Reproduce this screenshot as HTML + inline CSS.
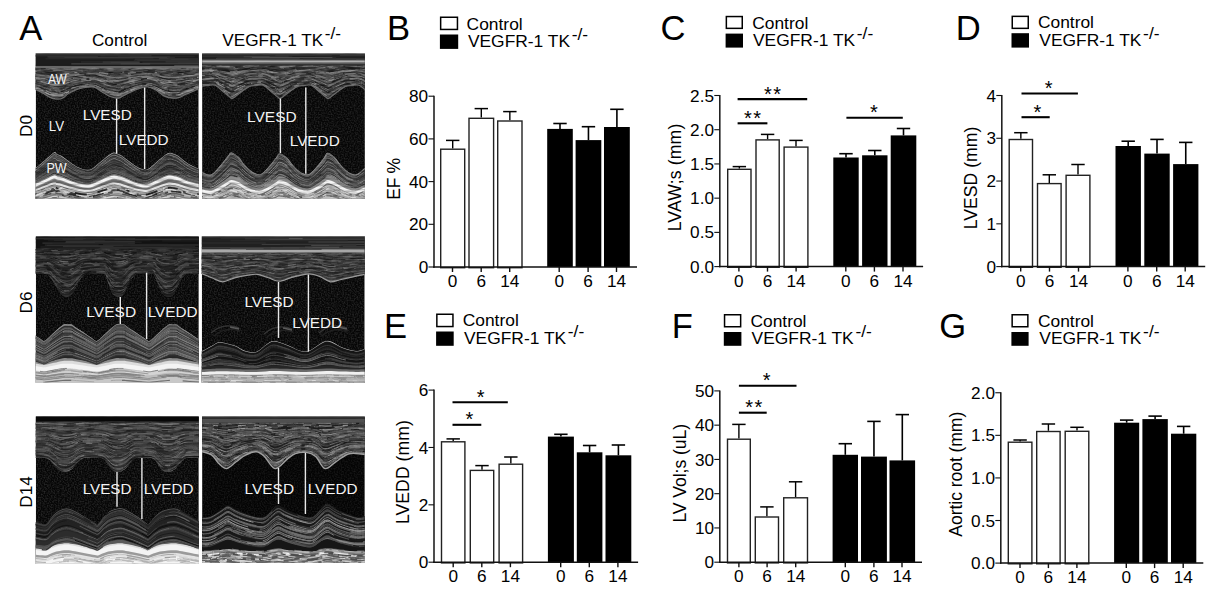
<!DOCTYPE html>
<html><head><meta charset="utf-8"><style>
html,body{margin:0;padding:0;background:#fff;overflow:hidden}
svg{display:block}
text{font-family:"Liberation Sans", sans-serif}
.thin text{stroke:none}
</style></head><body>
<svg width="1224" height="596" viewBox="0 0 1224 596" font-family='"Liberation Sans", sans-serif'>
<rect width="1224" height="596" fill="#fff"/>
<defs><filter id="speck" x="0" y="0" width="100%" height="100%"><feTurbulence type="fractalNoise" baseFrequency="0.7" numOctaves="1" seed="3"/><feColorMatrix type="matrix" values="0 0 0 0 0.3  0 0 0 0 0.3  0 0 0 0 0.3  2.4 0 0 0 -0.9"/></filter>
<filter id="streakD" x="0" y="0" width="100%" height="100%"><feTurbulence type="fractalNoise" baseFrequency="0.07 0.5" numOctaves="2" seed="7"/><feColorMatrix type="matrix" values="0 0 0 0 0  0 0 0 0 0  0 0 0 0 0  3 0 0 0 -1.3"/></filter>
<filter id="streakL" x="0" y="0" width="100%" height="100%"><feTurbulence type="fractalNoise" baseFrequency="0.07 0.5" numOctaves="2" seed="11"/><feColorMatrix type="matrix" values="0 0 0 0 1  0 0 0 0 1  0 0 0 0 1  0 3 0 0 -1.4"/></filter>
<clipPath id="c0"><rect x="35.7" y="53.3" width="163.00" height="145.30"/></clipPath>
<path id="a0" d="M31.7,89.8C32.4,89.8 33.8,89.2 35.7,89.8C37.7,90.4 40.7,92.1 43.4,93.5C46.1,94.9 49,97.3 51.8,98.2C54.6,99.1 58.1,99.2 60.2,99C62.3,98.8 63,97.8 64.4,96.9C65.8,96 66.4,94.7 68.5,93.5C70.6,92.3 74.1,90.5 76.9,89.5C79.7,88.5 83,87.8 85.3,87.3C87.6,86.8 89.3,86.8 91,86.8C92.7,86.8 93.7,86.8 95.5,87.6C97.3,88.4 99.7,90.4 102.1,91.9C104.5,93.4 107.3,95.5 110,96.5C112.7,97.5 116.3,98.3 118.4,98.2C120.5,98.1 120.5,97.1 122.6,96.1C124.7,95 128.2,93.2 131,91.9C133.8,90.6 136.6,89.3 139.4,88.5C142.2,87.7 145,86.5 147.8,86.8C150.6,87.1 153.3,88.7 156.1,90.2C158.9,91.8 161.7,94.8 164.5,96.1C167.3,97.4 170.4,98 172.9,98.2C175.4,98.4 177.5,97.9 179.6,97.3C181.7,96.7 183.1,95.5 185.5,94.4C187.9,93.4 191.7,92 193.9,91C196.1,90 197.2,89.1 198.7,88.7C200.2,88.3 202,88.7 202.7,88.7" vector-effect="non-scaling-stroke"/>
<path id="p0" d="M31.7,167.6C32.4,167.6 33.6,168.8 35.7,167.6C37.8,166.4 41.2,163.2 44.2,160.7C47.2,158.2 51.8,153.5 53.9,152.4C56,151.3 55.8,153.6 57.1,154.2C58.4,154.8 59.3,154.5 61.8,156.1C64.3,157.7 68.7,161.4 71.9,163.5C75.1,165.6 78,167.5 81.1,168.5C84.2,169.5 87.3,170.4 90.4,169.4C93.5,168.4 96.5,164.9 99.6,162.5C102.7,160.1 106.4,156.8 108.8,155.1C111.2,153.4 112.4,152.8 113.9,152.6C115.4,152.4 116.7,153.5 118,154C119.3,154.5 119.2,154 121.5,155.5C123.8,157 128.3,160.8 131.5,163C134.7,165.2 137.8,167.5 140.5,168.5C143.2,169.5 144.8,170.3 147.5,169.2C150.2,168.1 153.6,164.4 156.5,162C159.4,159.6 162.8,156.5 165,155C167.2,153.5 168.3,153 169.8,152.8C171.3,152.6 172.6,153.5 174,154C175.4,154.5 175.7,154.2 178,155.8C180.3,157.4 184.6,161.4 188,163.5C191.4,165.6 196.2,167.7 198.7,168.5C201.1,169.3 202,168.5 202.7,168.5" vector-effect="non-scaling-stroke"/>
<path id="af0" d="M202.7,-2907.1 L31.7,-2907.1 L31.7,89.8C32.4,89.8 33.8,89.2 35.7,89.8C37.7,90.4 40.7,92.1 43.4,93.5C46.1,94.9 49,97.3 51.8,98.2C54.6,99.1 58.1,99.2 60.2,99C62.3,98.8 63,97.8 64.4,96.9C65.8,96 66.4,94.7 68.5,93.5C70.6,92.3 74.1,90.5 76.9,89.5C79.7,88.5 83,87.8 85.3,87.3C87.6,86.8 89.3,86.8 91,86.8C92.7,86.8 93.7,86.8 95.5,87.6C97.3,88.4 99.7,90.4 102.1,91.9C104.5,93.4 107.3,95.5 110,96.5C112.7,97.5 116.3,98.3 118.4,98.2C120.5,98.1 120.5,97.1 122.6,96.1C124.7,95 128.2,93.2 131,91.9C133.8,90.6 136.6,89.3 139.4,88.5C142.2,87.7 145,86.5 147.8,86.8C150.6,87.1 153.3,88.7 156.1,90.2C158.9,91.8 161.7,94.8 164.5,96.1C167.3,97.4 170.4,98 172.9,98.2C175.4,98.4 177.5,97.9 179.6,97.3C181.7,96.7 183.1,95.5 185.5,94.4C187.9,93.4 191.7,92 193.9,91C196.1,90 197.2,89.1 198.7,88.7C200.2,88.3 202,88.7 202.7,88.7Z"/>
<path id="pf0" d="M31.7,167.6C32.4,167.6 33.6,168.8 35.7,167.6C37.8,166.4 41.2,163.2 44.2,160.7C47.2,158.2 51.8,153.5 53.9,152.4C56,151.3 55.8,153.6 57.1,154.2C58.4,154.8 59.3,154.5 61.8,156.1C64.3,157.7 68.7,161.4 71.9,163.5C75.1,165.6 78,167.5 81.1,168.5C84.2,169.5 87.3,170.4 90.4,169.4C93.5,168.4 96.5,164.9 99.6,162.5C102.7,160.1 106.4,156.8 108.8,155.1C111.2,153.4 112.4,152.8 113.9,152.6C115.4,152.4 116.7,153.5 118,154C119.3,154.5 119.2,154 121.5,155.5C123.8,157 128.3,160.8 131.5,163C134.7,165.2 137.8,167.5 140.5,168.5C143.2,169.5 144.8,170.3 147.5,169.2C150.2,168.1 153.6,164.4 156.5,162C159.4,159.6 162.8,156.5 165,155C167.2,153.5 168.3,153 169.8,152.8C171.3,152.6 172.6,153.5 174,154C175.4,154.5 175.7,154.2 178,155.8C180.3,157.4 184.6,161.4 188,163.5C191.4,165.6 196.2,167.7 198.7,168.5C201.1,169.3 202,168.5 202.7,168.5 L202.7,3160.9 L31.7,3160.9Z"/>
<clipPath id="c0aw"><use href="#af0"/></clipPath>
<clipPath id="c0pw"><use href="#pf0"/></clipPath>
<clipPath id="c1"><rect x="202.1" y="53.4" width="162.80" height="145.20"/></clipPath>
<path id="a1" d="M182.6,97.8C182.8,97.9 183.6,98.6 184.1,98.6C184.6,98.6 184.2,98.8 185.6,97.8C187,96.8 189.9,94.3 192.6,92.4C195.3,90.5 199,87.5 201.6,86.4C204.2,85.3 205.8,85.8 208.1,85.6C210.3,85.4 212.5,84.2 215.1,85.3C217.7,86.4 221,89.9 223.6,92C226.2,94.1 229.2,96.7 230.6,97.8C232,98.9 231.6,98.6 232.1,98.6C232.6,98.6 232.2,98.8 233.6,97.8C235,96.8 237.9,94.3 240.6,92.4C243.3,90.5 247,87.5 249.6,86.4C252.2,85.3 253.9,85.8 256.1,85.6C258.4,85.4 260.5,84.2 263.1,85.3C265.7,86.4 269,89.9 271.6,92C274.2,94.1 277.2,96.7 278.6,97.8C280,98.9 279.6,98.6 280.1,98.6C280.6,98.6 280.2,98.8 281.6,97.8C283,96.8 285.9,94.3 288.6,92.4C291.3,90.5 295,87.5 297.6,86.4C300.2,85.3 301.9,85.8 304.1,85.6C306.4,85.4 308.5,84.2 311.1,85.3C313.7,86.4 317,89.9 319.6,92C322.2,94.1 325.2,96.7 326.6,97.8C328,98.9 327.6,98.6 328.1,98.6C328.6,98.6 328.2,98.8 329.6,97.8C331,96.8 333.9,94.3 336.6,92.4C339.3,90.5 343,87.5 345.6,86.4C348.2,85.3 349.9,85.8 352.1,85.6C354.4,85.4 356.5,84.2 359.1,85.3C361.7,86.4 365,89.9 367.6,92C370.2,94.1 373.2,96.7 374.6,97.8C376,98.9 375.6,98.6 376.1,98.6C376.6,98.6 376.2,98.8 377.6,97.8C379,96.8 383.4,93.3 384.6,92.4" vector-effect="non-scaling-stroke"/>
<path id="p1" d="M198.1,172.2C198.8,172.2 199.9,171.8 202.1,172.2C204.3,172.6 208.1,175.7 211.2,174.5C214.3,173.3 217.7,168.4 220.5,165.3C223.3,162.2 226,158.2 227.8,156.1C229.6,153.9 229.7,152.2 231.5,152.4C233.3,152.6 236.9,155.2 238.9,157C240.9,158.8 241.5,161.2 243.5,163.5C245.5,165.8 248.6,169 250.9,170.8C253.2,172.6 255.5,173.6 257.4,174.1C259.2,174.6 260.2,174.8 262,173.6C263.8,172.4 266.1,169.7 268.4,167.1C270.7,164.5 273.9,160.2 275.8,157.9C277.7,155.6 277.6,153.3 279.5,153.2C281.4,153.1 284.9,155.7 287,157.5C289.1,159.3 290,161.8 292,164C294,166.2 296.8,169.3 299,171C301.2,172.7 303.7,173.9 305.5,174.3C307.3,174.7 308.2,174.8 310,173.6C311.8,172.4 314.1,169.7 316.4,167.1C318.7,164.5 321.9,160.3 323.8,157.9C325.7,155.5 325.8,152.9 327.7,152.8C329.6,152.7 332.9,155.6 335,157.5C337.1,159.4 338,161.8 340,164C342,166.2 344.8,169.3 347,171C349.2,172.7 351.7,173.9 353.5,174.3C355.3,174.7 356.1,174.7 358,173.6C359.9,172.5 363.1,168.9 364.9,168C366.7,167.1 368.2,168 368.9,168" vector-effect="non-scaling-stroke"/>
<path id="af1" d="M368.9,-2908.1 L198.1,-2908.1 L182.6,97.8C182.8,97.9 183.6,98.6 184.1,98.6C184.6,98.6 184.2,98.8 185.6,97.8C187,96.8 189.9,94.3 192.6,92.4C195.3,90.5 199,87.5 201.6,86.4C204.2,85.3 205.8,85.8 208.1,85.6C210.3,85.4 212.5,84.2 215.1,85.3C217.7,86.4 221,89.9 223.6,92C226.2,94.1 229.2,96.7 230.6,97.8C232,98.9 231.6,98.6 232.1,98.6C232.6,98.6 232.2,98.8 233.6,97.8C235,96.8 237.9,94.3 240.6,92.4C243.3,90.5 247,87.5 249.6,86.4C252.2,85.3 253.9,85.8 256.1,85.6C258.4,85.4 260.5,84.2 263.1,85.3C265.7,86.4 269,89.9 271.6,92C274.2,94.1 277.2,96.7 278.6,97.8C280,98.9 279.6,98.6 280.1,98.6C280.6,98.6 280.2,98.8 281.6,97.8C283,96.8 285.9,94.3 288.6,92.4C291.3,90.5 295,87.5 297.6,86.4C300.2,85.3 301.9,85.8 304.1,85.6C306.4,85.4 308.5,84.2 311.1,85.3C313.7,86.4 317,89.9 319.6,92C322.2,94.1 325.2,96.7 326.6,97.8C328,98.9 327.6,98.6 328.1,98.6C328.6,98.6 328.2,98.8 329.6,97.8C331,96.8 333.9,94.3 336.6,92.4C339.3,90.5 343,87.5 345.6,86.4C348.2,85.3 349.9,85.8 352.1,85.6C354.4,85.4 356.5,84.2 359.1,85.3C361.7,86.4 365,89.9 367.6,92C370.2,94.1 373.2,96.7 374.6,97.8C376,98.9 375.6,98.6 376.1,98.6C376.6,98.6 376.2,98.8 377.6,97.8C379,96.8 383.4,93.3 384.6,92.4Z"/>
<path id="pf1" d="M198.1,172.2C198.8,172.2 199.9,171.8 202.1,172.2C204.3,172.6 208.1,175.7 211.2,174.5C214.3,173.3 217.7,168.4 220.5,165.3C223.3,162.2 226,158.2 227.8,156.1C229.6,153.9 229.7,152.2 231.5,152.4C233.3,152.6 236.9,155.2 238.9,157C240.9,158.8 241.5,161.2 243.5,163.5C245.5,165.8 248.6,169 250.9,170.8C253.2,172.6 255.5,173.6 257.4,174.1C259.2,174.6 260.2,174.8 262,173.6C263.8,172.4 266.1,169.7 268.4,167.1C270.7,164.5 273.9,160.2 275.8,157.9C277.7,155.6 277.6,153.3 279.5,153.2C281.4,153.1 284.9,155.7 287,157.5C289.1,159.3 290,161.8 292,164C294,166.2 296.8,169.3 299,171C301.2,172.7 303.7,173.9 305.5,174.3C307.3,174.7 308.2,174.8 310,173.6C311.8,172.4 314.1,169.7 316.4,167.1C318.7,164.5 321.9,160.3 323.8,157.9C325.7,155.5 325.8,152.9 327.7,152.8C329.6,152.7 332.9,155.6 335,157.5C337.1,159.4 338,161.8 340,164C342,166.2 344.8,169.3 347,171C349.2,172.7 351.7,173.9 353.5,174.3C355.3,174.7 356.1,174.7 358,173.6C359.9,172.5 363.1,168.9 364.9,168C366.7,167.1 368.2,168 368.9,168 L368.9,3163.4 L198.1,3163.4Z"/>
<clipPath id="c1aw"><use href="#af1"/></clipPath>
<clipPath id="c1pw"><use href="#pf1"/></clipPath>
<clipPath id="c2"><rect x="35.8" y="236.5" width="163.00" height="146.10"/></clipPath>
<path id="a2" d="M31.8,273.8C32.5,273.8 33.8,273.8 35.8,273.8C37.8,273.8 41.6,273.3 44,273.8C46.4,274.3 48.2,275.1 50,277C51.8,278.9 53.3,282.3 55,285C56.7,287.7 58.5,291.1 60,293C61.5,294.9 62.7,295.9 64,296.5C65.3,297.1 66.7,297.2 68,296.8C69.3,296.4 70.5,295.8 72,294C73.5,292.2 75.3,288.8 77,286C78.7,283.2 80.2,279 82,277C83.8,275 84.3,274.3 88,273.8C91.7,273.3 101,273.3 104,273.8C107,274.3 105.2,275.1 106,277C106.8,278.9 108,282.3 109,285C110,287.7 110.8,291.1 112,293C113.2,294.9 114.7,295.9 116,296.5C117.3,297.1 118.7,297.2 120,296.8C121.3,296.4 122.7,295.8 124,294C125.3,292.2 126.5,288.8 128,286C129.5,283.2 131.3,279 133,277C134.7,275 134.8,274.3 138,273.8C141.2,273.3 149.2,273.3 152,273.8C154.8,274.3 154,275.1 155,277C156,278.9 156.8,282.3 158,285C159.2,287.7 160.7,291.1 162,293C163.3,294.9 164.7,295.9 166,296.5C167.3,297.1 168.7,297.2 170,296.8C171.3,296.4 172.7,295.8 174,294C175.3,292.2 176.5,288.8 178,286C179.5,283.2 181.3,279 183,277C184.7,275 185.4,274.3 188,273.8C190.6,273.3 196.3,273.8 198.8,273.8C201.3,273.8 202.1,273.8 202.8,273.8" vector-effect="non-scaling-stroke"/>
<path id="p2" d="M31.8,333.5C31.9,333.5 30.7,332.3 32.5,333.5C34.3,334.7 40.7,339.2 42.7,340.5C44.7,341.8 43.6,341.1 44.3,341C44.9,340.9 45,341 46.6,339.6C48.2,338.2 51.3,334.9 54,332.5C56.7,330.1 60.6,326.4 62.8,325C65,323.6 65.9,324.3 67.4,324.2C68.9,324.1 70.8,324.2 72,324.6C73.2,325 72.2,325.1 74.4,326.6C76.6,328.1 81.5,331.2 85,333.5C88.5,335.8 93.2,339.2 95.2,340.5C97.2,341.8 96.2,341.1 96.8,341C97.4,340.9 97.5,341 99.1,339.6C100.7,338.2 103.8,334.9 106.5,332.5C109.2,330.1 113.1,326.4 115.3,325C117.5,323.6 118.4,324.3 119.9,324.2C121.4,324.1 123.3,324.2 124.5,324.6C125.7,325 124.7,325.1 126.9,326.6C129.1,328.1 134,331.2 137.5,333.5C141,335.8 145.7,339.2 147.7,340.5C149.7,341.8 148.7,341.1 149.3,341C150,340.9 150,341 151.6,339.6C153.2,338.2 156.3,334.9 159,332.5C161.7,330.1 165.6,326.4 167.8,325C170,323.6 170.9,324.3 172.4,324.2C173.9,324.1 175.8,324.2 177,324.6C178.2,325 177.2,325.1 179.4,326.6C181.6,328.1 186.5,331.2 190,333.5C193.5,335.8 198.2,339.2 200.2,340.5C202.2,341.8 201.2,341.1 201.8,341C202.5,340.9 203.7,339.8 204.1,339.6" vector-effect="non-scaling-stroke"/>
<path id="af2" d="M202.8,-2714.7 L31.8,-2714.7 L31.8,273.8C32.5,273.8 33.8,273.8 35.8,273.8C37.8,273.8 41.6,273.3 44,273.8C46.4,274.3 48.2,275.1 50,277C51.8,278.9 53.3,282.3 55,285C56.7,287.7 58.5,291.1 60,293C61.5,294.9 62.7,295.9 64,296.5C65.3,297.1 66.7,297.2 68,296.8C69.3,296.4 70.5,295.8 72,294C73.5,292.2 75.3,288.8 77,286C78.7,283.2 80.2,279 82,277C83.8,275 84.3,274.3 88,273.8C91.7,273.3 101,273.3 104,273.8C107,274.3 105.2,275.1 106,277C106.8,278.9 108,282.3 109,285C110,287.7 110.8,291.1 112,293C113.2,294.9 114.7,295.9 116,296.5C117.3,297.1 118.7,297.2 120,296.8C121.3,296.4 122.7,295.8 124,294C125.3,292.2 126.5,288.8 128,286C129.5,283.2 131.3,279 133,277C134.7,275 134.8,274.3 138,273.8C141.2,273.3 149.2,273.3 152,273.8C154.8,274.3 154,275.1 155,277C156,278.9 156.8,282.3 158,285C159.2,287.7 160.7,291.1 162,293C163.3,294.9 164.7,295.9 166,296.5C167.3,297.1 168.7,297.2 170,296.8C171.3,296.4 172.7,295.8 174,294C175.3,292.2 176.5,288.8 178,286C179.5,283.2 181.3,279 183,277C184.7,275 185.4,274.3 188,273.8C190.6,273.3 196.3,273.8 198.8,273.8C201.3,273.8 202.1,273.8 202.8,273.8Z"/>
<path id="pf2" d="M31.8,333.5C31.9,333.5 30.7,332.3 32.5,333.5C34.3,334.7 40.7,339.2 42.7,340.5C44.7,341.8 43.6,341.1 44.3,341C44.9,340.9 45,341 46.6,339.6C48.2,338.2 51.3,334.9 54,332.5C56.7,330.1 60.6,326.4 62.8,325C65,323.6 65.9,324.3 67.4,324.2C68.9,324.1 70.8,324.2 72,324.6C73.2,325 72.2,325.1 74.4,326.6C76.6,328.1 81.5,331.2 85,333.5C88.5,335.8 93.2,339.2 95.2,340.5C97.2,341.8 96.2,341.1 96.8,341C97.4,340.9 97.5,341 99.1,339.6C100.7,338.2 103.8,334.9 106.5,332.5C109.2,330.1 113.1,326.4 115.3,325C117.5,323.6 118.4,324.3 119.9,324.2C121.4,324.1 123.3,324.2 124.5,324.6C125.7,325 124.7,325.1 126.9,326.6C129.1,328.1 134,331.2 137.5,333.5C141,335.8 145.7,339.2 147.7,340.5C149.7,341.8 148.7,341.1 149.3,341C150,340.9 150,341 151.6,339.6C153.2,338.2 156.3,334.9 159,332.5C161.7,330.1 165.6,326.4 167.8,325C170,323.6 170.9,324.3 172.4,324.2C173.9,324.1 175.8,324.2 177,324.6C178.2,325 177.2,325.1 179.4,326.6C181.6,328.1 186.5,331.2 190,333.5C193.5,335.8 198.2,339.2 200.2,340.5C202.2,341.8 201.2,341.1 201.8,341C202.5,340.9 203.7,339.8 204.1,339.6 L202.8,3332.6 L31.8,3332.6Z"/>
<clipPath id="c2aw"><use href="#af2"/></clipPath>
<clipPath id="c2pw"><use href="#pf2"/></clipPath>
<clipPath id="c3"><rect x="201.8" y="236.3" width="162.90" height="146.30"/></clipPath>
<path id="a3" d="M197.8,273.8C198.5,273.8 199.5,273.1 201.8,273.8C204.1,274.5 208.3,276.5 211.8,277.8C215.3,279.1 218.8,281.8 222.6,281.8C226.4,281.8 230.4,278.9 234.7,277.8C239,276.7 244.4,275.7 248.2,275.1C252,274.5 254.2,273.9 257.6,274.4C261,274.8 264.8,276.7 268.4,277.8C272,278.9 275.1,281.3 279.2,281.2C283.2,281.1 287.8,278.3 292.7,277.1C297.6,275.9 304.3,273.9 308.8,273.8C313.3,273.7 316,275.1 319.6,276.4C323.2,277.7 326.6,281.4 330.4,281.8C334.2,282.2 336.8,280.3 342.5,279.1C348.2,277.9 360.3,275.2 364.7,274.4C369.1,273.6 368,274.4 368.7,274.4" vector-effect="non-scaling-stroke"/>
<path id="p3" d="M197.8,351C198.5,351 199.2,352 201.8,351C204.4,350 210.1,346.4 213.1,344.9C216.1,343.4 216.3,342.1 219.9,342.2C223.5,342.3 230.4,344.1 234.7,345.6C239,347.1 241.9,350 245.5,351C249.1,352 252.9,352.7 256.3,351.7C259.7,350.7 262.8,346.7 265.7,344.9C268.6,343.1 270.2,340.9 273.8,340.9C277.4,340.9 281.9,343.1 287.3,344.9C292.7,346.6 299.6,352.1 306.1,351.4C312.6,350.7 320.3,341.5 326.4,340.9C332.5,340.3 337.6,345.9 342.5,347.6C347.4,349.3 352.3,350.8 356,351C359.7,351.2 362.6,349.3 364.7,349C366.8,348.7 368,349 368.7,349" vector-effect="non-scaling-stroke"/>
<path id="af3" d="M368.7,-2722.2 L197.8,-2722.2 L197.8,273.8C198.5,273.8 199.5,273.1 201.8,273.8C204.1,274.5 208.3,276.5 211.8,277.8C215.3,279.1 218.8,281.8 222.6,281.8C226.4,281.8 230.4,278.9 234.7,277.8C239,276.7 244.4,275.7 248.2,275.1C252,274.5 254.2,273.9 257.6,274.4C261,274.8 264.8,276.7 268.4,277.8C272,278.9 275.1,281.3 279.2,281.2C283.2,281.1 287.8,278.3 292.7,277.1C297.6,275.9 304.3,273.9 308.8,273.8C313.3,273.7 316,275.1 319.6,276.4C323.2,277.7 326.6,281.4 330.4,281.8C334.2,282.2 336.8,280.3 342.5,279.1C348.2,277.9 360.3,275.2 364.7,274.4C369.1,273.6 368,274.4 368.7,274.4Z"/>
<path id="pf3" d="M197.8,351C198.5,351 199.2,352 201.8,351C204.4,350 210.1,346.4 213.1,344.9C216.1,343.4 216.3,342.1 219.9,342.2C223.5,342.3 230.4,344.1 234.7,345.6C239,347.1 241.9,350 245.5,351C249.1,352 252.9,352.7 256.3,351.7C259.7,350.7 262.8,346.7 265.7,344.9C268.6,343.1 270.2,340.9 273.8,340.9C277.4,340.9 281.9,343.1 287.3,344.9C292.7,346.6 299.6,352.1 306.1,351.4C312.6,350.7 320.3,341.5 326.4,340.9C332.5,340.3 337.6,345.9 342.5,347.6C347.4,349.3 352.3,350.8 356,351C359.7,351.2 362.6,349.3 364.7,349C366.8,348.7 368,349 368.7,349 L368.7,3346.3 L197.8,3346.3Z"/>
<clipPath id="c3aw"><use href="#af3"/></clipPath>
<clipPath id="c3pw"><use href="#pf3"/></clipPath>
<clipPath id="c4"><rect x="35.8" y="416.4" width="163.00" height="147.10"/></clipPath>
<path id="a4" d="M31.8,457.8C32.5,457.8 33.8,457.8 35.8,457.8C37.8,457.8 41.6,457.4 44,457.8C46.4,458.2 48.2,459.1 50,460.5C51.8,461.9 53.3,464.3 55,466C56.7,467.7 58.5,469.5 60,470.5C61.5,471.5 62.7,471.6 64,471.8C65.3,472 66.5,472.1 68,471.5C69.5,470.9 71.3,469.6 73,468C74.7,466.4 76.3,463.6 78,462C79.7,460.4 81.3,459.2 83,458.5C84.7,457.8 85.2,457.9 88,457.8C90.8,457.7 97.2,457.4 100,457.8C102.8,458.2 103.5,459.1 105,460.5C106.5,461.9 107.7,464.3 109,466C110.3,467.7 111.7,469.5 113,470.5C114.3,471.5 115.7,471.6 117,471.8C118.3,472 119.5,472.1 121,471.5C122.5,470.9 124.3,469.6 126,468C127.7,466.4 129.5,463.6 131,462C132.5,460.4 133.5,459.2 135,458.5C136.5,457.8 137.5,457.9 140,457.8C142.5,457.7 147.5,457.4 150,457.8C152.5,458.2 153.5,459.1 155,460.5C156.5,461.9 157.7,464.3 159,466C160.3,467.7 161.7,469.5 163,470.5C164.3,471.5 165.7,471.6 167,471.8C168.3,472 169.5,472.1 171,471.5C172.5,470.9 174.3,469.6 176,468C177.7,466.4 179.5,463.6 181,462C182.5,460.4 183.5,459.2 185,458.5C186.5,457.8 187.7,457.9 190,457.8C192.3,457.7 196.7,457.8 198.8,457.8C200.9,457.8 202.1,457.8 202.8,457.8" vector-effect="non-scaling-stroke"/>
<path id="p4" d="M31.8,522C32.5,522 33.4,521.7 35.8,522C38.2,522.3 43.3,524.9 46,524C48.7,523.1 50,518.7 52,516.5C54,514.3 55.6,512.4 58,511C60.4,509.6 63.7,507.9 66.5,507.9C69.3,507.9 71.9,509.5 75,511C78.1,512.5 81.7,515 85,517C88.3,519 92.8,521.8 95,523C97.2,524.2 96.5,525.1 98,524C99.5,522.9 102,518.7 104,516.5C106,514.3 107.3,512.4 110,511C112.7,509.6 117.2,507.9 120.2,507.9C123.2,507.9 125,509.5 128,511C131,512.5 135,515 138,517C141,519 144.2,521.8 146,523C147.8,524.2 147.1,525.1 148.6,524C150.1,522.9 152.8,518.7 155,516.5C157.2,514.3 158.9,512.4 162,511C165.1,509.6 170.5,507.9 173.8,507.9C177.1,507.9 179,509.5 182,511C185,512.5 189.2,515.3 192,517C194.8,518.7 197,520.3 198.8,521C200.6,521.7 202.1,521 202.8,521" vector-effect="non-scaling-stroke"/>
<path id="af4" d="M202.8,-2535.2 L31.8,-2535.2 L31.8,457.8C32.5,457.8 33.8,457.8 35.8,457.8C37.8,457.8 41.6,457.4 44,457.8C46.4,458.2 48.2,459.1 50,460.5C51.8,461.9 53.3,464.3 55,466C56.7,467.7 58.5,469.5 60,470.5C61.5,471.5 62.7,471.6 64,471.8C65.3,472 66.5,472.1 68,471.5C69.5,470.9 71.3,469.6 73,468C74.7,466.4 76.3,463.6 78,462C79.7,460.4 81.3,459.2 83,458.5C84.7,457.8 85.2,457.9 88,457.8C90.8,457.7 97.2,457.4 100,457.8C102.8,458.2 103.5,459.1 105,460.5C106.5,461.9 107.7,464.3 109,466C110.3,467.7 111.7,469.5 113,470.5C114.3,471.5 115.7,471.6 117,471.8C118.3,472 119.5,472.1 121,471.5C122.5,470.9 124.3,469.6 126,468C127.7,466.4 129.5,463.6 131,462C132.5,460.4 133.5,459.2 135,458.5C136.5,457.8 137.5,457.9 140,457.8C142.5,457.7 147.5,457.4 150,457.8C152.5,458.2 153.5,459.1 155,460.5C156.5,461.9 157.7,464.3 159,466C160.3,467.7 161.7,469.5 163,470.5C164.3,471.5 165.7,471.6 167,471.8C168.3,472 169.5,472.1 171,471.5C172.5,470.9 174.3,469.6 176,468C177.7,466.4 179.5,463.6 181,462C182.5,460.4 183.5,459.2 185,458.5C186.5,457.8 187.7,457.9 190,457.8C192.3,457.7 196.7,457.8 198.8,457.8C200.9,457.8 202.1,457.8 202.8,457.8Z"/>
<path id="pf4" d="M31.8,522C32.5,522 33.4,521.7 35.8,522C38.2,522.3 43.3,524.9 46,524C48.7,523.1 50,518.7 52,516.5C54,514.3 55.6,512.4 58,511C60.4,509.6 63.7,507.9 66.5,507.9C69.3,507.9 71.9,509.5 75,511C78.1,512.5 81.7,515 85,517C88.3,519 92.8,521.8 95,523C97.2,524.2 96.5,525.1 98,524C99.5,522.9 102,518.7 104,516.5C106,514.3 107.3,512.4 110,511C112.7,509.6 117.2,507.9 120.2,507.9C123.2,507.9 125,509.5 128,511C131,512.5 135,515 138,517C141,519 144.2,521.8 146,523C147.8,524.2 147.1,525.1 148.6,524C150.1,522.9 152.8,518.7 155,516.5C157.2,514.3 158.9,512.4 162,511C165.1,509.6 170.5,507.9 173.8,507.9C177.1,507.9 179,509.5 182,511C185,512.5 189.2,515.3 192,517C194.8,518.7 197,520.3 198.8,521C200.6,521.7 202.1,521 202.8,521 L202.8,3515.9 L31.8,3515.9Z"/>
<clipPath id="c4aw"><use href="#af4"/></clipPath>
<clipPath id="c4pw"><use href="#pf4"/></clipPath>
<clipPath id="c5"><rect x="202.1" y="416.4" width="162.70" height="146.40"/></clipPath>
<path id="a5" d="M198.1,451.7C198.8,451.7 199.8,451.1 202.1,451.7C204.4,452.3 209.1,453.2 211.8,455.1C214.5,457 216,460.9 218.5,463.2C221,465.4 223.7,468.8 226.6,468.6C229.5,468.4 232.9,464.1 236.1,461.8C239.2,459.6 242.1,456.8 245.5,455.1C248.9,453.4 253.2,451.5 256.3,451.7C259.4,451.9 261.3,453.6 264.4,456.4C267.5,459.2 271.3,468.2 275.1,468.6C278.9,469.1 283.9,461.6 287.3,459.1C290.7,456.6 292.3,454.8 295.4,453.7C298.5,452.6 302.7,451.9 306.1,452.4C309.5,452.8 312.5,453.7 315.6,456.4C318.8,459.1 321.6,467.7 325,468.6C328.4,469.5 331.8,464.3 335.8,461.8C339.9,459.3 344.5,454.9 349.3,453.7C354.1,452.5 361.6,454.3 364.8,454.4C368.1,454.5 368.1,454.4 368.8,454.4" vector-effect="non-scaling-stroke"/>
<path id="p5" d="M198.1,517C198.8,517 201.1,517 202.1,517C203.1,517 202.8,517.4 204.2,517.3C205.6,517.2 208.4,517.1 210.5,516.3C212.6,515.5 214.9,513.8 216.8,512.6C218.7,511.4 220.2,510.2 222,509C223.8,507.8 225.8,505.4 227.8,505.3C229.8,505.2 231.9,507.5 234,508.6C236.1,509.7 237.5,510.6 240.4,511.8C243.3,513 248.1,514.8 251.5,515.7C254.9,516.7 258.5,517.5 261,517.5C263.5,517.5 264.6,516.8 266.5,515.5C268.4,514.2 270.5,511.2 272.5,509.5C274.5,507.8 276.3,505.4 278.3,505.3C280.3,505.2 282.4,507.5 284.5,508.6C286.6,509.7 288.1,510.6 291,511.8C293.9,513 298.9,514.8 302,515.7C305.1,516.6 307.6,517.4 309.8,517.3C312,517.2 313.1,516.5 315,515C316.9,513.5 319,510.4 321,508.5C323,506.6 325.1,504 327.2,503.8C329.3,503.6 331.4,506.2 333.5,507.5C335.6,508.8 337.1,510 340,511.3C342.9,512.6 348,514.5 351,515.5C354,516.5 355.7,517.1 358,517.3C360.3,517.5 363,516.6 364.8,516.5C366.6,516.4 368.1,516.5 368.8,516.5" vector-effect="non-scaling-stroke"/>
<path id="af5" d="M368.8,-2539.8 L198.1,-2539.8 L198.1,451.7C198.8,451.7 199.8,451.1 202.1,451.7C204.4,452.3 209.1,453.2 211.8,455.1C214.5,457 216,460.9 218.5,463.2C221,465.4 223.7,468.8 226.6,468.6C229.5,468.4 232.9,464.1 236.1,461.8C239.2,459.6 242.1,456.8 245.5,455.1C248.9,453.4 253.2,451.5 256.3,451.7C259.4,451.9 261.3,453.6 264.4,456.4C267.5,459.2 271.3,468.2 275.1,468.6C278.9,469.1 283.9,461.6 287.3,459.1C290.7,456.6 292.3,454.8 295.4,453.7C298.5,452.6 302.7,451.9 306.1,452.4C309.5,452.8 312.5,453.7 315.6,456.4C318.8,459.1 321.6,467.7 325,468.6C328.4,469.5 331.8,464.3 335.8,461.8C339.9,459.3 344.5,454.9 349.3,453.7C354.1,452.5 361.6,454.3 364.8,454.4C368.1,454.5 368.1,454.4 368.8,454.4Z"/>
<path id="pf5" d="M198.1,517C198.8,517 201.1,517 202.1,517C203.1,517 202.8,517.4 204.2,517.3C205.6,517.2 208.4,517.1 210.5,516.3C212.6,515.5 214.9,513.8 216.8,512.6C218.7,511.4 220.2,510.2 222,509C223.8,507.8 225.8,505.4 227.8,505.3C229.8,505.2 231.9,507.5 234,508.6C236.1,509.7 237.5,510.6 240.4,511.8C243.3,513 248.1,514.8 251.5,515.7C254.9,516.7 258.5,517.5 261,517.5C263.5,517.5 264.6,516.8 266.5,515.5C268.4,514.2 270.5,511.2 272.5,509.5C274.5,507.8 276.3,505.4 278.3,505.3C280.3,505.2 282.4,507.5 284.5,508.6C286.6,509.7 288.1,510.6 291,511.8C293.9,513 298.9,514.8 302,515.7C305.1,516.6 307.6,517.4 309.8,517.3C312,517.2 313.1,516.5 315,515C316.9,513.5 319,510.4 321,508.5C323,506.6 325.1,504 327.2,503.8C329.3,503.6 331.4,506.2 333.5,507.5C335.6,508.8 337.1,510 340,511.3C342.9,512.6 348,514.5 351,515.5C354,516.5 355.7,517.1 358,517.3C360.3,517.5 363,516.6 364.8,516.5C366.6,516.4 368.1,516.5 368.8,516.5 L368.8,3510.7 L198.1,3510.7Z"/>
<clipPath id="c5aw"><use href="#af5"/></clipPath>
<clipPath id="c5pw"><use href="#pf5"/></clipPath></defs>
<g clip-path="url(#c0)">
<rect x="35.7" y="53.3" width="163.00" height="145.30" fill="#060606"/>
<rect x="35.7" y="53.3" width="163.00" height="145.30" filter="url(#speck)" opacity="0.24"/>
<use href="#af0" fill="#343434"/>
<g clip-path="url(#c0aw)">
<use href="#a0" fill="none" stroke="#212121" stroke-width="1.3" stroke-dasharray="8 10 7 10 8 7" stroke-dashoffset="190" transform="matrix(1,0,0,0.333,0,45.08)"/>
<use href="#a0" fill="none" stroke="#232323" stroke-width="1.2" stroke-dasharray="16 7 22 3 11 7" stroke-dashoffset="67" transform="matrix(1,0,0,0.365,0,43.21)"/>
<use href="#a0" fill="none" stroke="#898989" stroke-width="1.0" stroke-dasharray="16 7 11 14 10 18" stroke-dashoffset="109" transform="matrix(1,0,0,0.844,0,15.23)"/>
<use href="#a0" fill="none" stroke="#6f6f6f" stroke-width="1.0" stroke-dasharray="16 13 6 14 22 11" stroke-dashoffset="191" transform="matrix(1,0,0,0.704,0,23.42)"/>
<use href="#a0" fill="none" stroke="#2f2f2f" stroke-width="0.9" stroke-dasharray="17 17 20 8 12 9" stroke-dashoffset="95" transform="matrix(1,0,0,0.988,0,6.78)"/>
<use href="#a0" fill="none" stroke="#5d5d5d" stroke-width="1.1" stroke-dasharray="22 11 15 7 21 18" stroke-dashoffset="49" transform="matrix(1,0,0,0.514,0,34.54)"/>
<use href="#a0" fill="none" stroke="#727272" stroke-width="1.3" stroke-dasharray="7 5 16 17 15 3" stroke-dashoffset="11" transform="matrix(1,0,0,0.731,0,21.80)"/>
<use href="#a0" fill="none" stroke="#878787" stroke-width="1.2" stroke-dasharray="18 17 11 8 16 11" stroke-dashoffset="51" transform="matrix(1,0,0,0.302,0,46.88)"/>
<use href="#a0" fill="none" stroke="#333333" stroke-width="1.1" stroke-dasharray="14 19 7 22 10 18" stroke-dashoffset="148" transform="matrix(1,0,0,0.735,0,21.60)"/>
<use href="#a0" fill="none" stroke="#3d3d3d" stroke-width="0.7" stroke-dasharray="4 14 21 21 13 8" stroke-dashoffset="175" transform="matrix(1,0,0,0.732,0,21.79)"/>
<use href="#a0" fill="none" stroke="#7d7d7d" stroke-width="1.2" stroke-dasharray="10 8 5 16 22 20" stroke-dashoffset="112" transform="matrix(1,0,0,0.600,0,29.50)"/>
<use href="#a0" fill="none" stroke="#4c4c4c" stroke-width="1.3" stroke-dasharray="5 19 3 7 12 6" stroke-dashoffset="144" transform="matrix(1,0,0,0.843,0,15.29)"/>
<use href="#a0" fill="none" stroke="#404040" stroke-width="0.7" stroke-dasharray="5 18 19 14 4 3" stroke-dashoffset="143" transform="matrix(1,0,0,0.638,0,27.29)"/>
<use href="#a0" fill="none" stroke="#484848" stroke-width="1.2" stroke-dasharray="19 18 10 9 12 4" stroke-dashoffset="40" transform="matrix(1,0,0,0.973,0,7.69)"/>
<use href="#a0" fill="none" stroke="#363636" stroke-width="1.2" stroke-dasharray="11 16 9 11 16 21" stroke-dashoffset="151" transform="matrix(1,0,0,0.765,0,19.86)"/>
<use href="#a0" fill="none" stroke="#525252" stroke-width="0.7" stroke-dasharray="9 14 16 4 13 15" stroke-dashoffset="11" transform="matrix(1,0,0,0.359,0,43.59)"/>
<use href="#a0" fill="none" stroke="#494949" stroke-width="0.6" stroke-dasharray="3 12 9 17 18 20" stroke-dashoffset="135" transform="matrix(1,0,0,0.640,0,27.15)"/>
<use href="#a0" fill="none" stroke="#343434" stroke-width="0.8" stroke-dasharray="7 7 4 6 14 8" stroke-dashoffset="99" transform="matrix(1,0,0,0.491,0,35.83)"/>
<use href="#a0" fill="none" stroke="#626262" stroke-width="1.1" stroke-dasharray="14 7 6 14 18 17" stroke-dashoffset="111" transform="matrix(1,0,0,0.362,0,43.40)"/>
<use href="#a0" fill="none" stroke="#888888" stroke-width="1.0" stroke-dasharray="20 12 7 4 13 8" stroke-dashoffset="32" transform="matrix(1,0,0,0.139,0,56.42)"/>
<use href="#a0" fill="none" stroke="#444444" stroke-width="1.2" stroke-dasharray="10 7 5 18 14 5" stroke-dashoffset="54" transform="matrix(1,0,0,0.912,0,11.24)"/>
<use href="#a0" fill="none" stroke="#4a4a4a" stroke-width="0.6" stroke-dasharray="10 10 19 17 9 21" stroke-dashoffset="140" transform="matrix(1,0,0,0.142,0,56.24)"/>
<use href="#a0" fill="none" stroke="#4a4a4a" stroke-width="0.7" stroke-dasharray="6 22 7 20 14 20" stroke-dashoffset="139" transform="matrix(1,0,0,0.908,0,11.49)"/>
<use href="#a0" fill="none" stroke="#262626" stroke-width="1.2" stroke-dasharray="5 14 4 3 8 3" stroke-dashoffset="23" transform="matrix(1,0,0,0.368,0,43.04)"/>
<use href="#a0" fill="none" stroke="#242424" stroke-width="0.9" stroke-dasharray="16 8 22 12 4 6" stroke-dashoffset="99" transform="matrix(1,0,0,1.000,0,6.12)"/>
<use href="#a0" fill="none" stroke="#5a5a5a" stroke-width="1.0" stroke-dasharray="11 7 7 17 12 3" stroke-dashoffset="70" transform="matrix(1,0,0,0.524,0,33.92)"/>
<use href="#a0" fill="none" stroke="#393939" stroke-width="1.0" stroke-dasharray="10 14 16 8 18 16" stroke-dashoffset="137" transform="matrix(1,0,0,0.399,0,41.25)"/>
<use href="#a0" fill="none" stroke="#555555" stroke-width="1.0" stroke-dasharray="15 18 9 3 21 4" stroke-dashoffset="32" transform="matrix(1,0,0,0.517,0,34.34)"/>
<use href="#a0" fill="none" stroke="#5a5a5a" stroke-width="1.3" stroke-dasharray="21 7 12 5 18 21" stroke-dashoffset="54" transform="matrix(1,0,0,0.193,0,53.30)"/>
<use href="#a0" fill="none" stroke="#818181" stroke-width="0.7" stroke-dasharray="16 3 20 3 7 12" stroke-dashoffset="13" transform="matrix(1,0,0,0.735,0,21.60)"/>
<use href="#a0" fill="none" stroke="#242424" stroke-width="0.9" stroke-dasharray="16 11 10 18 3 22" stroke-dashoffset="129" transform="matrix(1,0,0,0.759,0,20.20)"/>
<use href="#a0" fill="none" stroke="#707070" stroke-width="0.9" stroke-dasharray="17 13 10 22 4 19" stroke-dashoffset="130" transform="matrix(1,0,0,0.109,0,58.21)"/>
<use href="#a0" fill="none" stroke="#6e6e6e" stroke-width="1.2" stroke-dasharray="6 14 7 17 14 7" stroke-dashoffset="170" transform="matrix(1,0,0,0.766,0,19.75)"/>
<use href="#a0" fill="none" stroke="#262626" stroke-width="1.0" stroke-dasharray="5 11 7 7 8 22" stroke-dashoffset="36" transform="matrix(1,0,0,0.355,0,43.79)"/>
<use href="#a0" fill="none" stroke="#7e7e7e" stroke-width="1.0" stroke-dasharray="19 3 17 14 15 21" stroke-dashoffset="146" transform="matrix(1,0,0,0.649,0,26.61)"/>
<use href="#a0" fill="none" stroke="#6d6d6d" stroke-width="1.3" stroke-dasharray="5 17 19 11 13 15" stroke-dashoffset="175" transform="matrix(1,0,0,0.562,0,31.71)"/>
<use href="#a0" fill="none" stroke="#949494" stroke-width="1.0" stroke-dasharray="21 5 18 16 12 3" stroke-dashoffset="105" transform="matrix(1,0,0,0.395,0,41.49)"/>
<use href="#a0" fill="none" stroke="#5b5b5b" stroke-width="1.4" stroke-dasharray="4 5 11 9 3 7" stroke-dashoffset="135" transform="matrix(1,0,0,0.533,0,33.38)"/>
<use href="#a0" fill="none" stroke="#6b6b6b" stroke-width="1.4" stroke-dasharray="20 12 3 9 5 6" stroke-dashoffset="141" transform="matrix(1,0,0,0.287,0,47.78)"/>
<use href="#a0" fill="none" stroke="#1f1f1f" stroke-width="0.8" stroke-dasharray="9 13 8 3 8 8" stroke-dashoffset="144" transform="matrix(1,0,0,0.448,0,38.37)"/>
<use href="#a0" fill="none" stroke="#262626" stroke-width="0.9" stroke-dasharray="8 16 5 18 19 7" stroke-dashoffset="13" transform="matrix(1,0,0,0.987,0,6.87)"/>
<use href="#a0" fill="none" stroke="#3e3e3e" stroke-width="0.8" stroke-dasharray="19 8 5 16 12 16" stroke-dashoffset="148" transform="matrix(1,0,0,0.567,0,31.41)"/>
<use href="#a0" fill="none" stroke="#2d2d2d" stroke-width="1.3" stroke-dasharray="16 12 11 9 6 5" stroke-dashoffset="192" transform="matrix(1,0,0,0.744,0,21.08)"/>
<use href="#a0" fill="none" stroke="#505050" stroke-width="0.7" stroke-dasharray="10 22 12 6 6 18" stroke-dashoffset="180" transform="matrix(1,0,0,0.329,0,45.33)"/>
<use href="#a0" fill="none" stroke="#424242" stroke-width="0.9" stroke-dasharray="20 16 7 18 10 18" stroke-dashoffset="0" transform="matrix(1,0,0,0.906,0,11.61)"/>
<use href="#a0" fill="none" stroke="#4d4d4d" stroke-width="0.7" stroke-dasharray="18 5 6 11 17 3" stroke-dashoffset="0" transform="matrix(1,0,0,0.741,0,21.23)"/>
<use href="#a0" fill="none" stroke="#1b1b1b" stroke-width="0.9" stroke-dasharray="7 10 14 7 16 16" stroke-dashoffset="192" transform="matrix(1,0,0,0.669,0,25.46)"/>
<use href="#a0" fill="none" stroke="#676767" stroke-width="1.4" stroke-dasharray="9 6 7 8 21 8" stroke-dashoffset="153" transform="matrix(1,0,0,0.414,0,40.35)"/>
<use href="#a0" fill="none" stroke="#666666" stroke-width="0.9" stroke-dasharray="6 18 16 20 9 7" stroke-dashoffset="5" transform="matrix(1,0,0,0.489,0,35.97)"/>
<use href="#a0" fill="none" stroke="#5e5e5e" stroke-width="0.9" stroke-dasharray="15 13 16 15 12 5" stroke-dashoffset="152" transform="matrix(1,0,0,0.458,0,37.77)"/>
<use href="#a0" fill="none" stroke="#737373" stroke-width="1.2" stroke-dasharray="4 17 17 6 20 19" stroke-dashoffset="199" transform="matrix(1,0,0,0.776,0,19.20)"/>
<use href="#a0" fill="none" stroke="#575757" stroke-width="1.3" stroke-dasharray="20 9 3 10 16 4" stroke-dashoffset="10" transform="matrix(1,0,0,0.602,0,29.35)"/>
<use href="#a0" fill="none" stroke="#797979" stroke-width="0.9" stroke-dasharray="9 17 15 22 8 17" stroke-dashoffset="145" transform="matrix(1,0,0,0.797,0,17.95)"/>
<use href="#a0" fill="none" stroke="#323232" stroke-width="0.6" stroke-dasharray="15 15 10 9 21 16" stroke-dashoffset="4" transform="matrix(1,0,0,0.454,0,38.02)"/>
<use href="#a0" fill="none" stroke="#232323" stroke-width="1.4" stroke-dasharray="22 15 15 19 7 17" stroke-dashoffset="150" transform="matrix(1,0,0,0.502,0,35.23)"/>
<use href="#a0" fill="none" stroke="#717171" stroke-width="1.0" stroke-dasharray="5 20 19 19 3 4" stroke-dashoffset="45" transform="matrix(1,0,0,0.666,0,25.63)"/>
<use href="#a0" fill="none" stroke="#555555" stroke-width="0.9" stroke-dasharray="6 3 16 20 9 17" stroke-dashoffset="10" transform="matrix(1,0,0,0.316,0,46.10)"/>
<use href="#a0" fill="none" stroke="#2f2f2f" stroke-width="0.7" stroke-dasharray="18 19 7 7 7 3" stroke-dashoffset="43" transform="matrix(1,0,0,0.282,0,48.08)"/>
<use href="#a0" fill="none" stroke="#535353" stroke-width="0.7" stroke-dasharray="9 18 3 22 10 5" stroke-dashoffset="184" transform="matrix(1,0,0,0.726,0,22.13)"/>
<use href="#a0" fill="none" stroke="#747474" stroke-width="0.9" stroke-dasharray="15 19 8 9 21 4" stroke-dashoffset="52" transform="matrix(1,0,0,0.636,0,27.40)"/>
<use href="#a0" fill="none" stroke="#878787" stroke-width="1.3" stroke-dasharray="17 13 7 17 22 8" stroke-dashoffset="148" transform="matrix(1,0,0,0.748,0,20.86)"/>
<use href="#a0" fill="none" stroke="#4a4a4a" stroke-width="0.9" stroke-dasharray="21 5 19 16 19 8" stroke-dashoffset="199" transform="matrix(1,0,0,0.571,0,31.18)"/>
<use href="#a0" fill="none" stroke="#727272" stroke-width="1.2" stroke-dasharray="17 3 6 17 17 10" stroke-dashoffset="47" transform="matrix(1,0,0,0.378,0,42.46)"/>
<use href="#a0" fill="none" stroke="#8a8a8a" stroke-width="1.2" stroke-dasharray="17 9 20 11 22 20" stroke-dashoffset="0" transform="matrix(1,0,0,0.338,0,44.81)"/>
<use href="#a0" fill="none" stroke="#1b1b1b" stroke-width="0.9" stroke-dasharray="21 7 16 13 10 17" stroke-dashoffset="25" transform="matrix(1,0,0,0.696,0,23.87)"/>
<use href="#a0" fill="none" stroke="#8e8e8e" stroke-width="0.7" stroke-dasharray="13 17 3 5 5 6" stroke-dashoffset="195" transform="matrix(1,0,0,0.225,0,51.43)"/>
<use href="#a0" fill="none" stroke="#727272" stroke-width="1.0" stroke-dasharray="8 21 18 21 17 21" stroke-dashoffset="183" transform="matrix(1,0,0,0.698,0,23.76)"/>
<use href="#a0" fill="none" stroke="#787878" stroke-width="1.3" stroke-dasharray="22 13 20 14 5 16" stroke-dashoffset="21" transform="matrix(1,0,0,0.116,0,57.76)"/>
<use href="#a0" fill="none" stroke="#494949" stroke-width="0.8" stroke-dasharray="13 7 6 21 7 5" stroke-dashoffset="126" transform="matrix(1,0,0,0.636,0,27.39)"/>
<use href="#a0" fill="none" stroke="#5c5c5c" stroke-width="0.8" stroke-dasharray="16 9 18 9 6 21" stroke-dashoffset="19" transform="matrix(1,0,0,0.357,0,43.71)"/>
<use href="#a0" fill="none" stroke="#212121" stroke-width="1.1" stroke-dasharray="9 18 3 4 16 19" stroke-dashoffset="53" transform="matrix(1,0,0,0.375,0,42.62)"/>
<use href="#a0" fill="none" stroke="#1b1b1b" stroke-width="0.7" stroke-dasharray="22 22 13 3 12 18" stroke-dashoffset="84" transform="matrix(1,0,0,0.677,0,24.97)"/>
<use href="#a0" fill="none" stroke="#1f1f1f" stroke-width="0.7" stroke-dasharray="12 16 3 16 7 16" stroke-dashoffset="192" transform="matrix(1,0,0,0.134,0,56.71)"/>
<use href="#a0" fill="none" stroke="#1b1b1b" stroke-width="0.9" stroke-dasharray="15 10 12 19 18 9" stroke-dashoffset="43" transform="matrix(1,0,0,0.428,0,39.52)"/>
<use href="#a0" fill="none" stroke="#676767" stroke-width="0.6" stroke-dasharray="10 12 14 22 15 19" stroke-dashoffset="188" transform="matrix(1,0,0,0.150,0,55.77)"/>
<use href="#a0" fill="none" stroke="#4d4d4d" stroke-width="0.9" stroke-dasharray="11 5 20 10 7 6" stroke-dashoffset="75" transform="matrix(1,0,0,0.925,0,10.51)"/>
<use href="#a0" fill="none" stroke="#282828" stroke-width="1.3" stroke-dasharray="11 5 16 12 10 16" stroke-dashoffset="26" transform="matrix(1,0,0,0.383,0,42.16)"/>
<use href="#a0" fill="none" stroke="#4a4a4a" stroke-width="0.8" stroke-dasharray="6 13 9 8 5 14" stroke-dashoffset="131" transform="matrix(1,0,0,0.160,0,55.20)"/>
<use href="#a0" fill="none" stroke="#4a4a4a" stroke-width="0.9" stroke-dasharray="5 13 16 17 16 15" stroke-dashoffset="105" transform="matrix(1,0,0,0.387,0,41.92)"/>
<use href="#a0" fill="none" stroke="#5b5b5b" stroke-width="1.3" stroke-dasharray="11 12 15 18 20 5" stroke-dashoffset="16" transform="matrix(1,0,0,0.557,0,31.99)"/>
<use href="#a0" fill="none" stroke="#878787" stroke-width="1.2" stroke-dasharray="22 3 13 14 16 21" stroke-dashoffset="99" transform="matrix(1,0,0,0.418,0,40.13)"/>
<use href="#a0" fill="none" stroke="#727272" stroke-width="0.7" stroke-dasharray="6 9 15 19 6 22" stroke-dashoffset="161" transform="matrix(1,0,0,0.950,0,9.00)"/>
<use href="#a0" fill="none" stroke="#848484" stroke-width="1.0" stroke-dasharray="18 19 9 15 21 5" stroke-dashoffset="112" transform="matrix(1,0,0,0.456,0,37.88)"/>
<use href="#a0" fill="none" stroke="#6e6e6e" stroke-width="1.2" stroke-dasharray="9 12 18 11 8 14" stroke-dashoffset="197" transform="matrix(1,0,0,0.106,0,58.33)"/>
<use href="#a0" fill="none" stroke="#777777" stroke-width="1.3" stroke-dasharray="8 4 13 5 7 10" stroke-dashoffset="66" transform="matrix(1,0,0,0.336,0,44.90)"/>
<use href="#a0" fill="none" stroke="#606060" stroke-width="1.0" stroke-dasharray="21 14 3 18 5 8" stroke-dashoffset="89" transform="matrix(1,0,0,0.917,0,10.95)"/>
<use href="#a0" fill="none" stroke="#828282" stroke-width="0.6" stroke-dasharray="6 3 11 8 10 5" stroke-dashoffset="27" transform="matrix(1,0,0,0.983,0,7.10)"/>
<use href="#a0" fill="none" stroke="#5c5c5c" stroke-width="0.9" stroke-dasharray="8 9 17 8 13 6" stroke-dashoffset="20" transform="matrix(1,0,0,0.473,0,36.91)"/>
<use href="#a0" fill="none" stroke="#202020" stroke-width="1.1" stroke-dasharray="21 22 15 4 17 12" stroke-dashoffset="79" transform="matrix(1,0,0,0.208,0,52.40)"/>
<use href="#a0" fill="none" stroke="#848484" stroke-width="1.2" stroke-dasharray="6 18 22 5 17 4" stroke-dashoffset="113" transform="matrix(1,0,0,0.330,0,45.28)"/>
<use href="#a0" fill="none" stroke="#8b8b8b" stroke-width="1.2" stroke-dasharray="18 9 22 11 17 19" stroke-dashoffset="68" transform="matrix(1,0,0,0.252,0,49.80)"/>
<use href="#a0" fill="none" stroke="#7f7f7f" stroke-width="1.3" stroke-dasharray="13 20 4 5 18 9" stroke-dashoffset="137" transform="matrix(1,0,0,0.438,0,38.98)"/>
<use href="#a0" fill="none" stroke="#5f5f5f" stroke-width="1.3" stroke-dasharray="12 14 16 22 9 15" stroke-dashoffset="194" transform="matrix(1,0,0,0.870,0,13.67)"/>
<use href="#a0" fill="none" stroke="#222222" stroke-width="0.9" stroke-dasharray="19 21 3 13 11 12" stroke-dashoffset="141" transform="matrix(1,0,0,0.532,0,33.46)"/>
<use href="#a0" fill="none" stroke="#292929" stroke-width="1.0" stroke-dasharray="10 9 5 20 17 3" stroke-dashoffset="53" transform="matrix(1,0,0,0.148,0,55.92)"/>
<use href="#a0" fill="none" stroke="#838383" stroke-width="0.6" stroke-dasharray="6 8 4 19 7 12" stroke-dashoffset="148" transform="matrix(1,0,0,0.103,0,58.51)"/>
<use href="#a0" fill="none" stroke="#8b8b8b" stroke-width="1.0" stroke-dasharray="17 6 12 15 10 4" stroke-dashoffset="200" transform="matrix(1,0,0,0.714,0,22.80)"/>
<use href="#a0" fill="none" stroke="#1c1c1c" stroke-width="1.3" stroke-dasharray="18 19 8 7 8 6" stroke-dashoffset="139" transform="matrix(1,0,0,0.670,0,25.38)"/>
<use href="#a0" fill="none" stroke="#484848" stroke-width="0.8" stroke-dasharray="4 11 8 11 13 22" stroke-dashoffset="72" transform="matrix(1,0,0,0.574,0,31.01)"/>
<use href="#a0" fill="none" stroke="#292929" stroke-width="1.0" stroke-dasharray="13 13 5 15 8 4" stroke-dashoffset="171" transform="matrix(1,0,0,0.606,0,29.15)"/>
<use href="#a0" fill="none" stroke="#6d6d6d" stroke-width="0.7" stroke-dasharray="18 11 4 5 4 22" stroke-dashoffset="68" transform="matrix(1,0,0,0.657,0,26.16)"/>
<use href="#a0" fill="none" stroke="#8d8d8d" stroke-width="0.6" stroke-dasharray="6 18 22 14 11 18" stroke-dashoffset="150" transform="matrix(1,0,0,0.919,0,10.84)"/>
<use href="#a0" fill="none" stroke="#444444" stroke-width="1.0" stroke-dasharray="19 12 8 12 15 11" stroke-dashoffset="103" transform="matrix(1,0,0,0.214,0,52.02)"/>
<use href="#a0" fill="none" stroke="#2b2b2b" stroke-width="1.1" stroke-dasharray="5 8 17 10 19 16" stroke-dashoffset="37" transform="matrix(1,0,0,0.252,0,49.81)"/>
<use href="#a0" fill="none" stroke="#515151" stroke-width="0.9" stroke-dasharray="7 13 6 20 21 19" stroke-dashoffset="144" transform="matrix(1,0,0,0.141,0,56.31)"/>
<use href="#a0" fill="none" stroke="#3e3e3e" stroke-width="0.7" stroke-dasharray="9 3 21 19 16 19" stroke-dashoffset="131" transform="matrix(1,0,0,0.428,0,39.55)"/>
<use href="#a0" fill="none" stroke="#262626" stroke-width="0.7" stroke-dasharray="4 21 16 10 13 8" stroke-dashoffset="185" transform="matrix(1,0,0,0.861,0,14.24)"/>
<use href="#a0" fill="none" stroke="#393939" stroke-width="1.3" stroke-dasharray="8 7 16 8 16 21" stroke-dashoffset="176" transform="matrix(1,0,0,0.925,0,10.46)"/>
<use href="#a0" fill="none" stroke="#959595" stroke-width="1.2" stroke-dasharray="19 3 4 16 10 17" stroke-dashoffset="193" transform="matrix(1,0,0,0.771,0,19.48)"/>
<use href="#a0" fill="none" stroke="#929292" stroke-width="1.2" stroke-dasharray="19 12 9 18 4 16" stroke-dashoffset="69" transform="matrix(1,0,0,0.499,0,35.41)"/>
<use href="#a0" fill="none" stroke="#818181" stroke-width="0.9" stroke-dasharray="14 13 17 17 10 13" stroke-dashoffset="178" transform="matrix(1,0,0,0.560,0,31.82)"/>
<use href="#a0" fill="none" stroke="#5b5b5b" stroke-width="1.0" stroke-dasharray="11 9 13 15 8 13" stroke-dashoffset="166" transform="matrix(1,0,0,0.798,0,17.92)"/>
<use href="#a0" fill="none" stroke="#636363" stroke-width="1.3" stroke-dasharray="17 15 14 15 21 6" stroke-dashoffset="125" transform="matrix(1,0,0,0.133,0,56.75)"/>
<use href="#a0" fill="none" stroke="#848484" stroke-width="0.7" stroke-dasharray="6 19 20 18 6 10" stroke-dashoffset="161" transform="matrix(1,0,0,0.140,0,56.35)"/>
<use href="#a0" fill="none" stroke="#838383" stroke-width="1.4" stroke-dasharray="17 16 20 11 6 3" stroke-dashoffset="87" transform="matrix(1,0,0,0.511,0,34.67)"/>
<use href="#a0" fill="none" stroke="#3a3a3a" stroke-width="1.1" stroke-dasharray="4 20 12 13 6 22" stroke-dashoffset="139" transform="matrix(1,0,0,0.549,0,32.43)"/>
<use href="#a0" fill="none" stroke="#383838" stroke-width="1.1" stroke-dasharray="15 9 7 8 21 8" stroke-dashoffset="132" transform="matrix(1,0,0,0.603,0,29.32)"/>
<use href="#a0" fill="none" stroke="#252525" stroke-width="0.6" stroke-dasharray="13 11 17 22 6 14" stroke-dashoffset="84" transform="matrix(1,0,0,0.550,0,32.43)"/>
<use href="#a0" fill="none" stroke="#7d7d7d" stroke-width="1.0" stroke-dasharray="21 6 13 9 3 19" stroke-dashoffset="3" transform="matrix(1,0,0,0.325,0,45.59)"/>
<use href="#a0" fill="none" stroke="#424242" stroke-width="0.7" stroke-dasharray="6 10 8 4 17 7" stroke-dashoffset="136" transform="matrix(1,0,0,0.356,0,43.73)"/>
<rect x="35.7" y="53.3" width="163.00" height="145.30" filter="url(#streakD)" opacity="0.4"/><rect x="35.7" y="53.3" width="163.00" height="145.30" filter="url(#streakL)" opacity="0.15"/>
</g>
<rect x="35.7" y="53.3" width="163.00" height="1.10" fill="#8a8a8a"/>
<rect x="35.7" y="54.4" width="163.00" height="11.80" fill="#1c1c1c"/>
<path d="M178,62.7H264.6" stroke="#2c2c2c" stroke-width="1.4"/>
<path d="M110.5,57.4H174.9" stroke="#323232" stroke-width="0.8"/>
<path d="M177.4,65.6H268.7" stroke="#303030" stroke-width="1.4"/>
<path d="M33.1,65.4H142.2" stroke="#202020" stroke-width="0.7"/>
<path d="M82.4,57.8H153.4" stroke="#444444" stroke-width="0.7"/>
<path d="M102.7,62.1H139.7" stroke="#454545" stroke-width="1.3"/>
<path d="M158.9,58.8H226.7" stroke="#383838" stroke-width="1.3"/>
<path d="M80.9,62H110.9" stroke="#2f2f2f" stroke-width="1.1"/>
<path d="M113.9,58H140.4" stroke="#262626" stroke-width="1.0"/>
<path d="M133.7,60.3H180.7" stroke="#272727" stroke-width="1.2"/>
<path d="M48.7,58.1H132.8" stroke="#2a2a2a" stroke-width="1.1"/>
<path d="M174.2,65.7H274.4" stroke="#444444" stroke-width="1.2"/>
<path d="M168.4,59H205.4" stroke="#242424" stroke-width="1.0"/>
<path d="M118,56.4H194.8" stroke="#242424" stroke-width="1.2"/>
<path d="M100.4,55.9H151.5" stroke="#434343" stroke-width="0.7"/>
<path d="M134.8,59.2H188.6" stroke="#3e3e3e" stroke-width="0.7"/>
<path d="M27.7,55.8H105.5" stroke="#303030" stroke-width="1.0"/>
<path d="M160,60.2H205.5" stroke="#222222" stroke-width="0.8"/>
<path d="M149.8,64.2H185.6" stroke="#1c1c1c" stroke-width="1.4"/>
<path d="M67.9,65.7H143.4" stroke="#1d1d1d" stroke-width="1.0"/>
<path d="M130.1,56.9H169.9" stroke="#333333" stroke-width="0.9"/>
<path d="M171.1,60.3H245.8" stroke="#444444" stroke-width="1.2"/>
<path d="M64.4,57.5H167" stroke="#3c3c3c" stroke-width="0.7"/>
<path d="M71.3,63.9H150.2" stroke="#414141" stroke-width="1.3"/>
<path d="M47.5,56.9H97.9" stroke="#353535" stroke-width="1.4"/>
<path d="M142.4,62.2H245.5" stroke="#2f2f2f" stroke-width="0.9"/>
<path d="M120.7,63.8H229.7" stroke="#454545" stroke-width="1.0"/>
<path d="M45.4,58.8H125.9" stroke="#292929" stroke-width="0.9"/>
<path d="M137.2,60.6H226.9" stroke="#2f2f2f" stroke-width="1.1"/>
<path d="M165.5,61.9H255.4" stroke="#3f3f3f" stroke-width="0.8"/>
<path d="M35.7,67.0H198.7" stroke="#7a7a7a" stroke-width="1.6"/>
<use href="#a0" fill="none" stroke="#6e6e6e" stroke-width="1.2"/>
<use href="#pf0" fill="#303030"/>
<g clip-path="url(#c0pw)">
<use href="#pf0" fill="#7a7a7a" transform="matrix(1,0,0,0.540,0,91.71)"/>
<use href="#pf0" fill="#f4f4f4" transform="matrix(1,0,0,0.540,0,93.11)"/>
<use href="#pf0" fill="#909090" transform="matrix(1,0,0,0.520,0,99.33)"/>
<use href="#pf0" fill="#6a6a6a" transform="matrix(1,0,0,0.500,0,103.55)"/>
<use href="#pf0" fill="#e4e4e4" transform="matrix(1,0,0,0.430,0,116.81)"/>
<use href="#pf0" fill="#6e6e6e" transform="matrix(1,0,0,0.430,0,119.01)"/>
<use href="#p0" fill="none" stroke="#202020" stroke-width="0.8" stroke-dasharray="10 48 49 10 21 48" stroke-dashoffset="190" transform="matrix(1,0,0,0.660,0,70.50)"/>
<use href="#p0" fill="none" stroke="#1e1e1e" stroke-width="1.0" stroke-dasharray="20 53 59 15 13 23" stroke-dashoffset="115" transform="matrix(1,0,0,0.939,0,14.35)"/>
<use href="#p0" fill="none" stroke="#787878" stroke-width="0.6" stroke-dasharray="33 34 11 22 35 35" stroke-dashoffset="98" transform="matrix(1,0,0,0.736,0,55.04)"/>
<use href="#p0" fill="none" stroke="#434343" stroke-width="0.7" stroke-dasharray="51 17 54 50 20 15" stroke-dashoffset="153" transform="matrix(1,0,0,0.860,0,30.23)"/>
<use href="#p0" fill="none" stroke="#7c7c7c" stroke-width="0.6" stroke-dasharray="47 18 24 23 37 31" stroke-dashoffset="76" transform="matrix(1,0,0,0.842,0,33.93)"/>
<use href="#p0" fill="none" stroke="#313131" stroke-width="0.6" stroke-dasharray="24 42 47 49 12 14" stroke-dashoffset="153" transform="matrix(1,0,0,0.706,0,61.07)"/>
<use href="#p0" fill="none" stroke="#454545" stroke-width="0.7" stroke-dasharray="34 44 52 20 42 57" stroke-dashoffset="84" transform="matrix(1,0,0,0.926,0,16.89)"/>
<use href="#p0" fill="none" stroke="#666666" stroke-width="0.5" stroke-dasharray="12 54 48 38 16 47" stroke-dashoffset="11" transform="matrix(1,0,0,0.820,0,38.18)"/>
<use href="#p0" fill="none" stroke="#7b7b7b" stroke-width="0.5" stroke-dasharray="29 47 58 47 60 34" stroke-dashoffset="166" transform="matrix(1,0,0,0.654,0,71.55)"/>
<use href="#p0" fill="none" stroke="#545454" stroke-width="0.8" stroke-dasharray="37 47 16 28 39 31" stroke-dashoffset="105" transform="matrix(1,0,0,0.866,0,29.00)"/>
<use href="#p0" fill="none" stroke="#808080" stroke-width="0.8" stroke-dasharray="33 43 13 59 28 25" stroke-dashoffset="87" transform="matrix(1,0,0,0.643,0,73.86)"/>
<use href="#p0" fill="none" stroke="#5c5c5c" stroke-width="0.8" stroke-dasharray="53 42 21 41 36 11" stroke-dashoffset="56" transform="matrix(1,0,0,0.671,0,68.13)"/>
<use href="#p0" fill="none" stroke="#373737" stroke-width="0.7" stroke-dasharray="19 32 40 11 39 19" stroke-dashoffset="129" transform="matrix(1,0,0,0.625,0,77.43)"/>
<use href="#p0" fill="none" stroke="#676767" stroke-width="0.8" stroke-dasharray="43 54 23 27 57 16" stroke-dashoffset="128" transform="matrix(1,0,0,0.945,0,13.09)"/>
<use href="#p0" fill="none" stroke="#373737" stroke-width="0.9" stroke-dasharray="43 48 13 34 52 18" stroke-dashoffset="146" transform="matrix(1,0,0,0.750,0,52.31)"/>
<use href="#p0" fill="none" stroke="#474747" stroke-width="0.8" stroke-dasharray="40 27 15 28 13 14" stroke-dashoffset="164" transform="matrix(1,0,0,0.707,0,61.03)"/>
<use href="#p0" fill="none" stroke="#898989" stroke-width="0.5" stroke-dasharray="38 43 51 33 38 56" stroke-dashoffset="57" transform="matrix(1,0,0,0.911,0,20.08)"/>
<use href="#p0" fill="none" stroke="#707070" stroke-width="0.8" stroke-dasharray="39 26 60 54 25 33" stroke-dashoffset="171" transform="matrix(1,0,0,0.769,0,48.46)"/>
<use href="#p0" fill="none" stroke="#696969" stroke-width="0.7" stroke-dasharray="51 45 59 17 32 37" stroke-dashoffset="53" transform="matrix(1,0,0,0.853,0,31.58)"/>
<use href="#p0" fill="none" stroke="#6c6c6c" stroke-width="0.7" stroke-dasharray="53 21 17 24 45 15" stroke-dashoffset="3" transform="matrix(1,0,0,0.924,0,17.36)"/>
<use href="#p0" fill="none" stroke="#676767" stroke-width="0.6" stroke-dasharray="27 48 33 11 20 39" stroke-dashoffset="32" transform="matrix(1,0,0,0.779,0,46.58)"/>
<use href="#p0" fill="none" stroke="#282828" stroke-width="0.6" stroke-dasharray="52 48 20 18 49 45" stroke-dashoffset="70" transform="matrix(1,0,0,0.806,0,41.01)"/>
<use href="#p0" fill="none" stroke="#1b1b1b" stroke-width="1.0" stroke-dasharray="11 47 32 36 33 27" stroke-dashoffset="124" transform="matrix(1,0,0,0.839,0,34.46)"/>
<use href="#p0" fill="none" stroke="#858585" stroke-width="0.8" stroke-dasharray="33 52 15 47 19 20" stroke-dashoffset="91" transform="matrix(1,0,0,0.923,0,17.66)"/>
<use href="#p0" fill="none" stroke="#393939" stroke-width="0.8" stroke-dasharray="19 56 25 27 30 27" stroke-dashoffset="62" transform="matrix(1,0,0,0.853,0,31.58)"/>
<use href="#p0" fill="none" stroke="#202020" stroke-width="1.0" stroke-dasharray="10 44 43 57 18 31" stroke-dashoffset="130" transform="matrix(1,0,0,0.745,0,53.38)"/>
<use href="#p0" fill="none" stroke="#303030" stroke-width="0.8" stroke-dasharray="19 50 11 29 16 16" stroke-dashoffset="29" transform="matrix(1,0,0,0.932,0,15.81)"/>
<use href="#p0" fill="none" stroke="#383838" stroke-width="1.0" stroke-dasharray="28 60 28 35 56 52" stroke-dashoffset="95" transform="matrix(1,0,0,0.932,0,15.66)"/>
<use href="#p0" fill="none" stroke="#848484" stroke-width="0.9" stroke-dasharray="51 35 40 52 33 47" stroke-dashoffset="180" transform="matrix(1,0,0,0.988,0,4.51)"/>
<use href="#p0" fill="none" stroke="#4b4b4b" stroke-width="0.7" stroke-dasharray="37 21 11 13 45 33" stroke-dashoffset="74" transform="matrix(1,0,0,0.895,0,23.13)"/>
<use href="#p0" fill="none" stroke="#4c4c4c" stroke-width="1.0" stroke-dasharray="18 36 15 10 29 13" stroke-dashoffset="29" transform="matrix(1,0,0,0.840,0,34.27)"/>
<use href="#p0" fill="none" stroke="#616161" stroke-width="0.9" stroke-dasharray="10 30 28 30 35 40" stroke-dashoffset="173" transform="matrix(1,0,0,0.711,0,60.07)"/>
<use href="#p0" fill="none" stroke="#191919" stroke-width="0.7" stroke-dasharray="24 10 13 38 47 13" stroke-dashoffset="112" transform="matrix(1,0,0,0.779,0,46.43)"/>
<use href="#p0" fill="none" stroke="#878787" stroke-width="0.6" stroke-dasharray="42 25 59 51 18 54" stroke-dashoffset="38" transform="matrix(1,0,0,0.961,0,10.01)"/>
<use href="#p0" fill="none" stroke="#464646" stroke-width="0.7" stroke-dasharray="56 44 58 32 31 24" stroke-dashoffset="25" transform="matrix(1,0,0,0.864,0,29.50)"/>
<use href="#p0" fill="none" stroke="#585858" stroke-width="0.8" stroke-dasharray="28 56 36 20 38 18" stroke-dashoffset="195" transform="matrix(1,0,0,0.818,0,38.59)"/>
<use href="#p0" fill="none" stroke="#2c2c2c" stroke-width="0.8" stroke-dasharray="55 32 42 38 45 31" stroke-dashoffset="131" transform="matrix(1,0,0,0.665,0,69.50)"/>
<use href="#p0" fill="none" stroke="#5b5b5b" stroke-width="0.9" stroke-dasharray="25 28 28 29 29 17" stroke-dashoffset="100" transform="matrix(1,0,0,0.968,0,8.45)"/>
<use href="#p0" fill="none" stroke="#222222" stroke-width="0.9" stroke-dasharray="25 22 53 36 46 38" stroke-dashoffset="145" transform="matrix(1,0,0,0.786,0,45.13)"/>
<use href="#p0" fill="none" stroke="#777777" stroke-width="0.6" stroke-dasharray="36 34 18 42 33 41" stroke-dashoffset="150" transform="matrix(1,0,0,0.787,0,44.81)"/>
<use href="#p0" fill="none" stroke="#666666" stroke-width="0.6" stroke-dasharray="51 19 14 22 59 41" stroke-dashoffset="179" transform="matrix(1,0,0,0.636,0,75.16)"/>
<use href="#p0" fill="none" stroke="#454545" stroke-width="1.0" stroke-dasharray="27 30 58 23 40 57" stroke-dashoffset="178" transform="matrix(1,0,0,0.665,0,69.43)"/>
<use href="#p0" fill="none" stroke="#3c3c3c" stroke-width="0.6" stroke-dasharray="10 59 59 23 37 57" stroke-dashoffset="0" transform="matrix(1,0,0,0.885,0,25.30)"/>
<use href="#p0" fill="none" stroke="#787878" stroke-width="0.6" stroke-dasharray="35 23 47 52 56 53" stroke-dashoffset="159" transform="matrix(1,0,0,0.725,0,57.41)"/>
<use href="#p0" fill="none" stroke="#7c7c7c" stroke-width="0.5" stroke-dasharray="29 13 36 52 32 38" stroke-dashoffset="109" transform="matrix(1,0,0,0.687,0,64.89)"/>
<use href="#p0" fill="none" stroke="#252525" stroke-width="0.6" stroke-dasharray="29 17 32 28 60 59" stroke-dashoffset="190" transform="matrix(1,0,0,0.623,0,77.88)"/>
<use href="#p0" fill="none" stroke="#7d7d7d" stroke-width="0.5" stroke-dasharray="57 37 24 13 53 23" stroke-dashoffset="200" transform="matrix(1,0,0,0.996,0,2.81)"/>
<use href="#p0" fill="none" stroke="#4c4c4c" stroke-width="0.8" stroke-dasharray="60 19 52 35 28 45" stroke-dashoffset="90" transform="matrix(1,0,0,0.912,0,19.80)"/>
<use href="#p0" fill="none" stroke="#4c4c4c" stroke-width="0.6" stroke-dasharray="60 44 52 21 13 13" stroke-dashoffset="84" transform="matrix(1,0,0,0.666,0,69.12)"/>
<use href="#p0" fill="none" stroke="#626262" stroke-width="0.9" stroke-dasharray="44 36 38 26 14 22" stroke-dashoffset="47" transform="matrix(1,0,0,0.832,0,35.87)"/>
<use href="#p0" fill="none" stroke="#424242" stroke-width="0.7" stroke-dasharray="43 49 57 14 14 21" stroke-dashoffset="198" transform="matrix(1,0,0,0.810,0,40.26)"/>
<use href="#p0" fill="none" stroke="#424242" stroke-width="0.6" stroke-dasharray="54 25 28 14 48 25" stroke-dashoffset="33" transform="matrix(1,0,0,0.858,0,30.60)"/>
<use href="#p0" fill="none" stroke="#414141" stroke-width="0.7" stroke-dasharray="32 16 33 11 23 53" stroke-dashoffset="31" transform="matrix(1,0,0,0.664,0,69.55)"/>
<use href="#p0" fill="none" stroke="#868686" stroke-width="0.9" stroke-dasharray="39 38 32 26 30 26" stroke-dashoffset="109" transform="matrix(1,0,0,0.916,0,19.04)"/>
<use href="#p0" fill="none" stroke="#2c2c2c" stroke-width="0.9" stroke-dasharray="60 54 30 60 23 54" stroke-dashoffset="40" transform="matrix(1,0,0,0.834,0,35.36)"/>
<use href="#p0" fill="none" stroke="#6e6e6e" stroke-width="0.8" stroke-dasharray="39 15 48 44 36 31" stroke-dashoffset="81" transform="matrix(1,0,0,0.626,0,77.30)"/>
<use href="#p0" fill="none" stroke="#7c7c7c" stroke-width="0.9" stroke-dasharray="25 53 34 22 59 58" stroke-dashoffset="174" transform="matrix(1,0,0,0.662,0,69.94)"/>
<use href="#p0" fill="none" stroke="#282828" stroke-width="0.5" stroke-dasharray="47 37 10 31 38 36" stroke-dashoffset="69" transform="matrix(1,0,0,0.640,0,74.38)"/>
<use href="#p0" fill="none" stroke="#828282" stroke-width="0.8" stroke-dasharray="31 32 57 46 18 30" stroke-dashoffset="46" transform="matrix(1,0,0,0.637,0,74.99)"/>
<use href="#p0" fill="none" stroke="#2b2b2b" stroke-width="0.8" stroke-dasharray="42 44 45 22 50 34" stroke-dashoffset="87" transform="matrix(1,0,0,0.790,0,44.28)"/>
<use href="#p0" fill="none" stroke="#2a2a2a" stroke-width="0.9" stroke-dasharray="20 28 50 29 56 57" stroke-dashoffset="15" transform="matrix(1,0,0,0.746,0,53.03)"/>
<use href="#p0" fill="none" stroke="#464646" stroke-width="1.0" stroke-dasharray="20 58 54 10 36 46" stroke-dashoffset="82" transform="matrix(1,0,0,0.940,0,14.10)"/>
<use href="#p0" fill="none" stroke="#222222" stroke-width="0.5" stroke-dasharray="53 21 31 19 54 37" stroke-dashoffset="77" transform="matrix(1,0,0,0.896,0,22.93)"/>
<use href="#p0" fill="none" stroke="#464646" stroke-width="0.8" stroke-dasharray="15 31 31 52 31 20" stroke-dashoffset="134" transform="matrix(1,0,0,0.715,0,59.32)"/>
<use href="#p0" fill="none" stroke="#3c3c3c" stroke-width="0.8" stroke-dasharray="22 37 22 17 16 42" stroke-dashoffset="56" transform="matrix(1,0,0,0.938,0,14.61)"/>
<use href="#p0" fill="none" stroke="#565656" stroke-width="0.6" stroke-dasharray="29 40 41 45 26 11" stroke-dashoffset="194" transform="matrix(1,0,0,0.678,0,66.71)"/>
<use href="#p0" fill="none" stroke="#323232" stroke-width="0.7" stroke-dasharray="59 48 19 41 54 23" stroke-dashoffset="5" transform="matrix(1,0,0,0.888,0,24.67)"/>
<use href="#p0" fill="none" stroke="#626262" stroke-width="0.9" stroke-dasharray="46 48 40 43 48 12" stroke-dashoffset="171" transform="matrix(1,0,0,0.636,0,75.28)"/>
<use href="#p0" fill="none" stroke="#5f5f5f" stroke-width="0.7" stroke-dasharray="50 56 44 21 44 47" stroke-dashoffset="173" transform="matrix(1,0,0,0.661,0,70.16)"/>
<use href="#p0" fill="none" stroke="#5a5a5a" stroke-width="0.9" stroke-dasharray="52 29 50 45 50 47" stroke-dashoffset="139" transform="matrix(1,0,0,0.804,0,41.39)"/>
<use href="#p0" fill="none" stroke="#949494" stroke-width="1.8" stroke-dasharray="3 5 17 9 17 7" stroke-dashoffset="144" transform="matrix(1,0,0,0.305,0,149.44)"/>
<use href="#p0" fill="none" stroke="#4f4f4f" stroke-width="0.9" stroke-dasharray="7 12 10 6 19 3" stroke-dashoffset="126" transform="matrix(1,0,0,0.330,0,143.62)"/>
<use href="#p0" fill="none" stroke="#747474" stroke-width="1.9" stroke-dasharray="15 6 7 20 20 7" stroke-dashoffset="100" transform="matrix(1,0,0,0.348,0,139.27)"/>
<use href="#p0" fill="none" stroke="#a6a6a6" stroke-width="1.6" stroke-dasharray="15 13 6 18 9 9" stroke-dashoffset="181" transform="matrix(1,0,0,0.350,0,138.74)"/>
<use href="#p0" fill="none" stroke="#808080" stroke-width="1.6" stroke-dasharray="4 17 20 14 4 3" stroke-dashoffset="127" transform="matrix(1,0,0,0.359,0,136.67)"/>
<use href="#p0" fill="none" stroke="#464646" stroke-width="0.8" stroke-dasharray="12 7 18 18 8 19" stroke-dashoffset="151" transform="matrix(1,0,0,0.370,0,134.17)"/>
<use href="#p0" fill="none" stroke="#646464" stroke-width="1.5" stroke-dasharray="12 13 7 7 20 4" stroke-dashoffset="126" transform="matrix(1,0,0,0.345,0,139.99)"/>
<use href="#p0" fill="none" stroke="#c7c7c7" stroke-width="1.6" stroke-dasharray="12 14 8 3 8 11" stroke-dashoffset="9" transform="matrix(1,0,0,0.414,0,123.73)"/>
<use href="#p0" fill="none" stroke="#b8b8b8" stroke-width="1.9" stroke-dasharray="18 8 10 17 3 13" stroke-dashoffset="57" transform="matrix(1,0,0,0.343,0,140.40)"/>
<use href="#p0" fill="none" stroke="#d2d2d2" stroke-width="0.8" stroke-dasharray="20 6 20 16 20 17" stroke-dashoffset="183" transform="matrix(1,0,0,0.400,0,126.84)"/>
<use href="#p0" fill="none" stroke="#c1c1c1" stroke-width="1.6" stroke-dasharray="5 5 6 9 19 9" stroke-dashoffset="44" transform="matrix(1,0,0,0.379,0,131.88)"/>
<use href="#p0" fill="none" stroke="#a3a3a3" stroke-width="0.9" stroke-dasharray="18 13 11 14 19 15" stroke-dashoffset="84" transform="matrix(1,0,0,0.355,0,137.55)"/>
<use href="#p0" fill="none" stroke="#3b3b3b" stroke-width="1.9" stroke-dasharray="14 9 5 7 7 8" stroke-dashoffset="189" transform="matrix(1,0,0,0.365,0,135.28)"/>
<use href="#p0" fill="none" stroke="#e0e0e0" stroke-width="1.3" stroke-dasharray="13 11 19 15 20 7" stroke-dashoffset="71" transform="matrix(1,0,0,0.309,0,148.68)"/>
<use href="#p0" fill="none" stroke="#686868" stroke-width="1.3" stroke-dasharray="20 9 6 4 5 11" stroke-dashoffset="142" transform="matrix(1,0,0,0.365,0,135.19)"/>
<use href="#p0" fill="none" stroke="#d0d0d0" stroke-width="1.1" stroke-dasharray="9 17 4 7 18 16" stroke-dashoffset="37" transform="matrix(1,0,0,0.337,0,141.82)"/>
<use href="#p0" fill="none" stroke="#484848" stroke-width="0.9" stroke-dasharray="6 3 12 18 12 17" stroke-dashoffset="72" transform="matrix(1,0,0,0.424,0,121.23)"/>
<use href="#p0" fill="none" stroke="#494949" stroke-width="1.4" stroke-dasharray="13 19 18 20 10 14" stroke-dashoffset="14" transform="matrix(1,0,0,0.344,0,140.38)"/>
<use href="#p0" fill="none" stroke="#8e8e8e" stroke-width="1.0" stroke-dasharray="10 4 4 15 15 17" stroke-dashoffset="104" transform="matrix(1,0,0,0.307,0,149.10)"/>
<use href="#p0" fill="none" stroke="#bfbfbf" stroke-width="0.9" stroke-dasharray="3 20 11 20 5 17" stroke-dashoffset="141" transform="matrix(1,0,0,0.333,0,142.96)"/>
<use href="#p0" fill="none" stroke="#434343" stroke-width="1.1" stroke-dasharray="5 18 11 16 16 10" stroke-dashoffset="61" transform="matrix(1,0,0,0.336,0,142.13)"/>
<use href="#p0" fill="none" stroke="#909090" stroke-width="1.1" stroke-dasharray="17 19 8 13 9 15" stroke-dashoffset="14" transform="matrix(1,0,0,0.311,0,148.15)"/>
<use href="#p0" fill="none" stroke="#bbbbbb" stroke-width="1.4" stroke-dasharray="6 5 16 4 15 9" stroke-dashoffset="29" transform="matrix(1,0,0,0.304,0,149.89)"/>
<use href="#p0" fill="none" stroke="#adadad" stroke-width="1.2" stroke-dasharray="18 7 9 4 19 10" stroke-dashoffset="53" transform="matrix(1,0,0,0.391,0,129.13)"/>
<use href="#p0" fill="none" stroke="#aeaeae" stroke-width="1.0" stroke-dasharray="3 20 14 17 13 16" stroke-dashoffset="93" transform="matrix(1,0,0,0.338,0,141.61)"/>
<use href="#p0" fill="none" stroke="#cecece" stroke-width="0.9" stroke-dasharray="17 19 17 13 10 19" stroke-dashoffset="105" transform="matrix(1,0,0,0.379,0,131.98)"/>
<use href="#p0" fill="none" stroke="#a0a0a0" stroke-width="0.9" stroke-dasharray="18 6 11 13 15 9" stroke-dashoffset="139" transform="matrix(1,0,0,0.381,0,131.37)"/>
<use href="#p0" fill="none" stroke="#b7b7b7" stroke-width="0.9" stroke-dasharray="14 3 13 18 9 11" stroke-dashoffset="74" transform="matrix(1,0,0,0.387,0,130.12)"/>
<use href="#p0" fill="none" stroke="#8c8c8c" stroke-width="1.1" stroke-dasharray="19 8 13 18 6 8" stroke-dashoffset="129" transform="matrix(1,0,0,0.389,0,129.58)"/>
<use href="#p0" fill="none" stroke="#7d7d7d" stroke-width="1.4" stroke-dasharray="16 15 3 6 10 12" stroke-dashoffset="129" transform="matrix(1,0,0,0.308,0,148.74)"/>
<use href="#p0" fill="none" stroke="#bcbcbc" stroke-width="0.9" stroke-dasharray="4 4 3 3 3 3" stroke-dashoffset="139" transform="matrix(1,0,0,0.383,0,130.98)"/>
<use href="#p0" fill="none" stroke="#6e6e6e" stroke-width="1.1" stroke-dasharray="6 8 9 16 16 18" stroke-dashoffset="114" transform="matrix(1,0,0,0.401,0,126.74)"/>
<use href="#p0" fill="none" stroke="#4c4c4c" stroke-width="1.6" stroke-dasharray="4 15 6 3 19 14" stroke-dashoffset="44" transform="matrix(1,0,0,0.354,0,137.93)"/>
<use href="#p0" fill="none" stroke="#999999" stroke-width="1.9" stroke-dasharray="10 20 4 7 5 5" stroke-dashoffset="39" transform="matrix(1,0,0,0.341,0,141.00)"/>
<use href="#p0" fill="none" stroke="#262626" stroke-width="1.1" stroke-dasharray="8 19 10 4 12 9" stroke-dashoffset="69" transform="matrix(1,0,0,0.358,0,136.84)"/>
<use href="#p0" fill="none" stroke="#dadada" stroke-width="1.8" stroke-dasharray="4 13 18 7 10 8" stroke-dashoffset="63" transform="matrix(1,0,0,0.416,0,123.21)"/>
<use href="#p0" fill="none" stroke="#bdbdbd" stroke-width="1.2" stroke-dasharray="13 3 7 17 12 12" stroke-dashoffset="70" transform="matrix(1,0,0,0.416,0,123.07)"/>
<use href="#p0" fill="none" stroke="#c7c7c7" stroke-width="1.8" stroke-dasharray="8 3 6 8 15 14" stroke-dashoffset="155" transform="matrix(1,0,0,0.362,0,135.94)"/>
<use href="#p0" fill="none" stroke="#444444" stroke-width="1.6" stroke-dasharray="16 10 8 6 3 5" stroke-dashoffset="158" transform="matrix(1,0,0,0.380,0,131.61)"/>
<use href="#p0" fill="none" stroke="#2b2b2b" stroke-width="1.1" stroke-dasharray="6 19 16 3 7 6" stroke-dashoffset="80" transform="matrix(1,0,0,0.346,0,139.68)"/>
<use href="#p0" fill="none" stroke="#3b3b3b" stroke-width="1.6" stroke-dasharray="12 13 8 6 5 10" stroke-dashoffset="182" transform="matrix(1,0,0,0.380,0,131.60)"/>
<use href="#p0" fill="none" stroke="#313131" stroke-width="0.8" stroke-dasharray="18 15 17 8 5 12" stroke-dashoffset="181" transform="matrix(1,0,0,0.329,0,143.78)"/>
<use href="#p0" fill="none" stroke="#404040" stroke-width="1.1" stroke-dasharray="20 6 9 9 6 7" stroke-dashoffset="159" transform="matrix(1,0,0,0.395,0,128.14)"/>
<use href="#p0" fill="none" stroke="#8a8a8a" stroke-width="1.8" stroke-dasharray="9 11 19 4 12 8" stroke-dashoffset="124" transform="matrix(1,0,0,0.353,0,138.19)"/>
<use href="#p0" fill="none" stroke="#bcbcbc" stroke-width="1.9" stroke-dasharray="16 19 6 15 5 9" stroke-dashoffset="145" transform="matrix(1,0,0,0.377,0,132.35)"/>
<use href="#p0" fill="none" stroke="#dedede" stroke-width="1.1" stroke-dasharray="14 5 7 8 9 15" stroke-dashoffset="96" transform="matrix(1,0,0,0.417,0,123.00)"/>
<use href="#p0" fill="none" stroke="#c9c9c9" stroke-width="1.8" stroke-dasharray="4 14 19 16 18 17" stroke-dashoffset="72" transform="matrix(1,0,0,0.300,0,150.72)"/>
<use href="#p0" fill="none" stroke="#bfbfbf" stroke-width="1.8" stroke-dasharray="4 5 19 18 9 11" stroke-dashoffset="124" transform="matrix(1,0,0,0.353,0,138.20)"/>
<use href="#p0" fill="none" stroke="#cecece" stroke-width="1.4" stroke-dasharray="11 3 12 10 16 8" stroke-dashoffset="106" transform="matrix(1,0,0,0.304,0,149.79)"/>
<use href="#p0" fill="none" stroke="#2c2c2c" stroke-width="1.5" stroke-dasharray="12 14 11 20 13 10" stroke-dashoffset="43" transform="matrix(1,0,0,0.366,0,135.01)"/>
<use href="#p0" fill="none" stroke="#e2e2e2" stroke-width="1.6" stroke-dasharray="11 19 5 7 11 14" stroke-dashoffset="130" transform="matrix(1,0,0,0.385,0,130.58)"/>
<use href="#p0" fill="none" stroke="#828282" stroke-width="1.2" stroke-dasharray="18 7 9 20 6 20" stroke-dashoffset="102" transform="matrix(1,0,0,0.405,0,125.73)"/>
<use href="#p0" fill="none" stroke="#bfbfbf" stroke-width="1.2" stroke-dasharray="17 17 12 8 11 3" stroke-dashoffset="113" transform="matrix(1,0,0,0.393,0,128.61)"/>
<use href="#p0" fill="none" stroke="#a5a5a5" stroke-width="1.8" stroke-dasharray="19 7 9 4 16 8" stroke-dashoffset="151" transform="matrix(1,0,0,0.423,0,121.54)"/>
<use href="#p0" fill="none" stroke="#b8b8b8" stroke-width="1.1" stroke-dasharray="19 11 17 5 11 12" stroke-dashoffset="182" transform="matrix(1,0,0,0.325,0,144.80)"/>
<use href="#p0" fill="none" stroke="#a8a8a8" stroke-width="1.9" stroke-dasharray="18 12 5 11 7 14" stroke-dashoffset="121" transform="matrix(1,0,0,0.333,0,142.96)"/>
<use href="#p0" fill="none" stroke="#5e5e5e" stroke-width="1.6" stroke-dasharray="13 7 7 4 9 10" stroke-dashoffset="57" transform="matrix(1,0,0,0.343,0,140.53)"/>
<use href="#p0" fill="none" stroke="#232323" stroke-width="1.7" stroke-dasharray="12 11 10 20 3 17" stroke-dashoffset="101" transform="matrix(1,0,0,0.406,0,125.64)"/>
<use href="#p0" fill="none" stroke="#e0e0e0" stroke-width="0.9" stroke-dasharray="10 13 5 3 14 12" stroke-dashoffset="189" transform="matrix(1,0,0,0.302,0,150.21)"/>
<use href="#p0" fill="none" stroke="#7a7a7a" stroke-width="1.4" stroke-dasharray="13 3 6 9 20 20" stroke-dashoffset="26" transform="matrix(1,0,0,0.316,0,146.89)"/>
<use href="#p0" fill="none" stroke="#a0a0a0" stroke-width="1.3"/>
<rect x="35.7" y="53.3" width="163.00" height="145.30" filter="url(#streakD)" opacity="0.2"/><rect x="35.7" y="53.3" width="163.00" height="145.30" filter="url(#streakL)" opacity="0.1"/>
</g>
</g>
<path d="M116.6,98.6V153.6" stroke="#e8e8e8" stroke-width="1.4"/>
<path d="M144.65,87.5V169" stroke="#e8e8e8" stroke-width="1.4"/>
<text x="47.97" y="84.1" font-size="14" fill="#f4f4f4" textLength="18.78" lengthAdjust="spacingAndGlyphs">AW</text>
<text x="48.85" y="131.4" font-size="14" fill="#f4f4f4" textLength="15.31" lengthAdjust="spacingAndGlyphs">LV</text>
<text x="46.45" y="172.6" font-size="14" fill="#f4f4f4" textLength="20.30" lengthAdjust="spacingAndGlyphs">PW</text>
<text x="82.77" y="120" font-size="15" fill="#f4f4f4" textLength="48.95" lengthAdjust="spacingAndGlyphs">LVESD</text>
<text x="118.87" y="144.9" font-size="15" fill="#f4f4f4" textLength="49.75" lengthAdjust="spacingAndGlyphs">LVEDD</text>
<g clip-path="url(#c1)">
<rect x="202.1" y="53.4" width="162.80" height="145.20" fill="#060606"/>
<rect x="202.1" y="53.4" width="162.80" height="145.20" filter="url(#speck)" opacity="0.22"/>
<use href="#af1" fill="#383838"/>
<g clip-path="url(#c1aw)">
<use href="#a1" fill="none" stroke="#797979" stroke-width="1.0" stroke-dasharray="17 11 8 17 20 4" stroke-dashoffset="169" transform="matrix(1,0,0,0.311,0,45.15)"/>
<use href="#a1" fill="none" stroke="#313131" stroke-width="0.8" stroke-dasharray="8 20 3 19 7 17" stroke-dashoffset="89" transform="matrix(1,0,0,0.656,0,26.09)"/>
<use href="#a1" fill="none" stroke="#303030" stroke-width="0.7" stroke-dasharray="7 15 20 20 6 11" stroke-dashoffset="165" transform="matrix(1,0,0,0.281,0,46.79)"/>
<use href="#a1" fill="none" stroke="#878787" stroke-width="0.9" stroke-dasharray="20 4 7 3 14 18" stroke-dashoffset="130" transform="matrix(1,0,0,0.386,0,41.02)"/>
<use href="#a1" fill="none" stroke="#464646" stroke-width="1.1" stroke-dasharray="12 10 12 5 6 6" stroke-dashoffset="143" transform="matrix(1,0,0,0.339,0,43.57)"/>
<use href="#a1" fill="none" stroke="#656565" stroke-width="1.1" stroke-dasharray="14 4 8 19 6 9" stroke-dashoffset="176" transform="matrix(1,0,0,0.547,0,32.07)"/>
<use href="#a1" fill="none" stroke="#727272" stroke-width="1.0" stroke-dasharray="18 18 15 11 4 18" stroke-dashoffset="33" transform="matrix(1,0,0,0.154,0,53.84)"/>
<use href="#a1" fill="none" stroke="#7b7b7b" stroke-width="1.4" stroke-dasharray="3 7 3 5 5 10" stroke-dashoffset="38" transform="matrix(1,0,0,0.257,0,48.13)"/>
<use href="#a1" fill="none" stroke="#676767" stroke-width="1.1" stroke-dasharray="13 7 10 10 10 15" stroke-dashoffset="54" transform="matrix(1,0,0,0.911,0,11.97)"/>
<use href="#a1" fill="none" stroke="#818181" stroke-width="1.4" stroke-dasharray="5 10 10 5 18 7" stroke-dashoffset="111" transform="matrix(1,0,0,0.802,0,18.01)"/>
<use href="#a1" fill="none" stroke="#222222" stroke-width="1.2" stroke-dasharray="16 10 9 12 15 6" stroke-dashoffset="20" transform="matrix(1,0,0,0.928,0,11.03)"/>
<use href="#a1" fill="none" stroke="#565656" stroke-width="0.8" stroke-dasharray="9 6 4 14 13 7" stroke-dashoffset="172" transform="matrix(1,0,0,0.824,0,16.79)"/>
<use href="#a1" fill="none" stroke="#515151" stroke-width="0.8" stroke-dasharray="11 6 7 11 18 14" stroke-dashoffset="162" transform="matrix(1,0,0,0.139,0,54.65)"/>
<use href="#a1" fill="none" stroke="#8e8e8e" stroke-width="1.0" stroke-dasharray="15 8 4 18 7 16" stroke-dashoffset="42" transform="matrix(1,0,0,0.636,0,27.17)"/>
<use href="#a1" fill="none" stroke="#1e1e1e" stroke-width="0.9" stroke-dasharray="10 6 6 18 15 8" stroke-dashoffset="19" transform="matrix(1,0,0,0.484,0,35.58)"/>
<use href="#a1" fill="none" stroke="#686868" stroke-width="1.2" stroke-dasharray="3 20 17 6 8 14" stroke-dashoffset="4" transform="matrix(1,0,0,0.755,0,20.61)"/>
<use href="#a1" fill="none" stroke="#2a2a2a" stroke-width="0.6" stroke-dasharray="10 18 15 16 4 3" stroke-dashoffset="13" transform="matrix(1,0,0,0.122,0,55.59)"/>
<use href="#a1" fill="none" stroke="#242424" stroke-width="0.9" stroke-dasharray="15 7 5 12 11 12" stroke-dashoffset="136" transform="matrix(1,0,0,0.676,0,24.96)"/>
<use href="#a1" fill="none" stroke="#515151" stroke-width="0.7" stroke-dasharray="18 7 20 15 17 14" stroke-dashoffset="47" transform="matrix(1,0,0,0.614,0,28.40)"/>
<use href="#a1" fill="none" stroke="#717171" stroke-width="1.3" stroke-dasharray="17 18 7 12 10 17" stroke-dashoffset="191" transform="matrix(1,0,0,0.443,0,37.83)"/>
<use href="#a1" fill="none" stroke="#4d4d4d" stroke-width="0.7" stroke-dasharray="11 4 5 4 6 8" stroke-dashoffset="122" transform="matrix(1,0,0,0.469,0,36.42)"/>
<use href="#a1" fill="none" stroke="#3d3d3d" stroke-width="1.3" stroke-dasharray="20 5 11 13 14 15" stroke-dashoffset="71" transform="matrix(1,0,0,0.951,0,9.75)"/>
<use href="#a1" fill="none" stroke="#262626" stroke-width="1.3" stroke-dasharray="20 3 3 18 16 8" stroke-dashoffset="32" transform="matrix(1,0,0,0.239,0,49.13)"/>
<use href="#a1" fill="none" stroke="#474747" stroke-width="0.9" stroke-dasharray="4 18 16 14 3 11" stroke-dashoffset="161" transform="matrix(1,0,0,0.832,0,16.35)"/>
<use href="#a1" fill="none" stroke="#2c2c2c" stroke-width="0.7" stroke-dasharray="8 10 12 14 19 12" stroke-dashoffset="138" transform="matrix(1,0,0,0.799,0,18.16)"/>
<use href="#a1" fill="none" stroke="#7f7f7f" stroke-width="1.1" stroke-dasharray="12 20 18 13 6 6" stroke-dashoffset="81" transform="matrix(1,0,0,0.532,0,32.93)"/>
<use href="#a1" fill="none" stroke="#1b1b1b" stroke-width="0.8" stroke-dasharray="12 14 16 16 5 11" stroke-dashoffset="91" transform="matrix(1,0,0,0.323,0,44.45)"/>
<use href="#a1" fill="none" stroke="#6a6a6a" stroke-width="1.4" stroke-dasharray="8 14 5 6 5 4" stroke-dashoffset="96" transform="matrix(1,0,0,0.340,0,43.53)"/>
<use href="#a1" fill="none" stroke="#767676" stroke-width="0.8" stroke-dasharray="5 12 19 9 9 14" stroke-dashoffset="36" transform="matrix(1,0,0,0.383,0,41.17)"/>
<use href="#a1" fill="none" stroke="#575757" stroke-width="0.9" stroke-dasharray="11 9 13 15 4 8" stroke-dashoffset="169" transform="matrix(1,0,0,0.257,0,48.15)"/>
<use href="#a1" fill="none" stroke="#626262" stroke-width="1.1" stroke-dasharray="17 11 14 13 5 5" stroke-dashoffset="9" transform="matrix(1,0,0,0.833,0,16.30)"/>
<use href="#a1" fill="none" stroke="#595959" stroke-width="1.2" stroke-dasharray="16 19 19 17 6 7" stroke-dashoffset="50" transform="matrix(1,0,0,0.654,0,26.16)"/>
<use href="#a1" fill="none" stroke="#3e3e3e" stroke-width="0.7" stroke-dasharray="14 3 16 8 14 14" stroke-dashoffset="43" transform="matrix(1,0,0,0.971,0,8.65)"/>
<use href="#a1" fill="none" stroke="#4b4b4b" stroke-width="0.8" stroke-dasharray="14 5 5 14 3 20" stroke-dashoffset="40" transform="matrix(1,0,0,0.258,0,48.09)"/>
<use href="#a1" fill="none" stroke="#505050" stroke-width="1.2" stroke-dasharray="4 10 15 5 9 17" stroke-dashoffset="50" transform="matrix(1,0,0,0.390,0,40.77)"/>
<use href="#a1" fill="none" stroke="#444444" stroke-width="1.2" stroke-dasharray="15 4 6 3 3 4" stroke-dashoffset="3" transform="matrix(1,0,0,0.765,0,20.01)"/>
<use href="#a1" fill="none" stroke="#787878" stroke-width="1.0" stroke-dasharray="8 12 12 4 17 5" stroke-dashoffset="175" transform="matrix(1,0,0,0.308,0,45.30)"/>
<use href="#a1" fill="none" stroke="#5d5d5d" stroke-width="1.0" stroke-dasharray="13 19 6 9 14 19" stroke-dashoffset="5" transform="matrix(1,0,0,0.828,0,16.56)"/>
<use href="#a1" fill="none" stroke="#747474" stroke-width="0.9" stroke-dasharray="14 14 7 11 5 13" stroke-dashoffset="8" transform="matrix(1,0,0,0.704,0,23.41)"/>
<use href="#a1" fill="none" stroke="#757575" stroke-width="1.0" stroke-dasharray="7 14 4 4 6 5" stroke-dashoffset="4" transform="matrix(1,0,0,0.402,0,40.09)"/>
<use href="#a1" fill="none" stroke="#272727" stroke-width="1.0" stroke-dasharray="15 10 7 13 15 8" stroke-dashoffset="98" transform="matrix(1,0,0,0.471,0,36.29)"/>
<use href="#a1" fill="none" stroke="#8a8a8a" stroke-width="0.9" stroke-dasharray="3 16 10 11 8 16" stroke-dashoffset="37" transform="matrix(1,0,0,0.217,0,50.34)"/>
<use href="#a1" fill="none" stroke="#7c7c7c" stroke-width="0.7" stroke-dasharray="6 8 11 15 20 9" stroke-dashoffset="17" transform="matrix(1,0,0,0.825,0,16.71)"/>
<use href="#a1" fill="none" stroke="#222222" stroke-width="0.9" stroke-dasharray="18 3 3 17 19 12" stroke-dashoffset="89" transform="matrix(1,0,0,0.800,0,18.11)"/>
<use href="#a1" fill="none" stroke="#939393" stroke-width="1.1" stroke-dasharray="10 19 11 7 9 10" stroke-dashoffset="164" transform="matrix(1,0,0,0.648,0,26.48)"/>
<use href="#a1" fill="none" stroke="#363636" stroke-width="1.1" stroke-dasharray="6 3 7 10 7 13" stroke-dashoffset="65" transform="matrix(1,0,0,0.427,0,38.75)"/>
<use href="#a1" fill="none" stroke="#8b8b8b" stroke-width="1.3" stroke-dasharray="6 6 10 12 10 3" stroke-dashoffset="94" transform="matrix(1,0,0,0.624,0,27.82)"/>
<use href="#a1" fill="none" stroke="#7b7b7b" stroke-width="1.3" stroke-dasharray="8 3 9 17 16 12" stroke-dashoffset="100" transform="matrix(1,0,0,0.102,0,56.71)"/>
<use href="#a1" fill="none" stroke="#444444" stroke-width="0.8" stroke-dasharray="13 16 5 16 18 3" stroke-dashoffset="64" transform="matrix(1,0,0,0.320,0,44.65)"/>
<use href="#a1" fill="none" stroke="#666666" stroke-width="0.9" stroke-dasharray="3 20 13 14 10 11" stroke-dashoffset="160" transform="matrix(1,0,0,0.983,0,8.01)"/>
<use href="#a1" fill="none" stroke="#3b3b3b" stroke-width="1.2" stroke-dasharray="11 13 15 3 13 10" stroke-dashoffset="173" transform="matrix(1,0,0,0.664,0,25.63)"/>
<use href="#a1" fill="none" stroke="#8b8b8b" stroke-width="0.8" stroke-dasharray="12 11 3 10 12 17" stroke-dashoffset="168" transform="matrix(1,0,0,0.110,0,56.25)"/>
<use href="#a1" fill="none" stroke="#686868" stroke-width="1.2" stroke-dasharray="4 9 18 11 13 13" stroke-dashoffset="71" transform="matrix(1,0,0,0.123,0,55.54)"/>
<use href="#a1" fill="none" stroke="#343434" stroke-width="0.7" stroke-dasharray="15 17 15 4 9 5" stroke-dashoffset="188" transform="matrix(1,0,0,0.853,0,15.17)"/>
<use href="#a1" fill="none" stroke="#383838" stroke-width="1.1" stroke-dasharray="4 13 3 17 8 9" stroke-dashoffset="71" transform="matrix(1,0,0,0.819,0,17.07)"/>
<use href="#a1" fill="none" stroke="#393939" stroke-width="0.9" stroke-dasharray="5 3 10 16 7 5" stroke-dashoffset="160" transform="matrix(1,0,0,0.689,0,24.24)"/>
<use href="#a1" fill="none" stroke="#5e5e5e" stroke-width="1.2" stroke-dasharray="20 5 13 3 16 16" stroke-dashoffset="160" transform="matrix(1,0,0,0.789,0,18.71)"/>
<use href="#a1" fill="none" stroke="#383838" stroke-width="0.7" stroke-dasharray="8 16 11 12 8 19" stroke-dashoffset="30" transform="matrix(1,0,0,0.671,0,25.26)"/>
<use href="#a1" fill="none" stroke="#5c5c5c" stroke-width="0.8" stroke-dasharray="7 15 3 7 11 5" stroke-dashoffset="14" transform="matrix(1,0,0,0.119,0,55.73)"/>
<use href="#a1" fill="none" stroke="#2f2f2f" stroke-width="0.8" stroke-dasharray="7 18 15 12 20 12" stroke-dashoffset="119" transform="matrix(1,0,0,0.577,0,30.42)"/>
<use href="#a1" fill="none" stroke="#858585" stroke-width="1.1" stroke-dasharray="11 9 13 9 18 15" stroke-dashoffset="105" transform="matrix(1,0,0,0.412,0,39.56)"/>
<use href="#a1" fill="none" stroke="#4e4e4e" stroke-width="0.8" stroke-dasharray="19 3 6 6 19 16" stroke-dashoffset="19" transform="matrix(1,0,0,0.723,0,22.35)"/>
<use href="#a1" fill="none" stroke="#343434" stroke-width="1.1" stroke-dasharray="7 7 13 3 11 20" stroke-dashoffset="60" transform="matrix(1,0,0,0.549,0,32.01)"/>
<use href="#a1" fill="none" stroke="#1a1a1a" stroke-width="0.6" stroke-dasharray="5 17 9 12 7 12" stroke-dashoffset="171" transform="matrix(1,0,0,0.868,0,14.34)"/>
<use href="#a1" fill="none" stroke="#8b8b8b" stroke-width="1.4" stroke-dasharray="18 8 17 9 20 9" stroke-dashoffset="70" transform="matrix(1,0,0,0.434,0,38.34)"/>
<use href="#a1" fill="none" stroke="#949494" stroke-width="1.1" stroke-dasharray="3 14 12 12 13 20" stroke-dashoffset="45" transform="matrix(1,0,0,0.473,0,36.21)"/>
<use href="#a1" fill="none" stroke="#8b8b8b" stroke-width="0.8" stroke-dasharray="6 16 8 12 3 4" stroke-dashoffset="147" transform="matrix(1,0,0,0.919,0,11.55)"/>
<use href="#a1" fill="none" stroke="#262626" stroke-width="1.0" stroke-dasharray="4 19 5 4 20 4" stroke-dashoffset="36" transform="matrix(1,0,0,0.328,0,44.23)"/>
<use href="#a1" fill="none" stroke="#191919" stroke-width="1.1" stroke-dasharray="11 8 13 12 8 14" stroke-dashoffset="30" transform="matrix(1,0,0,0.200,0,51.30)"/>
<use href="#a1" fill="none" stroke="#5f5f5f" stroke-width="1.1" stroke-dasharray="13 10 13 4 8 10" stroke-dashoffset="133" transform="matrix(1,0,0,0.827,0,16.59)"/>
<use href="#a1" fill="none" stroke="#404040" stroke-width="0.9" stroke-dasharray="15 9 19 6 16 12" stroke-dashoffset="111" transform="matrix(1,0,0,0.366,0,42.12)"/>
<use href="#a1" fill="none" stroke="#888888" stroke-width="1.4" stroke-dasharray="17 7 13 20 5 4" stroke-dashoffset="89" transform="matrix(1,0,0,0.454,0,37.25)"/>
<use href="#a1" fill="none" stroke="#424242" stroke-width="1.3" stroke-dasharray="13 15 15 18 7 16" stroke-dashoffset="90" transform="matrix(1,0,0,0.831,0,16.37)"/>
<use href="#a1" fill="none" stroke="#232323" stroke-width="0.9" stroke-dasharray="15 18 19 18 3 13" stroke-dashoffset="38" transform="matrix(1,0,0,0.770,0,19.75)"/>
<use href="#a1" fill="none" stroke="#535353" stroke-width="0.8" stroke-dasharray="17 20 7 4 19 6" stroke-dashoffset="194" transform="matrix(1,0,0,0.998,0,7.14)"/>
<use href="#a1" fill="none" stroke="#898989" stroke-width="1.0" stroke-dasharray="15 5 14 19 17 14" stroke-dashoffset="166" transform="matrix(1,0,0,0.250,0,48.49)"/>
<use href="#a1" fill="none" stroke="#2f2f2f" stroke-width="0.7" stroke-dasharray="11 20 18 12 15 4" stroke-dashoffset="70" transform="matrix(1,0,0,0.920,0,11.49)"/>
<use href="#a1" fill="none" stroke="#696969" stroke-width="1.1" stroke-dasharray="12 13 18 16 7 16" stroke-dashoffset="118" transform="matrix(1,0,0,0.528,0,33.17)"/>
<use href="#a1" fill="none" stroke="#222222" stroke-width="1.0" stroke-dasharray="10 15 15 3 12 3" stroke-dashoffset="192" transform="matrix(1,0,0,0.481,0,35.74)"/>
<use href="#a1" fill="none" stroke="#474747" stroke-width="0.8" stroke-dasharray="3 3 11 6 6 16" stroke-dashoffset="149" transform="matrix(1,0,0,0.461,0,36.83)"/>
<use href="#a1" fill="none" stroke="#575757" stroke-width="1.1" stroke-dasharray="6 6 17 4 18 19" stroke-dashoffset="90" transform="matrix(1,0,0,0.730,0,21.96)"/>
<use href="#a1" fill="none" stroke="#7b7b7b" stroke-width="1.3" stroke-dasharray="19 19 14 7 8 18" stroke-dashoffset="112" transform="matrix(1,0,0,0.118,0,55.79)"/>
<use href="#a1" fill="none" stroke="#2f2f2f" stroke-width="0.9" stroke-dasharray="12 5 17 12 16 20" stroke-dashoffset="129" transform="matrix(1,0,0,0.579,0,30.32)"/>
<use href="#a1" fill="none" stroke="#757575" stroke-width="1.1" stroke-dasharray="11 15 12 4 18 11" stroke-dashoffset="139" transform="matrix(1,0,0,0.242,0,48.97)"/>
<use href="#a1" fill="none" stroke="#494949" stroke-width="1.4" stroke-dasharray="16 20 20 12 17 14" stroke-dashoffset="69" transform="matrix(1,0,0,0.245,0,48.79)"/>
<use href="#a1" fill="none" stroke="#1d1d1d" stroke-width="1.3" stroke-dasharray="11 20 14 11 16 20" stroke-dashoffset="49" transform="matrix(1,0,0,0.746,0,21.09)"/>
<use href="#a1" fill="none" stroke="#7f7f7f" stroke-width="0.8" stroke-dasharray="3 15 6 4 11 5" stroke-dashoffset="48" transform="matrix(1,0,0,0.120,0,55.72)"/>
<use href="#a1" fill="none" stroke="#525252" stroke-width="1.3" stroke-dasharray="4 3 7 3 19 3" stroke-dashoffset="179" transform="matrix(1,0,0,0.118,0,55.79)"/>
<use href="#a1" fill="none" stroke="#616161" stroke-width="1.1" stroke-dasharray="16 13 8 6 12 9" stroke-dashoffset="62" transform="matrix(1,0,0,0.872,0,14.15)"/>
<use href="#a1" fill="none" stroke="#2d2d2d" stroke-width="0.8" stroke-dasharray="17 9 13 12 15 9" stroke-dashoffset="144" transform="matrix(1,0,0,0.146,0,54.27)"/>
<use href="#a1" fill="none" stroke="#929292" stroke-width="1.2" stroke-dasharray="20 5 8 16 10 10" stroke-dashoffset="13" transform="matrix(1,0,0,0.680,0,24.77)"/>
<use href="#a1" fill="none" stroke="#888888" stroke-width="0.8" stroke-dasharray="12 13 17 15 4 10" stroke-dashoffset="33" transform="matrix(1,0,0,0.369,0,41.96)"/>
<use href="#a1" fill="none" stroke="#1f1f1f" stroke-width="1.3" stroke-dasharray="19 10 14 16 4 18" stroke-dashoffset="21" transform="matrix(1,0,0,0.597,0,29.36)"/>
<use href="#a1" fill="none" stroke="#1f1f1f" stroke-width="1.1" stroke-dasharray="13 6 12 16 13 20" stroke-dashoffset="172" transform="matrix(1,0,0,0.224,0,49.94)"/>
<use href="#a1" fill="none" stroke="#272727" stroke-width="1.2" stroke-dasharray="7 12 19 12 19 12" stroke-dashoffset="17" transform="matrix(1,0,0,0.183,0,52.20)"/>
<use href="#a1" fill="none" stroke="#525252" stroke-width="1.1" stroke-dasharray="4 8 3 15 6 10" stroke-dashoffset="9" transform="matrix(1,0,0,0.882,0,13.56)"/>
<use href="#a1" fill="none" stroke="#6c6c6c" stroke-width="0.8" stroke-dasharray="11 10 13 12 14 9" stroke-dashoffset="114" transform="matrix(1,0,0,0.918,0,11.59)"/>
<use href="#a1" fill="none" stroke="#909090" stroke-width="1.2" stroke-dasharray="14 10 4 12 20 13" stroke-dashoffset="28" transform="matrix(1,0,0,0.274,0,47.21)"/>
<use href="#a1" fill="none" stroke="#5e5e5e" stroke-width="1.1" stroke-dasharray="14 10 5 20 9 8" stroke-dashoffset="170" transform="matrix(1,0,0,0.752,0,20.76)"/>
<use href="#a1" fill="none" stroke="#7f7f7f" stroke-width="1.2" stroke-dasharray="13 7 19 15 5 4" stroke-dashoffset="177" transform="matrix(1,0,0,0.101,0,56.73)"/>
<use href="#a1" fill="none" stroke="#6a6a6a" stroke-width="0.8" stroke-dasharray="15 14 16 7 7 13" stroke-dashoffset="86" transform="matrix(1,0,0,0.529,0,33.07)"/>
<use href="#a1" fill="none" stroke="#212121" stroke-width="1.0" stroke-dasharray="5 12 10 5 11 7" stroke-dashoffset="200" transform="matrix(1,0,0,0.856,0,15.00)"/>
<use href="#a1" fill="none" stroke="#8b8b8b" stroke-width="0.6" stroke-dasharray="3 19 8 9 4 18" stroke-dashoffset="101" transform="matrix(1,0,0,0.303,0,45.57)"/>
<use href="#a1" fill="none" stroke="#303030" stroke-width="0.7" stroke-dasharray="8 12 8 5 17 5" stroke-dashoffset="36" transform="matrix(1,0,0,0.384,0,41.10)"/>
<use href="#a1" fill="none" stroke="#828282" stroke-width="0.7" stroke-dasharray="17 11 16 3 4 4" stroke-dashoffset="45" transform="matrix(1,0,0,0.260,0,47.95)"/>
<use href="#a1" fill="none" stroke="#363636" stroke-width="0.8" stroke-dasharray="15 18 13 15 16 14" stroke-dashoffset="39" transform="matrix(1,0,0,0.559,0,31.42)"/>
<use href="#a1" fill="none" stroke="#191919" stroke-width="1.0" stroke-dasharray="20 13 11 19 6 8" stroke-dashoffset="47" transform="matrix(1,0,0,0.780,0,19.19)"/>
<use href="#a1" fill="none" stroke="#727272" stroke-width="1.2" stroke-dasharray="19 10 16 13 19 6" stroke-dashoffset="161" transform="matrix(1,0,0,0.931,0,10.86)"/>
<use href="#a1" fill="none" stroke="#6e6e6e" stroke-width="0.9" stroke-dasharray="3 18 9 13 5 8" stroke-dashoffset="61" transform="matrix(1,0,0,0.802,0,18.02)"/>
<use href="#a1" fill="none" stroke="#313131" stroke-width="0.8" stroke-dasharray="15 13 5 18 20 13" stroke-dashoffset="146" transform="matrix(1,0,0,0.621,0,27.98)"/>
<use href="#a1" fill="none" stroke="#2b2b2b" stroke-width="1.2" stroke-dasharray="8 4 20 4 6 8" stroke-dashoffset="177" transform="matrix(1,0,0,0.898,0,12.70)"/>
<use href="#a1" fill="none" stroke="#414141" stroke-width="0.9" stroke-dasharray="11 20 10 12 10 9" stroke-dashoffset="11" transform="matrix(1,0,0,0.965,0,8.96)"/>
<use href="#a1" fill="none" stroke="#2f2f2f" stroke-width="1.0" stroke-dasharray="14 10 17 5 8 6" stroke-dashoffset="143" transform="matrix(1,0,0,0.428,0,38.65)"/>
<use href="#a1" fill="none" stroke="#242424" stroke-width="1.2" stroke-dasharray="20 16 8 10 14 16" stroke-dashoffset="175" transform="matrix(1,0,0,0.111,0,56.20)"/>
<use href="#a1" fill="none" stroke="#1a1a1a" stroke-width="1.3" stroke-dasharray="6 11 7 8 14 9" stroke-dashoffset="60" transform="matrix(1,0,0,0.947,0,9.96)"/>
<use href="#a1" fill="none" stroke="#393939" stroke-width="1.2" stroke-dasharray="8 18 5 8 15 13" stroke-dashoffset="144" transform="matrix(1,0,0,0.827,0,16.64)"/>
<use href="#a1" fill="none" stroke="#4a4a4a" stroke-width="1.3" stroke-dasharray="16 20 6 13 9 13" stroke-dashoffset="91" transform="matrix(1,0,0,0.320,0,44.67)"/>
<use href="#a1" fill="none" stroke="#414141" stroke-width="1.3" stroke-dasharray="20 9 15 3 4 12" stroke-dashoffset="149" transform="matrix(1,0,0,0.723,0,22.39)"/>
<use href="#a1" fill="none" stroke="#595959" stroke-width="1.4" stroke-dasharray="14 17 17 15 20 11" stroke-dashoffset="35" transform="matrix(1,0,0,0.991,0,7.56)"/>
<use href="#a1" fill="none" stroke="#8c8c8c" stroke-width="1.1" stroke-dasharray="4 5 20 20 19 6" stroke-dashoffset="86" transform="matrix(1,0,0,0.783,0,19.02)"/>
<use href="#a1" fill="none" stroke="#373737" stroke-width="0.9" stroke-dasharray="14 7 14 20 14 15" stroke-dashoffset="17" transform="matrix(1,0,0,0.319,0,44.69)"/>
<use href="#a1" fill="none" stroke="#929292" stroke-width="0.8" stroke-dasharray="9 14 16 16 16 9" stroke-dashoffset="86" transform="matrix(1,0,0,0.554,0,31.69)"/>
<use href="#a1" fill="none" stroke="#545454" stroke-width="0.9" stroke-dasharray="17 14 4 9 8 18" stroke-dashoffset="156" transform="matrix(1,0,0,0.699,0,23.70)"/>
<use href="#a1" fill="none" stroke="#272727" stroke-width="0.7" stroke-dasharray="9 5 14 16 10 7" stroke-dashoffset="194" transform="matrix(1,0,0,0.778,0,19.31)"/>
<use href="#a1" fill="none" stroke="#616161" stroke-width="1.0" stroke-dasharray="4 7 17 20 9 6" stroke-dashoffset="187" transform="matrix(1,0,0,0.472,0,36.23)"/>
<use href="#a1" fill="none" stroke="#464646" stroke-width="1.0" stroke-dasharray="8 15 6 20 18 16" stroke-dashoffset="72" transform="matrix(1,0,0,0.760,0,20.34)"/>
<use href="#a1" fill="none" stroke="#272727" stroke-width="1.1" stroke-dasharray="14 10 18 15 19 6" stroke-dashoffset="104" transform="matrix(1,0,0,0.977,0,8.31)"/>
<use href="#a1" fill="none" stroke="#282828" stroke-width="1.1" stroke-dasharray="19 14 4 3 11 6" stroke-dashoffset="39" transform="matrix(1,0,0,0.787,0,18.83)"/>
<use href="#a1" fill="none" stroke="#2e2e2e" stroke-width="0.8" stroke-dasharray="12 14 12 4 11 11" stroke-dashoffset="3" transform="matrix(1,0,0,0.916,0,11.68)"/>
<use href="#a1" fill="none" stroke="#3d3d3d" stroke-width="1.3" stroke-dasharray="11 11 10 6 4 12" stroke-dashoffset="62" transform="matrix(1,0,0,0.392,0,40.64)"/>
<use href="#a1" fill="none" stroke="#1f1f1f" stroke-width="1.1" stroke-dasharray="11 12 6 10 14 10" stroke-dashoffset="17" transform="matrix(1,0,0,0.689,0,24.23)"/>
<use href="#a1" fill="none" stroke="#757575" stroke-width="1.4" stroke-dasharray="3 7 14 20 10 9" stroke-dashoffset="11" transform="matrix(1,0,0,0.842,0,15.79)"/>
<use href="#a1" fill="none" stroke="#7a7a7a" stroke-width="1.0" stroke-dasharray="17 20 7 17 5 17" stroke-dashoffset="12" transform="matrix(1,0,0,0.536,0,32.73)"/>
<use href="#a1" fill="none" stroke="#3a3a3a" stroke-width="1.3" stroke-dasharray="18 9 8 9 12 6" stroke-dashoffset="32" transform="matrix(1,0,0,0.818,0,17.12)"/>
<use href="#a1" fill="none" stroke="#7d7d7d" stroke-width="1.3" stroke-dasharray="16 11 7 19 20 14" stroke-dashoffset="86" transform="matrix(1,0,0,0.785,0,18.92)"/>
<use href="#a1" fill="none" stroke="#7f7f7f" stroke-width="1.2" stroke-dasharray="11 10 5 12 13 11" stroke-dashoffset="83" transform="matrix(1,0,0,0.737,0,21.61)"/>
<use href="#a1" fill="none" stroke="#6b6b6b" stroke-width="1.0" stroke-dasharray="19 20 12 14 5 20" stroke-dashoffset="56" transform="matrix(1,0,0,0.125,0,55.44)"/>
<use href="#a1" fill="none" stroke="#767676" stroke-width="1.1" stroke-dasharray="15 5 4 11 11 5" stroke-dashoffset="21" transform="matrix(1,0,0,0.379,0,41.36)"/>
<use href="#a1" fill="none" stroke="#313131" stroke-width="0.9" stroke-dasharray="19 13 16 13 19 3" stroke-dashoffset="22" transform="matrix(1,0,0,0.645,0,26.66)"/>
<use href="#a1" fill="none" stroke="#7f7f7f" stroke-width="0.8" stroke-dasharray="20 15 15 6 19 7" stroke-dashoffset="188" transform="matrix(1,0,0,0.283,0,46.66)"/>
<rect x="202.1" y="53.4" width="162.80" height="145.20" filter="url(#streakD)" opacity="0.4"/><rect x="202.1" y="53.4" width="162.80" height="145.20" filter="url(#streakL)" opacity="0.15"/>
</g>
<rect x="202.1" y="53.4" width="162.80" height="1.00" fill="#8a8a8a"/>
<rect x="202.1" y="54.4" width="162.80" height="5.10" fill="#202020"/>
<rect x="202.1" y="59.5" width="162.80" height="1.00" fill="#707070"/>
<rect x="202.1" y="60.5" width="162.80" height="2.10" fill="#b0b0b0"/>
<rect x="202.1" y="62.6" width="162.80" height="1.20" fill="#707070"/>
<rect x="202.1" y="63.8" width="162.80" height="1.70" fill="#333333"/>
<path d="M200.8,56.1H288.6" stroke="#323232" stroke-width="1.2"/>
<path d="M339.8,55.5H429.5" stroke="#3a3a3a" stroke-width="1.2"/>
<path d="M303.1,58.8H356.1" stroke="#2d2d2d" stroke-width="1.3"/>
<path d="M202.9,59.4H314.5" stroke="#414141" stroke-width="0.8"/>
<path d="M323.6,58.9H393.3" stroke="#373737" stroke-width="1.3"/>
<path d="M250.3,57.3H292.3" stroke="#414141" stroke-width="1.1"/>
<path d="M216.2,58.4H299.7" stroke="#4b4b4b" stroke-width="0.8"/>
<path d="M275.3,55.4H331.8" stroke="#3b3b3b" stroke-width="0.6"/>
<path d="M217.2,57.8H336" stroke="#2e2e2e" stroke-width="1.2"/>
<path d="M243.7,56.8H269.6" stroke="#484848" stroke-width="0.9"/>
<path d="M252,57.5H332.4" stroke="#4e4e4e" stroke-width="0.9"/>
<path d="M314.6,55.9H396.8" stroke="#2d2d2d" stroke-width="0.7"/>
<use href="#a1" fill="none" stroke="#6a6a6a" stroke-width="1.2"/>
<use href="#pf1" fill="#363636"/>
<g clip-path="url(#c1pw)">
<use href="#pf1" fill="#8a8a8a" transform="matrix(1,0,0,0.520,0,96.31)"/>
<use href="#pf1" fill="#f4f4f4" transform="matrix(1,0,0,0.490,0,105.21)"/>
<use href="#pf1" fill="#a8a8a8" transform="matrix(1,0,0,0.480,0,109.94)"/>
<use href="#pf1" fill="#b4b4b4" transform="matrix(1,0,0,0.350,0,134.79)"/>
<use href="#pf1" fill="#c8c8c8" transform="matrix(1,0,0,0.100,0,179.66)"/>
<use href="#p1" fill="none" stroke="#3d3d3d" stroke-width="0.8" stroke-dasharray="37 57 58 14 22 44" stroke-dashoffset="7" transform="matrix(1,0,0,0.944,0,11.08)"/>
<use href="#p1" fill="none" stroke="#808080" stroke-width="0.9" stroke-dasharray="45 40 40 14 37 25" stroke-dashoffset="51" transform="matrix(1,0,0,0.960,0,7.84)"/>
<use href="#p1" fill="none" stroke="#717171" stroke-width="0.9" stroke-dasharray="28 35 10 44 15 24" stroke-dashoffset="159" transform="matrix(1,0,0,0.927,0,14.50)"/>
<use href="#p1" fill="none" stroke="#252525" stroke-width="0.9" stroke-dasharray="36 18 48 18 21 16" stroke-dashoffset="124" transform="matrix(1,0,0,0.863,0,27.78)"/>
<use href="#p1" fill="none" stroke="#2c2c2c" stroke-width="0.9" stroke-dasharray="28 21 19 55 30 49" stroke-dashoffset="192" transform="matrix(1,0,0,0.697,0,61.96)"/>
<use href="#p1" fill="none" stroke="#393939" stroke-width="1.0" stroke-dasharray="48 30 17 13 32 49" stroke-dashoffset="115" transform="matrix(1,0,0,0.660,0,69.44)"/>
<use href="#p1" fill="none" stroke="#818181" stroke-width="0.7" stroke-dasharray="17 55 42 25 29 10" stroke-dashoffset="156" transform="matrix(1,0,0,0.591,0,83.68)"/>
<use href="#p1" fill="none" stroke="#969696" stroke-width="0.9" stroke-dasharray="57 41 14 25 27 37" stroke-dashoffset="28" transform="matrix(1,0,0,0.695,0,62.30)"/>
<use href="#p1" fill="none" stroke="#717171" stroke-width="0.5" stroke-dasharray="17 20 29 46 51 16" stroke-dashoffset="13" transform="matrix(1,0,0,0.849,0,30.61)"/>
<use href="#p1" fill="none" stroke="#999999" stroke-width="0.6" stroke-dasharray="11 40 41 39 51 51" stroke-dashoffset="81" transform="matrix(1,0,0,0.890,0,22.24)"/>
<use href="#p1" fill="none" stroke="#838383" stroke-width="0.5" stroke-dasharray="43 24 48 58 60 56" stroke-dashoffset="170" transform="matrix(1,0,0,0.931,0,13.80)"/>
<use href="#p1" fill="none" stroke="#939393" stroke-width="0.7" stroke-dasharray="49 44 29 54 55 35" stroke-dashoffset="28" transform="matrix(1,0,0,0.683,0,64.70)"/>
<use href="#p1" fill="none" stroke="#252525" stroke-width="0.9" stroke-dasharray="51 58 12 15 58 41" stroke-dashoffset="174" transform="matrix(1,0,0,0.933,0,13.35)"/>
<use href="#p1" fill="none" stroke="#515151" stroke-width="0.9" stroke-dasharray="31 58 44 16 33 55" stroke-dashoffset="142" transform="matrix(1,0,0,0.879,0,24.48)"/>
<use href="#p1" fill="none" stroke="#616161" stroke-width="0.7" stroke-dasharray="54 32 50 43 22 20" stroke-dashoffset="106" transform="matrix(1,0,0,0.556,0,90.92)"/>
<use href="#p1" fill="none" stroke="#9c9c9c" stroke-width="0.7" stroke-dasharray="13 22 31 19 60 56" stroke-dashoffset="65" transform="matrix(1,0,0,0.609,0,79.92)"/>
<use href="#p1" fill="none" stroke="#7d7d7d" stroke-width="0.9" stroke-dasharray="50 25 45 45 36 39" stroke-dashoffset="152" transform="matrix(1,0,0,0.593,0,83.20)"/>
<use href="#p1" fill="none" stroke="#292929" stroke-width="0.8" stroke-dasharray="20 13 55 18 21 34" stroke-dashoffset="86" transform="matrix(1,0,0,0.693,0,62.74)"/>
<use href="#p1" fill="none" stroke="#626262" stroke-width="0.6" stroke-dasharray="22 36 33 12 22 44" stroke-dashoffset="146" transform="matrix(1,0,0,0.638,0,73.93)"/>
<use href="#p1" fill="none" stroke="#868686" stroke-width="0.6" stroke-dasharray="35 47 30 18 57 32" stroke-dashoffset="56" transform="matrix(1,0,0,0.786,0,43.62)"/>
<use href="#p1" fill="none" stroke="#404040" stroke-width="0.7" stroke-dasharray="23 50 24 52 38 17" stroke-dashoffset="19" transform="matrix(1,0,0,0.657,0,70.07)"/>
<use href="#p1" fill="none" stroke="#4c4c4c" stroke-width="0.9" stroke-dasharray="19 18 32 41 43 14" stroke-dashoffset="15" transform="matrix(1,0,0,0.598,0,82.33)"/>
<use href="#p1" fill="none" stroke="#6a6a6a" stroke-width="0.5" stroke-dasharray="23 48 42 23 27 25" stroke-dashoffset="27" transform="matrix(1,0,0,0.597,0,82.34)"/>
<use href="#p1" fill="none" stroke="#7d7d7d" stroke-width="0.6" stroke-dasharray="14 22 58 14 20 51" stroke-dashoffset="120" transform="matrix(1,0,0,0.704,0,60.33)"/>
<use href="#p1" fill="none" stroke="#1e1e1e" stroke-width="0.5" stroke-dasharray="12 29 19 28 15 41" stroke-dashoffset="177" transform="matrix(1,0,0,0.857,0,28.89)"/>
<use href="#p1" fill="none" stroke="#919191" stroke-width="1.0" stroke-dasharray="41 43 47 25 11 15" stroke-dashoffset="139" transform="matrix(1,0,0,0.560,0,89.96)"/>
<use href="#p1" fill="none" stroke="#3e3e3e" stroke-width="0.7" stroke-dasharray="15 48 44 36 41 15" stroke-dashoffset="49" transform="matrix(1,0,0,0.665,0,68.48)"/>
<use href="#p1" fill="none" stroke="#6f6f6f" stroke-width="0.8" stroke-dasharray="58 55 24 53 48 40" stroke-dashoffset="83" transform="matrix(1,0,0,0.617,0,78.33)"/>
<use href="#p1" fill="none" stroke="#4c4c4c" stroke-width="0.5" stroke-dasharray="35 49 41 57 48 46" stroke-dashoffset="56" transform="matrix(1,0,0,0.912,0,17.75)"/>
<use href="#p1" fill="none" stroke="#242424" stroke-width="0.8" stroke-dasharray="44 51 27 57 49 37" stroke-dashoffset="69" transform="matrix(1,0,0,0.897,0,20.76)"/>
<use href="#p1" fill="none" stroke="#6d6d6d" stroke-width="0.5" stroke-dasharray="10 13 60 22 60 22" stroke-dashoffset="92" transform="matrix(1,0,0,0.660,0,69.49)"/>
<use href="#p1" fill="none" stroke="#3d3d3d" stroke-width="0.5" stroke-dasharray="23 44 27 10 19 47" stroke-dashoffset="92" transform="matrix(1,0,0,0.637,0,74.18)"/>
<use href="#p1" fill="none" stroke="#777777" stroke-width="0.6" stroke-dasharray="22 14 22 21 14 21" stroke-dashoffset="128" transform="matrix(1,0,0,0.586,0,84.73)"/>
<use href="#p1" fill="none" stroke="#8d8d8d" stroke-width="0.5" stroke-dasharray="14 56 51 20 36 27" stroke-dashoffset="54" transform="matrix(1,0,0,0.696,0,62.06)"/>
<use href="#p1" fill="none" stroke="#222222" stroke-width="0.7" stroke-dasharray="45 58 43 32 40 30" stroke-dashoffset="2" transform="matrix(1,0,0,0.562,0,89.55)"/>
<use href="#p1" fill="none" stroke="#5d5d5d" stroke-width="0.5" stroke-dasharray="35 32 44 53 18 60" stroke-dashoffset="81" transform="matrix(1,0,0,0.911,0,17.81)"/>
<use href="#p1" fill="none" stroke="#3c3c3c" stroke-width="0.7" stroke-dasharray="52 15 17 35 35 29" stroke-dashoffset="194" transform="matrix(1,0,0,0.556,0,90.81)"/>
<use href="#p1" fill="none" stroke="#9b9b9b" stroke-width="0.8" stroke-dasharray="43 28 40 35 23 56" stroke-dashoffset="65" transform="matrix(1,0,0,0.668,0,67.84)"/>
<use href="#p1" fill="none" stroke="#575757" stroke-width="0.5" stroke-dasharray="60 45 11 34 44 28" stroke-dashoffset="100" transform="matrix(1,0,0,0.933,0,13.30)"/>
<use href="#p1" fill="none" stroke="#898989" stroke-width="0.5" stroke-dasharray="54 21 58 56 13 56" stroke-dashoffset="185" transform="matrix(1,0,0,0.925,0,14.99)"/>
<use href="#p1" fill="none" stroke="#3c3c3c" stroke-width="0.8" stroke-dasharray="46 36 37 49 40 43" stroke-dashoffset="100" transform="matrix(1,0,0,0.814,0,37.72)"/>
<use href="#p1" fill="none" stroke="#8c8c8c" stroke-width="1.0" stroke-dasharray="35 37 57 30 60 20" stroke-dashoffset="173" transform="matrix(1,0,0,0.965,0,6.70)"/>
<use href="#p1" fill="none" stroke="#3c3c3c" stroke-width="0.9" stroke-dasharray="60 49 37 35 19 43" stroke-dashoffset="128" transform="matrix(1,0,0,0.604,0,81.06)"/>
<use href="#p1" fill="none" stroke="#4b4b4b" stroke-width="0.9" stroke-dasharray="17 39 30 11 60 38" stroke-dashoffset="70" transform="matrix(1,0,0,0.766,0,47.62)"/>
<use href="#p1" fill="none" stroke="#7f7f7f" stroke-width="0.5" stroke-dasharray="59 29 57 60 22 31" stroke-dashoffset="148" transform="matrix(1,0,0,0.962,0,7.47)"/>
<use href="#p1" fill="none" stroke="#707070" stroke-width="1.0" stroke-dasharray="41 25 37 50 44 39" stroke-dashoffset="152" transform="matrix(1,0,0,0.770,0,46.77)"/>
<use href="#p1" fill="none" stroke="#4e4e4e" stroke-width="0.9" stroke-dasharray="11 50 27 54 23 25" stroke-dashoffset="70" transform="matrix(1,0,0,0.691,0,63.20)"/>
<use href="#p1" fill="none" stroke="#5d5d5d" stroke-width="0.5" stroke-dasharray="11 22 19 31 13 32" stroke-dashoffset="86" transform="matrix(1,0,0,0.680,0,65.46)"/>
<use href="#p1" fill="none" stroke="#727272" stroke-width="1.0" stroke-dasharray="30 24 40 16 41 49" stroke-dashoffset="97" transform="matrix(1,0,0,0.772,0,46.54)"/>
<use href="#p1" fill="none" stroke="#636363" stroke-width="0.8" stroke-dasharray="42 12 58 40 26 22" stroke-dashoffset="90" transform="matrix(1,0,0,0.601,0,81.58)"/>
<use href="#p1" fill="none" stroke="#262626" stroke-width="0.8" stroke-dasharray="14 28 44 35 50 24" stroke-dashoffset="182" transform="matrix(1,0,0,0.697,0,61.77)"/>
<use href="#p1" fill="none" stroke="#545454" stroke-width="0.7" stroke-dasharray="46 39 53 19 43 21" stroke-dashoffset="39" transform="matrix(1,0,0,0.622,0,77.36)"/>
<use href="#p1" fill="none" stroke="#3d3d3d" stroke-width="0.6" stroke-dasharray="55 46 18 18 16 52" stroke-dashoffset="164" transform="matrix(1,0,0,0.887,0,22.81)"/>
<use href="#p1" fill="none" stroke="#3f3f3f" stroke-width="0.7" stroke-dasharray="27 47 19 14 14 25" stroke-dashoffset="66" transform="matrix(1,0,0,0.908,0,18.51)"/>
<use href="#p1" fill="none" stroke="#959595" stroke-width="0.9" stroke-dasharray="29 20 32 51 35 25" stroke-dashoffset="84" transform="matrix(1,0,0,0.628,0,76.01)"/>
<use href="#p1" fill="none" stroke="#3a3a3a" stroke-width="0.9" stroke-dasharray="18 48 49 10 25 54" stroke-dashoffset="156" transform="matrix(1,0,0,0.618,0,78.22)"/>
<use href="#p1" fill="none" stroke="#9d9d9d" stroke-width="0.9" stroke-dasharray="25 12 51 54 16 16" stroke-dashoffset="88" transform="matrix(1,0,0,0.822,0,36.22)"/>
<use href="#p1" fill="none" stroke="#757575" stroke-width="0.7" stroke-dasharray="30 36 50 20 46 48" stroke-dashoffset="128" transform="matrix(1,0,0,0.963,0,7.13)"/>
<use href="#p1" fill="none" stroke="#818181" stroke-width="1.0" stroke-dasharray="23 36 54 57 41 37" stroke-dashoffset="166" transform="matrix(1,0,0,1.000,0,-0.36)"/>
<use href="#p1" fill="none" stroke="#898989" stroke-width="1.0" stroke-dasharray="22 10 55 51 12 33" stroke-dashoffset="171" transform="matrix(1,0,0,0.585,0,84.93)"/>
<use href="#p1" fill="none" stroke="#222222" stroke-width="0.8" stroke-dasharray="40 26 13 30 42 56" stroke-dashoffset="119" transform="matrix(1,0,0,0.617,0,78.34)"/>
<use href="#p1" fill="none" stroke="#6a6a6a" stroke-width="0.9" stroke-dasharray="36 21 57 23 40 55" stroke-dashoffset="7" transform="matrix(1,0,0,0.929,0,14.08)"/>
<use href="#p1" fill="none" stroke="#3b3b3b" stroke-width="0.8" stroke-dasharray="46 33 40 11 13 16" stroke-dashoffset="26" transform="matrix(1,0,0,0.846,0,31.28)"/>
<use href="#p1" fill="none" stroke="#6c6c6c" stroke-width="0.9" stroke-dasharray="39 22 56 33 38 55" stroke-dashoffset="198" transform="matrix(1,0,0,0.963,0,7.09)"/>
<use href="#p1" fill="none" stroke="#424242" stroke-width="0.7" stroke-dasharray="59 38 17 32 50 35" stroke-dashoffset="155" transform="matrix(1,0,0,0.871,0,26.17)"/>
<use href="#p1" fill="none" stroke="#646464" stroke-width="0.5" stroke-dasharray="44 59 58 13 26 11" stroke-dashoffset="32" transform="matrix(1,0,0,0.728,0,55.42)"/>
<use href="#p1" fill="none" stroke="#8b8b8b" stroke-width="1.0" stroke-dasharray="15 21 50 33 12 60" stroke-dashoffset="84" transform="matrix(1,0,0,0.800,0,40.66)"/>
<use href="#p1" fill="none" stroke="#717171" stroke-width="0.6" stroke-dasharray="43 50 28 52 12 51" stroke-dashoffset="1" transform="matrix(1,0,0,0.784,0,43.92)"/>
<use href="#p1" fill="none" stroke="#3a3a3a" stroke-width="0.7" stroke-dasharray="17 20 18 15 43 13" stroke-dashoffset="174" transform="matrix(1,0,0,0.721,0,56.94)"/>
<use href="#p1" fill="none" stroke="#626262" stroke-width="0.5" stroke-dasharray="38 37 22 14 54 36" stroke-dashoffset="53" transform="matrix(1,0,0,0.676,0,66.20)"/>
<use href="#p1" fill="none" stroke="#8f8f8f" stroke-width="0.6" stroke-dasharray="46 13 36 12 50 21" stroke-dashoffset="93" transform="matrix(1,0,0,0.889,0,22.29)"/>
<use href="#p1" fill="none" stroke="#7b7b7b" stroke-width="0.8" stroke-dasharray="24 38 50 28 54 17" stroke-dashoffset="156" transform="matrix(1,0,0,0.623,0,77.02)"/>
<use href="#p1" fill="none" stroke="#5c5c5c" stroke-width="0.8" stroke-dasharray="59 33 28 41 36 11" stroke-dashoffset="156" transform="matrix(1,0,0,0.779,0,44.91)"/>
<use href="#p1" fill="none" stroke="#272727" stroke-width="0.7" stroke-dasharray="57 23 35 15 19 20" stroke-dashoffset="53" transform="matrix(1,0,0,0.801,0,40.57)"/>
<use href="#p1" fill="none" stroke="#969696" stroke-width="0.8" stroke-dasharray="38 10 15 53 21 38" stroke-dashoffset="145" transform="matrix(1,0,0,0.699,0,61.47)"/>
<use href="#p1" fill="none" stroke="#bcbcbc" stroke-width="0.9" stroke-dasharray="8 14 15 18 11 19" stroke-dashoffset="117" transform="matrix(1,0,0,0.339,0,141.51)"/>
<use href="#p1" fill="none" stroke="#5c5c5c" stroke-width="0.9" stroke-dasharray="8 13 11 12 17 6" stroke-dashoffset="52" transform="matrix(1,0,0,0.314,0,146.99)"/>
<use href="#p1" fill="none" stroke="#d7d7d7" stroke-width="1.5" stroke-dasharray="14 5 13 16 19 8" stroke-dashoffset="30" transform="matrix(1,0,0,0.309,0,148.05)"/>
<use href="#p1" fill="none" stroke="#4b4b4b" stroke-width="1.6" stroke-dasharray="12 13 17 6 18 18" stroke-dashoffset="15" transform="matrix(1,0,0,0.408,0,126.26)"/>
<use href="#p1" fill="none" stroke="#9f9f9f" stroke-width="1.4" stroke-dasharray="3 8 5 11 6 14" stroke-dashoffset="186" transform="matrix(1,0,0,0.470,0,112.79)"/>
<use href="#p1" fill="none" stroke="#767676" stroke-width="1.2" stroke-dasharray="5 17 17 5 4 11" stroke-dashoffset="118" transform="matrix(1,0,0,0.398,0,128.56)"/>
<use href="#p1" fill="none" stroke="#b5b5b5" stroke-width="1.7" stroke-dasharray="16 19 3 15 18 20" stroke-dashoffset="120" transform="matrix(1,0,0,0.359,0,137.10)"/>
<use href="#p1" fill="none" stroke="#b5b5b5" stroke-width="1.5" stroke-dasharray="4 5 3 14 9 6" stroke-dashoffset="80" transform="matrix(1,0,0,0.429,0,121.61)"/>
<use href="#p1" fill="none" stroke="#bfbfbf" stroke-width="0.7" stroke-dasharray="10 20 16 12 13 7" stroke-dashoffset="61" transform="matrix(1,0,0,0.444,0,118.44)"/>
<use href="#p1" fill="none" stroke="#aaaaaa" stroke-width="0.8" stroke-dasharray="20 3 10 11 18 17" stroke-dashoffset="102" transform="matrix(1,0,0,0.371,0,134.38)"/>
<use href="#p1" fill="none" stroke="#bdbdbd" stroke-width="1.3" stroke-dasharray="9 4 8 10 8 15" stroke-dashoffset="189" transform="matrix(1,0,0,0.344,0,140.35)"/>
<use href="#p1" fill="none" stroke="#a4a4a4" stroke-width="1.2" stroke-dasharray="14 16 13 10 16 9" stroke-dashoffset="117" transform="matrix(1,0,0,0.363,0,136.26)"/>
<use href="#p1" fill="none" stroke="#ababab" stroke-width="0.7" stroke-dasharray="10 7 12 19 6 12" stroke-dashoffset="81" transform="matrix(1,0,0,0.329,0,143.69)"/>
<use href="#p1" fill="none" stroke="#676767" stroke-width="0.9" stroke-dasharray="8 4 14 3 17 6" stroke-dashoffset="66" transform="matrix(1,0,0,0.325,0,144.50)"/>
<use href="#p1" fill="none" stroke="#acacac" stroke-width="0.9" stroke-dasharray="9 17 4 6 11 11" stroke-dashoffset="44" transform="matrix(1,0,0,0.359,0,137.05)"/>
<use href="#p1" fill="none" stroke="#4f4f4f" stroke-width="1.1" stroke-dasharray="20 11 16 14 20 13" stroke-dashoffset="129" transform="matrix(1,0,0,0.350,0,138.91)"/>
<use href="#p1" fill="none" stroke="#5e5e5e" stroke-width="0.7" stroke-dasharray="16 12 5 3 11 5" stroke-dashoffset="130" transform="matrix(1,0,0,0.441,0,119.13)"/>
<use href="#p1" fill="none" stroke="#4f4f4f" stroke-width="1.2" stroke-dasharray="18 10 12 11 11 5" stroke-dashoffset="181" transform="matrix(1,0,0,0.326,0,144.21)"/>
<use href="#p1" fill="none" stroke="#7d7d7d" stroke-width="1.8" stroke-dasharray="11 17 7 8 9 4" stroke-dashoffset="18" transform="matrix(1,0,0,0.413,0,125.32)"/>
<use href="#p1" fill="none" stroke="#4b4b4b" stroke-width="1.4" stroke-dasharray="18 10 3 6 5 4" stroke-dashoffset="70" transform="matrix(1,0,0,0.321,0,145.46)"/>
<use href="#p1" fill="none" stroke="#828282" stroke-width="1.4" stroke-dasharray="8 3 7 15 14 5" stroke-dashoffset="45" transform="matrix(1,0,0,0.308,0,148.19)"/>
<use href="#p1" fill="none" stroke="#a7a7a7" stroke-width="1.7" stroke-dasharray="16 13 14 16 17 17" stroke-dashoffset="32" transform="matrix(1,0,0,0.387,0,130.94)"/>
<use href="#p1" fill="none" stroke="#d9d9d9" stroke-width="1.8" stroke-dasharray="17 11 7 15 5 11" stroke-dashoffset="173" transform="matrix(1,0,0,0.373,0,133.91)"/>
<use href="#p1" fill="none" stroke="#4f4f4f" stroke-width="0.8" stroke-dasharray="18 7 6 17 7 18" stroke-dashoffset="140" transform="matrix(1,0,0,0.352,0,138.53)"/>
<use href="#p1" fill="none" stroke="#555555" stroke-width="0.9" stroke-dasharray="4 19 16 8 7 8" stroke-dashoffset="10" transform="matrix(1,0,0,0.301,0,149.81)"/>
<use href="#p1" fill="none" stroke="#bcbcbc" stroke-width="1.2" stroke-dasharray="3 20 10 10 12 5" stroke-dashoffset="32" transform="matrix(1,0,0,0.453,0,116.42)"/>
<use href="#p1" fill="none" stroke="#c3c3c3" stroke-width="1.8" stroke-dasharray="11 5 20 14 16 13" stroke-dashoffset="21" transform="matrix(1,0,0,0.338,0,141.71)"/>
<use href="#p1" fill="none" stroke="#898989" stroke-width="0.9" stroke-dasharray="20 11 14 20 5 4" stroke-dashoffset="113" transform="matrix(1,0,0,0.436,0,120.18)"/>
<use href="#p1" fill="none" stroke="#616161" stroke-width="1.4" stroke-dasharray="10 19 17 20 18 18" stroke-dashoffset="71" transform="matrix(1,0,0,0.417,0,124.34)"/>
<use href="#p1" fill="none" stroke="#535353" stroke-width="1.4" stroke-dasharray="3 11 15 18 16 4" stroke-dashoffset="174" transform="matrix(1,0,0,0.394,0,129.43)"/>
<use href="#p1" fill="none" stroke="#929292" stroke-width="1.1" stroke-dasharray="9 15 12 7 7 19" stroke-dashoffset="86" transform="matrix(1,0,0,0.385,0,131.39)"/>
<use href="#p1" fill="none" stroke="#a0a0a0" stroke-width="1.0" stroke-dasharray="18 5 5 10 5 7" stroke-dashoffset="125" transform="matrix(1,0,0,0.317,0,146.17)"/>
<use href="#p1" fill="none" stroke="#989898" stroke-width="1.1" stroke-dasharray="4 8 15 20 15 13" stroke-dashoffset="6" transform="matrix(1,0,0,0.402,0,127.65)"/>
<use href="#p1" fill="none" stroke="#a0a0a0" stroke-width="0.8" stroke-dasharray="12 9 14 16 14 15" stroke-dashoffset="34" transform="matrix(1,0,0,0.424,0,122.87)"/>
<use href="#p1" fill="none" stroke="#b7b7b7" stroke-width="1.1" stroke-dasharray="17 15 9 9 17 12" stroke-dashoffset="68" transform="matrix(1,0,0,0.430,0,121.54)"/>
<use href="#p1" fill="none" stroke="#b6b6b6" stroke-width="1.7" stroke-dasharray="15 4 4 8 7 16" stroke-dashoffset="78" transform="matrix(1,0,0,0.446,0,117.91)"/>
<use href="#p1" fill="none" stroke="#d4d4d4" stroke-width="1.0" stroke-dasharray="17 6 3 16 20 19" stroke-dashoffset="119" transform="matrix(1,0,0,0.434,0,120.59)"/>
<use href="#p1" fill="none" stroke="#6e6e6e" stroke-width="1.8" stroke-dasharray="16 4 19 13 18 13" stroke-dashoffset="98" transform="matrix(1,0,0,0.459,0,115.15)"/>
<use href="#p1" fill="none" stroke="#727272" stroke-width="1.4" stroke-dasharray="13 19 4 3 6 10" stroke-dashoffset="32" transform="matrix(1,0,0,0.334,0,142.61)"/>
<use href="#p1" fill="none" stroke="#b6b6b6" stroke-width="1.8" stroke-dasharray="4 3 18 7 10 12" stroke-dashoffset="153" transform="matrix(1,0,0,0.378,0,132.94)"/>
<use href="#p1" fill="none" stroke="#a9a9a9" stroke-width="0.7" stroke-dasharray="15 5 10 13 18 12" stroke-dashoffset="177" transform="matrix(1,0,0,0.304,0,149.03)"/>
<use href="#p1" fill="none" stroke="#cacaca" stroke-width="1.3" stroke-dasharray="8 11 4 8 18 10" stroke-dashoffset="61" transform="matrix(1,0,0,0.463,0,114.18)"/>
<use href="#p1" fill="none" stroke="#bdbdbd" stroke-width="1.2" stroke-dasharray="18 15 16 16 4 7" stroke-dashoffset="172" transform="matrix(1,0,0,0.399,0,128.31)"/>
<use href="#p1" fill="none" stroke="#767676" stroke-width="1.5" stroke-dasharray="19 14 7 4 17 17" stroke-dashoffset="178" transform="matrix(1,0,0,0.314,0,146.98)"/>
<use href="#p1" fill="none" stroke="#d5d5d5" stroke-width="1.5" stroke-dasharray="12 14 8 8 16 16" stroke-dashoffset="185" transform="matrix(1,0,0,0.406,0,126.72)"/>
<use href="#p1" fill="none" stroke="#5b5b5b" stroke-width="0.6" stroke-dasharray="5 3 6 3 9 4" stroke-dashoffset="54" transform="matrix(1,0,0,0.339,0,141.45)"/>
<use href="#p1" fill="none" stroke="#c0c0c0" stroke-width="1.3" stroke-dasharray="15 15 5 13 6 19" stroke-dashoffset="74" transform="matrix(1,0,0,0.455,0,115.91)"/>
<use href="#p1" fill="none" stroke="#c9c9c9" stroke-width="1.4" stroke-dasharray="11 7 5 10 14 5" stroke-dashoffset="182" transform="matrix(1,0,0,0.328,0,143.73)"/>
<use href="#p1" fill="none" stroke="#838383" stroke-width="1.1" stroke-dasharray="6 4 7 20 3 4" stroke-dashoffset="96" transform="matrix(1,0,0,0.333,0,142.69)"/>
<use href="#p1" fill="none" stroke="#626262" stroke-width="0.9" stroke-dasharray="20 18 6 19 3 6" stroke-dashoffset="152" transform="matrix(1,0,0,0.479,0,110.83)"/>
<use href="#p1" fill="none" stroke="#8a8a8a" stroke-width="1.3"/>
<rect x="202.1" y="53.4" width="162.80" height="145.20" filter="url(#streakD)" opacity="0.25"/><rect x="202.1" y="53.4" width="162.80" height="145.20" filter="url(#streakL)" opacity="0.1"/>
</g>
</g>
<path d="M280.4,98.6V153" stroke="#e8e8e8" stroke-width="1.4"/>
<path d="M305.8,87.5V173.8" stroke="#e8e8e8" stroke-width="1.4"/>
<text x="247.07" y="122" font-size="15" fill="#f4f4f4" textLength="49.65" lengthAdjust="spacingAndGlyphs">LVESD</text>
<text x="289.77" y="145.5" font-size="15" fill="#f4f4f4" textLength="49.95" lengthAdjust="spacingAndGlyphs">LVEDD</text>
<g clip-path="url(#c2)">
<rect x="35.8" y="236.5" width="163.00" height="146.10" fill="#060606"/>
<rect x="35.8" y="236.5" width="163.00" height="146.10" filter="url(#speck)" opacity="0.24"/>
<use href="#af2" fill="#222222"/>
<g clip-path="url(#c2aw)">
<use href="#a2" fill="none" stroke="#535353" stroke-width="1.2" stroke-dasharray="4 12 9 7 3 19" stroke-dashoffset="176" transform="matrix(1,0,0,0.381,0,159.10)"/>
<use href="#a2" fill="none" stroke="#282828" stroke-width="0.7" stroke-dasharray="18 14 3 18 20 18" stroke-dashoffset="149" transform="matrix(1,0,0,0.799,0,60.59)"/>
<use href="#a2" fill="none" stroke="#373737" stroke-width="0.8" stroke-dasharray="16 5 18 7 8 3" stroke-dashoffset="159" transform="matrix(1,0,0,0.106,0,224.00)"/>
<use href="#a2" fill="none" stroke="#5b5b5b" stroke-width="0.8" stroke-dasharray="3 20 7 15 18 10" stroke-dashoffset="17" transform="matrix(1,0,0,0.880,0,41.37)"/>
<use href="#a2" fill="none" stroke="#2a2a2a" stroke-width="0.6" stroke-dasharray="6 3 17 16 8 7" stroke-dashoffset="109" transform="matrix(1,0,0,0.833,0,52.47)"/>
<use href="#a2" fill="none" stroke="#202020" stroke-width="0.8" stroke-dasharray="13 11 10 8 15 8" stroke-dashoffset="121" transform="matrix(1,0,0,0.811,0,57.68)"/>
<use href="#a2" fill="none" stroke="#333333" stroke-width="0.8" stroke-dasharray="18 10 19 10 17 16" stroke-dashoffset="162" transform="matrix(1,0,0,0.690,0,86.30)"/>
<use href="#a2" fill="none" stroke="#3c3c3c" stroke-width="1.0" stroke-dasharray="10 4 8 11 18 13" stroke-dashoffset="87" transform="matrix(1,0,0,0.052,0,236.67)"/>
<use href="#a2" fill="none" stroke="#212121" stroke-width="1.1" stroke-dasharray="16 17 8 3 3 8" stroke-dashoffset="155" transform="matrix(1,0,0,0.425,0,148.68)"/>
<use href="#a2" fill="none" stroke="#191919" stroke-width="1.2" stroke-dasharray="4 15 20 3 13 14" stroke-dashoffset="183" transform="matrix(1,0,0,0.600,0,107.46)"/>
<use href="#a2" fill="none" stroke="#454545" stroke-width="1.0" stroke-dasharray="6 16 12 18 8 6" stroke-dashoffset="149" transform="matrix(1,0,0,0.708,0,82.04)"/>
<use href="#a2" fill="none" stroke="#1b1b1b" stroke-width="1.0" stroke-dasharray="4 4 8 3 11 13" stroke-dashoffset="160" transform="matrix(1,0,0,0.664,0,92.39)"/>
<use href="#a2" fill="none" stroke="#161616" stroke-width="0.8" stroke-dasharray="18 10 19 15 18 5" stroke-dashoffset="11" transform="matrix(1,0,0,0.018,0,244.83)"/>
<use href="#a2" fill="none" stroke="#3a3a3a" stroke-width="0.9" stroke-dasharray="5 10 7 15 10 10" stroke-dashoffset="109" transform="matrix(1,0,0,0.630,0,100.39)"/>
<use href="#a2" fill="none" stroke="#292929" stroke-width="0.8" stroke-dasharray="7 9 20 18 7 14" stroke-dashoffset="13" transform="matrix(1,0,0,0.537,0,122.32)"/>
<use href="#a2" fill="none" stroke="#333333" stroke-width="1.2" stroke-dasharray="9 6 12 4 18 7" stroke-dashoffset="125" transform="matrix(1,0,0,0.469,0,138.28)"/>
<use href="#a2" fill="none" stroke="#5a5a5a" stroke-width="0.9" stroke-dasharray="12 7 10 3 18 3" stroke-dashoffset="67" transform="matrix(1,0,0,0.642,0,97.52)"/>
<use href="#a2" fill="none" stroke="#363636" stroke-width="1.2" stroke-dasharray="7 9 19 15 7 5" stroke-dashoffset="54" transform="matrix(1,0,0,0.163,0,210.54)"/>
<use href="#a2" fill="none" stroke="#5b5b5b" stroke-width="1.1" stroke-dasharray="10 7 16 12 12 15" stroke-dashoffset="132" transform="matrix(1,0,0,0.370,0,161.83)"/>
<use href="#a2" fill="none" stroke="#5a5a5a" stroke-width="1.2" stroke-dasharray="5 9 4 3 14 6" stroke-dashoffset="120" transform="matrix(1,0,0,0.557,0,117.59)"/>
<use href="#a2" fill="none" stroke="#363636" stroke-width="0.7" stroke-dasharray="18 13 9 16 13 16" stroke-dashoffset="91" transform="matrix(1,0,0,0.794,0,61.83)"/>
<use href="#a2" fill="none" stroke="#404040" stroke-width="1.1" stroke-dasharray="12 20 8 14 7 5" stroke-dashoffset="48" transform="matrix(1,0,0,0.201,0,201.56)"/>
<use href="#a2" fill="none" stroke="#171717" stroke-width="0.8" stroke-dasharray="11 8 10 13 17 5" stroke-dashoffset="147" transform="matrix(1,0,0,0.191,0,203.98)"/>
<use href="#a2" fill="none" stroke="#323232" stroke-width="0.7" stroke-dasharray="10 14 3 8 19 15" stroke-dashoffset="192" transform="matrix(1,0,0,0.570,0,114.65)"/>
<use href="#a2" fill="none" stroke="#1c1c1c" stroke-width="0.7" stroke-dasharray="7 6 8 8 6 13" stroke-dashoffset="159" transform="matrix(1,0,0,0.029,0,242.18)"/>
<use href="#a2" fill="none" stroke="#464646" stroke-width="1.0" stroke-dasharray="11 15 10 9 12 16" stroke-dashoffset="156" transform="matrix(1,0,0,0.881,0,41.20)"/>
<use href="#a2" fill="none" stroke="#262626" stroke-width="0.6" stroke-dasharray="12 17 6 4 18 6" stroke-dashoffset="0" transform="matrix(1,0,0,0.674,0,90.15)"/>
<use href="#a2" fill="none" stroke="#494949" stroke-width="1.0" stroke-dasharray="10 16 4 9 9 4" stroke-dashoffset="7" transform="matrix(1,0,0,0.354,0,165.46)"/>
<use href="#a2" fill="none" stroke="#1c1c1c" stroke-width="0.7" stroke-dasharray="7 12 3 18 4 18" stroke-dashoffset="135" transform="matrix(1,0,0,0.011,0,246.51)"/>
<use href="#a2" fill="none" stroke="#363636" stroke-width="0.8" stroke-dasharray="5 20 12 7 20 12" stroke-dashoffset="53" transform="matrix(1,0,0,0.009,0,246.90)"/>
<use href="#a2" fill="none" stroke="#323232" stroke-width="1.0" stroke-dasharray="16 18 11 11 16 10" stroke-dashoffset="41" transform="matrix(1,0,0,0.806,0,58.81)"/>
<use href="#a2" fill="none" stroke="#161616" stroke-width="1.1" stroke-dasharray="14 15 12 19 10 20" stroke-dashoffset="135" transform="matrix(1,0,0,0.624,0,101.89)"/>
<use href="#a2" fill="none" stroke="#404040" stroke-width="0.9" stroke-dasharray="11 12 17 3 16 9" stroke-dashoffset="17" transform="matrix(1,0,0,0.618,0,103.19)"/>
<use href="#a2" fill="none" stroke="#393939" stroke-width="1.2" stroke-dasharray="12 10 16 15 7 7" stroke-dashoffset="28" transform="matrix(1,0,0,0.805,0,59.07)"/>
<use href="#a2" fill="none" stroke="#2e2e2e" stroke-width="0.8" stroke-dasharray="18 15 15 14 5 19" stroke-dashoffset="177" transform="matrix(1,0,0,0.895,0,38.02)"/>
<use href="#a2" fill="none" stroke="#161616" stroke-width="0.8" stroke-dasharray="19 9 3 13 11 17" stroke-dashoffset="17" transform="matrix(1,0,0,0.347,0,167.08)"/>
<use href="#a2" fill="none" stroke="#5a5a5a" stroke-width="0.8" stroke-dasharray="17 18 15 15 19 12" stroke-dashoffset="130" transform="matrix(1,0,0,0.418,0,150.39)"/>
<use href="#a2" fill="none" stroke="#272727" stroke-width="0.8" stroke-dasharray="12 12 3 15 15 9" stroke-dashoffset="133" transform="matrix(1,0,0,0.227,0,195.58)"/>
<use href="#a2" fill="none" stroke="#606060" stroke-width="1.2" stroke-dasharray="10 18 10 12 18 16" stroke-dashoffset="20" transform="matrix(1,0,0,0.119,0,220.94)"/>
<use href="#a2" fill="none" stroke="#4a4a4a" stroke-width="1.2" stroke-dasharray="20 16 6 5 10 20" stroke-dashoffset="192" transform="matrix(1,0,0,0.613,0,104.43)"/>
<use href="#a2" fill="none" stroke="#484848" stroke-width="0.8" stroke-dasharray="20 15 16 10 15 18" stroke-dashoffset="91" transform="matrix(1,0,0,0.767,0,68.22)"/>
<use href="#a2" fill="none" stroke="#232323" stroke-width="0.8" stroke-dasharray="13 20 18 19 12 7" stroke-dashoffset="166" transform="matrix(1,0,0,0.818,0,56.20)"/>
<use href="#a2" fill="none" stroke="#4a4a4a" stroke-width="1.0" stroke-dasharray="7 13 18 20 20 3" stroke-dashoffset="73" transform="matrix(1,0,0,0.527,0,124.67)"/>
<use href="#a2" fill="none" stroke="#242424" stroke-width="1.1" stroke-dasharray="10 11 7 4 11 5" stroke-dashoffset="64" transform="matrix(1,0,0,0.654,0,94.73)"/>
<use href="#a2" fill="none" stroke="#585858" stroke-width="1.3" stroke-dasharray="8 11 5 5 4 17" stroke-dashoffset="139" transform="matrix(1,0,0,0.344,0,167.99)"/>
<use href="#a2" fill="none" stroke="#575757" stroke-width="1.1" stroke-dasharray="14 11 15 12 19 15" stroke-dashoffset="64" transform="matrix(1,0,0,0.947,0,25.64)"/>
<use href="#a2" fill="none" stroke="#4b4b4b" stroke-width="1.1" stroke-dasharray="15 20 3 19 3 5" stroke-dashoffset="126" transform="matrix(1,0,0,0.828,0,53.66)"/>
<use href="#a2" fill="none" stroke="#404040" stroke-width="0.8" stroke-dasharray="18 20 20 10 20 20" stroke-dashoffset="190" transform="matrix(1,0,0,0.724,0,78.21)"/>
<use href="#a2" fill="none" stroke="#494949" stroke-width="1.0" stroke-dasharray="13 12 8 4 20 12" stroke-dashoffset="154" transform="matrix(1,0,0,0.853,0,47.88)"/>
<use href="#a2" fill="none" stroke="#4e4e4e" stroke-width="1.2" stroke-dasharray="7 18 13 7 17 10" stroke-dashoffset="34" transform="matrix(1,0,0,0.079,0,230.43)"/>
<use href="#a2" fill="none" stroke="#2f2f2f" stroke-width="1.0" stroke-dasharray="20 14 13 3 20 12" stroke-dashoffset="113" transform="matrix(1,0,0,0.841,0,50.69)"/>
<use href="#a2" fill="none" stroke="#161616" stroke-width="1.3" stroke-dasharray="16 16 8 3 4 16" stroke-dashoffset="9" transform="matrix(1,0,0,0.813,0,57.27)"/>
<use href="#a2" fill="none" stroke="#5e5e5e" stroke-width="0.8" stroke-dasharray="6 9 15 3 6 11" stroke-dashoffset="33" transform="matrix(1,0,0,0.082,0,229.73)"/>
<use href="#a2" fill="none" stroke="#292929" stroke-width="1.1" stroke-dasharray="14 5 12 10 14 18" stroke-dashoffset="55" transform="matrix(1,0,0,0.160,0,211.24)"/>
<use href="#a2" fill="none" stroke="#505050" stroke-width="0.6" stroke-dasharray="3 11 9 18 14 20" stroke-dashoffset="146" transform="matrix(1,0,0,0.150,0,213.59)"/>
<use href="#a2" fill="none" stroke="#5b5b5b" stroke-width="1.0" stroke-dasharray="18 5 7 9 20 8" stroke-dashoffset="136" transform="matrix(1,0,0,0.248,0,190.44)"/>
<use href="#a2" fill="none" stroke="#323232" stroke-width="1.2" stroke-dasharray="17 16 19 14 8 6" stroke-dashoffset="44" transform="matrix(1,0,0,0.596,0,108.42)"/>
<use href="#a2" fill="none" stroke="#636363" stroke-width="1.1" stroke-dasharray="8 15 7 8 4 16" stroke-dashoffset="136" transform="matrix(1,0,0,0.266,0,186.20)"/>
<use href="#a2" fill="none" stroke="#444444" stroke-width="0.7" stroke-dasharray="20 12 4 4 7 7" stroke-dashoffset="178" transform="matrix(1,0,0,0.293,0,179.89)"/>
<use href="#a2" fill="none" stroke="#3b3b3b" stroke-width="1.2" stroke-dasharray="3 16 18 3 16 9" stroke-dashoffset="167" transform="matrix(1,0,0,0.209,0,199.71)"/>
<use href="#a2" fill="none" stroke="#1e1e1e" stroke-width="0.6" stroke-dasharray="7 13 15 18 6 5" stroke-dashoffset="52" transform="matrix(1,0,0,0.156,0,212.20)"/>
<use href="#a2" fill="none" stroke="#292929" stroke-width="0.6" stroke-dasharray="7 11 6 19 6 6" stroke-dashoffset="164" transform="matrix(1,0,0,0.430,0,147.59)"/>
<use href="#a2" fill="none" stroke="#303030" stroke-width="0.8" stroke-dasharray="11 4 3 8 6 20" stroke-dashoffset="100" transform="matrix(1,0,0,0.102,0,224.92)"/>
<use href="#a2" fill="none" stroke="#1a1a1a" stroke-width="0.7" stroke-dasharray="14 15 20 13 16 9" stroke-dashoffset="87" transform="matrix(1,0,0,0.278,0,183.51)"/>
<use href="#a2" fill="none" stroke="#141414" stroke-width="1.0" stroke-dasharray="8 11 6 17 16 12" stroke-dashoffset="43" transform="matrix(1,0,0,0.099,0,225.56)"/>
<use href="#a2" fill="none" stroke="#323232" stroke-width="0.7" stroke-dasharray="19 14 11 5 18 8" stroke-dashoffset="117" transform="matrix(1,0,0,0.083,0,229.48)"/>
<use href="#a2" fill="none" stroke="#5a5a5a" stroke-width="0.8" stroke-dasharray="9 15 4 8 4 20" stroke-dashoffset="69" transform="matrix(1,0,0,0.608,0,105.70)"/>
<use href="#a2" fill="none" stroke="#4c4c4c" stroke-width="1.1" stroke-dasharray="18 14 14 10 15 9" stroke-dashoffset="168" transform="matrix(1,0,0,0.137,0,216.74)"/>
<use href="#a2" fill="none" stroke="#424242" stroke-width="0.7" stroke-dasharray="12 7 20 10 7 6" stroke-dashoffset="198" transform="matrix(1,0,0,0.913,0,33.66)"/>
<use href="#a2" fill="none" stroke="#4a4a4a" stroke-width="1.1" stroke-dasharray="16 6 17 19 6 17" stroke-dashoffset="67" transform="matrix(1,0,0,0.566,0,115.50)"/>
<use href="#a2" fill="none" stroke="#595959" stroke-width="0.9" stroke-dasharray="16 16 14 8 7 18" stroke-dashoffset="114" transform="matrix(1,0,0,0.032,0,241.46)"/>
<use href="#a2" fill="none" stroke="#252525" stroke-width="1.1" stroke-dasharray="10 3 16 15 11 12" stroke-dashoffset="45" transform="matrix(1,0,0,0.940,0,27.27)"/>
<use href="#a2" fill="none" stroke="#5a5a5a" stroke-width="0.9" stroke-dasharray="20 6 5 10 18 6" stroke-dashoffset="67" transform="matrix(1,0,0,0.689,0,86.54)"/>
<use href="#a2" fill="none" stroke="#202020" stroke-width="0.7" stroke-dasharray="10 15 4 15 3 8" stroke-dashoffset="56" transform="matrix(1,0,0,0.007,0,247.37)"/>
<use href="#a2" fill="none" stroke="#444444" stroke-width="0.9" stroke-dasharray="3 6 15 8 19 11" stroke-dashoffset="74" transform="matrix(1,0,0,0.784,0,64.15)"/>
<use href="#a2" fill="none" stroke="#5e5e5e" stroke-width="1.2" stroke-dasharray="3 19 17 13 10 3" stroke-dashoffset="197" transform="matrix(1,0,0,0.211,0,199.15)"/>
<use href="#a2" fill="none" stroke="#454545" stroke-width="1.0" stroke-dasharray="16 6 6 4 9 4" stroke-dashoffset="122" transform="matrix(1,0,0,0.161,0,211.07)"/>
<use href="#a2" fill="none" stroke="#272727" stroke-width="0.7" stroke-dasharray="16 13 15 17 9 20" stroke-dashoffset="120" transform="matrix(1,0,0,0.787,0,63.50)"/>
<use href="#a2" fill="none" stroke="#3f3f3f" stroke-width="1.2" stroke-dasharray="10 8 3 5 12 4" stroke-dashoffset="180" transform="matrix(1,0,0,0.245,0,191.18)"/>
<use href="#a2" fill="none" stroke="#4a4a4a" stroke-width="0.8" stroke-dasharray="12 11 5 15 3 9" stroke-dashoffset="59" transform="matrix(1,0,0,0.388,0,157.61)"/>
<use href="#a2" fill="none" stroke="#353535" stroke-width="1.2" stroke-dasharray="15 12 13 16 8 16" stroke-dashoffset="193" transform="matrix(1,0,0,0.443,0,144.60)"/>
<use href="#a2" fill="none" stroke="#2f2f2f" stroke-width="1.2" stroke-dasharray="17 19 15 9 9 13" stroke-dashoffset="100" transform="matrix(1,0,0,0.472,0,137.75)"/>
<use href="#a2" fill="none" stroke="#393939" stroke-width="1.1" stroke-dasharray="12 9 14 19 18 15" stroke-dashoffset="61" transform="matrix(1,0,0,0.463,0,139.84)"/>
<use href="#a2" fill="none" stroke="#474747" stroke-width="1.0" stroke-dasharray="17 5 9 7 20 19" stroke-dashoffset="101" transform="matrix(1,0,0,0.420,0,149.96)"/>
<use href="#a2" fill="none" stroke="#4b4b4b" stroke-width="1.0" stroke-dasharray="19 4 16 12 5 6" stroke-dashoffset="181" transform="matrix(1,0,0,0.703,0,83.11)"/>
<use href="#a2" fill="none" stroke="#5c5c5c" stroke-width="1.2" stroke-dasharray="9 8 14 13 6 12" stroke-dashoffset="12" transform="matrix(1,0,0,0.235,0,193.66)"/>
<use href="#a2" fill="none" stroke="#505050" stroke-width="1.2" stroke-dasharray="20 19 8 9 4 10" stroke-dashoffset="35" transform="matrix(1,0,0,0.428,0,148.07)"/>
<use href="#a2" fill="none" stroke="#1e1e1e" stroke-width="0.9" stroke-dasharray="7 16 17 16 9 4" stroke-dashoffset="109" transform="matrix(1,0,0,0.714,0,80.57)"/>
<use href="#a2" fill="none" stroke="#313131" stroke-width="1.2" stroke-dasharray="19 7 5 9 13 8" stroke-dashoffset="183" transform="matrix(1,0,0,0.563,0,116.32)"/>
<use href="#a2" fill="none" stroke="#5d5d5d" stroke-width="1.0" stroke-dasharray="17 20 12 20 18 4" stroke-dashoffset="50" transform="matrix(1,0,0,0.633,0,99.76)"/>
<use href="#a2" fill="none" stroke="#1c1c1c" stroke-width="0.7" stroke-dasharray="14 10 8 12 17 12" stroke-dashoffset="197" transform="matrix(1,0,0,0.627,0,101.14)"/>
<use href="#a2" fill="none" stroke="#4b4b4b" stroke-width="1.2" stroke-dasharray="13 19 11 10 19 14" stroke-dashoffset="43" transform="matrix(1,0,0,0.618,0,103.16)"/>
<use href="#a2" fill="none" stroke="#585858" stroke-width="0.6" stroke-dasharray="3 20 8 4 4 3" stroke-dashoffset="23" transform="matrix(1,0,0,0.045,0,238.44)"/>
<use href="#a2" fill="none" stroke="#2b2b2b" stroke-width="0.9" stroke-dasharray="13 11 6 8 17 15" stroke-dashoffset="168" transform="matrix(1,0,0,0.080,0,230.13)"/>
<use href="#a2" fill="none" stroke="#1a1a1a" stroke-width="0.9" stroke-dasharray="18 4 20 9 8 9" stroke-dashoffset="161" transform="matrix(1,0,0,0.836,0,51.74)"/>
<use href="#a2" fill="none" stroke="#242424" stroke-width="0.8" stroke-dasharray="5 11 8 3 10 11" stroke-dashoffset="104" transform="matrix(1,0,0,0.688,0,86.86)"/>
<use href="#a2" fill="none" stroke="#444444" stroke-width="1.3" stroke-dasharray="7 5 17 13 13 6" stroke-dashoffset="158" transform="matrix(1,0,0,0.390,0,156.94)"/>
<use href="#a2" fill="none" stroke="#5a5a5a" stroke-width="0.9" stroke-dasharray="12 4 19 18 9 9" stroke-dashoffset="121" transform="matrix(1,0,0,0.590,0,109.89)"/>
<use href="#a2" fill="none" stroke="#3a3a3a" stroke-width="1.2" stroke-dasharray="9 20 18 18 10 13" stroke-dashoffset="178" transform="matrix(1,0,0,0.286,0,181.58)"/>
<use href="#a2" fill="none" stroke="#151515" stroke-width="1.3" stroke-dasharray="6 9 17 9 12 14" stroke-dashoffset="14" transform="matrix(1,0,0,0.097,0,226.11)"/>
<use href="#a2" fill="none" stroke="#303030" stroke-width="1.2" stroke-dasharray="12 13 6 20 13 19" stroke-dashoffset="20" transform="matrix(1,0,0,0.035,0,240.63)"/>
<use href="#a2" fill="none" stroke="#5b5b5b" stroke-width="0.8" stroke-dasharray="5 14 8 16 17 9" stroke-dashoffset="169" transform="matrix(1,0,0,0.683,0,87.92)"/>
<use href="#a2" fill="none" stroke="#606060" stroke-width="0.8" stroke-dasharray="7 6 5 11 11 9" stroke-dashoffset="157" transform="matrix(1,0,0,0.440,0,145.32)"/>
<use href="#a2" fill="none" stroke="#5a5a5a" stroke-width="0.8" stroke-dasharray="5 16 8 12 16 15" stroke-dashoffset="101" transform="matrix(1,0,0,0.087,0,228.47)"/>
<use href="#a2" fill="none" stroke="#1d1d1d" stroke-width="1.2" stroke-dasharray="14 14 8 18 20 5" stroke-dashoffset="157" transform="matrix(1,0,0,0.340,0,168.80)"/>
<use href="#a2" fill="none" stroke="#292929" stroke-width="1.1" stroke-dasharray="12 13 7 19 8 8" stroke-dashoffset="86" transform="matrix(1,0,0,0.884,0,40.55)"/>
<use href="#a2" fill="none" stroke="#3d3d3d" stroke-width="1.1" stroke-dasharray="8 3 12 5 18 9" stroke-dashoffset="112" transform="matrix(1,0,0,0.920,0,32.08)"/>
<use href="#a2" fill="none" stroke="#494949" stroke-width="1.1" stroke-dasharray="12 16 13 4 8 17" stroke-dashoffset="8" transform="matrix(1,0,0,0.272,0,184.92)"/>
<use href="#a2" fill="none" stroke="#4f4f4f" stroke-width="0.8" stroke-dasharray="20 3 17 11 13 11" stroke-dashoffset="199" transform="matrix(1,0,0,0.180,0,206.47)"/>
<use href="#a2" fill="none" stroke="#464646" stroke-width="1.2" stroke-dasharray="20 12 10 7 8 16" stroke-dashoffset="127" transform="matrix(1,0,0,0.645,0,97.00)"/>
<use href="#a2" fill="none" stroke="#242424" stroke-width="0.7" stroke-dasharray="12 12 19 13 9 4" stroke-dashoffset="195" transform="matrix(1,0,0,0.774,0,66.48)"/>
<use href="#a2" fill="none" stroke="#303030" stroke-width="0.8" stroke-dasharray="13 3 20 18 4 8" stroke-dashoffset="18" transform="matrix(1,0,0,0.295,0,179.50)"/>
<use href="#a2" fill="none" stroke="#2c2c2c" stroke-width="1.0" stroke-dasharray="3 7 4 15 18 16" stroke-dashoffset="140" transform="matrix(1,0,0,0.908,0,34.94)"/>
<use href="#a2" fill="none" stroke="#505050" stroke-width="0.7" stroke-dasharray="5 19 6 11 10 4" stroke-dashoffset="185" transform="matrix(1,0,0,0.722,0,78.83)"/>
<use href="#a2" fill="none" stroke="#191919" stroke-width="0.6" stroke-dasharray="9 3 5 7 11 10" stroke-dashoffset="42" transform="matrix(1,0,0,0.064,0,233.97)"/>
<use href="#a2" fill="none" stroke="#1b1b1b" stroke-width="1.1" stroke-dasharray="17 3 18 18 5 6" stroke-dashoffset="167" transform="matrix(1,0,0,0.643,0,97.31)"/>
<use href="#a2" fill="none" stroke="#5c5c5c" stroke-width="0.7" stroke-dasharray="19 16 16 14 15 11" stroke-dashoffset="123" transform="matrix(1,0,0,0.813,0,57.35)"/>
<use href="#a2" fill="none" stroke="#323232" stroke-width="0.7" stroke-dasharray="16 6 4 12 8 8" stroke-dashoffset="97" transform="matrix(1,0,0,0.161,0,211.08)"/>
<use href="#a2" fill="none" stroke="#272727" stroke-width="0.8" stroke-dasharray="3 20 11 18 10 6" stroke-dashoffset="159" transform="matrix(1,0,0,0.151,0,213.41)"/>
<use href="#a2" fill="none" stroke="#4d4d4d" stroke-width="0.8" stroke-dasharray="8 16 14 6 4 7" stroke-dashoffset="31" transform="matrix(1,0,0,0.623,0,102.12)"/>
<use href="#a2" fill="none" stroke="#333333" stroke-width="1.2" stroke-dasharray="18 15 17 8 8 4" stroke-dashoffset="56" transform="matrix(1,0,0,0.919,0,32.18)"/>
<use href="#a2" fill="none" stroke="#212121" stroke-width="0.9" stroke-dasharray="17 15 11 5 11 14" stroke-dashoffset="83" transform="matrix(1,0,0,0.498,0,131.50)"/>
<use href="#a2" fill="none" stroke="#262626" stroke-width="1.3" stroke-dasharray="15 15 7 9 6 13" stroke-dashoffset="60" transform="matrix(1,0,0,0.051,0,237.03)"/>
<use href="#a2" fill="none" stroke="#282828" stroke-width="0.9" stroke-dasharray="15 20 19 6 15 6" stroke-dashoffset="67" transform="matrix(1,0,0,0.214,0,198.51)"/>
<use href="#a2" fill="none" stroke="#202020" stroke-width="1.3" stroke-dasharray="4 15 11 12 12 7" stroke-dashoffset="49" transform="matrix(1,0,0,0.422,0,149.53)"/>
<use href="#a2" fill="none" stroke="#1f1f1f" stroke-width="0.7" stroke-dasharray="3 19 13 16 19 16" stroke-dashoffset="93" transform="matrix(1,0,0,0.266,0,186.32)"/>
<use href="#a2" fill="none" stroke="#161616" stroke-width="0.9" stroke-dasharray="15 17 17 14 6 6" stroke-dashoffset="90" transform="matrix(1,0,0,0.638,0,98.52)"/>
<use href="#a2" fill="none" stroke="#191919" stroke-width="0.7" stroke-dasharray="4 19 13 3 4 17" stroke-dashoffset="117" transform="matrix(1,0,0,0.357,0,164.86)"/>
<use href="#a2" fill="none" stroke="#141414" stroke-width="1.0" stroke-dasharray="9 6 16 6 15 18" stroke-dashoffset="106" transform="matrix(1,0,0,0.707,0,82.38)"/>
<use href="#a2" fill="none" stroke="#3e3e3e" stroke-width="0.8" stroke-dasharray="16 20 11 20 4 6" stroke-dashoffset="4" transform="matrix(1,0,0,0.023,0,243.47)"/>
<rect x="35.8" y="236.5" width="163.00" height="146.10" filter="url(#streakD)" opacity="0.4"/><rect x="35.8" y="236.5" width="163.00" height="146.10" filter="url(#streakL)" opacity="0.1"/>
</g>
<rect x="35.8" y="236.5" width="163.00" height="11.50" fill="#121212"/>
<path d="M158,245.3H269" stroke="#232323" stroke-width="1.1"/>
<path d="M79.7,245.9H110.8" stroke="#353535" stroke-width="0.9"/>
<path d="M48,240.8H150.4" stroke="#212121" stroke-width="0.8"/>
<path d="M93,239.6H181" stroke="#252525" stroke-width="1.2"/>
<path d="M52,239H135.4" stroke="#232323" stroke-width="0.7"/>
<path d="M46.8,245.4H88.4" stroke="#2e2e2e" stroke-width="0.8"/>
<path d="M42.4,243.2H134.9" stroke="#303030" stroke-width="1.2"/>
<path d="M52.8,243H128" stroke="#212121" stroke-width="1.1"/>
<path d="M100.3,247.8H189.2" stroke="#2f2f2f" stroke-width="1.4"/>
<path d="M65.4,242.5H109.9" stroke="#303030" stroke-width="0.9"/>
<path d="M73.3,238.7H135.1" stroke="#373737" stroke-width="1.2"/>
<path d="M139.3,243.9H168.1" stroke="#1b1b1b" stroke-width="0.7"/>
<path d="M164.2,246.3H195.2" stroke="#373737" stroke-width="0.6"/>
<path d="M28.6,238.5H83.4" stroke="#2e2e2e" stroke-width="1.3"/>
<path d="M40.4,247H148.9" stroke="#2b2b2b" stroke-width="0.8"/>
<path d="M53.9,239.9H104.9" stroke="#333333" stroke-width="1.0"/>
<path d="M66.8,245.6H123.1" stroke="#272727" stroke-width="1.1"/>
<path d="M103.1,244.9H221.5" stroke="#2d2d2d" stroke-width="1.3"/>
<path d="M44.8,245.1H98.7" stroke="#343434" stroke-width="0.9"/>
<path d="M172.8,247.7H272.1" stroke="#262626" stroke-width="1.3"/>
<path d="M75,238.2H102.5" stroke="#343434" stroke-width="0.9"/>
<path d="M130.5,246H170.1" stroke="#232323" stroke-width="1.4"/>
<path d="M43.8,239.4H133" stroke="#2d2d2d" stroke-width="1.0"/>
<path d="M63,246.6H113.5" stroke="#2f2f2f" stroke-width="1.1"/>
<path d="M85.9,238H157.4" stroke="#202020" stroke-width="0.8"/>
<path d="M83.2,239.4H114.4" stroke="#1a1a1a" stroke-width="0.6"/>
<path d="M126.7,239.2H200.6" stroke="#333333" stroke-width="1.0"/>
<path d="M68.5,245.6H183.7" stroke="#2c2c2c" stroke-width="0.7"/>
<path d="M95,242.2H141.7" stroke="#212121" stroke-width="1.0"/>
<path d="M65.7,241.8H134.9" stroke="#383838" stroke-width="1.1"/>
<path d="M28,239.3H62.7" stroke="#1d1d1d" stroke-width="0.6"/>
<path d="M162.1,240.9H252.1" stroke="#242424" stroke-width="0.8"/>
<path d="M147.1,238.3H238.1" stroke="#252525" stroke-width="0.8"/>
<path d="M166.9,247.1H192.4" stroke="#252525" stroke-width="1.0"/>
<use href="#pf2" fill="#2c2c2c"/>
<g clip-path="url(#c2pw)">
<use href="#pf2" fill="#262626" transform="matrix(1,0,0,0.500,0,185.70)"/>
<use href="#pf2" fill="#8a8a8a" transform="matrix(1,0,0,0.280,0,267.37)"/>
<use href="#pf2" fill="#dcdcdc" transform="matrix(1,0,0,0.250,0,279.65)"/>
<use href="#pf2" fill="#f4f4f4" transform="matrix(1,0,0,0.220,0,292.33)"/>
<use href="#pf2" fill="#d4d4d4" transform="matrix(1,0,0,0.200,0,303.48)"/>
<use href="#pf2" fill="#bdbdbd" transform="matrix(1,0,0,0.160,0,320.78)"/>
<use href="#pf2" fill="#c8c8c8" transform="matrix(1,0,0,0.120,0,337.09)"/>
<use href="#p2" fill="none" stroke="#4c4c4c" stroke-width="0.9" stroke-dasharray="53 147 96 126 63 116" stroke-dashoffset="86" transform="matrix(1,0,0,0.704,0,112.04)"/>
<use href="#p2" fill="none" stroke="#767676" stroke-width="0.7" stroke-dasharray="136 36 133 117 70 127" stroke-dashoffset="48" transform="matrix(1,0,0,0.899,0,33.94)"/>
<use href="#p2" fill="none" stroke="#8e8e8e" stroke-width="0.7" stroke-dasharray="40 137 30 104 43 120" stroke-dashoffset="84" transform="matrix(1,0,0,0.577,0,162.81)"/>
<use href="#p2" fill="none" stroke="#868686" stroke-width="0.9" stroke-dasharray="94 59 120 149 35 39" stroke-dashoffset="72" transform="matrix(1,0,0,0.862,0,48.49)"/>
<use href="#p2" fill="none" stroke="#434343" stroke-width="0.7" stroke-dasharray="131 76 136 119 142 141" stroke-dashoffset="14" transform="matrix(1,0,0,0.955,0,11.41)"/>
<use href="#p2" fill="none" stroke="#828282" stroke-width="0.7" stroke-dasharray="97 116 57 62 90 146" stroke-dashoffset="158" transform="matrix(1,0,0,0.965,0,7.32)"/>
<use href="#p2" fill="none" stroke="#3a3a3a" stroke-width="0.6" stroke-dasharray="113 86 58 65 128 47" stroke-dashoffset="14" transform="matrix(1,0,0,0.706,0,111.13)"/>
<use href="#p2" fill="none" stroke="#7a7a7a" stroke-width="0.9" stroke-dasharray="45 144 91 128 35 69" stroke-dashoffset="102" transform="matrix(1,0,0,0.649,0,133.88)"/>
<use href="#p2" fill="none" stroke="#313131" stroke-width="0.8" stroke-dasharray="111 90 124 143 68 66" stroke-dashoffset="81" transform="matrix(1,0,0,0.936,0,18.85)"/>
<use href="#p2" fill="none" stroke="#2d2d2d" stroke-width="0.8" stroke-dasharray="59 118 126 108 128 85" stroke-dashoffset="19" transform="matrix(1,0,0,0.758,0,90.40)"/>
<use href="#p2" fill="none" stroke="#2e2e2e" stroke-width="0.9" stroke-dasharray="98 76 101 110 125 102" stroke-dashoffset="70" transform="matrix(1,0,0,0.528,0,182.31)"/>
<use href="#p2" fill="none" stroke="#555555" stroke-width="0.7" stroke-dasharray="41 80 112 52 115 75" stroke-dashoffset="82" transform="matrix(1,0,0,0.527,0,183.01)"/>
<use href="#p2" fill="none" stroke="#6d6d6d" stroke-width="0.7" stroke-dasharray="101 139 110 60 83 89" stroke-dashoffset="151" transform="matrix(1,0,0,0.889,0,37.74)"/>
<use href="#p2" fill="none" stroke="#8d8d8d" stroke-width="0.9" stroke-dasharray="126 33 130 98 56 68" stroke-dashoffset="112" transform="matrix(1,0,0,0.554,0,171.96)"/>
<use href="#p2" fill="none" stroke="#929292" stroke-width="0.6" stroke-dasharray="80 73 96 94 103 104" stroke-dashoffset="141" transform="matrix(1,0,0,0.915,0,27.37)"/>
<use href="#p2" fill="none" stroke="#666666" stroke-width="0.7" stroke-dasharray="70 106 55 72 76 33" stroke-dashoffset="80" transform="matrix(1,0,0,0.540,0,177.64)"/>
<use href="#p2" fill="none" stroke="#5a5a5a" stroke-width="0.6" stroke-dasharray="87 144 129 51 62 99" stroke-dashoffset="183" transform="matrix(1,0,0,0.711,0,109.17)"/>
<use href="#p2" fill="none" stroke="#6d6d6d" stroke-width="0.9" stroke-dasharray="132 107 67 63 126 123" stroke-dashoffset="90" transform="matrix(1,0,0,0.603,0,152.51)"/>
<use href="#p2" fill="none" stroke="#7f7f7f" stroke-width="0.6" stroke-dasharray="67 100 123 93 100 35" stroke-dashoffset="138" transform="matrix(1,0,0,0.998,0,-5.72)"/>
<use href="#p2" fill="none" stroke="#7c7c7c" stroke-width="0.5" stroke-dasharray="61 106 111 75 114 139" stroke-dashoffset="198" transform="matrix(1,0,0,0.642,0,136.98)"/>
<use href="#p2" fill="none" stroke="#5b5b5b" stroke-width="0.8" stroke-dasharray="47 120 131 117 145 73" stroke-dashoffset="180" transform="matrix(1,0,0,0.619,0,146.19)"/>
<use href="#p2" fill="none" stroke="#3f3f3f" stroke-width="0.8" stroke-dasharray="120 120 48 93 130 71" stroke-dashoffset="200" transform="matrix(1,0,0,0.524,0,184.14)"/>
<use href="#p2" fill="none" stroke="#969696" stroke-width="0.6" stroke-dasharray="41 31 72 107 50 109" stroke-dashoffset="156" transform="matrix(1,0,0,0.566,0,167.26)"/>
<use href="#p2" fill="none" stroke="#6d6d6d" stroke-width="0.8" stroke-dasharray="95 94 126 41 46 47" stroke-dashoffset="131" transform="matrix(1,0,0,0.922,0,24.47)"/>
<use href="#p2" fill="none" stroke="#737373" stroke-width="0.5" stroke-dasharray="31 77 47 63 65 51" stroke-dashoffset="55" transform="matrix(1,0,0,0.670,0,125.45)"/>
<use href="#p2" fill="none" stroke="#717171" stroke-width="0.8" stroke-dasharray="54 45 61 115 112 116" stroke-dashoffset="132" transform="matrix(1,0,0,0.854,0,51.79)"/>
<use href="#p2" fill="none" stroke="#5e5e5e" stroke-width="0.8" stroke-dasharray="106 62 128 78 72 128" stroke-dashoffset="25" transform="matrix(1,0,0,0.769,0,85.83)"/>
<use href="#p2" fill="none" stroke="#3d3d3d" stroke-width="0.7" stroke-dasharray="102 77 114 141 52 70" stroke-dashoffset="137" transform="matrix(1,0,0,0.543,0,176.57)"/>
<use href="#p2" fill="none" stroke="#2f2f2f" stroke-width="0.6" stroke-dasharray="74 99 93 108 111 146" stroke-dashoffset="140" transform="matrix(1,0,0,0.765,0,87.72)"/>
<use href="#p2" fill="none" stroke="#686868" stroke-width="0.7" stroke-dasharray="30 41 33 107 70 128" stroke-dashoffset="26" transform="matrix(1,0,0,0.776,0,83.18)"/>
<use href="#p2" fill="none" stroke="#6f6f6f" stroke-width="0.7" stroke-dasharray="144 73 141 33 147 74" stroke-dashoffset="59" transform="matrix(1,0,0,0.855,0,51.45)"/>
<use href="#p2" fill="none" stroke="#9b9b9b" stroke-width="0.9" stroke-dasharray="123 52 83 120 123 68" stroke-dashoffset="153" transform="matrix(1,0,0,0.983,0,0.40)"/>
<use href="#p2" fill="none" stroke="#939393" stroke-width="0.6" stroke-dasharray="53 115 126 82 102 93" stroke-dashoffset="198" transform="matrix(1,0,0,0.897,0,34.68)"/>
<use href="#p2" fill="none" stroke="#7d7d7d" stroke-width="0.7" stroke-dasharray="81 87 141 47 138 83" stroke-dashoffset="163" transform="matrix(1,0,0,0.514,0,188.01)"/>
<use href="#p2" fill="none" stroke="#797979" stroke-width="0.6" stroke-dasharray="150 109 130 40 114 49" stroke-dashoffset="100" transform="matrix(1,0,0,0.544,0,175.93)"/>
<use href="#p2" fill="none" stroke="#868686" stroke-width="0.8" stroke-dasharray="41 80 134 103 37 149" stroke-dashoffset="70" transform="matrix(1,0,0,0.851,0,53.05)"/>
<use href="#p2" fill="none" stroke="#919191" stroke-width="0.8" stroke-dasharray="110 35 75 124 114 128" stroke-dashoffset="195" transform="matrix(1,0,0,0.718,0,106.45)"/>
<use href="#p2" fill="none" stroke="#535353" stroke-width="0.8" stroke-dasharray="136 65 119 115 37 118" stroke-dashoffset="12" transform="matrix(1,0,0,0.751,0,93.13)"/>
<use href="#p2" fill="none" stroke="#2f2f2f" stroke-width="0.6" stroke-dasharray="89 43 131 119 39 40" stroke-dashoffset="13" transform="matrix(1,0,0,0.537,0,178.70)"/>
<use href="#p2" fill="none" stroke="#929292" stroke-width="0.9" stroke-dasharray="38 134 147 31 90 38" stroke-dashoffset="168" transform="matrix(1,0,0,0.990,0,-2.63)"/>
<use href="#p2" fill="none" stroke="#3d3d3d" stroke-width="0.7" stroke-dasharray="128 88 137 122 31 103" stroke-dashoffset="104" transform="matrix(1,0,0,0.854,0,51.79)"/>
<use href="#p2" fill="none" stroke="#7b7b7b" stroke-width="0.8" stroke-dasharray="42 65 42 142 128 47" stroke-dashoffset="93" transform="matrix(1,0,0,0.692,0,116.66)"/>
<use href="#p2" fill="none" stroke="#535353" stroke-width="0.6" stroke-dasharray="98 43 52 125 105 70" stroke-dashoffset="7" transform="matrix(1,0,0,0.864,0,47.76)"/>
<use href="#p2" fill="none" stroke="#898989" stroke-width="0.6" stroke-dasharray="62 77 123 139 132 107" stroke-dashoffset="86" transform="matrix(1,0,0,0.852,0,52.71)"/>
<use href="#p2" fill="none" stroke="#959595" stroke-width="0.6" stroke-dasharray="117 115 143 54 141 65" stroke-dashoffset="137" transform="matrix(1,0,0,0.748,0,94.23)"/>
<use href="#p2" fill="none" stroke="#6c6c6c" stroke-width="0.8" stroke-dasharray="43 94 149 100 31 98" stroke-dashoffset="45" transform="matrix(1,0,0,0.858,0,50.33)"/>
<use href="#p2" fill="none" stroke="#727272" stroke-width="0.6" stroke-dasharray="149 116 31 129 41 138" stroke-dashoffset="1" transform="matrix(1,0,0,0.632,0,140.66)"/>
<use href="#p2" fill="none" stroke="#5e5e5e" stroke-width="0.8" stroke-dasharray="131 126 117 118 36 144" stroke-dashoffset="110" transform="matrix(1,0,0,0.994,0,-4.12)"/>
<use href="#p2" fill="none" stroke="#909090" stroke-width="0.9" stroke-dasharray="67 132 73 93 36 111" stroke-dashoffset="26" transform="matrix(1,0,0,0.680,0,121.73)"/>
<use href="#p2" fill="none" stroke="#8e8e8e" stroke-width="0.8" stroke-dasharray="69 118 97 41 137 71" stroke-dashoffset="38" transform="matrix(1,0,0,0.687,0,118.91)"/>
<use href="#p2" fill="none" stroke="#929292" stroke-width="0.8" stroke-dasharray="114 40 45 140 43 146" stroke-dashoffset="147" transform="matrix(1,0,0,0.967,0,6.64)"/>
<use href="#p2" fill="none" stroke="#3b3b3b" stroke-width="0.8" stroke-dasharray="62 33 56 80 114 104" stroke-dashoffset="9" transform="matrix(1,0,0,0.677,0,122.84)"/>
<use href="#p2" fill="none" stroke="#434343" stroke-width="0.8" stroke-dasharray="142 71 72 35 43 145" stroke-dashoffset="138" transform="matrix(1,0,0,0.870,0,45.65)"/>
<use href="#p2" fill="none" stroke="#454545" stroke-width="0.5" stroke-dasharray="110 91 102 129 102 42" stroke-dashoffset="138" transform="matrix(1,0,0,0.790,0,77.54)"/>
<use href="#p2" fill="none" stroke="#474747" stroke-width="0.7" stroke-dasharray="63 140 51 30 148 68" stroke-dashoffset="129" transform="matrix(1,0,0,0.833,0,60.28)"/>
<use href="#p2" fill="none" stroke="#3f3f3f" stroke-width="0.9" stroke-dasharray="97 40 45 40 107 55" stroke-dashoffset="61" transform="matrix(1,0,0,0.816,0,67.01)"/>
<use href="#p2" fill="none" stroke="#858585" stroke-width="0.6" stroke-dasharray="38 119 140 104 77 116" stroke-dashoffset="147" transform="matrix(1,0,0,0.851,0,53.00)"/>
<use href="#p2" fill="none" stroke="#939393" stroke-width="0.8" stroke-dasharray="119 100 142 98 130 34" stroke-dashoffset="90" transform="matrix(1,0,0,0.581,0,161.06)"/>
<use href="#p2" fill="none" stroke="#6c6c6c" stroke-width="0.8" stroke-dasharray="147 83 91 72 73 116" stroke-dashoffset="72" transform="matrix(1,0,0,0.827,0,62.84)"/>
<use href="#p2" fill="none" stroke="#333333" stroke-width="0.5" stroke-dasharray="30 114 118 76 139 99" stroke-dashoffset="177" transform="matrix(1,0,0,0.889,0,37.98)"/>
<use href="#p2" fill="none" stroke="#787878" stroke-width="0.7" stroke-dasharray="81 124 35 35 102 40" stroke-dashoffset="148" transform="matrix(1,0,0,0.676,0,123.05)"/>
<use href="#p2" fill="none" stroke="#616161" stroke-width="0.8" stroke-dasharray="136 42 123 45 72 92" stroke-dashoffset="98" transform="matrix(1,0,0,0.576,0,163.21)"/>
<use href="#p2" fill="none" stroke="#2d2d2d" stroke-width="0.9" stroke-dasharray="73 62 69 58 98 87" stroke-dashoffset="124" transform="matrix(1,0,0,0.713,0,108.25)"/>
<use href="#p2" fill="none" stroke="#7c7c7c" stroke-width="0.7" stroke-dasharray="75 146 72 124 144 75" stroke-dashoffset="105" transform="matrix(1,0,0,0.978,0,2.40)"/>
<use href="#p2" fill="none" stroke="#5b5b5b" stroke-width="0.9" stroke-dasharray="58 62 117 54 129 144" stroke-dashoffset="2" transform="matrix(1,0,0,0.957,0,10.49)"/>
<use href="#p2" fill="none" stroke="#9c9c9c" stroke-width="0.5" stroke-dasharray="96 45 42 77 62 38" stroke-dashoffset="141" transform="matrix(1,0,0,0.550,0,173.65)"/>
<use href="#p2" fill="none" stroke="#6d6d6d" stroke-width="0.8" stroke-dasharray="62 92 96 47 124 74" stroke-dashoffset="40" transform="matrix(1,0,0,0.798,0,74.47)"/>
<use href="#p2" fill="none" stroke="#858585" stroke-width="0.5" stroke-dasharray="114 96 101 46 135 70" stroke-dashoffset="38" transform="matrix(1,0,0,0.718,0,106.32)"/>
<use href="#p2" fill="none" stroke="#666666" stroke-width="0.7" stroke-dasharray="136 69 150 135 138 33" stroke-dashoffset="51" transform="matrix(1,0,0,0.522,0,184.79)"/>
<use href="#p2" fill="none" stroke="#6b6b6b" stroke-width="0.8" stroke-dasharray="133 59 101 47 96 34" stroke-dashoffset="142" transform="matrix(1,0,0,0.629,0,142.19)"/>
<use href="#p2" fill="none" stroke="#757575" stroke-width="0.6" stroke-dasharray="135 59 124 130 113 91" stroke-dashoffset="151" transform="matrix(1,0,0,0.985,0,-0.60)"/>
<use href="#p2" fill="none" stroke="#777777" stroke-width="0.7" stroke-dasharray="64 70 47 97 149 116" stroke-dashoffset="157" transform="matrix(1,0,0,0.560,0,169.58)"/>
<use href="#p2" fill="none" stroke="#949494" stroke-width="0.7" stroke-dasharray="139 80 145 75 130 73" stroke-dashoffset="181" transform="matrix(1,0,0,0.826,0,63.28)"/>
<use href="#p2" fill="none" stroke="#424242" stroke-width="0.6" stroke-dasharray="115 120 93 93 67 117" stroke-dashoffset="145" transform="matrix(1,0,0,0.945,0,15.31)"/>
<use href="#p2" fill="none" stroke="#474747" stroke-width="0.7" stroke-dasharray="81 63 136 106 41 93" stroke-dashoffset="98" transform="matrix(1,0,0,0.582,0,161.01)"/>
<use href="#p2" fill="none" stroke="#5d5d5d" stroke-width="0.6" stroke-dasharray="131 139 67 97 99 144" stroke-dashoffset="129" transform="matrix(1,0,0,0.627,0,142.91)"/>
<use href="#p2" fill="none" stroke="#6e6e6e" stroke-width="0.5" stroke-dasharray="114 149 126 72 96 125" stroke-dashoffset="140" transform="matrix(1,0,0,0.995,0,-4.46)"/>
<use href="#p2" fill="none" stroke="#7f7f7f" stroke-width="0.8" stroke-dasharray="139 35 85 67 34 43" stroke-dashoffset="175" transform="matrix(1,0,0,0.941,0,17.13)"/>
<use href="#p2" fill="none" stroke="#3a3a3a" stroke-width="0.8" stroke-dasharray="116 54 89 39 76 138" stroke-dashoffset="119" transform="matrix(1,0,0,0.861,0,48.99)"/>
<use href="#p2" fill="none" stroke="#9f9f9f" stroke-width="0.9" stroke-dasharray="148 63 62 66 97 30" stroke-dashoffset="139" transform="matrix(1,0,0,0.959,0,9.95)"/>
<use href="#p2" fill="none" stroke="#6f6f6f" stroke-width="0.9" stroke-dasharray="31 30 150 78 31 46" stroke-dashoffset="129" transform="matrix(1,0,0,0.721,0,105.11)"/>
<use href="#p2" fill="none" stroke="#676767" stroke-width="0.8" stroke-dasharray="98 123 31 60 42 150" stroke-dashoffset="8" transform="matrix(1,0,0,0.935,0,19.62)"/>
<use href="#p2" fill="none" stroke="#585858" stroke-width="0.6" stroke-dasharray="79 59 70 62 69 95" stroke-dashoffset="76" transform="matrix(1,0,0,0.977,0,2.56)"/>
<use href="#p2" fill="none" stroke="#565656" stroke-width="0.9" stroke-dasharray="60 149 70 72 125 80" stroke-dashoffset="13" transform="matrix(1,0,0,0.866,0,47.22)"/>
<use href="#p2" fill="none" stroke="#979797" stroke-width="0.8" stroke-dasharray="85 119 66 135 94 36" stroke-dashoffset="189" transform="matrix(1,0,0,0.903,0,32.13)"/>
<use href="#p2" fill="none" stroke="#6b6b6b" stroke-width="0.6" stroke-dasharray="44 110 99 122 104 59" stroke-dashoffset="37" transform="matrix(1,0,0,0.776,0,83.04)"/>
<use href="#p2" fill="none" stroke="#737373" stroke-width="0.7" stroke-dasharray="89 126 125 140 87 52" stroke-dashoffset="153" transform="matrix(1,0,0,0.796,0,75.15)"/>
<use href="#p2" fill="none" stroke="#404040" stroke-width="0.8" stroke-dasharray="130 66 88 91 127 38" stroke-dashoffset="132" transform="matrix(1,0,0,0.767,0,86.63)"/>
<use href="#p2" fill="none" stroke="#383838" stroke-width="0.9" stroke-dasharray="34 143 130 101 91 125" stroke-dashoffset="189" transform="matrix(1,0,0,0.704,0,112.08)"/>
<use href="#p2" fill="none" stroke="#6f6f6f" stroke-width="0.6" stroke-dasharray="139 56 149 82 128 107" stroke-dashoffset="107" transform="matrix(1,0,0,0.868,0,46.20)"/>
<use href="#p2" fill="none" stroke="#5d5d5d" stroke-width="0.6" stroke-dasharray="94 49 97 61 109 135" stroke-dashoffset="60" transform="matrix(1,0,0,0.880,0,41.43)"/>
<use href="#p2" fill="none" stroke="#6f6f6f" stroke-width="0.8" stroke-dasharray="56 123 132 38 119 74" stroke-dashoffset="134" transform="matrix(1,0,0,0.745,0,95.71)"/>
<use href="#p2" fill="none" stroke="#8f8f8f" stroke-width="0.5" stroke-dasharray="30 138 108 56 116 31" stroke-dashoffset="199" transform="matrix(1,0,0,0.605,0,151.64)"/>
<use href="#p2" fill="none" stroke="#4c4c4c" stroke-width="0.5" stroke-dasharray="48 60 148 109 83 139" stroke-dashoffset="45" transform="matrix(1,0,0,0.542,0,176.71)"/>
<use href="#p2" fill="none" stroke="#979797" stroke-width="0.7" stroke-dasharray="82 76 131 146 133 32" stroke-dashoffset="35" transform="matrix(1,0,0,0.752,0,92.62)"/>
<use href="#p2" fill="none" stroke="#636363" stroke-width="0.7" stroke-dasharray="54 86 145 55 30 83" stroke-dashoffset="174" transform="matrix(1,0,0,0.686,0,119.24)"/>
<use href="#p2" fill="none" stroke="#454545" stroke-width="0.7" stroke-dasharray="77 138 109 93 136 69" stroke-dashoffset="23" transform="matrix(1,0,0,0.942,0,16.54)"/>
<use href="#p2" fill="none" stroke="#3b3b3b" stroke-width="0.8" stroke-dasharray="131 123 142 45 58 34" stroke-dashoffset="58" transform="matrix(1,0,0,0.505,0,191.62)"/>
<use href="#p2" fill="none" stroke="#818181" stroke-width="0.7" stroke-dasharray="46 71 123 135 83 106" stroke-dashoffset="79" transform="matrix(1,0,0,0.810,0,69.52)"/>
<use href="#p2" fill="none" stroke="#303030" stroke-width="0.6" stroke-dasharray="81 32 148 41 73 42" stroke-dashoffset="53" transform="matrix(1,0,0,0.849,0,53.99)"/>
<use href="#p2" fill="none" stroke="#535353" stroke-width="0.5" stroke-dasharray="69 91 89 48 132 135" stroke-dashoffset="199" transform="matrix(1,0,0,0.788,0,78.40)"/>
<use href="#p2" fill="none" stroke="#7d7d7d" stroke-width="0.5" stroke-dasharray="119 33 34 90 57 148" stroke-dashoffset="16" transform="matrix(1,0,0,0.686,0,119.01)"/>
<use href="#p2" fill="none" stroke="#565656" stroke-width="0.7" stroke-dasharray="45 51 47 150 122 97" stroke-dashoffset="39" transform="matrix(1,0,0,0.850,0,53.49)"/>
<use href="#p2" fill="none" stroke="#363636" stroke-width="0.8" stroke-dasharray="44 86 41 31 145 101" stroke-dashoffset="179" transform="matrix(1,0,0,0.502,0,193.02)"/>
<use href="#p2" fill="none" stroke="#787878" stroke-width="0.8" stroke-dasharray="40 126 99 31 134 119" stroke-dashoffset="21" transform="matrix(1,0,0,0.539,0,177.98)"/>
<use href="#p2" fill="none" stroke="#7e7e7e" stroke-width="0.9" stroke-dasharray="55 96 41 78 115 115" stroke-dashoffset="30" transform="matrix(1,0,0,0.841,0,57.08)"/>
<use href="#p2" fill="none" stroke="#7e7e7e" stroke-width="0.8" stroke-dasharray="57 145 73 93 135 74" stroke-dashoffset="73" transform="matrix(1,0,0,0.524,0,183.97)"/>
<use href="#p2" fill="none" stroke="#858585" stroke-width="0.7" stroke-dasharray="82 128 79 65 50 41" stroke-dashoffset="167" transform="matrix(1,0,0,0.759,0,89.87)"/>
<use href="#p2" fill="none" stroke="#363636" stroke-width="0.8" stroke-dasharray="51 39 80 57 146 106" stroke-dashoffset="33" transform="matrix(1,0,0,0.510,0,189.75)"/>
<use href="#p2" fill="none" stroke="#555555" stroke-width="0.7" stroke-dasharray="52 75 102 89 140 97" stroke-dashoffset="132" transform="matrix(1,0,0,0.630,0,141.75)"/>
<use href="#p2" fill="none" stroke="#b6b6b6" stroke-width="1.1" stroke-dasharray="16 56 26 12 29 47" stroke-dashoffset="67" transform="matrix(1,0,0,0.132,0,334.82)"/>
<use href="#p2" fill="none" stroke="#6e6e6e" stroke-width="1.0" stroke-dasharray="47 32 25 47 29 11" stroke-dashoffset="172" transform="matrix(1,0,0,0.145,0,329.15)"/>
<use href="#p2" fill="none" stroke="#afafaf" stroke-width="0.7" stroke-dasharray="29 56 24 37 28 57" stroke-dashoffset="155" transform="matrix(1,0,0,0.182,0,311.68)"/>
<use href="#p2" fill="none" stroke="#848484" stroke-width="1.0" stroke-dasharray="23 52 25 55 29 58" stroke-dashoffset="198" transform="matrix(1,0,0,0.143,0,329.62)"/>
<use href="#p2" fill="none" stroke="#b6b6b6" stroke-width="0.7" stroke-dasharray="21 40 11 23 12 30" stroke-dashoffset="192" transform="matrix(1,0,0,0.159,0,322.41)"/>
<use href="#p2" fill="none" stroke="#7d7d7d" stroke-width="0.8" stroke-dasharray="22 11 21 57 20 17" stroke-dashoffset="169" transform="matrix(1,0,0,0.156,0,323.82)"/>
<use href="#p2" fill="none" stroke="#7f7f7f" stroke-width="0.6" stroke-dasharray="53 10 48 58 37 36" stroke-dashoffset="10" transform="matrix(1,0,0,0.161,0,321.45)"/>
<use href="#p2" fill="none" stroke="#adadad" stroke-width="0.6" stroke-dasharray="30 33 10 33 41 11" stroke-dashoffset="86" transform="matrix(1,0,0,0.193,0,306.90)"/>
<use href="#p2" fill="none" stroke="#717171" stroke-width="0.8" stroke-dasharray="39 11 59 55 27 45" stroke-dashoffset="139" transform="matrix(1,0,0,0.138,0,332.02)"/>
<use href="#p2" fill="none" stroke="#797979" stroke-width="1.0" stroke-dasharray="14 20 15 19 27 43" stroke-dashoffset="59" transform="matrix(1,0,0,0.198,0,304.26)"/>
<use href="#p2" fill="none" stroke="#9c9c9c" stroke-width="0.8" stroke-dasharray="31 48 47 52 49 17" stroke-dashoffset="164" transform="matrix(1,0,0,0.113,0,343.52)"/>
<use href="#p2" fill="none" stroke="#b4b4b4" stroke-width="1.0" stroke-dasharray="13 41 55 28 22 41" stroke-dashoffset="66" transform="matrix(1,0,0,0.150,0,326.62)"/>
<use href="#p2" fill="none" stroke="#737373" stroke-width="0.9" stroke-dasharray="34 43 44 56 34 22" stroke-dashoffset="187" transform="matrix(1,0,0,0.145,0,329.13)"/>
<use href="#p2" fill="none" stroke="#878787" stroke-width="0.8" stroke-dasharray="37 60 43 53 54 49" stroke-dashoffset="143" transform="matrix(1,0,0,0.151,0,326.03)"/>
<use href="#p2" fill="none" stroke="#717171" stroke-width="0.6" stroke-dasharray="51 45 32 10 11 16" stroke-dashoffset="98" transform="matrix(1,0,0,0.182,0,311.81)"/>
<use href="#p2" fill="none" stroke="#a3a3a3" stroke-width="0.6" stroke-dasharray="57 40 30 16 19 32" stroke-dashoffset="123" transform="matrix(1,0,0,0.134,0,333.99)"/>
<use href="#p2" fill="none" stroke="#797979" stroke-width="0.9" stroke-dasharray="28 19 19 37 25 59" stroke-dashoffset="37" transform="matrix(1,0,0,0.135,0,333.37)"/>
<use href="#p2" fill="none" stroke="#a6a6a6" stroke-width="1.0" stroke-dasharray="46 45 36 14 34 33" stroke-dashoffset="71" transform="matrix(1,0,0,0.183,0,311.30)"/>
<use href="#p2" fill="none" stroke="#6e6e6e" stroke-width="1.1" stroke-dasharray="48 13 50 50 28 51" stroke-dashoffset="149" transform="matrix(1,0,0,0.113,0,343.74)"/>
<use href="#p2" fill="none" stroke="#737373" stroke-width="1.1" stroke-dasharray="58 55 43 36 37 59" stroke-dashoffset="61" transform="matrix(1,0,0,0.145,0,328.75)"/>
<use href="#p2" fill="none" stroke="#a0a0a0" stroke-width="0.6" stroke-dasharray="26 46 19 25 29 23" stroke-dashoffset="121" transform="matrix(1,0,0,0.143,0,329.86)"/>
<use href="#p2" fill="none" stroke="#7f7f7f" stroke-width="0.8" stroke-dasharray="56 43 56 53 52 28" stroke-dashoffset="41" transform="matrix(1,0,0,0.163,0,320.38)"/>
<use href="#p2" fill="none" stroke="#717171" stroke-width="0.6" stroke-dasharray="41 16 46 42 11 49" stroke-dashoffset="77" transform="matrix(1,0,0,0.188,0,308.86)"/>
<use href="#p2" fill="none" stroke="#b1b1b1" stroke-width="0.9" stroke-dasharray="19 20 17 14 37 10" stroke-dashoffset="5" transform="matrix(1,0,0,0.140,0,331.22)"/>
<use href="#p2" fill="none" stroke="#bbbbbb" stroke-width="0.7" stroke-dasharray="27 11 26 18 11 16" stroke-dashoffset="168" transform="matrix(1,0,0,0.195,0,305.70)"/>
<use href="#p2" fill="none" stroke="#727272" stroke-width="0.8" stroke-dasharray="37 36 39 38 37 55" stroke-dashoffset="68" transform="matrix(1,0,0,0.134,0,333.94)"/>
<use href="#p2" fill="none" stroke="#797979" stroke-width="1.0" stroke-dasharray="13 18 33 49 27 54" stroke-dashoffset="173" transform="matrix(1,0,0,0.190,0,308.12)"/>
<use href="#p2" fill="none" stroke="#afafaf" stroke-width="0.8" stroke-dasharray="10 13 45 13 54 59" stroke-dashoffset="12" transform="matrix(1,0,0,0.138,0,332.15)"/>
<use href="#p2" fill="none" stroke="#808080" stroke-width="0.7" stroke-dasharray="43 13 49 39 41 13" stroke-dashoffset="193" transform="matrix(1,0,0,0.162,0,320.98)"/>
<use href="#p2" fill="none" stroke="#979797" stroke-width="1.1" stroke-dasharray="40 50 15 35 18 52" stroke-dashoffset="145" transform="matrix(1,0,0,0.146,0,328.43)"/>
<use href="#p2" fill="none" stroke="#8a8a8a" stroke-width="1.3"/>
</g>
</g>
<path d="M120.3,297V324" stroke="#e8e8e8" stroke-width="1.4"/>
<path d="M146.6,272.7V339.1" stroke="#e8e8e8" stroke-width="1.4"/>
<text x="86.37" y="317.2" font-size="15" fill="#f4f4f4" textLength="49.75" lengthAdjust="spacingAndGlyphs">LVESD</text>
<text x="147.67" y="317.2" font-size="15" fill="#f4f4f4" textLength="49.85" lengthAdjust="spacingAndGlyphs">LVEDD</text>
<g clip-path="url(#c3)">
<rect x="201.8" y="236.3" width="162.90" height="146.30" fill="#060606"/>
<rect x="201.8" y="236.3" width="162.90" height="146.30" filter="url(#speck)" opacity="0.24"/>
<use href="#af3" fill="#2e2e2e"/>
<g clip-path="url(#c3aw)">
<use href="#a3" fill="none" stroke="#454545" stroke-width="0.6" stroke-dasharray="18 6 6 16 3 17" stroke-dashoffset="10" transform="matrix(1,0,0,0.456,0,139.61)"/>
<use href="#a3" fill="none" stroke="#5b5b5b" stroke-width="0.7" stroke-dasharray="4 14 15 8 5 8" stroke-dashoffset="90" transform="matrix(1,0,0,0.901,0,28.88)"/>
<use href="#a3" fill="none" stroke="#5f5f5f" stroke-width="0.6" stroke-dasharray="5 8 5 3 5 15" stroke-dashoffset="41" transform="matrix(1,0,0,0.665,0,87.63)"/>
<use href="#a3" fill="none" stroke="#424242" stroke-width="1.0" stroke-dasharray="3 7 14 20 11 19" stroke-dashoffset="160" transform="matrix(1,0,0,0.827,0,47.19)"/>
<use href="#a3" fill="none" stroke="#727272" stroke-width="0.9" stroke-dasharray="19 15 14 20 7 18" stroke-dashoffset="57" transform="matrix(1,0,0,0.753,0,65.54)"/>
<use href="#a3" fill="none" stroke="#6f6f6f" stroke-width="0.7" stroke-dasharray="20 3 16 7 17 3" stroke-dashoffset="196" transform="matrix(1,0,0,0.665,0,87.64)"/>
<use href="#a3" fill="none" stroke="#272727" stroke-width="0.7" stroke-dasharray="3 20 17 3 16 11" stroke-dashoffset="89" transform="matrix(1,0,0,0.794,0,55.52)"/>
<use href="#a3" fill="none" stroke="#2d2d2d" stroke-width="0.7" stroke-dasharray="10 20 19 9 4 3" stroke-dashoffset="9" transform="matrix(1,0,0,0.994,0,5.62)"/>
<use href="#a3" fill="none" stroke="#7a7a7a" stroke-width="1.1" stroke-dasharray="14 15 13 16 13 19" stroke-dashoffset="79" transform="matrix(1,0,0,0.564,0,112.63)"/>
<use href="#a3" fill="none" stroke="#3c3c3c" stroke-width="1.1" stroke-dasharray="13 9 11 3 16 11" stroke-dashoffset="111" transform="matrix(1,0,0,0.682,0,83.32)"/>
<use href="#a3" fill="none" stroke="#434343" stroke-width="0.8" stroke-dasharray="16 10 11 4 14 12" stroke-dashoffset="6" transform="matrix(1,0,0,0.616,0,99.79)"/>
<use href="#a3" fill="none" stroke="#7f7f7f" stroke-width="0.8" stroke-dasharray="20 11 13 9 13 18" stroke-dashoffset="185" transform="matrix(1,0,0,0.808,0,51.96)"/>
<use href="#a3" fill="none" stroke="#7c7c7c" stroke-width="0.6" stroke-dasharray="7 17 17 20 8 7" stroke-dashoffset="192" transform="matrix(1,0,0,0.681,0,83.54)"/>
<use href="#a3" fill="none" stroke="#555555" stroke-width="1.0" stroke-dasharray="4 3 14 14 15 13" stroke-dashoffset="9" transform="matrix(1,0,0,0.235,0,194.45)"/>
<use href="#a3" fill="none" stroke="#6b6b6b" stroke-width="0.6" stroke-dasharray="9 11 7 19 4 3" stroke-dashoffset="52" transform="matrix(1,0,0,0.466,0,137.09)"/>
<use href="#a3" fill="none" stroke="#4e4e4e" stroke-width="1.1" stroke-dasharray="5 8 6 12 12 16" stroke-dashoffset="56" transform="matrix(1,0,0,0.307,0,176.69)"/>
<use href="#a3" fill="none" stroke="#737373" stroke-width="0.9" stroke-dasharray="19 19 15 9 15 7" stroke-dashoffset="59" transform="matrix(1,0,0,0.653,0,90.59)"/>
<use href="#a3" fill="none" stroke="#242424" stroke-width="0.8" stroke-dasharray="11 7 3 8 4 19" stroke-dashoffset="188" transform="matrix(1,0,0,0.810,0,51.41)"/>
<use href="#a3" fill="none" stroke="#535353" stroke-width="1.0" stroke-dasharray="4 19 13 14 13 14" stroke-dashoffset="138" transform="matrix(1,0,0,0.810,0,51.48)"/>
<use href="#a3" fill="none" stroke="#545454" stroke-width="0.7" stroke-dasharray="15 19 3 14 10 15" stroke-dashoffset="124" transform="matrix(1,0,0,0.868,0,37.07)"/>
<use href="#a3" fill="none" stroke="#282828" stroke-width="0.9" stroke-dasharray="17 13 9 13 7 7" stroke-dashoffset="66" transform="matrix(1,0,0,0.464,0,137.44)"/>
<use href="#a3" fill="none" stroke="#313131" stroke-width="0.8" stroke-dasharray="5 4 7 13 10 7" stroke-dashoffset="199" transform="matrix(1,0,0,0.961,0,13.92)"/>
<use href="#a3" fill="none" stroke="#595959" stroke-width="1.0" stroke-dasharray="15 6 19 3 19 16" stroke-dashoffset="127" transform="matrix(1,0,0,0.805,0,52.60)"/>
<use href="#a3" fill="none" stroke="#666666" stroke-width="0.9" stroke-dasharray="7 14 4 8 11 7" stroke-dashoffset="15" transform="matrix(1,0,0,0.583,0,107.85)"/>
<use href="#a3" fill="none" stroke="#3e3e3e" stroke-width="0.7" stroke-dasharray="13 8 13 5 12 4" stroke-dashoffset="33" transform="matrix(1,0,0,0.799,0,54.13)"/>
<use href="#a3" fill="none" stroke="#545454" stroke-width="1.1" stroke-dasharray="8 18 8 15 13 14" stroke-dashoffset="117" transform="matrix(1,0,0,0.099,0,228.45)"/>
<use href="#a3" fill="none" stroke="#535353" stroke-width="1.1" stroke-dasharray="11 17 15 20 17 13" stroke-dashoffset="141" transform="matrix(1,0,0,0.387,0,156.73)"/>
<use href="#a3" fill="none" stroke="#292929" stroke-width="0.8" stroke-dasharray="20 10 10 6 7 11" stroke-dashoffset="68" transform="matrix(1,0,0,0.079,0,233.28)"/>
<use href="#a3" fill="none" stroke="#2e2e2e" stroke-width="1.0" stroke-dasharray="12 9 19 20 20 3" stroke-dashoffset="160" transform="matrix(1,0,0,0.142,0,217.77)"/>
<use href="#a3" fill="none" stroke="#373737" stroke-width="0.9" stroke-dasharray="9 6 11 5 10 10" stroke-dashoffset="170" transform="matrix(1,0,0,0.170,0,210.71)"/>
<use href="#a3" fill="none" stroke="#1b1b1b" stroke-width="0.8" stroke-dasharray="15 7 16 5 15 16" stroke-dashoffset="43" transform="matrix(1,0,0,0.112,0,225.17)"/>
<use href="#a3" fill="none" stroke="#7b7b7b" stroke-width="0.9" stroke-dasharray="15 17 9 12 20 11" stroke-dashoffset="24" transform="matrix(1,0,0,0.236,0,194.21)"/>
<use href="#a3" fill="none" stroke="#1b1b1b" stroke-width="0.9" stroke-dasharray="11 7 16 6 12 6" stroke-dashoffset="95" transform="matrix(1,0,0,0.229,0,195.94)"/>
<use href="#a3" fill="none" stroke="#6a6a6a" stroke-width="0.5" stroke-dasharray="6 5 11 19 17 18" stroke-dashoffset="106" transform="matrix(1,0,0,0.823,0,48.21)"/>
<use href="#a3" fill="none" stroke="#6d6d6d" stroke-width="0.8" stroke-dasharray="3 7 13 15 15 13" stroke-dashoffset="30" transform="matrix(1,0,0,0.135,0,219.33)"/>
<use href="#a3" fill="none" stroke="#666666" stroke-width="0.6" stroke-dasharray="15 18 20 15 12 13" stroke-dashoffset="20" transform="matrix(1,0,0,0.746,0,67.42)"/>
<use href="#a3" fill="none" stroke="#1a1a1a" stroke-width="0.6" stroke-dasharray="8 11 4 20 5 18" stroke-dashoffset="115" transform="matrix(1,0,0,0.953,0,15.98)"/>
<use href="#a3" fill="none" stroke="#5c5c5c" stroke-width="0.8" stroke-dasharray="16 8 3 16 8 9" stroke-dashoffset="22" transform="matrix(1,0,0,0.813,0,50.63)"/>
<use href="#a3" fill="none" stroke="#1c1c1c" stroke-width="1.0" stroke-dasharray="16 9 4 17 15 16" stroke-dashoffset="83" transform="matrix(1,0,0,0.859,0,39.19)"/>
<use href="#a3" fill="none" stroke="#383838" stroke-width="0.7" stroke-dasharray="10 18 11 12 12 8" stroke-dashoffset="1" transform="matrix(1,0,0,0.495,0,129.93)"/>
<use href="#a3" fill="none" stroke="#2b2b2b" stroke-width="1.0" stroke-dasharray="11 3 20 8 16 12" stroke-dashoffset="68" transform="matrix(1,0,0,0.810,0,51.36)"/>
<use href="#a3" fill="none" stroke="#202020" stroke-width="0.9" stroke-dasharray="19 11 20 15 17 16" stroke-dashoffset="175" transform="matrix(1,0,0,0.716,0,74.81)"/>
<use href="#a3" fill="none" stroke="#3b3b3b" stroke-width="1.0" stroke-dasharray="16 7 13 3 4 6" stroke-dashoffset="163" transform="matrix(1,0,0,0.001,0,252.64)"/>
<use href="#a3" fill="none" stroke="#191919" stroke-width="1.0" stroke-dasharray="8 13 6 5 20 5" stroke-dashoffset="126" transform="matrix(1,0,0,0.609,0,101.39)"/>
<use href="#a3" fill="none" stroke="#212121" stroke-width="0.9" stroke-dasharray="9 15 3 14 15 11" stroke-dashoffset="62" transform="matrix(1,0,0,0.572,0,110.66)"/>
<use href="#a3" fill="none" stroke="#252525" stroke-width="0.9" stroke-dasharray="14 11 7 13 11 17" stroke-dashoffset="39" transform="matrix(1,0,0,0.268,0,186.20)"/>
<use href="#a3" fill="none" stroke="#494949" stroke-width="0.9" stroke-dasharray="13 9 19 14 6 3" stroke-dashoffset="33" transform="matrix(1,0,0,0.634,0,95.36)"/>
<use href="#a3" fill="none" stroke="#1b1b1b" stroke-width="1.0" stroke-dasharray="4 6 3 12 8 20" stroke-dashoffset="154" transform="matrix(1,0,0,0.180,0,208.30)"/>
<use href="#a3" fill="none" stroke="#5f5f5f" stroke-width="0.8" stroke-dasharray="16 8 14 3 10 19" stroke-dashoffset="22" transform="matrix(1,0,0,0.951,0,16.40)"/>
<use href="#a3" fill="none" stroke="#4c4c4c" stroke-width="0.8" stroke-dasharray="11 15 15 7 13 4" stroke-dashoffset="137" transform="matrix(1,0,0,0.497,0,129.29)"/>
<use href="#a3" fill="none" stroke="#393939" stroke-width="0.9" stroke-dasharray="3 13 9 18 15 11" stroke-dashoffset="83" transform="matrix(1,0,0,0.167,0,211.37)"/>
<use href="#a3" fill="none" stroke="#787878" stroke-width="1.1" stroke-dasharray="11 7 10 3 17 7" stroke-dashoffset="86" transform="matrix(1,0,0,0.247,0,191.57)"/>
<use href="#a3" fill="none" stroke="#7e7e7e" stroke-width="0.6" stroke-dasharray="3 12 10 20 3 16" stroke-dashoffset="33" transform="matrix(1,0,0,0.198,0,203.65)"/>
<use href="#a3" fill="none" stroke="#7d7d7d" stroke-width="0.5" stroke-dasharray="6 6 9 13 18 19" stroke-dashoffset="76" transform="matrix(1,0,0,0.370,0,160.98)"/>
<use href="#a3" fill="none" stroke="#343434" stroke-width="0.6" stroke-dasharray="11 3 5 9 3 6" stroke-dashoffset="60" transform="matrix(1,0,0,0.814,0,50.46)"/>
<use href="#a3" fill="none" stroke="#333333" stroke-width="0.6" stroke-dasharray="7 19 11 13 18 15" stroke-dashoffset="66" transform="matrix(1,0,0,0.439,0,143.78)"/>
<use href="#a3" fill="none" stroke="#4a4a4a" stroke-width="0.7" stroke-dasharray="14 20 15 10 13 11" stroke-dashoffset="175" transform="matrix(1,0,0,0.691,0,81.14)"/>
<use href="#a3" fill="none" stroke="#505050" stroke-width="1.0" stroke-dasharray="8 12 7 12 11 12" stroke-dashoffset="85" transform="matrix(1,0,0,0.567,0,112.05)"/>
<use href="#a3" fill="none" stroke="#767676" stroke-width="1.1" stroke-dasharray="6 3 20 18 12 7" stroke-dashoffset="86" transform="matrix(1,0,0,0.233,0,194.98)"/>
<use href="#a3" fill="none" stroke="#707070" stroke-width="0.7" stroke-dasharray="11 13 14 20 12 13" stroke-dashoffset="114" transform="matrix(1,0,0,0.556,0,114.77)"/>
<use href="#a3" fill="none" stroke="#1f1f1f" stroke-width="0.6" stroke-dasharray="18 18 19 18 15 15" stroke-dashoffset="121" transform="matrix(1,0,0,0.406,0,151.98)"/>
<use href="#a3" fill="none" stroke="#595959" stroke-width="0.7" stroke-dasharray="5 6 9 14 6 11" stroke-dashoffset="161" transform="matrix(1,0,0,0.162,0,212.78)"/>
<use href="#a3" fill="none" stroke="#1a1a1a" stroke-width="0.7" stroke-dasharray="3 4 16 9 3 14" stroke-dashoffset="174" transform="matrix(1,0,0,0.367,0,161.57)"/>
<use href="#a3" fill="none" stroke="#7d7d7d" stroke-width="0.6" stroke-dasharray="20 15 12 4 4 5" stroke-dashoffset="194" transform="matrix(1,0,0,0.208,0,201.33)"/>
<use href="#a3" fill="none" stroke="#272727" stroke-width="1.1" stroke-dasharray="9 8 13 11 6 11" stroke-dashoffset="170" transform="matrix(1,0,0,0.629,0,96.62)"/>
<use href="#a3" fill="none" stroke="#535353" stroke-width="0.5" stroke-dasharray="12 16 20 20 19 18" stroke-dashoffset="13" transform="matrix(1,0,0,0.999,0,4.46)"/>
<use href="#a3" fill="none" stroke="#323232" stroke-width="0.5" stroke-dasharray="6 15 7 5 9 10" stroke-dashoffset="31" transform="matrix(1,0,0,0.374,0,160.07)"/>
<use href="#a3" fill="none" stroke="#313131" stroke-width="0.7" stroke-dasharray="3 16 3 12 17 9" stroke-dashoffset="188" transform="matrix(1,0,0,0.357,0,164.22)"/>
<use href="#a3" fill="none" stroke="#3c3c3c" stroke-width="0.9" stroke-dasharray="11 5 15 3 13 12" stroke-dashoffset="70" transform="matrix(1,0,0,0.742,0,68.47)"/>
<use href="#a3" fill="none" stroke="#7d7d7d" stroke-width="0.5" stroke-dasharray="13 14 9 7 16 15" stroke-dashoffset="7" transform="matrix(1,0,0,0.282,0,182.80)"/>
<use href="#a3" fill="none" stroke="#3a3a3a" stroke-width="0.9" stroke-dasharray="10 11 13 12 3 7" stroke-dashoffset="3" transform="matrix(1,0,0,0.716,0,74.89)"/>
<use href="#a3" fill="none" stroke="#202020" stroke-width="0.6" stroke-dasharray="13 10 3 3 19 12" stroke-dashoffset="148" transform="matrix(1,0,0,0.200,0,203.21)"/>
<use href="#a3" fill="none" stroke="#636363" stroke-width="0.8" stroke-dasharray="4 14 9 10 11 3" stroke-dashoffset="167" transform="matrix(1,0,0,0.415,0,149.65)"/>
<use href="#a3" fill="none" stroke="#565656" stroke-width="0.8" stroke-dasharray="8 7 15 4 16 19" stroke-dashoffset="150" transform="matrix(1,0,0,0.827,0,47.26)"/>
<use href="#a3" fill="none" stroke="#5e5e5e" stroke-width="1.1" stroke-dasharray="5 10 18 6 15 20" stroke-dashoffset="172" transform="matrix(1,0,0,0.044,0,241.93)"/>
<use href="#a3" fill="none" stroke="#202020" stroke-width="0.9" stroke-dasharray="9 7 14 4 10 12" stroke-dashoffset="176" transform="matrix(1,0,0,0.214,0,199.65)"/>
<use href="#a3" fill="none" stroke="#565656" stroke-width="0.9" stroke-dasharray="15 12 9 10 12 16" stroke-dashoffset="177" transform="matrix(1,0,0,0.345,0,167.12)"/>
<use href="#a3" fill="none" stroke="#484848" stroke-width="1.0" stroke-dasharray="4 13 16 7 12 13" stroke-dashoffset="77" transform="matrix(1,0,0,0.186,0,206.64)"/>
<use href="#a3" fill="none" stroke="#4b4b4b" stroke-width="1.0" stroke-dasharray="20 3 9 13 5 16" stroke-dashoffset="4" transform="matrix(1,0,0,0.247,0,191.55)"/>
<use href="#a3" fill="none" stroke="#6c6c6c" stroke-width="0.8" stroke-dasharray="12 17 4 11 4 9" stroke-dashoffset="188" transform="matrix(1,0,0,0.015,0,249.24)"/>
<use href="#a3" fill="none" stroke="#232323" stroke-width="0.9" stroke-dasharray="17 10 19 12 6 13" stroke-dashoffset="175" transform="matrix(1,0,0,0.073,0,234.82)"/>
<use href="#a3" fill="none" stroke="#5b5b5b" stroke-width="0.9" stroke-dasharray="11 10 3 15 8 9" stroke-dashoffset="40" transform="matrix(1,0,0,0.501,0,128.25)"/>
<use href="#a3" fill="none" stroke="#3d3d3d" stroke-width="0.9" stroke-dasharray="11 14 18 12 5 5" stroke-dashoffset="26" transform="matrix(1,0,0,0.136,0,219.11)"/>
<use href="#a3" fill="none" stroke="#6a6a6a" stroke-width="1.0" stroke-dasharray="14 10 8 14 20 20" stroke-dashoffset="55" transform="matrix(1,0,0,0.913,0,25.82)"/>
<use href="#a3" fill="none" stroke="#7a7a7a" stroke-width="0.5" stroke-dasharray="11 3 4 15 3 5" stroke-dashoffset="181" transform="matrix(1,0,0,0.892,0,31.02)"/>
<use href="#a3" fill="none" stroke="#272727" stroke-width="0.8" stroke-dasharray="11 16 16 16 14 19" stroke-dashoffset="39" transform="matrix(1,0,0,0.809,0,51.62)"/>
<use href="#a3" fill="none" stroke="#646464" stroke-width="0.9" stroke-dasharray="7 5 11 17 18 20" stroke-dashoffset="139" transform="matrix(1,0,0,0.107,0,226.47)"/>
<use href="#a3" fill="none" stroke="#272727" stroke-width="0.6" stroke-dasharray="4 11 18 10 9 6" stroke-dashoffset="154" transform="matrix(1,0,0,0.944,0,18.01)"/>
<use href="#a3" fill="none" stroke="#515151" stroke-width="0.6" stroke-dasharray="5 4 20 12 13 5" stroke-dashoffset="129" transform="matrix(1,0,0,0.917,0,24.85)"/>
<use href="#a3" fill="none" stroke="#1f1f1f" stroke-width="0.9" stroke-dasharray="11 18 12 10 18 3" stroke-dashoffset="43" transform="matrix(1,0,0,0.411,0,150.83)"/>
<use href="#a3" fill="none" stroke="#393939" stroke-width="0.6" stroke-dasharray="9 14 5 10 16 13" stroke-dashoffset="90" transform="matrix(1,0,0,0.498,0,129.08)"/>
<use href="#a3" fill="none" stroke="#5b5b5b" stroke-width="0.5" stroke-dasharray="13 13 15 3 20 14" stroke-dashoffset="73" transform="matrix(1,0,0,0.350,0,166.01)"/>
<use href="#a3" fill="none" stroke="#717171" stroke-width="0.9" stroke-dasharray="7 20 19 17 14 19" stroke-dashoffset="0" transform="matrix(1,0,0,0.844,0,42.93)"/>
<use href="#a3" fill="none" stroke="#323232" stroke-width="0.6" stroke-dasharray="5 16 14 18 7 10" stroke-dashoffset="4" transform="matrix(1,0,0,0.863,0,38.28)"/>
<use href="#a3" fill="none" stroke="#333333" stroke-width="0.7" stroke-dasharray="11 8 13 9 3 3" stroke-dashoffset="169" transform="matrix(1,0,0,0.102,0,227.58)"/>
<use href="#a3" fill="none" stroke="#757575" stroke-width="0.7" stroke-dasharray="4 10 12 9 5 13" stroke-dashoffset="117" transform="matrix(1,0,0,0.520,0,123.58)"/>
<use href="#a3" fill="none" stroke="#4e4e4e" stroke-width="0.5" stroke-dasharray="15 7 11 9 10 6" stroke-dashoffset="72" transform="matrix(1,0,0,0.553,0,115.42)"/>
<use href="#a3" fill="none" stroke="#1c1c1c" stroke-width="0.8" stroke-dasharray="6 18 11 11 20 9" stroke-dashoffset="171" transform="matrix(1,0,0,0.193,0,204.90)"/>
<use href="#a3" fill="none" stroke="#494949" stroke-width="1.1" stroke-dasharray="8 20 20 3 3 15" stroke-dashoffset="162" transform="matrix(1,0,0,0.423,0,147.83)"/>
<use href="#a3" fill="none" stroke="#5f5f5f" stroke-width="0.6" stroke-dasharray="5 18 14 8 7 17" stroke-dashoffset="154" transform="matrix(1,0,0,0.624,0,97.64)"/>
<use href="#a3" fill="none" stroke="#555555" stroke-width="0.6" stroke-dasharray="13 4 9 12 20 11" stroke-dashoffset="55" transform="matrix(1,0,0,0.051,0,240.42)"/>
<use href="#a3" fill="none" stroke="#616161" stroke-width="0.7" stroke-dasharray="5 16 20 5 15 9" stroke-dashoffset="186" transform="matrix(1,0,0,0.923,0,23.29)"/>
<use href="#a3" fill="none" stroke="#5f5f5f" stroke-width="0.7" stroke-dasharray="13 14 4 11 4 3" stroke-dashoffset="81" transform="matrix(1,0,0,0.876,0,35.07)"/>
<use href="#a3" fill="none" stroke="#555555" stroke-width="0.7" stroke-dasharray="9 18 17 16 19 14" stroke-dashoffset="49" transform="matrix(1,0,0,0.513,0,125.26)"/>
<use href="#a3" fill="none" stroke="#3a3a3a" stroke-width="0.5" stroke-dasharray="13 9 19 6 19 18" stroke-dashoffset="136" transform="matrix(1,0,0,0.994,0,5.71)"/>
<use href="#a3" fill="none" stroke="#595959" stroke-width="0.8" stroke-dasharray="5 19 18 3 15 6" stroke-dashoffset="173" transform="matrix(1,0,0,0.482,0,133.00)"/>
<use href="#a3" fill="none" stroke="#4f4f4f" stroke-width="0.8" stroke-dasharray="9 7 15 16 15 17" stroke-dashoffset="75" transform="matrix(1,0,0,0.007,0,251.33)"/>
<use href="#a3" fill="none" stroke="#474747" stroke-width="0.9" stroke-dasharray="17 19 15 13 6 15" stroke-dashoffset="191" transform="matrix(1,0,0,0.146,0,216.74)"/>
<use href="#a3" fill="none" stroke="#272727" stroke-width="0.7" stroke-dasharray="5 17 14 9 4 17" stroke-dashoffset="133" transform="matrix(1,0,0,0.618,0,99.23)"/>
<use href="#a3" fill="none" stroke="#2b2b2b" stroke-width="1.0" stroke-dasharray="11 17 18 15 4 5" stroke-dashoffset="120" transform="matrix(1,0,0,0.586,0,107.25)"/>
<use href="#a3" fill="none" stroke="#262626" stroke-width="1.0" stroke-dasharray="9 19 4 6 18 14" stroke-dashoffset="142" transform="matrix(1,0,0,0.618,0,99.36)"/>
<use href="#a3" fill="none" stroke="#525252" stroke-width="0.8" stroke-dasharray="4 18 7 20 12 20" stroke-dashoffset="166" transform="matrix(1,0,0,0.005,0,251.82)"/>
<use href="#a3" fill="none" stroke="#393939" stroke-width="0.6" stroke-dasharray="15 17 13 12 4 6" stroke-dashoffset="145" transform="matrix(1,0,0,0.969,0,11.96)"/>
<use href="#a3" fill="none" stroke="#676767" stroke-width="0.6" stroke-dasharray="3 10 12 13 12 11" stroke-dashoffset="154" transform="matrix(1,0,0,0.062,0,237.67)"/>
<use href="#a3" fill="none" stroke="#4c4c4c" stroke-width="1.0" stroke-dasharray="6 14 12 18 8 3" stroke-dashoffset="160" transform="matrix(1,0,0,0.884,0,33.06)"/>
<use href="#a3" fill="none" stroke="#3e3e3e" stroke-width="1.0" stroke-dasharray="10 20 12 16 3 5" stroke-dashoffset="79" transform="matrix(1,0,0,0.834,0,45.50)"/>
<use href="#a3" fill="none" stroke="#595959" stroke-width="0.6" stroke-dasharray="12 13 15 7 7 20" stroke-dashoffset="87" transform="matrix(1,0,0,0.742,0,68.35)"/>
<use href="#a3" fill="none" stroke="#2c2c2c" stroke-width="0.5" stroke-dasharray="5 13 16 18 18 16" stroke-dashoffset="58" transform="matrix(1,0,0,0.543,0,117.80)"/>
<use href="#a3" fill="none" stroke="#525252" stroke-width="0.7" stroke-dasharray="15 9 19 6 12 5" stroke-dashoffset="174" transform="matrix(1,0,0,0.919,0,24.46)"/>
<use href="#a3" fill="none" stroke="#747474" stroke-width="0.8" stroke-dasharray="7 18 3 8 18 20" stroke-dashoffset="62" transform="matrix(1,0,0,0.000,0,252.89)"/>
<use href="#a3" fill="none" stroke="#343434" stroke-width="0.9" stroke-dasharray="7 6 9 19 19 5" stroke-dashoffset="161" transform="matrix(1,0,0,0.416,0,149.56)"/>
<use href="#a3" fill="none" stroke="#626262" stroke-width="1.1" stroke-dasharray="4 12 14 14 8 10" stroke-dashoffset="15" transform="matrix(1,0,0,0.412,0,150.54)"/>
<use href="#a3" fill="none" stroke="#666666" stroke-width="0.8" stroke-dasharray="5 18 10 18 16 16" stroke-dashoffset="57" transform="matrix(1,0,0,0.762,0,63.36)"/>
<use href="#a3" fill="none" stroke="#2e2e2e" stroke-width="0.9" stroke-dasharray="6 3 10 8 9 15" stroke-dashoffset="18" transform="matrix(1,0,0,0.288,0,181.29)"/>
<use href="#a3" fill="none" stroke="#363636" stroke-width="0.9" stroke-dasharray="20 15 11 16 19 18" stroke-dashoffset="41" transform="matrix(1,0,0,0.614,0,100.27)"/>
<use href="#a3" fill="none" stroke="#777777" stroke-width="0.9" stroke-dasharray="13 8 20 5 18 9" stroke-dashoffset="145" transform="matrix(1,0,0,0.486,0,132.15)"/>
<use href="#a3" fill="none" stroke="#555555" stroke-width="0.8" stroke-dasharray="4 4 10 14 17 9" stroke-dashoffset="168" transform="matrix(1,0,0,0.475,0,134.70)"/>
<use href="#a3" fill="none" stroke="#202020" stroke-width="0.7" stroke-dasharray="14 6 7 18 18 8" stroke-dashoffset="190" transform="matrix(1,0,0,0.869,0,36.81)"/>
<use href="#a3" fill="none" stroke="#1c1c1c" stroke-width="0.6" stroke-dasharray="20 18 7 13 3 17" stroke-dashoffset="39" transform="matrix(1,0,0,0.445,0,142.19)"/>
<use href="#a3" fill="none" stroke="#232323" stroke-width="0.7" stroke-dasharray="16 12 16 4 5 8" stroke-dashoffset="193" transform="matrix(1,0,0,0.560,0,113.62)"/>
<rect x="201.8" y="236.3" width="162.90" height="146.30" filter="url(#streakD)" opacity="0.35"/><rect x="201.8" y="236.3" width="162.90" height="146.30" filter="url(#streakL)" opacity="0.12"/>
</g>
<rect x="201.8" y="236.3" width="162.90" height="1.00" fill="#8a8a8a"/>
<rect x="201.8" y="237.3" width="162.90" height="12.00" fill="#202020"/>
<rect x="201.8" y="249.3" width="162.90" height="3.20" fill="#a8a8a8"/>
<path d="M260.4,239.1H369.4" stroke="#484848" stroke-width="1.0"/>
<path d="M311.2,245.6H340.7" stroke="#5a5a5a" stroke-width="0.7"/>
<path d="M308.2,248.6H422.8" stroke="#444444" stroke-width="1.0"/>
<path d="M261.7,244.4H374.7" stroke="#434343" stroke-width="0.9"/>
<path d="M342.8,246.6H439.8" stroke="#444444" stroke-width="0.7"/>
<path d="M218.2,247.7H274.8" stroke="#2f2f2f" stroke-width="0.6"/>
<path d="M336.6,242.6H452.9" stroke="#434343" stroke-width="0.7"/>
<path d="M246,249H321.6" stroke="#383838" stroke-width="1.3"/>
<path d="M283,247.3H400.3" stroke="#434343" stroke-width="0.7"/>
<path d="M270.9,247.9H299.2" stroke="#4e4e4e" stroke-width="0.8"/>
<path d="M280.4,244H356.3" stroke="#2b2b2b" stroke-width="0.8"/>
<path d="M245,238.7H302.6" stroke="#5c5c5c" stroke-width="1.0"/>
<path d="M329.1,245.5H356.4" stroke="#363636" stroke-width="0.8"/>
<path d="M308.4,241.9H396.4" stroke="#424242" stroke-width="1.2"/>
<path d="M315.9,241.9H432.9" stroke="#3a3a3a" stroke-width="1.2"/>
<path d="M192.5,243H265.8" stroke="#323232" stroke-width="0.8"/>
<path d="M206.2,240.1H269.2" stroke="#252525" stroke-width="0.9"/>
<path d="M230.6,240.8H347.9" stroke="#2b2b2b" stroke-width="1.0"/>
<path d="M220.6,238.5H288.9" stroke="#2b2b2b" stroke-width="0.8"/>
<path d="M230.3,248.8H263.6" stroke="#5c5c5c" stroke-width="1.0"/>
<path d="M305,247.2H339.3" stroke="#535353" stroke-width="1.1"/>
<path d="M194.7,247.8H312.4" stroke="#424242" stroke-width="1.2"/>
<use href="#a3" fill="none" stroke="#9a9a9a" stroke-width="1.2"/>
<path d="M211,333 Q223,322 239,328" fill="none" stroke="#353535" stroke-width="1.4"/>
<path d="M214,336 Q225,326 240,331" fill="none" stroke="#222222" stroke-width="1.4"/>
<path d="M230,327 L239,329" fill="none" stroke="#5a5a5a" stroke-width="1.6"/>
<path d="M264,334 Q276,323 292,329" fill="none" stroke="#353535" stroke-width="1.4"/>
<path d="M267,337 Q278,327 293,332" fill="none" stroke="#222222" stroke-width="1.4"/>
<path d="M283,328 L292,330" fill="none" stroke="#5a5a5a" stroke-width="1.6"/>
<path d="M319,333 Q331,322 347,328" fill="none" stroke="#353535" stroke-width="1.4"/>
<path d="M322,336 Q333,326 348,331" fill="none" stroke="#222222" stroke-width="1.4"/>
<path d="M338,327 L347,329" fill="none" stroke="#5a5a5a" stroke-width="1.6"/>
<use href="#pf3" fill="#141414"/>
<g clip-path="url(#c3pw)">
<use href="#pf3" fill="#262626" transform="matrix(1,0,0,0.150,0,314.06)"/>
<use href="#pf3" fill="#6a6a6a" transform="matrix(1,0,0,0.100,0,334.37)"/>
<use href="#pf3" fill="#f0f0f0" transform="matrix(1,0,0,0.080,0,343.80)"/>
<use href="#pf3" fill="#a8a8a8" transform="matrix(1,0,0,0.050,0,357.19)"/>
<use href="#p3" fill="none" stroke="#4c4c4c" stroke-width="0.6" stroke-dasharray="95 22 41 27 74 120" stroke-dashoffset="48" transform="matrix(1,0,0,0.477,0,196.43)"/>
<use href="#p3" fill="none" stroke="#333333" stroke-width="0.9" stroke-dasharray="27 89 24 47 90 81" stroke-dashoffset="102" transform="matrix(1,0,0,0.443,0,208.77)"/>
<use href="#p3" fill="none" stroke="#232323" stroke-width="0.8" stroke-dasharray="87 42 109 43 58 107" stroke-dashoffset="129" transform="matrix(1,0,0,0.871,0,49.74)"/>
<use href="#p3" fill="none" stroke="#2b2b2b" stroke-width="0.6" stroke-dasharray="83 50 44 107 68 45" stroke-dashoffset="74" transform="matrix(1,0,0,0.300,0,262.01)"/>
<use href="#p3" fill="none" stroke="#353535" stroke-width="0.5" stroke-dasharray="38 106 46 55 71 34" stroke-dashoffset="65" transform="matrix(1,0,0,0.514,0,182.42)"/>
<use href="#p3" fill="none" stroke="#323232" stroke-width="0.6" stroke-dasharray="37 68 111 61 107 41" stroke-dashoffset="114" transform="matrix(1,0,0,0.877,0,47.62)"/>
<use href="#p3" fill="none" stroke="#424242" stroke-width="0.6" stroke-dasharray="85 23 74 83 52 48" stroke-dashoffset="53" transform="matrix(1,0,0,0.921,0,31.10)"/>
<use href="#p3" fill="none" stroke="#656565" stroke-width="0.6" stroke-dasharray="26 78 22 68 24 63" stroke-dashoffset="74" transform="matrix(1,0,0,0.305,0,260.29)"/>
<use href="#p3" fill="none" stroke="#494949" stroke-width="0.7" stroke-dasharray="23 92 73 106 83 56" stroke-dashoffset="164" transform="matrix(1,0,0,0.479,0,195.37)"/>
<use href="#p3" fill="none" stroke="#616161" stroke-width="0.9" stroke-dasharray="55 113 77 63 20 69" stroke-dashoffset="47" transform="matrix(1,0,0,0.335,0,249.09)"/>
<use href="#p3" fill="none" stroke="#4b4b4b" stroke-width="0.8" stroke-dasharray="41 34 100 20 55 46" stroke-dashoffset="125" transform="matrix(1,0,0,0.597,0,151.75)"/>
<use href="#p3" fill="none" stroke="#6c6c6c" stroke-width="0.8" stroke-dasharray="104 98 80 61 120 65" stroke-dashoffset="107" transform="matrix(1,0,0,0.319,0,255.22)"/>
<use href="#p3" fill="none" stroke="#6c6c6c" stroke-width="1.0" stroke-dasharray="37 76 64 69 63 94" stroke-dashoffset="156" transform="matrix(1,0,0,0.591,0,153.93)"/>
<use href="#p3" fill="none" stroke="#404040" stroke-width="0.6" stroke-dasharray="27 99 45 36 65 71" stroke-dashoffset="18" transform="matrix(1,0,0,0.786,0,81.46)"/>
<use href="#p3" fill="none" stroke="#6a6a6a" stroke-width="0.6" stroke-dasharray="108 30 73 81 112 20" stroke-dashoffset="26" transform="matrix(1,0,0,0.663,0,126.97)"/>
<use href="#p3" fill="none" stroke="#494949" stroke-width="0.7" stroke-dasharray="96 53 60 94 111 75" stroke-dashoffset="18" transform="matrix(1,0,0,0.326,0,252.58)"/>
<use href="#p3" fill="none" stroke="#5a5a5a" stroke-width="0.6" stroke-dasharray="35 33 102 115 33 62" stroke-dashoffset="113" transform="matrix(1,0,0,0.412,0,220.26)"/>
<use href="#p3" fill="none" stroke="#454545" stroke-width="0.7" stroke-dasharray="32 47 63 24 93 83" stroke-dashoffset="80" transform="matrix(1,0,0,0.911,0,34.96)"/>
<use href="#p3" fill="none" stroke="#242424" stroke-width="1.0" stroke-dasharray="97 68 30 81 57 100" stroke-dashoffset="55" transform="matrix(1,0,0,0.674,0,123.13)"/>
<use href="#p3" fill="none" stroke="#545454" stroke-width="0.6" stroke-dasharray="107 94 28 120 41 44" stroke-dashoffset="198" transform="matrix(1,0,0,0.657,0,129.28)"/>
<use href="#p3" fill="none" stroke="#656565" stroke-width="0.8" stroke-dasharray="111 38 102 42 67 81" stroke-dashoffset="112" transform="matrix(1,0,0,0.373,0,234.89)"/>
<use href="#p3" fill="none" stroke="#303030" stroke-width="0.7" stroke-dasharray="65 50 91 40 90 30" stroke-dashoffset="129" transform="matrix(1,0,0,0.813,0,71.44)"/>
<use href="#p3" fill="none" stroke="#2b2b2b" stroke-width="0.6" stroke-dasharray="62 20 87 93 78 74" stroke-dashoffset="26" transform="matrix(1,0,0,0.843,0,60.25)"/>
<use href="#p3" fill="none" stroke="#5a5a5a" stroke-width="1.1" stroke-dasharray="91 30 66 113 90 93" stroke-dashoffset="109" transform="matrix(1,0,0,0.334,0,249.55)"/>
<use href="#p3" fill="none" stroke="#656565" stroke-width="0.8" stroke-dasharray="110 57 53 60 80 83" stroke-dashoffset="75" transform="matrix(1,0,0,0.637,0,136.67)"/>
<use href="#p3" fill="none" stroke="#252525" stroke-width="1.0" stroke-dasharray="27 43 54 76 80 81" stroke-dashoffset="174" transform="matrix(1,0,0,0.324,0,253.34)"/>
<use href="#p3" fill="none" stroke="#4e4e4e" stroke-width="0.6" stroke-dasharray="102 100 84 54 29 113" stroke-dashoffset="3" transform="matrix(1,0,0,0.927,0,29.01)"/>
<use href="#p3" fill="none" stroke="#313131" stroke-width="1.1" stroke-dasharray="100 90 56 29 76 50" stroke-dashoffset="141" transform="matrix(1,0,0,0.703,0,112.34)"/>
<use href="#p3" fill="none" stroke="#333333" stroke-width="0.7" stroke-dasharray="76 92 46 58 97 45" stroke-dashoffset="9" transform="matrix(1,0,0,0.935,0,25.92)"/>
<use href="#p3" fill="none" stroke="#525252" stroke-width="0.6" stroke-dasharray="48 104 23 59 103 57" stroke-dashoffset="100" transform="matrix(1,0,0,0.511,0,183.70)"/>
<use href="#p3" fill="none" stroke="#595959" stroke-width="0.9" stroke-dasharray="40 74 22 64 40 77" stroke-dashoffset="110" transform="matrix(1,0,0,0.686,0,118.52)"/>
<use href="#p3" fill="none" stroke="#666666" stroke-width="0.8" stroke-dasharray="99 81 96 40 113 40" stroke-dashoffset="154" transform="matrix(1,0,0,0.303,0,261.12)"/>
<use href="#p3" fill="none" stroke="#5c5c5c" stroke-width="0.8" stroke-dasharray="39 54 92 62 84 94" stroke-dashoffset="121" transform="matrix(1,0,0,0.364,0,238.17)"/>
<use href="#p3" fill="none" stroke="#292929" stroke-width="0.5" stroke-dasharray="68 83 112 114 29 110" stroke-dashoffset="25" transform="matrix(1,0,0,0.684,0,119.18)"/>
<use href="#p3" fill="none" stroke="#373737" stroke-width="0.9" stroke-dasharray="73 120 24 48 97 39" stroke-dashoffset="3" transform="matrix(1,0,0,0.862,0,53.13)"/>
<use href="#p3" fill="none" stroke="#808080" stroke-width="0.6" stroke-dasharray="8 5 10 14 16 6" stroke-dashoffset="73" transform="matrix(1,0,0,0.050,0,358.45)"/>
<use href="#p3" fill="none" stroke="#e1e1e1" stroke-width="0.8" stroke-dasharray="18 18 6 5 10 3" stroke-dashoffset="85" transform="matrix(1,0,0,0.050,0,360.44)"/>
<use href="#p3" fill="none" stroke="#cfcfcf" stroke-width="0.6" stroke-dasharray="16 13 14 14 9 18" stroke-dashoffset="161" transform="matrix(1,0,0,0.050,0,361.07)"/>
<use href="#p3" fill="none" stroke="#7b7b7b" stroke-width="0.8" stroke-dasharray="17 4 18 5 18 18" stroke-dashoffset="32" transform="matrix(1,0,0,0.050,0,359.05)"/>
<use href="#p3" fill="none" stroke="#d3d3d3" stroke-width="0.8" stroke-dasharray="11 5 12 5 15 10" stroke-dashoffset="133" transform="matrix(1,0,0,0.050,0,359.35)"/>
<use href="#p3" fill="none" stroke="#797979" stroke-width="1.4" stroke-dasharray="11 12 19 20 6 15" stroke-dashoffset="114" transform="matrix(1,0,0,0.050,0,358.26)"/>
<use href="#p3" fill="none" stroke="#e4e4e4" stroke-width="0.8" stroke-dasharray="19 5 6 13 19 5" stroke-dashoffset="142" transform="matrix(1,0,0,0.050,0,358.96)"/>
<use href="#p3" fill="none" stroke="#9d9d9d" stroke-width="1.4" stroke-dasharray="6 11 9 12 17 6" stroke-dashoffset="145" transform="matrix(1,0,0,0.050,0,361.72)"/>
<use href="#p3" fill="none" stroke="#9a9a9a" stroke-width="0.7" stroke-dasharray="20 4 13 8 18 12" stroke-dashoffset="86" transform="matrix(1,0,0,0.050,0,361.41)"/>
<use href="#p3" fill="none" stroke="#929292" stroke-width="0.7" stroke-dasharray="6 17 15 3 19 9" stroke-dashoffset="10" transform="matrix(1,0,0,0.050,0,357.91)"/>
<use href="#p3" fill="none" stroke="#a0a0a0" stroke-width="0.7" stroke-dasharray="14 5 10 7 19 19" stroke-dashoffset="2" transform="matrix(1,0,0,0.050,0,359.43)"/>
<use href="#p3" fill="none" stroke="#a0a0a0" stroke-width="0.6" stroke-dasharray="7 3 19 7 6 8" stroke-dashoffset="41" transform="matrix(1,0,0,0.050,0,365.20)"/>
<use href="#p3" fill="none" stroke="#969696" stroke-width="1.3" stroke-dasharray="12 3 14 20 14 4" stroke-dashoffset="162" transform="matrix(1,0,0,0.050,0,363.12)"/>
<use href="#p3" fill="none" stroke="#adadad" stroke-width="0.7" stroke-dasharray="4 4 20 11 9 9" stroke-dashoffset="149" transform="matrix(1,0,0,0.050,0,362.05)"/>
<use href="#p3" fill="none" stroke="#838383" stroke-width="0.8" stroke-dasharray="19 5 16 17 3 10" stroke-dashoffset="3" transform="matrix(1,0,0,0.050,0,362.36)"/>
<use href="#p3" fill="none" stroke="#d3d3d3" stroke-width="1.2" stroke-dasharray="13 7 19 17 3 18" stroke-dashoffset="161" transform="matrix(1,0,0,0.050,0,364.05)"/>
<use href="#p3" fill="none" stroke="#cbcbcb" stroke-width="0.8" stroke-dasharray="14 3 4 3 13 4" stroke-dashoffset="104" transform="matrix(1,0,0,0.050,0,362.18)"/>
<use href="#p3" fill="none" stroke="#bfbfbf" stroke-width="0.8" stroke-dasharray="9 18 8 6 11 14" stroke-dashoffset="186" transform="matrix(1,0,0,0.050,0,363.22)"/>
<use href="#p3" fill="none" stroke="#e3e3e3" stroke-width="0.8" stroke-dasharray="11 16 19 7 10 13" stroke-dashoffset="74" transform="matrix(1,0,0,0.050,0,363.47)"/>
<use href="#p3" fill="none" stroke="#7f7f7f" stroke-width="1.4" stroke-dasharray="11 11 17 14 11 3" stroke-dashoffset="46" transform="matrix(1,0,0,0.050,0,364.81)"/>
<use href="#p3" fill="none" stroke="#dfdfdf" stroke-width="1.4" stroke-dasharray="9 7 18 17 18 15" stroke-dashoffset="154" transform="matrix(1,0,0,0.050,0,363.51)"/>
<use href="#p3" fill="none" stroke="#aeaeae" stroke-width="0.6" stroke-dasharray="20 8 17 9 20 17" stroke-dashoffset="177" transform="matrix(1,0,0,0.050,0,361.16)"/>
<use href="#p3" fill="none" stroke="#848484" stroke-width="1.0" stroke-dasharray="16 16 18 13 9 5" stroke-dashoffset="95" transform="matrix(1,0,0,0.050,0,362.33)"/>
<use href="#p3" fill="none" stroke="#7d7d7d" stroke-width="0.6" stroke-dasharray="5 9 10 13 13 3" stroke-dashoffset="90" transform="matrix(1,0,0,0.050,0,360.08)"/>
<use href="#p3" fill="none" stroke="#b1b1b1" stroke-width="1.0" stroke-dasharray="17 11 4 14 3 12" stroke-dashoffset="28" transform="matrix(1,0,0,0.050,0,362.34)"/>
<use href="#p3" fill="none" stroke="#b7b7b7" stroke-width="1.4" stroke-dasharray="12 16 17 17 3 4" stroke-dashoffset="117" transform="matrix(1,0,0,0.050,0,363.35)"/>
<use href="#p3" fill="none" stroke="#8e8e8e" stroke-width="1.0" stroke-dasharray="8 9 6 9 17 11" stroke-dashoffset="171" transform="matrix(1,0,0,0.050,0,364.42)"/>
<use href="#p3" fill="none" stroke="#959595" stroke-width="1.0" stroke-dasharray="9 13 19 20 13 13" stroke-dashoffset="174" transform="matrix(1,0,0,0.050,0,365.15)"/>
<use href="#p3" fill="none" stroke="#939393" stroke-width="1.0" stroke-dasharray="16 15 6 7 15 6" stroke-dashoffset="183" transform="matrix(1,0,0,0.050,0,360.25)"/>
<use href="#p3" fill="none" stroke="#cccccc" stroke-width="1.1" stroke-dasharray="11 3 7 5 12 12" stroke-dashoffset="35" transform="matrix(1,0,0,0.050,0,358.79)"/>
<use href="#p3" fill="none" stroke="#919191" stroke-width="1.1" stroke-dasharray="11 4 19 18 9 3" stroke-dashoffset="73" transform="matrix(1,0,0,0.050,0,360.79)"/>
<use href="#p3" fill="none" stroke="#d8d8d8" stroke-width="1.1" stroke-dasharray="17 20 8 6 10 17" stroke-dashoffset="51" transform="matrix(1,0,0,0.050,0,365.28)"/>
<use href="#p3" fill="none" stroke="#9f9f9f" stroke-width="1.1" stroke-dasharray="17 16 12 15 17 3" stroke-dashoffset="155" transform="matrix(1,0,0,0.050,0,364.19)"/>
<use href="#p3" fill="none" stroke="#b2b2b2" stroke-width="1.4" stroke-dasharray="4 8 12 3 19 7" stroke-dashoffset="182" transform="matrix(1,0,0,0.050,0,361.87)"/>
<use href="#p3" fill="none" stroke="#c0c0c0" stroke-width="0.7" stroke-dasharray="4 12 4 13 7 10" stroke-dashoffset="184" transform="matrix(1,0,0,0.050,0,360.71)"/>
<use href="#p3" fill="none" stroke="#b0b0b0" stroke-width="1.1"/>
</g>
</g>
<path d="M278.5,282V337.9" stroke="#e8e8e8" stroke-width="1.4"/>
<path d="M308.4,274.5V351.6" stroke="#e8e8e8" stroke-width="1.4"/>
<text x="244.47" y="306.8" font-size="15" fill="#f4f4f4" textLength="49.25" lengthAdjust="spacingAndGlyphs">LVESD</text>
<text x="292.17" y="328" font-size="15" fill="#f4f4f4" textLength="49.95" lengthAdjust="spacingAndGlyphs">LVEDD</text>
<g clip-path="url(#c4)">
<rect x="35.8" y="416.4" width="163.00" height="147.10" fill="#060606"/>
<rect x="35.8" y="416.4" width="163.00" height="147.10" filter="url(#speck)" opacity="0.24"/>
<use href="#af4" fill="#2e2e2e"/>
<g clip-path="url(#c4aw)">
<use href="#a4" fill="none" stroke="#818181" stroke-width="0.9" stroke-dasharray="20 24 26 29 19 12" stroke-dashoffset="160" transform="matrix(1,0,0,0.486,0,221.55)"/>
<use href="#a4" fill="none" stroke="#6d6d6d" stroke-width="1.1" stroke-dasharray="4 12 16 18 16 26" stroke-dashoffset="95" transform="matrix(1,0,0,0.475,0,226.04)"/>
<use href="#a4" fill="none" stroke="#1b1b1b" stroke-width="0.9" stroke-dasharray="23 13 21 23 17 4" stroke-dashoffset="6" transform="matrix(1,0,0,0.055,0,398.72)"/>
<use href="#a4" fill="none" stroke="#262626" stroke-width="1.0" stroke-dasharray="12 23 24 12 20 24" stroke-dashoffset="141" transform="matrix(1,0,0,0.949,0,30.97)"/>
<use href="#a4" fill="none" stroke="#505050" stroke-width="0.5" stroke-dasharray="16 13 5 27 20 20" stroke-dashoffset="98" transform="matrix(1,0,0,0.324,0,288.00)"/>
<use href="#a4" fill="none" stroke="#6c6c6c" stroke-width="0.8" stroke-dasharray="23 12 19 16 4 24" stroke-dashoffset="77" transform="matrix(1,0,0,0.891,0,54.84)"/>
<use href="#a4" fill="none" stroke="#292929" stroke-width="0.8" stroke-dasharray="6 19 13 5 12 26" stroke-dashoffset="172" transform="matrix(1,0,0,0.292,0,301.36)"/>
<use href="#a4" fill="none" stroke="#535353" stroke-width="0.8" stroke-dasharray="26 4 4 5 6 21" stroke-dashoffset="196" transform="matrix(1,0,0,0.618,0,167.21)"/>
<use href="#a4" fill="none" stroke="#767676" stroke-width="0.8" stroke-dasharray="29 10 23 8 10 30" stroke-dashoffset="115" transform="matrix(1,0,0,0.613,0,169.07)"/>
<use href="#a4" fill="none" stroke="#727272" stroke-width="1.0" stroke-dasharray="6 9 21 14 16 24" stroke-dashoffset="24" transform="matrix(1,0,0,0.639,0,158.56)"/>
<use href="#a4" fill="none" stroke="#4f4f4f" stroke-width="0.7" stroke-dasharray="8 16 23 22 22 6" stroke-dashoffset="109" transform="matrix(1,0,0,0.268,0,311.27)"/>
<use href="#a4" fill="none" stroke="#2a2a2a" stroke-width="0.8" stroke-dasharray="21 5 11 27 15 9" stroke-dashoffset="35" transform="matrix(1,0,0,0.757,0,109.75)"/>
<use href="#a4" fill="none" stroke="#555555" stroke-width="0.8" stroke-dasharray="13 18 6 14 17 10" stroke-dashoffset="138" transform="matrix(1,0,0,0.830,0,79.88)"/>
<use href="#a4" fill="none" stroke="#383838" stroke-width="0.6" stroke-dasharray="26 26 29 7 5 8" stroke-dashoffset="105" transform="matrix(1,0,0,0.422,0,247.95)"/>
<use href="#a4" fill="none" stroke="#5b5b5b" stroke-width="0.6" stroke-dasharray="14 6 16 25 5 4" stroke-dashoffset="172" transform="matrix(1,0,0,0.842,0,75.03)"/>
<use href="#a4" fill="none" stroke="#737373" stroke-width="1.0" stroke-dasharray="19 11 16 30 10 30" stroke-dashoffset="13" transform="matrix(1,0,0,0.299,0,298.45)"/>
<use href="#a4" fill="none" stroke="#393939" stroke-width="0.5" stroke-dasharray="5 17 26 22 5 12" stroke-dashoffset="168" transform="matrix(1,0,0,0.501,0,215.12)"/>
<use href="#a4" fill="none" stroke="#7f7f7f" stroke-width="0.9" stroke-dasharray="12 7 11 26 6 13" stroke-dashoffset="134" transform="matrix(1,0,0,0.342,0,280.79)"/>
<use href="#a4" fill="none" stroke="#222222" stroke-width="0.9" stroke-dasharray="14 20 13 15 27 25" stroke-dashoffset="29" transform="matrix(1,0,0,0.181,0,346.94)"/>
<use href="#a4" fill="none" stroke="#3e3e3e" stroke-width="1.0" stroke-dasharray="25 25 4 20 29 12" stroke-dashoffset="120" transform="matrix(1,0,0,0.592,0,177.77)"/>
<use href="#a4" fill="none" stroke="#6e6e6e" stroke-width="0.6" stroke-dasharray="24 30 8 20 10 15" stroke-dashoffset="119" transform="matrix(1,0,0,0.707,0,130.54)"/>
<use href="#a4" fill="none" stroke="#434343" stroke-width="0.7" stroke-dasharray="15 14 10 23 8 5" stroke-dashoffset="95" transform="matrix(1,0,0,0.714,0,127.42)"/>
<use href="#a4" fill="none" stroke="#616161" stroke-width="0.8" stroke-dasharray="26 12 10 30 20 13" stroke-dashoffset="129" transform="matrix(1,0,0,0.322,0,288.84)"/>
<use href="#a4" fill="none" stroke="#575757" stroke-width="0.9" stroke-dasharray="28 11 26 12 11 14" stroke-dashoffset="119" transform="matrix(1,0,0,0.915,0,44.99)"/>
<use href="#a4" fill="none" stroke="#2e2e2e" stroke-width="1.0" stroke-dasharray="26 6 25 16 16 6" stroke-dashoffset="32" transform="matrix(1,0,0,0.833,0,78.75)"/>
<use href="#a4" fill="none" stroke="#2f2f2f" stroke-width="0.6" stroke-dasharray="13 5 4 8 14 4" stroke-dashoffset="98" transform="matrix(1,0,0,0.888,0,55.81)"/>
<use href="#a4" fill="none" stroke="#191919" stroke-width="1.0" stroke-dasharray="29 12 6 4 6 12" stroke-dashoffset="33" transform="matrix(1,0,0,0.763,0,107.30)"/>
<use href="#a4" fill="none" stroke="#1a1a1a" stroke-width="1.0" stroke-dasharray="4 10 7 8 24 17" stroke-dashoffset="54" transform="matrix(1,0,0,0.837,0,77.09)"/>
<use href="#a4" fill="none" stroke="#363636" stroke-width="1.0" stroke-dasharray="21 28 8 12 11 26" stroke-dashoffset="16" transform="matrix(1,0,0,0.573,0,185.56)"/>
<use href="#a4" fill="none" stroke="#717171" stroke-width="0.5" stroke-dasharray="8 30 22 16 9 14" stroke-dashoffset="174" transform="matrix(1,0,0,0.157,0,356.77)"/>
<use href="#a4" fill="none" stroke="#6b6b6b" stroke-width="0.6" stroke-dasharray="16 28 24 25 19 8" stroke-dashoffset="56" transform="matrix(1,0,0,0.552,0,194.34)"/>
<use href="#a4" fill="none" stroke="#303030" stroke-width="1.1" stroke-dasharray="9 10 18 15 19 16" stroke-dashoffset="180" transform="matrix(1,0,0,0.014,0,415.63)"/>
<use href="#a4" fill="none" stroke="#383838" stroke-width="0.7" stroke-dasharray="14 4 30 11 25 30" stroke-dashoffset="123" transform="matrix(1,0,0,0.268,0,311.38)"/>
<use href="#a4" fill="none" stroke="#666666" stroke-width="0.6" stroke-dasharray="27 22 17 30 21 7" stroke-dashoffset="64" transform="matrix(1,0,0,0.519,0,207.69)"/>
<use href="#a4" fill="none" stroke="#4f4f4f" stroke-width="1.1" stroke-dasharray="23 25 30 29 21 15" stroke-dashoffset="9" transform="matrix(1,0,0,0.024,0,411.71)"/>
<use href="#a4" fill="none" stroke="#797979" stroke-width="0.7" stroke-dasharray="29 28 18 7 22 18" stroke-dashoffset="2" transform="matrix(1,0,0,0.779,0,100.90)"/>
<use href="#a4" fill="none" stroke="#4d4d4d" stroke-width="0.6" stroke-dasharray="20 15 12 25 29 20" stroke-dashoffset="169" transform="matrix(1,0,0,0.001,0,420.91)"/>
<use href="#a4" fill="none" stroke="#3b3b3b" stroke-width="0.5" stroke-dasharray="24 26 26 23 20 11" stroke-dashoffset="11" transform="matrix(1,0,0,0.264,0,312.63)"/>
<use href="#a4" fill="none" stroke="#6b6b6b" stroke-width="1.0" stroke-dasharray="13 27 4 30 8 7" stroke-dashoffset="140" transform="matrix(1,0,0,0.700,0,133.45)"/>
<use href="#a4" fill="none" stroke="#737373" stroke-width="1.0" stroke-dasharray="27 21 7 4 30 15" stroke-dashoffset="8" transform="matrix(1,0,0,0.145,0,361.64)"/>
<use href="#a4" fill="none" stroke="#6c6c6c" stroke-width="0.6" stroke-dasharray="25 14 14 7 4 17" stroke-dashoffset="15" transform="matrix(1,0,0,0.549,0,195.46)"/>
<use href="#a4" fill="none" stroke="#303030" stroke-width="1.0" stroke-dasharray="13 15 28 27 18 16" stroke-dashoffset="100" transform="matrix(1,0,0,0.349,0,277.88)"/>
<use href="#a4" fill="none" stroke="#3d3d3d" stroke-width="1.1" stroke-dasharray="5 14 4 21 14 29" stroke-dashoffset="47" transform="matrix(1,0,0,0.816,0,85.80)"/>
<use href="#a4" fill="none" stroke="#333333" stroke-width="1.0" stroke-dasharray="14 4 30 30 10 15" stroke-dashoffset="194" transform="matrix(1,0,0,0.405,0,254.63)"/>
<use href="#a4" fill="none" stroke="#202020" stroke-width="0.8" stroke-dasharray="7 5 23 10 6 29" stroke-dashoffset="33" transform="matrix(1,0,0,0.908,0,47.83)"/>
<use href="#a4" fill="none" stroke="#656565" stroke-width="0.6" stroke-dasharray="19 22 25 4 16 6" stroke-dashoffset="106" transform="matrix(1,0,0,0.673,0,144.59)"/>
<use href="#a4" fill="none" stroke="#2b2b2b" stroke-width="0.8" stroke-dasharray="8 18 14 19 17 26" stroke-dashoffset="61" transform="matrix(1,0,0,0.640,0,158.14)"/>
<use href="#a4" fill="none" stroke="#212121" stroke-width="0.9" stroke-dasharray="13 7 5 18 6 21" stroke-dashoffset="33" transform="matrix(1,0,0,0.024,0,411.56)"/>
<use href="#a4" fill="none" stroke="#414141" stroke-width="0.6" stroke-dasharray="25 28 24 27 29 14" stroke-dashoffset="192" transform="matrix(1,0,0,0.871,0,63.00)"/>
<use href="#a4" fill="none" stroke="#727272" stroke-width="0.8" stroke-dasharray="25 28 29 9 23 10" stroke-dashoffset="32" transform="matrix(1,0,0,0.111,0,375.71)"/>
<use href="#a4" fill="none" stroke="#1f1f1f" stroke-width="0.5" stroke-dasharray="19 19 24 16 24 15" stroke-dashoffset="89" transform="matrix(1,0,0,0.791,0,95.81)"/>
<use href="#a4" fill="none" stroke="#3d3d3d" stroke-width="1.0" stroke-dasharray="18 4 15 9 5 29" stroke-dashoffset="105" transform="matrix(1,0,0,0.841,0,75.42)"/>
<use href="#a4" fill="none" stroke="#3c3c3c" stroke-width="0.8" stroke-dasharray="14 5 24 14 12 17" stroke-dashoffset="47" transform="matrix(1,0,0,0.735,0,118.90)"/>
<use href="#a4" fill="none" stroke="#626262" stroke-width="1.0" stroke-dasharray="18 21 6 17 6 27" stroke-dashoffset="147" transform="matrix(1,0,0,0.853,0,70.28)"/>
<use href="#a4" fill="none" stroke="#424242" stroke-width="1.0" stroke-dasharray="13 30 24 19 12 14" stroke-dashoffset="86" transform="matrix(1,0,0,0.697,0,134.52)"/>
<use href="#a4" fill="none" stroke="#6a6a6a" stroke-width="0.8" stroke-dasharray="13 13 29 11 6 8" stroke-dashoffset="195" transform="matrix(1,0,0,0.335,0,283.71)"/>
<use href="#a4" fill="none" stroke="#626262" stroke-width="0.9" stroke-dasharray="22 30 7 16 24 5" stroke-dashoffset="154" transform="matrix(1,0,0,0.377,0,266.46)"/>
<use href="#a4" fill="none" stroke="#323232" stroke-width="0.9" stroke-dasharray="28 5 10 22 4 24" stroke-dashoffset="132" transform="matrix(1,0,0,0.740,0,116.73)"/>
<use href="#a4" fill="none" stroke="#6f6f6f" stroke-width="1.0" stroke-dasharray="23 12 27 5 12 21" stroke-dashoffset="182" transform="matrix(1,0,0,0.136,0,365.36)"/>
<use href="#a4" fill="none" stroke="#818181" stroke-width="0.7" stroke-dasharray="26 15 18 6 24 14" stroke-dashoffset="149" transform="matrix(1,0,0,0.384,0,263.24)"/>
<use href="#a4" fill="none" stroke="#787878" stroke-width="0.6" stroke-dasharray="10 18 21 24 20 26" stroke-dashoffset="77" transform="matrix(1,0,0,0.844,0,74.16)"/>
<use href="#a4" fill="none" stroke="#252525" stroke-width="1.1" stroke-dasharray="27 24 8 10 25 24" stroke-dashoffset="23" transform="matrix(1,0,0,0.288,0,302.97)"/>
<use href="#a4" fill="none" stroke="#656565" stroke-width="0.9" stroke-dasharray="12 27 8 17 24 29" stroke-dashoffset="169" transform="matrix(1,0,0,0.374,0,267.62)"/>
<use href="#a4" fill="none" stroke="#272727" stroke-width="0.9" stroke-dasharray="29 4 30 10 20 18" stroke-dashoffset="188" transform="matrix(1,0,0,0.207,0,336.36)"/>
<use href="#a4" fill="none" stroke="#4c4c4c" stroke-width="1.0" stroke-dasharray="11 19 27 11 18 22" stroke-dashoffset="108" transform="matrix(1,0,0,0.057,0,397.84)"/>
<use href="#a4" fill="none" stroke="#515151" stroke-width="0.9" stroke-dasharray="20 30 25 19 6 30" stroke-dashoffset="144" transform="matrix(1,0,0,0.811,0,87.52)"/>
<use href="#a4" fill="none" stroke="#7f7f7f" stroke-width="1.0" stroke-dasharray="23 24 19 21 9 29" stroke-dashoffset="168" transform="matrix(1,0,0,0.048,0,401.80)"/>
<use href="#a4" fill="none" stroke="#656565" stroke-width="0.6" stroke-dasharray="19 29 9 15 23 12" stroke-dashoffset="60" transform="matrix(1,0,0,0.032,0,408.24)"/>
<use href="#a4" fill="none" stroke="#717171" stroke-width="0.6" stroke-dasharray="23 4 15 8 5 15" stroke-dashoffset="4" transform="matrix(1,0,0,0.583,0,181.43)"/>
<use href="#a4" fill="none" stroke="#373737" stroke-width="0.9" stroke-dasharray="15 24 30 30 5 25" stroke-dashoffset="156" transform="matrix(1,0,0,0.018,0,414.28)"/>
<use href="#a4" fill="none" stroke="#5d5d5d" stroke-width="1.0" stroke-dasharray="13 8 16 8 16 16" stroke-dashoffset="199" transform="matrix(1,0,0,0.444,0,238.63)"/>
<use href="#a4" fill="none" stroke="#6f6f6f" stroke-width="0.7" stroke-dasharray="19 11 16 5 7 23" stroke-dashoffset="113" transform="matrix(1,0,0,0.248,0,319.28)"/>
<use href="#a4" fill="none" stroke="#3c3c3c" stroke-width="0.9" stroke-dasharray="9 6 12 24 13 17" stroke-dashoffset="13" transform="matrix(1,0,0,0.806,0,89.69)"/>
<use href="#a4" fill="none" stroke="#727272" stroke-width="0.7" stroke-dasharray="7 16 10 11 9 30" stroke-dashoffset="142" transform="matrix(1,0,0,0.082,0,387.77)"/>
<use href="#a4" fill="none" stroke="#2c2c2c" stroke-width="0.6" stroke-dasharray="13 24 6 5 29 13" stroke-dashoffset="4" transform="matrix(1,0,0,0.428,0,245.49)"/>
<use href="#a4" fill="none" stroke="#535353" stroke-width="0.7" stroke-dasharray="28 13 4 6 21 11" stroke-dashoffset="28" transform="matrix(1,0,0,0.565,0,188.79)"/>
<use href="#a4" fill="none" stroke="#393939" stroke-width="0.6" stroke-dasharray="9 19 12 18 23 23" stroke-dashoffset="123" transform="matrix(1,0,0,0.537,0,200.28)"/>
<use href="#a4" fill="none" stroke="#1f1f1f" stroke-width="0.6" stroke-dasharray="22 10 16 30 28 18" stroke-dashoffset="118" transform="matrix(1,0,0,0.805,0,90.20)"/>
<use href="#a4" fill="none" stroke="#808080" stroke-width="0.7" stroke-dasharray="20 27 24 4 19 30" stroke-dashoffset="8" transform="matrix(1,0,0,0.414,0,251.26)"/>
<use href="#a4" fill="none" stroke="#4b4b4b" stroke-width="0.8" stroke-dasharray="9 24 29 7 7 19" stroke-dashoffset="106" transform="matrix(1,0,0,0.425,0,246.35)"/>
<use href="#a4" fill="none" stroke="#4a4a4a" stroke-width="0.9" stroke-dasharray="23 26 22 23 28 17" stroke-dashoffset="30" transform="matrix(1,0,0,0.375,0,267.19)"/>
<use href="#a4" fill="none" stroke="#313131" stroke-width="0.8" stroke-dasharray="30 18 29 11 5 19" stroke-dashoffset="141" transform="matrix(1,0,0,0.848,0,72.47)"/>
<use href="#a4" fill="none" stroke="#3e3e3e" stroke-width="0.5" stroke-dasharray="6 23 30 17 9 19" stroke-dashoffset="174" transform="matrix(1,0,0,0.147,0,360.85)"/>
<use href="#a4" fill="none" stroke="#343434" stroke-width="1.0" stroke-dasharray="26 26 8 4 16 21" stroke-dashoffset="17" transform="matrix(1,0,0,0.143,0,362.84)"/>
<use href="#a4" fill="none" stroke="#333333" stroke-width="0.9" stroke-dasharray="11 20 6 8 10 11" stroke-dashoffset="20" transform="matrix(1,0,0,0.742,0,116.25)"/>
<use href="#a4" fill="none" stroke="#7c7c7c" stroke-width="1.0" stroke-dasharray="8 16 23 20 15 27" stroke-dashoffset="50" transform="matrix(1,0,0,0.056,0,398.24)"/>
<use href="#a4" fill="none" stroke="#808080" stroke-width="0.9" stroke-dasharray="24 24 28 16 22 19" stroke-dashoffset="150" transform="matrix(1,0,0,0.226,0,328.57)"/>
<use href="#a4" fill="none" stroke="#232323" stroke-width="0.6" stroke-dasharray="6 8 12 5 30 14" stroke-dashoffset="114" transform="matrix(1,0,0,0.913,0,45.65)"/>
<use href="#a4" fill="none" stroke="#5b5b5b" stroke-width="1.0" stroke-dasharray="8 6 17 7 7 4" stroke-dashoffset="58" transform="matrix(1,0,0,0.905,0,49.03)"/>
<use href="#a4" fill="none" stroke="#494949" stroke-width="1.1" stroke-dasharray="13 8 16 17 23 14" stroke-dashoffset="65" transform="matrix(1,0,0,0.276,0,307.91)"/>
<use href="#a4" fill="none" stroke="#555555" stroke-width="1.0" stroke-dasharray="8 30 4 11 24 25" stroke-dashoffset="2" transform="matrix(1,0,0,0.883,0,57.97)"/>
<use href="#a4" fill="none" stroke="#626262" stroke-width="1.1" stroke-dasharray="10 28 4 26 8 5" stroke-dashoffset="73" transform="matrix(1,0,0,0.665,0,147.91)"/>
<use href="#a4" fill="none" stroke="#797979" stroke-width="1.1" stroke-dasharray="29 4 28 19 6 24" stroke-dashoffset="26" transform="matrix(1,0,0,0.048,0,401.78)"/>
<use href="#a4" fill="none" stroke="#5e5e5e" stroke-width="0.6" stroke-dasharray="24 5 11 18 4 19" stroke-dashoffset="100" transform="matrix(1,0,0,0.289,0,302.38)"/>
<use href="#a4" fill="none" stroke="#717171" stroke-width="0.8" stroke-dasharray="22 13 17 8 12 23" stroke-dashoffset="8" transform="matrix(1,0,0,0.644,0,156.52)"/>
<use href="#a4" fill="none" stroke="#7e7e7e" stroke-width="0.7" stroke-dasharray="14 16 23 7 19 29" stroke-dashoffset="105" transform="matrix(1,0,0,0.707,0,130.30)"/>
<use href="#a4" fill="none" stroke="#222222" stroke-width="1.0" stroke-dasharray="29 29 22 25 9 23" stroke-dashoffset="97" transform="matrix(1,0,0,0.672,0,144.87)"/>
<use href="#a4" fill="none" stroke="#5b5b5b" stroke-width="0.7" stroke-dasharray="27 18 28 27 28 25" stroke-dashoffset="4" transform="matrix(1,0,0,0.829,0,80.21)"/>
<use href="#a4" fill="none" stroke="#3d3d3d" stroke-width="0.7" stroke-dasharray="17 27 29 17 8 24" stroke-dashoffset="136" transform="matrix(1,0,0,0.507,0,212.68)"/>
<use href="#a4" fill="none" stroke="#646464" stroke-width="0.9" stroke-dasharray="5 7 26 14 4 11" stroke-dashoffset="59" transform="matrix(1,0,0,0.791,0,96.07)"/>
<use href="#a4" fill="none" stroke="#6c6c6c" stroke-width="1.0" stroke-dasharray="4 23 17 27 6 21" stroke-dashoffset="72" transform="matrix(1,0,0,0.444,0,238.85)"/>
<use href="#a4" fill="none" stroke="#626262" stroke-width="0.6" stroke-dasharray="17 25 29 8 7 23" stroke-dashoffset="191" transform="matrix(1,0,0,0.430,0,244.55)"/>
<use href="#a4" fill="none" stroke="#5d5d5d" stroke-width="0.5" stroke-dasharray="15 29 7 17 30 18" stroke-dashoffset="19" transform="matrix(1,0,0,0.697,0,134.45)"/>
<use href="#a4" fill="none" stroke="#353535" stroke-width="1.1" stroke-dasharray="12 20 14 27 12 6" stroke-dashoffset="176" transform="matrix(1,0,0,0.320,0,289.95)"/>
<use href="#a4" fill="none" stroke="#727272" stroke-width="0.7" stroke-dasharray="26 30 12 16 9 20" stroke-dashoffset="26" transform="matrix(1,0,0,0.659,0,150.08)"/>
<use href="#a4" fill="none" stroke="#6f6f6f" stroke-width="0.6" stroke-dasharray="14 13 4 9 21 4" stroke-dashoffset="59" transform="matrix(1,0,0,0.935,0,36.66)"/>
<use href="#a4" fill="none" stroke="#3e3e3e" stroke-width="0.8" stroke-dasharray="27 21 18 28 12 21" stroke-dashoffset="112" transform="matrix(1,0,0,0.706,0,130.75)"/>
<use href="#a4" fill="none" stroke="#6b6b6b" stroke-width="0.5" stroke-dasharray="20 25 28 26 27 24" stroke-dashoffset="48" transform="matrix(1,0,0,0.262,0,313.69)"/>
<use href="#a4" fill="none" stroke="#5f5f5f" stroke-width="0.6" stroke-dasharray="30 9 25 23 8 22" stroke-dashoffset="89" transform="matrix(1,0,0,0.851,0,71.26)"/>
<use href="#a4" fill="none" stroke="#2a2a2a" stroke-width="1.1" stroke-dasharray="27 26 7 23 20 19" stroke-dashoffset="168" transform="matrix(1,0,0,0.467,0,229.40)"/>
<use href="#a4" fill="none" stroke="#616161" stroke-width="0.8" stroke-dasharray="24 10 14 21 21 28" stroke-dashoffset="151" transform="matrix(1,0,0,0.425,0,246.47)"/>
<use href="#a4" fill="none" stroke="#474747" stroke-width="0.5" stroke-dasharray="6 24 23 23 9 23" stroke-dashoffset="185" transform="matrix(1,0,0,0.717,0,126.49)"/>
<use href="#a4" fill="none" stroke="#464646" stroke-width="0.6" stroke-dasharray="19 20 19 26 20 5" stroke-dashoffset="156" transform="matrix(1,0,0,0.091,0,384.14)"/>
<use href="#a4" fill="none" stroke="#474747" stroke-width="0.7" stroke-dasharray="8 23 21 15 25 30" stroke-dashoffset="157" transform="matrix(1,0,0,0.785,0,98.53)"/>
<use href="#a4" fill="none" stroke="#494949" stroke-width="1.0" stroke-dasharray="17 8 13 12 23 15" stroke-dashoffset="25" transform="matrix(1,0,0,0.681,0,140.97)"/>
<use href="#a4" fill="none" stroke="#585858" stroke-width="0.9" stroke-dasharray="26 4 23 30 14 13" stroke-dashoffset="119" transform="matrix(1,0,0,0.868,0,64.38)"/>
<use href="#a4" fill="none" stroke="#777777" stroke-width="0.5" stroke-dasharray="7 25 19 17 6 11" stroke-dashoffset="112" transform="matrix(1,0,0,0.211,0,334.71)"/>
<use href="#a4" fill="none" stroke="#818181" stroke-width="1.0" stroke-dasharray="11 11 9 28 27 13" stroke-dashoffset="163" transform="matrix(1,0,0,0.825,0,81.86)"/>
<use href="#a4" fill="none" stroke="#383838" stroke-width="0.9" stroke-dasharray="9 20 20 30 15 15" stroke-dashoffset="133" transform="matrix(1,0,0,0.947,0,31.75)"/>
<use href="#a4" fill="none" stroke="#404040" stroke-width="0.7" stroke-dasharray="29 17 4 4 12 25" stroke-dashoffset="21" transform="matrix(1,0,0,0.067,0,394.03)"/>
<use href="#a4" fill="none" stroke="#626262" stroke-width="0.6" stroke-dasharray="8 13 28 6 7 12" stroke-dashoffset="53" transform="matrix(1,0,0,0.043,0,403.71)"/>
<use href="#a4" fill="none" stroke="#787878" stroke-width="0.7" stroke-dasharray="21 25 19 18 19 30" stroke-dashoffset="93" transform="matrix(1,0,0,0.419,0,249.18)"/>
<use href="#a4" fill="none" stroke="#6a6a6a" stroke-width="0.8" stroke-dasharray="17 8 4 29 13 28" stroke-dashoffset="88" transform="matrix(1,0,0,0.424,0,247.06)"/>
<use href="#a4" fill="none" stroke="#818181" stroke-width="0.7" stroke-dasharray="14 25 29 22 8 27" stroke-dashoffset="171" transform="matrix(1,0,0,0.045,0,402.78)"/>
<use href="#a4" fill="none" stroke="#656565" stroke-width="0.7" stroke-dasharray="10 11 7 7 27 27" stroke-dashoffset="25" transform="matrix(1,0,0,0.135,0,365.83)"/>
<use href="#a4" fill="none" stroke="#464646" stroke-width="0.6" stroke-dasharray="21 19 23 22 4 21" stroke-dashoffset="47" transform="matrix(1,0,0,0.908,0,47.83)"/>
<use href="#a4" fill="none" stroke="#2c2c2c" stroke-width="0.9" stroke-dasharray="5 15 17 22 4 10" stroke-dashoffset="194" transform="matrix(1,0,0,0.225,0,328.70)"/>
<use href="#a4" fill="none" stroke="#797979" stroke-width="1.1" stroke-dasharray="26 4 6 9 14 18" stroke-dashoffset="57" transform="matrix(1,0,0,0.274,0,308.58)"/>
<use href="#a4" fill="none" stroke="#6b6b6b" stroke-width="0.9" stroke-dasharray="29 15 10 10 16 27" stroke-dashoffset="170" transform="matrix(1,0,0,0.404,0,255.32)"/>
<use href="#a4" fill="none" stroke="#616161" stroke-width="0.9" stroke-dasharray="15 29 25 5 6 25" stroke-dashoffset="73" transform="matrix(1,0,0,0.143,0,362.61)"/>
<use href="#a4" fill="none" stroke="#353535" stroke-width="0.6" stroke-dasharray="9 20 9 24 16 5" stroke-dashoffset="136" transform="matrix(1,0,0,0.630,0,162.00)"/>
<use href="#a4" fill="none" stroke="#5b5b5b" stroke-width="1.0" stroke-dasharray="10 28 11 5 18 5" stroke-dashoffset="90" transform="matrix(1,0,0,0.368,0,270.10)"/>
<use href="#a4" fill="none" stroke="#3b3b3b" stroke-width="0.9" stroke-dasharray="24 4 19 8 28 12" stroke-dashoffset="7" transform="matrix(1,0,0,0.214,0,333.23)"/>
<use href="#a4" fill="none" stroke="#2b2b2b" stroke-width="0.5" stroke-dasharray="24 22 30 27 20 6" stroke-dashoffset="110" transform="matrix(1,0,0,0.570,0,186.92)"/>
<use href="#a4" fill="none" stroke="#666666" stroke-width="0.6" stroke-dasharray="4 18 15 4 24 11" stroke-dashoffset="175" transform="matrix(1,0,0,0.627,0,163.21)"/>
<use href="#a4" fill="none" stroke="#4b4b4b" stroke-width="1.0" stroke-dasharray="15 30 11 13 9 17" stroke-dashoffset="95" transform="matrix(1,0,0,0.442,0,239.61)"/>
<use href="#a4" fill="none" stroke="#1f1f1f" stroke-width="1.0" stroke-dasharray="27 16 5 18 13 5" stroke-dashoffset="163" transform="matrix(1,0,0,0.417,0,250.00)"/>
<use href="#a4" fill="none" stroke="#444444" stroke-width="1.1" stroke-dasharray="18 30 20 20 25 14" stroke-dashoffset="49" transform="matrix(1,0,0,0.633,0,160.76)"/>
<use href="#a4" fill="none" stroke="#444444" stroke-width="0.8" stroke-dasharray="10 30 30 11 14 4" stroke-dashoffset="10" transform="matrix(1,0,0,0.738,0,117.56)"/>
<use href="#a4" fill="none" stroke="#5a5a5a" stroke-width="0.7" stroke-dasharray="11 9 14 13 7 22" stroke-dashoffset="128" transform="matrix(1,0,0,0.842,0,74.81)"/>
<use href="#a4" fill="none" stroke="#4f4f4f" stroke-width="0.7" stroke-dasharray="14 10 17 16 9 16" stroke-dashoffset="106" transform="matrix(1,0,0,0.233,0,325.70)"/>
<use href="#a4" fill="none" stroke="#535353" stroke-width="0.8" stroke-dasharray="12 4 4 13 30 11" stroke-dashoffset="200" transform="matrix(1,0,0,0.708,0,129.92)"/>
<use href="#a4" fill="none" stroke="#4e4e4e" stroke-width="1.0" stroke-dasharray="16 21 19 19 14 25" stroke-dashoffset="85" transform="matrix(1,0,0,0.123,0,370.72)"/>
<use href="#a4" fill="none" stroke="#7c7c7c" stroke-width="0.9" stroke-dasharray="5 14 23 30 9 15" stroke-dashoffset="139" transform="matrix(1,0,0,0.734,0,119.21)"/>
<use href="#a4" fill="none" stroke="#2d2d2d" stroke-width="0.9" stroke-dasharray="20 27 12 19 8 23" stroke-dashoffset="15" transform="matrix(1,0,0,0.065,0,394.64)"/>
<use href="#a4" fill="none" stroke="#6a6a6a" stroke-width="0.6" stroke-dasharray="11 15 20 14 11 23" stroke-dashoffset="49" transform="matrix(1,0,0,0.560,0,190.85)"/>
<use href="#a4" fill="none" stroke="#606060" stroke-width="0.7" stroke-dasharray="14 14 14 13 8 14" stroke-dashoffset="10" transform="matrix(1,0,0,0.114,0,374.52)"/>
<use href="#a4" fill="none" stroke="#767676" stroke-width="0.6" stroke-dasharray="21 22 22 18 12 26" stroke-dashoffset="192" transform="matrix(1,0,0,0.721,0,124.73)"/>
<use href="#a4" fill="none" stroke="#686868" stroke-width="0.6" stroke-dasharray="30 30 6 10 29 26" stroke-dashoffset="64" transform="matrix(1,0,0,0.224,0,329.37)"/>
<use href="#a4" fill="none" stroke="#3b3b3b" stroke-width="0.8" stroke-dasharray="16 8 12 19 9 18" stroke-dashoffset="111" transform="matrix(1,0,0,0.703,0,132.05)"/>
<use href="#a4" fill="none" stroke="#515151" stroke-width="0.8" stroke-dasharray="21 27 13 26 20 9" stroke-dashoffset="0" transform="matrix(1,0,0,0.840,0,75.71)"/>
<use href="#a4" fill="none" stroke="#606060" stroke-width="0.6" stroke-dasharray="26 18 11 12 20 12" stroke-dashoffset="101" transform="matrix(1,0,0,0.085,0,386.52)"/>
<use href="#a4" fill="none" stroke="#616161" stroke-width="0.8" stroke-dasharray="9 7 12 12 8 26" stroke-dashoffset="101" transform="matrix(1,0,0,0.159,0,356.22)"/>
<use href="#a4" fill="none" stroke="#3b3b3b" stroke-width="0.7" stroke-dasharray="20 20 16 4 15 5" stroke-dashoffset="51" transform="matrix(1,0,0,0.482,0,223.10)"/>
<use href="#a4" fill="none" stroke="#2d2d2d" stroke-width="1.0" stroke-dasharray="24 6 20 28 8 25" stroke-dashoffset="73" transform="matrix(1,0,0,0.304,0,296.22)"/>
<use href="#a4" fill="none" stroke="#555555" stroke-width="0.6" stroke-dasharray="14 17 22 13 26 5" stroke-dashoffset="57" transform="matrix(1,0,0,0.173,0,350.40)"/>
<use href="#a4" fill="none" stroke="#434343" stroke-width="0.8" stroke-dasharray="18 9 21 26 13 12" stroke-dashoffset="75" transform="matrix(1,0,0,0.838,0,76.52)"/>
<use href="#a4" fill="none" stroke="#6f6f6f" stroke-width="0.8" stroke-dasharray="5 12 16 29 16 12" stroke-dashoffset="199" transform="matrix(1,0,0,0.297,0,299.34)"/>
<use href="#a4" fill="none" stroke="#242424" stroke-width="1.0" stroke-dasharray="9 15 11 9 20 26" stroke-dashoffset="137" transform="matrix(1,0,0,0.820,0,83.79)"/>
<use href="#a4" fill="none" stroke="#464646" stroke-width="0.6" stroke-dasharray="26 17 24 18 14 14" stroke-dashoffset="85" transform="matrix(1,0,0,0.645,0,156.19)"/>
<rect x="35.8" y="416.4" width="163.00" height="147.10" filter="url(#streakD)" opacity="0.35"/><rect x="35.8" y="416.4" width="163.00" height="147.10" filter="url(#streakL)" opacity="0.1"/>
</g>
<rect x="35.8" y="416.4" width="163.00" height="5.00" fill="#080808"/>
<use href="#pf4" fill="#222222"/>
<g clip-path="url(#c4pw)">
<use href="#pf4" fill="#2c2c2c" transform="matrix(1,0,0,0.600,0,225.43)"/>
<use href="#pf4" fill="#5a5a5a" transform="matrix(1,0,0,0.450,0,309.82)"/>
<use href="#pf4" fill="#dcdcdc" transform="matrix(1,0,0,0.380,0,350.14)"/>
<use href="#pf4" fill="#f4f4f4" transform="matrix(1,0,0,0.380,0,351.74)"/>
<use href="#pf4" fill="#9a9a9a" transform="matrix(1,0,0,0.320,0,387.70)"/>
<use href="#pf4" fill="#e4e4e4" transform="matrix(1,0,0,0.300,0,400.72)"/>
<use href="#pf4" fill="#f4f4f4" transform="matrix(1,0,0,0.300,0,403.22)"/>
<use href="#p4" fill="none" stroke="#525252" stroke-width="1.3" stroke-dasharray="86 76 45 63 61 56" stroke-dashoffset="7" transform="matrix(1,0,0,0.984,0,2.68)"/>
<use href="#p4" fill="none" stroke="#606060" stroke-width="0.8" stroke-dasharray="49 82 76 119 58 92" stroke-dashoffset="71" transform="matrix(1,0,0,0.648,0,203.43)"/>
<use href="#p4" fill="none" stroke="#202020" stroke-width="0.9" stroke-dasharray="118 38 47 65 38 56" stroke-dashoffset="50" transform="matrix(1,0,0,0.981,0,4.25)"/>
<use href="#p4" fill="none" stroke="#696969" stroke-width="0.9" stroke-dasharray="43 20 102 85 115 91" stroke-dashoffset="13" transform="matrix(1,0,0,0.699,0,173.13)"/>
<use href="#p4" fill="none" stroke="#101010" stroke-width="1.2" stroke-dasharray="60 79 46 79 60 114" stroke-dashoffset="18" transform="matrix(1,0,0,0.725,0,157.73)"/>
<use href="#p4" fill="none" stroke="#555555" stroke-width="0.7" stroke-dasharray="49 85 114 26 59 88" stroke-dashoffset="40" transform="matrix(1,0,0,0.998,0,-5.92)"/>
<use href="#p4" fill="none" stroke="#6b6b6b" stroke-width="0.7" stroke-dasharray="56 71 48 111 111 20" stroke-dashoffset="111" transform="matrix(1,0,0,0.940,0,29.01)"/>
<use href="#p4" fill="none" stroke="#616161" stroke-width="1.1" stroke-dasharray="113 28 31 61 112 90" stroke-dashoffset="116" transform="matrix(1,0,0,0.704,0,169.94)"/>
<use href="#p4" fill="none" stroke="#434343" stroke-width="0.7" stroke-dasharray="37 48 34 58 119 86" stroke-dashoffset="93" transform="matrix(1,0,0,0.766,0,133.18)"/>
<use href="#p4" fill="none" stroke="#141414" stroke-width="1.0" stroke-dasharray="91 34 40 114 111 112" stroke-dashoffset="199" transform="matrix(1,0,0,0.830,0,94.90)"/>
<use href="#p4" fill="none" stroke="#2b2b2b" stroke-width="1.1" stroke-dasharray="81 100 71 22 105 119" stroke-dashoffset="150" transform="matrix(1,0,0,0.960,0,16.98)"/>
<use href="#p4" fill="none" stroke="#636363" stroke-width="1.2" stroke-dasharray="67 94 48 59 61 41" stroke-dashoffset="70" transform="matrix(1,0,0,0.918,0,42.35)"/>
<use href="#p4" fill="none" stroke="#1a1a1a" stroke-width="0.7" stroke-dasharray="43 57 41 26 100 65" stroke-dashoffset="192" transform="matrix(1,0,0,0.813,0,104.75)"/>
<use href="#p4" fill="none" stroke="#636363" stroke-width="1.0" stroke-dasharray="74 65 110 93 50 103" stroke-dashoffset="95" transform="matrix(1,0,0,0.605,0,229.07)"/>
<use href="#p4" fill="none" stroke="#242424" stroke-width="1.0" stroke-dasharray="104 38 58 29 99 90" stroke-dashoffset="127" transform="matrix(1,0,0,0.767,0,132.23)"/>
<use href="#p4" fill="none" stroke="#424242" stroke-width="0.7" stroke-dasharray="72 119 85 96 36 37" stroke-dashoffset="131" transform="matrix(1,0,0,0.869,0,71.34)"/>
<use href="#p4" fill="none" stroke="#282828" stroke-width="1.2" stroke-dasharray="74 90 106 83 48 52" stroke-dashoffset="136" transform="matrix(1,0,0,0.969,0,11.83)"/>
<use href="#p4" fill="none" stroke="#131313" stroke-width="0.8" stroke-dasharray="104 110 88 46 42 49" stroke-dashoffset="134" transform="matrix(1,0,0,0.976,0,7.34)"/>
<use href="#p4" fill="none" stroke="#363636" stroke-width="1.2" stroke-dasharray="38 99 115 32 33 69" stroke-dashoffset="55" transform="matrix(1,0,0,0.569,0,250.57)"/>
<use href="#p4" fill="none" stroke="#626262" stroke-width="0.7" stroke-dasharray="73 43 71 73 23 91" stroke-dashoffset="185" transform="matrix(1,0,0,0.634,0,211.75)"/>
<use href="#p4" fill="none" stroke="#585858" stroke-width="0.8" stroke-dasharray="105 115 105 85 64 101" stroke-dashoffset="193" transform="matrix(1,0,0,0.849,0,83.29)"/>
<use href="#p4" fill="none" stroke="#292929" stroke-width="0.7" stroke-dasharray="97 72 50 50 23 110" stroke-dashoffset="128" transform="matrix(1,0,0,0.717,0,162.16)"/>
<use href="#p4" fill="none" stroke="#5f5f5f" stroke-width="0.8" stroke-dasharray="118 26 104 59 94 92" stroke-dashoffset="195" transform="matrix(1,0,0,0.692,0,177.36)"/>
<use href="#p4" fill="none" stroke="#5f5f5f" stroke-width="1.1" stroke-dasharray="88 47 45 30 34 106" stroke-dashoffset="133" transform="matrix(1,0,0,0.876,0,67.11)"/>
<use href="#p4" fill="none" stroke="#2e2e2e" stroke-width="1.0" stroke-dasharray="71 93 117 42 24 115" stroke-dashoffset="40" transform="matrix(1,0,0,0.878,0,65.93)"/>
<use href="#p4" fill="none" stroke="#505050" stroke-width="0.6" stroke-dasharray="39 61 58 106 77 90" stroke-dashoffset="17" transform="matrix(1,0,0,0.756,0,139.09)"/>
<use href="#p4" fill="none" stroke="#2a2a2a" stroke-width="1.3" stroke-dasharray="28 77 85 36 102 36" stroke-dashoffset="128" transform="matrix(1,0,0,0.679,0,185.36)"/>
<use href="#p4" fill="none" stroke="#535353" stroke-width="0.7" stroke-dasharray="42 101 115 54 27 104" stroke-dashoffset="82" transform="matrix(1,0,0,0.987,0,1.10)"/>
<use href="#p4" fill="none" stroke="#666666" stroke-width="0.7" stroke-dasharray="85 48 39 24 120 29" stroke-dashoffset="105" transform="matrix(1,0,0,0.958,0,18.41)"/>
<use href="#p4" fill="none" stroke="#626262" stroke-width="1.1" stroke-dasharray="50 70 25 105 74 96" stroke-dashoffset="144" transform="matrix(1,0,0,0.844,0,86.34)"/>
<use href="#p4" fill="none" stroke="#353535" stroke-width="1.3" stroke-dasharray="92 63 66 61 75 70" stroke-dashoffset="145" transform="matrix(1,0,0,0.559,0,256.93)"/>
<use href="#p4" fill="none" stroke="#343434" stroke-width="1.3" stroke-dasharray="118 34 116 38 71 119" stroke-dashoffset="77" transform="matrix(1,0,0,0.870,0,70.96)"/>
<use href="#p4" fill="none" stroke="#131313" stroke-width="0.8" stroke-dasharray="28 58 84 99 32 101" stroke-dashoffset="182" transform="matrix(1,0,0,0.905,0,49.73)"/>
<use href="#p4" fill="none" stroke="#434343" stroke-width="0.8" stroke-dasharray="41 55 27 76 38 76" stroke-dashoffset="120" transform="matrix(1,0,0,0.975,0,8.29)"/>
<use href="#p4" fill="none" stroke="#4d4d4d" stroke-width="1.1" stroke-dasharray="118 20 66 106 43 48" stroke-dashoffset="31" transform="matrix(1,0,0,0.916,0,43.48)"/>
<use href="#p4" fill="none" stroke="#151515" stroke-width="0.7" stroke-dasharray="91 26 62 84 56 116" stroke-dashoffset="52" transform="matrix(1,0,0,0.783,0,123.01)"/>
<use href="#p4" fill="none" stroke="#232323" stroke-width="1.1" stroke-dasharray="37 38 48 82 25 55" stroke-dashoffset="178" transform="matrix(1,0,0,0.683,0,182.69)"/>
<use href="#p4" fill="none" stroke="#3e3e3e" stroke-width="1.2" stroke-dasharray="90 117 24 70 46 40" stroke-dashoffset="58" transform="matrix(1,0,0,0.581,0,243.59)"/>
<use href="#p4" fill="none" stroke="#2c2c2c" stroke-width="1.1" stroke-dasharray="116 44 106 63 114 118" stroke-dashoffset="143" transform="matrix(1,0,0,0.831,0,94.30)"/>
<use href="#p4" fill="none" stroke="#181818" stroke-width="0.8" stroke-dasharray="24 114 98 118 116 77" stroke-dashoffset="60" transform="matrix(1,0,0,0.645,0,205.34)"/>
<use href="#p4" fill="none" stroke="#505050" stroke-width="1.1" stroke-dasharray="100 111 76 24 45 41" stroke-dashoffset="158" transform="matrix(1,0,0,0.771,0,130.04)"/>
<use href="#p4" fill="none" stroke="#5e5e5e" stroke-width="0.8" stroke-dasharray="29 111 51 93 20 65" stroke-dashoffset="46" transform="matrix(1,0,0,0.692,0,177.10)"/>
<use href="#p4" fill="none" stroke="#131313" stroke-width="0.7" stroke-dasharray="78 31 32 48 64 75" stroke-dashoffset="169" transform="matrix(1,0,0,0.929,0,35.75)"/>
<use href="#p4" fill="none" stroke="#131313" stroke-width="0.7" stroke-dasharray="109 98 52 24 50 29" stroke-dashoffset="182" transform="matrix(1,0,0,0.728,0,155.59)"/>
<use href="#p4" fill="none" stroke="#454545" stroke-width="0.8" stroke-dasharray="72 110 90 84 107 47" stroke-dashoffset="161" transform="matrix(1,0,0,0.833,0,92.96)"/>
<use href="#p4" fill="none" stroke="#585858" stroke-width="0.9" stroke-dasharray="55 92 103 20 109 81" stroke-dashoffset="65" transform="matrix(1,0,0,0.561,0,255.47)"/>
<use href="#p4" fill="none" stroke="#0b0b0b" stroke-width="0.8" stroke-dasharray="100 106 79 69 73 60" stroke-dashoffset="84" transform="matrix(1,0,0,0.738,0,149.51)"/>
<use href="#p4" fill="none" stroke="#585858" stroke-width="0.7" stroke-dasharray="105 43 32 42 87 54" stroke-dashoffset="48" transform="matrix(1,0,0,0.809,0,107.02)"/>
<use href="#p4" fill="none" stroke="#363636" stroke-width="0.9" stroke-dasharray="56 97 38 64 91 27" stroke-dashoffset="91" transform="matrix(1,0,0,0.814,0,104.15)"/>
<use href="#p4" fill="none" stroke="#1d1d1d" stroke-width="1.0" stroke-dasharray="70 93 79 50 119 118" stroke-dashoffset="88" transform="matrix(1,0,0,0.840,0,89.00)"/>
<use href="#p4" fill="none" stroke="#484848" stroke-width="0.6" stroke-dasharray="116 99 59 55 80 76" stroke-dashoffset="63" transform="matrix(1,0,0,0.605,0,229.57)"/>
<use href="#p4" fill="none" stroke="#5a5a5a" stroke-width="1.3" stroke-dasharray="97 86 89 79 83 36" stroke-dashoffset="143" transform="matrix(1,0,0,0.809,0,107.24)"/>
<use href="#p4" fill="none" stroke="#575757" stroke-width="0.8" stroke-dasharray="26 84 64 103 89 99" stroke-dashoffset="43" transform="matrix(1,0,0,0.894,0,56.57)"/>
<use href="#p4" fill="none" stroke="#272727" stroke-width="0.7" stroke-dasharray="101 22 82 33 92 21" stroke-dashoffset="153" transform="matrix(1,0,0,0.978,0,6.05)"/>
<use href="#p4" fill="none" stroke="#3c3c3c" stroke-width="0.7" stroke-dasharray="112 99 85 110 100 55" stroke-dashoffset="131" transform="matrix(1,0,0,0.953,0,20.90)"/>
<use href="#p4" fill="none" stroke="#6b6b6b" stroke-width="1.3" stroke-dasharray="30 40 25 120 38 54" stroke-dashoffset="194" transform="matrix(1,0,0,0.979,0,5.73)"/>
<use href="#p4" fill="none" stroke="#464646" stroke-width="1.1" stroke-dasharray="50 55 59 56 49 39" stroke-dashoffset="148" transform="matrix(1,0,0,0.880,0,65.07)"/>
<use href="#p4" fill="none" stroke="#191919" stroke-width="0.9" stroke-dasharray="106 86 99 110 91 67" stroke-dashoffset="37" transform="matrix(1,0,0,0.868,0,72.11)"/>
<use href="#p4" fill="none" stroke="#292929" stroke-width="0.9" stroke-dasharray="43 91 28 117 90 91" stroke-dashoffset="102" transform="matrix(1,0,0,0.868,0,71.78)"/>
<use href="#p4" fill="none" stroke="#3e3e3e" stroke-width="1.0" stroke-dasharray="81 96 51 50 78 40" stroke-dashoffset="116" transform="matrix(1,0,0,0.688,0,179.84)"/>
<use href="#p4" fill="none" stroke="#696969" stroke-width="0.6" stroke-dasharray="118 33 59 115 108 49" stroke-dashoffset="88" transform="matrix(1,0,0,0.820,0,100.54)"/>
<use href="#p4" fill="none" stroke="#5f5f5f" stroke-width="0.6" stroke-dasharray="82 113 70 42 94 111" stroke-dashoffset="123" transform="matrix(1,0,0,0.559,0,256.55)"/>
<use href="#p4" fill="none" stroke="#2f2f2f" stroke-width="1.2" stroke-dasharray="79 27 113 33 118 117" stroke-dashoffset="50" transform="matrix(1,0,0,0.855,0,79.94)"/>
<use href="#p4" fill="none" stroke="#252525" stroke-width="0.9" stroke-dasharray="54 42 77 41 45 61" stroke-dashoffset="14" transform="matrix(1,0,0,0.875,0,67.65)"/>
<use href="#p4" fill="none" stroke="#3c3c3c" stroke-width="1.0" stroke-dasharray="94 66 21 47 104 57" stroke-dashoffset="133" transform="matrix(1,0,0,0.687,0,180.26)"/>
<use href="#p4" fill="none" stroke="#232323" stroke-width="1.0" stroke-dasharray="82 106 76 110 82 23" stroke-dashoffset="122" transform="matrix(1,0,0,0.623,0,218.49)"/>
<use href="#p4" fill="none" stroke="#1a1a1a" stroke-width="1.1" stroke-dasharray="99 113 78 96 87 98" stroke-dashoffset="182" transform="matrix(1,0,0,0.586,0,240.82)"/>
<use href="#p4" fill="none" stroke="#535353" stroke-width="0.7" stroke-dasharray="75 69 84 110 30 39" stroke-dashoffset="169" transform="matrix(1,0,0,0.892,0,57.66)"/>
<use href="#p4" fill="none" stroke="#303030" stroke-width="0.8" stroke-dasharray="109 93 22 109 80 60" stroke-dashoffset="71" transform="matrix(1,0,0,0.822,0,99.30)"/>
<use href="#p4" fill="none" stroke="#686868" stroke-width="0.9" stroke-dasharray="120 73 55 27 118 115" stroke-dashoffset="49" transform="matrix(1,0,0,0.582,0,243.02)"/>
<use href="#p4" fill="none" stroke="#393939" stroke-width="0.9" stroke-dasharray="89 82 93 51 31 36" stroke-dashoffset="74" transform="matrix(1,0,0,0.932,0,33.53)"/>
<use href="#p4" fill="none" stroke="#101010" stroke-width="1.1" stroke-dasharray="25 118 105 28 47 38" stroke-dashoffset="54" transform="matrix(1,0,0,0.589,0,239.16)"/>
<use href="#p4" fill="none" stroke="#545454" stroke-width="1.1" stroke-dasharray="71 108 55 48 84 78" stroke-dashoffset="151" transform="matrix(1,0,0,0.578,0,245.57)"/>
<use href="#p4" fill="none" stroke="#111111" stroke-width="1.0" stroke-dasharray="87 105 24 61 90 92" stroke-dashoffset="146" transform="matrix(1,0,0,0.582,0,242.95)"/>
<use href="#p4" fill="none" stroke="#3f3f3f" stroke-width="0.8" stroke-dasharray="22 49 55 26 64 94" stroke-dashoffset="119" transform="matrix(1,0,0,0.812,0,105.73)"/>
<use href="#p4" fill="none" stroke="#262626" stroke-width="0.7" stroke-dasharray="86 38 35 74 21 116" stroke-dashoffset="168" transform="matrix(1,0,0,0.692,0,177.54)"/>
<use href="#p4" fill="none" stroke="#373737" stroke-width="0.6" stroke-dasharray="86 27 108 84 83 39" stroke-dashoffset="77" transform="matrix(1,0,0,0.943,0,26.94)"/>
<use href="#p4" fill="none" stroke="#343434" stroke-width="1.2" stroke-dasharray="82 112 57 56 86 27" stroke-dashoffset="197" transform="matrix(1,0,0,0.713,0,164.80)"/>
<use href="#p4" fill="none" stroke="#636363" stroke-width="1.0" stroke-dasharray="22 38 88 66 47 54" stroke-dashoffset="138" transform="matrix(1,0,0,0.699,0,173.23)"/>
<use href="#p4" fill="none" stroke="#606060" stroke-width="0.7" stroke-dasharray="64 59 52 109 51 116" stroke-dashoffset="118" transform="matrix(1,0,0,0.986,0,1.31)"/>
<use href="#p4" fill="none" stroke="#dddddd" stroke-width="0.9" stroke-dasharray="23 13 23 29 26 12" stroke-dashoffset="171" transform="matrix(1,0,0,0.300,0,405.36)"/>
<use href="#p4" fill="none" stroke="#dfdfdf" stroke-width="0.7" stroke-dasharray="20 6 14 10 6 22" stroke-dashoffset="74" transform="matrix(1,0,0,0.300,0,402.41)"/>
<use href="#p4" fill="none" stroke="#a4a4a4" stroke-width="0.8" stroke-dasharray="14 24 8 25 28 15" stroke-dashoffset="11" transform="matrix(1,0,0,0.300,0,402.93)"/>
<use href="#p4" fill="none" stroke="#afafaf" stroke-width="1.0" stroke-dasharray="10 20 22 22 24 25" stroke-dashoffset="95" transform="matrix(1,0,0,0.300,0,409.15)"/>
<use href="#p4" fill="none" stroke="#d3d3d3" stroke-width="1.0" stroke-dasharray="22 5 20 30 15 13" stroke-dashoffset="98" transform="matrix(1,0,0,0.300,0,408.31)"/>
<use href="#p4" fill="none" stroke="#9e9e9e" stroke-width="1.5" stroke-dasharray="22 17 11 15 26 23" stroke-dashoffset="131" transform="matrix(1,0,0,0.300,0,404.56)"/>
<use href="#p4" fill="none" stroke="#b7b7b7" stroke-width="1.5" stroke-dasharray="14 17 10 11 5 30" stroke-dashoffset="54" transform="matrix(1,0,0,0.300,0,406.77)"/>
<use href="#p4" fill="none" stroke="#adadad" stroke-width="1.1" stroke-dasharray="19 7 17 17 20 8" stroke-dashoffset="116" transform="matrix(1,0,0,0.300,0,407.57)"/>
<use href="#p4" fill="none" stroke="#d4d4d4" stroke-width="1.1" stroke-dasharray="24 17 30 25 13 6" stroke-dashoffset="63" transform="matrix(1,0,0,0.300,0,405.66)"/>
<use href="#p4" fill="none" stroke="#d7d7d7" stroke-width="0.9" stroke-dasharray="13 22 27 9 21 12" stroke-dashoffset="62" transform="matrix(1,0,0,0.300,0,402.90)"/>
<use href="#p4" fill="none" stroke="#bfbfbf" stroke-width="1.1" stroke-dasharray="12 7 14 30 13 25" stroke-dashoffset="131" transform="matrix(1,0,0,0.300,0,407.33)"/>
<use href="#p4" fill="none" stroke="#d7d7d7" stroke-width="0.8" stroke-dasharray="6 15 17 12 5 29" stroke-dashoffset="195" transform="matrix(1,0,0,0.300,0,405.35)"/>
<use href="#p4" fill="none" stroke="#e3e3e3" stroke-width="1.0" stroke-dasharray="7 27 14 16 14 29" stroke-dashoffset="19" transform="matrix(1,0,0,0.300,0,403.65)"/>
<use href="#p4" fill="none" stroke="#d5d5d5" stroke-width="1.4" stroke-dasharray="15 26 7 13 11 8" stroke-dashoffset="83" transform="matrix(1,0,0,0.300,0,408.30)"/>
<use href="#p4" fill="none" stroke="#c7c7c7" stroke-width="1.2" stroke-dasharray="25 28 10 6 14 20" stroke-dashoffset="187" transform="matrix(1,0,0,0.300,0,401.99)"/>
<use href="#p4" fill="none" stroke="#dddddd" stroke-width="0.9" stroke-dasharray="24 13 10 10 30 30" stroke-dashoffset="51" transform="matrix(1,0,0,0.300,0,402.83)"/>
<use href="#p4" fill="none" stroke="#c8c8c8" stroke-width="1.0" stroke-dasharray="14 29 22 23 8 27" stroke-dashoffset="139" transform="matrix(1,0,0,0.300,0,404.05)"/>
<use href="#p4" fill="none" stroke="#b2b2b2" stroke-width="1.1" stroke-dasharray="13 29 30 13 18 8" stroke-dashoffset="110" transform="matrix(1,0,0,0.300,0,405.14)"/>
<use href="#p4" fill="none" stroke="#a0a0a0" stroke-width="1.2" stroke-dasharray="23 12 13 30 18 9" stroke-dashoffset="113" transform="matrix(1,0,0,0.300,0,402.32)"/>
<use href="#p4" fill="none" stroke="#e0e0e0" stroke-width="1.5" stroke-dasharray="29 19 13 11 22 25" stroke-dashoffset="117" transform="matrix(1,0,0,0.300,0,403.07)"/>
</g>
</g>
<path d="M117,472V506.7" stroke="#e8e8e8" stroke-width="1.4"/>
<path d="M141.9,458V519" stroke="#e8e8e8" stroke-width="1.4"/>
<text x="82.77" y="493.5" font-size="15" fill="#f4f4f4" textLength="48.65" lengthAdjust="spacingAndGlyphs">LVESD</text>
<text x="143.77" y="493.5" font-size="15" fill="#f4f4f4" textLength="49.75" lengthAdjust="spacingAndGlyphs">LVEDD</text>
<g clip-path="url(#c5)">
<rect x="202.1" y="416.4" width="162.70" height="146.40" fill="#040404"/>
<rect x="202.1" y="416.4" width="162.70" height="146.40" filter="url(#speck)" opacity="0.15"/>
<use href="#af5" fill="#1e1e1e"/>
<g clip-path="url(#c5aw)">
<use href="#a5" fill="none" stroke="#2d2d2d" stroke-width="1.0" stroke-dasharray="5 12 20 16 13 8" stroke-dashoffset="103" transform="matrix(1,0,0,0.023,0,413.53)"/>
<use href="#a5" fill="none" stroke="#9b9b9b" stroke-width="0.8" stroke-dasharray="4 4 19 17 17 19" stroke-dashoffset="62" transform="matrix(1,0,0,0.284,0,305.21)"/>
<use href="#a5" fill="none" stroke="#8e8e8e" stroke-width="0.8" stroke-dasharray="9 19 8 16 15 17" stroke-dashoffset="40" transform="matrix(1,0,0,0.580,0,182.80)"/>
<use href="#a5" fill="none" stroke="#5b5b5b" stroke-width="0.8" stroke-dasharray="14 11 9 13 22 13" stroke-dashoffset="159" transform="matrix(1,0,0,0.222,0,330.92)"/>
<use href="#a5" fill="none" stroke="#666666" stroke-width="0.7" stroke-dasharray="14 14 10 11 6 18" stroke-dashoffset="193" transform="matrix(1,0,0,0.602,0,173.71)"/>
<use href="#a5" fill="none" stroke="#7b7b7b" stroke-width="0.7" stroke-dasharray="5 3 12 4 22 11" stroke-dashoffset="109" transform="matrix(1,0,0,0.605,0,172.49)"/>
<use href="#a5" fill="none" stroke="#777777" stroke-width="0.7" stroke-dasharray="10 8 17 6 11 13" stroke-dashoffset="59" transform="matrix(1,0,0,0.080,0,389.74)"/>
<use href="#a5" fill="none" stroke="#707070" stroke-width="0.9" stroke-dasharray="7 18 21 12 15 6" stroke-dashoffset="75" transform="matrix(1,0,0,0.274,0,309.59)"/>
<use href="#a5" fill="none" stroke="#404040" stroke-width="0.7" stroke-dasharray="6 18 18 20 14 17" stroke-dashoffset="2" transform="matrix(1,0,0,0.554,0,193.60)"/>
<use href="#a5" fill="none" stroke="#979797" stroke-width="0.9" stroke-dasharray="9 9 4 17 19 18" stroke-dashoffset="130" transform="matrix(1,0,0,0.086,0,387.57)"/>
<use href="#a5" fill="none" stroke="#8f8f8f" stroke-width="0.6" stroke-dasharray="9 20 5 22 4 10" stroke-dashoffset="56" transform="matrix(1,0,0,0.318,0,291.23)"/>
<use href="#a5" fill="none" stroke="#797979" stroke-width="0.8" stroke-dasharray="8 22 12 5 10 16" stroke-dashoffset="155" transform="matrix(1,0,0,0.317,0,291.54)"/>
<use href="#a5" fill="none" stroke="#646464" stroke-width="0.9" stroke-dasharray="14 14 9 11 20 5" stroke-dashoffset="171" transform="matrix(1,0,0,0.945,0,31.48)"/>
<use href="#a5" fill="none" stroke="#919191" stroke-width="0.7" stroke-dasharray="5 8 6 10 22 14" stroke-dashoffset="137" transform="matrix(1,0,0,0.960,0,25.50)"/>
<use href="#a5" fill="none" stroke="#5a5a5a" stroke-width="0.8" stroke-dasharray="20 3 8 18 13 16" stroke-dashoffset="166" transform="matrix(1,0,0,0.036,0,408.27)"/>
<use href="#a5" fill="none" stroke="#9a9a9a" stroke-width="0.6" stroke-dasharray="20 19 3 11 6 11" stroke-dashoffset="53" transform="matrix(1,0,0,0.740,0,116.59)"/>
<use href="#a5" fill="none" stroke="#606060" stroke-width="0.6" stroke-dasharray="16 6 20 16 14 16" stroke-dashoffset="160" transform="matrix(1,0,0,0.004,0,421.16)"/>
<use href="#a5" fill="none" stroke="#292929" stroke-width="0.9" stroke-dasharray="12 12 15 9 13 19" stroke-dashoffset="72" transform="matrix(1,0,0,0.806,0,89.12)"/>
<use href="#a5" fill="none" stroke="#a9a9a9" stroke-width="1.0" stroke-dasharray="17 7 8 15 6 18" stroke-dashoffset="129" transform="matrix(1,0,0,0.741,0,116.09)"/>
<use href="#a5" fill="none" stroke="#353535" stroke-width="0.9" stroke-dasharray="11 19 9 7 17 10" stroke-dashoffset="29" transform="matrix(1,0,0,0.092,0,384.72)"/>
<use href="#a5" fill="none" stroke="#7f7f7f" stroke-width="0.9" stroke-dasharray="4 4 9 11 20 14" stroke-dashoffset="76" transform="matrix(1,0,0,0.417,0,250.12)"/>
<use href="#a5" fill="none" stroke="#5e5e5e" stroke-width="0.9" stroke-dasharray="4 16 8 9 22 5" stroke-dashoffset="151" transform="matrix(1,0,0,0.201,0,339.82)"/>
<use href="#a5" fill="none" stroke="#828282" stroke-width="1.0" stroke-dasharray="18 20 13 21 4 3" stroke-dashoffset="155" transform="matrix(1,0,0,0.002,0,422.23)"/>
<use href="#a5" fill="none" stroke="#545454" stroke-width="0.5" stroke-dasharray="3 20 11 6 17 6" stroke-dashoffset="17" transform="matrix(1,0,0,0.369,0,270.13)"/>
<use href="#a5" fill="none" stroke="#9f9f9f" stroke-width="0.5" stroke-dasharray="4 19 8 18 17 14" stroke-dashoffset="176" transform="matrix(1,0,0,0.791,0,95.37)"/>
<use href="#a5" fill="none" stroke="#3b3b3b" stroke-width="0.7" stroke-dasharray="8 5 21 14 15 20" stroke-dashoffset="66" transform="matrix(1,0,0,0.997,0,10.09)"/>
<use href="#a5" fill="none" stroke="#6e6e6e" stroke-width="1.0" stroke-dasharray="10 21 22 20 12 18" stroke-dashoffset="81" transform="matrix(1,0,0,0.644,0,156.44)"/>
<use href="#a5" fill="none" stroke="#3e3e3e" stroke-width="0.8" stroke-dasharray="4 18 16 17 13 20" stroke-dashoffset="194" transform="matrix(1,0,0,0.117,0,374.45)"/>
<use href="#a5" fill="none" stroke="#484848" stroke-width="0.7" stroke-dasharray="16 22 11 3 7 18" stroke-dashoffset="34" transform="matrix(1,0,0,0.472,0,227.68)"/>
<use href="#a5" fill="none" stroke="#9d9d9d" stroke-width="0.9" stroke-dasharray="5 21 5 11 16 11" stroke-dashoffset="194" transform="matrix(1,0,0,0.217,0,333.23)"/>
<use href="#a5" fill="none" stroke="#6a6a6a" stroke-width="0.7" stroke-dasharray="5 12 22 9 15 11" stroke-dashoffset="160" transform="matrix(1,0,0,0.377,0,266.95)"/>
<use href="#a5" fill="none" stroke="#6e6e6e" stroke-width="0.6" stroke-dasharray="19 10 17 7 15 19" stroke-dashoffset="41" transform="matrix(1,0,0,0.316,0,292.23)"/>
<use href="#a5" fill="none" stroke="#9f9f9f" stroke-width="0.6" stroke-dasharray="22 15 16 13 22 7" stroke-dashoffset="58" transform="matrix(1,0,0,0.175,0,350.58)"/>
<use href="#a5" fill="none" stroke="#a2a2a2" stroke-width="0.5" stroke-dasharray="7 11 9 19 10 17" stroke-dashoffset="96" transform="matrix(1,0,0,0.014,0,417.31)"/>
<use href="#a5" fill="none" stroke="#5f5f5f" stroke-width="0.9" stroke-dasharray="15 4 4 22 17 13" stroke-dashoffset="136" transform="matrix(1,0,0,0.466,0,230.19)"/>
<use href="#a5" fill="none" stroke="#999999" stroke-width="0.8" stroke-dasharray="5 8 15 22 20 19" stroke-dashoffset="121" transform="matrix(1,0,0,0.526,0,205.18)"/>
<use href="#a5" fill="none" stroke="#7c7c7c" stroke-width="0.6" stroke-dasharray="20 7 12 22 18 11" stroke-dashoffset="101" transform="matrix(1,0,0,0.037,0,407.86)"/>
<use href="#a5" fill="none" stroke="#636363" stroke-width="0.7" stroke-dasharray="13 3 16 14 9 19" stroke-dashoffset="103" transform="matrix(1,0,0,0.167,0,353.98)"/>
<use href="#a5" fill="none" stroke="#444444" stroke-width="0.8" stroke-dasharray="14 17 7 5 13 16" stroke-dashoffset="140" transform="matrix(1,0,0,0.664,0,148.04)"/>
<use href="#a5" fill="none" stroke="#7c7c7c" stroke-width="1.0" stroke-dasharray="9 8 22 3 11 8" stroke-dashoffset="123" transform="matrix(1,0,0,0.785,0,97.71)"/>
<use href="#a5" fill="none" stroke="#303030" stroke-width="1.0" stroke-dasharray="20 4 20 20 19 15" stroke-dashoffset="65" transform="matrix(1,0,0,0.141,0,364.78)"/>
<use href="#a5" fill="none" stroke="#9f9f9f" stroke-width="0.7" stroke-dasharray="6 16 7 11 4 5" stroke-dashoffset="173" transform="matrix(1,0,0,0.527,0,204.74)"/>
<use href="#a5" fill="none" stroke="#767676" stroke-width="0.5" stroke-dasharray="6 14 3 16 22 16" stroke-dashoffset="105" transform="matrix(1,0,0,0.682,0,140.62)"/>
<use href="#a5" fill="none" stroke="#6e6e6e" stroke-width="0.8" stroke-dasharray="16 7 21 8 15 20" stroke-dashoffset="151" transform="matrix(1,0,0,0.910,0,46.18)"/>
<use href="#a5" fill="none" stroke="#7a7a7a" stroke-width="0.7" stroke-dasharray="5 7 15 14 20 6" stroke-dashoffset="130" transform="matrix(1,0,0,0.760,0,108.20)"/>
<use href="#a5" fill="none" stroke="#525252" stroke-width="0.6" stroke-dasharray="20 22 21 17 15 17" stroke-dashoffset="0" transform="matrix(1,0,0,0.280,0,306.95)"/>
<use href="#a5" fill="none" stroke="#424242" stroke-width="0.8" stroke-dasharray="8 6 13 3 7 16" stroke-dashoffset="183" transform="matrix(1,0,0,0.349,0,278.36)"/>
<use href="#a5" fill="none" stroke="#2f2f2f" stroke-width="0.7" stroke-dasharray="6 9 9 11 4 11" stroke-dashoffset="54" transform="matrix(1,0,0,0.180,0,348.56)"/>
<use href="#a5" fill="none" stroke="#515151" stroke-width="0.5" stroke-dasharray="9 20 5 7 20 3" stroke-dashoffset="183" transform="matrix(1,0,0,0.328,0,287.19)"/>
<use href="#a5" fill="none" stroke="#9e9e9e" stroke-width="0.6" stroke-dasharray="15 12 22 5 11 8" stroke-dashoffset="114" transform="matrix(1,0,0,0.831,0,78.81)"/>
<use href="#a5" fill="none" stroke="#737373" stroke-width="0.5" stroke-dasharray="8 19 5 9 12 6" stroke-dashoffset="131" transform="matrix(1,0,0,0.884,0,56.86)"/>
<use href="#a5" fill="none" stroke="#2b2b2b" stroke-width="1.0" stroke-dasharray="8 16 13 10 20 20" stroke-dashoffset="63" transform="matrix(1,0,0,0.320,0,290.67)"/>
<use href="#a5" fill="none" stroke="#a0a0a0" stroke-width="0.6" stroke-dasharray="21 17 21 11 19 17" stroke-dashoffset="46" transform="matrix(1,0,0,0.473,0,227.25)"/>
<use href="#a5" fill="none" stroke="#353535" stroke-width="0.5" stroke-dasharray="8 19 15 20 5 18" stroke-dashoffset="57" transform="matrix(1,0,0,0.707,0,130.04)"/>
<use href="#a5" fill="none" stroke="#707070" stroke-width="0.7" stroke-dasharray="12 12 14 21 5 12" stroke-dashoffset="133" transform="matrix(1,0,0,0.214,0,334.52)"/>
<use href="#a5" fill="none" stroke="#303030" stroke-width="0.7" stroke-dasharray="5 7 8 3 6 9" stroke-dashoffset="122" transform="matrix(1,0,0,0.032,0,409.89)"/>
<use href="#a5" fill="none" stroke="#363636" stroke-width="1.0" stroke-dasharray="19 10 13 16 21 4" stroke-dashoffset="36" transform="matrix(1,0,0,0.556,0,192.55)"/>
<use href="#a5" fill="none" stroke="#595959" stroke-width="0.8" stroke-dasharray="6 18 11 9 12 15" stroke-dashoffset="178" transform="matrix(1,0,0,0.188,0,345.20)"/>
<use href="#a5" fill="none" stroke="#393939" stroke-width="0.9" stroke-dasharray="19 16 19 11 20 9" stroke-dashoffset="31" transform="matrix(1,0,0,0.507,0,213.08)"/>
<use href="#a5" fill="none" stroke="#888888" stroke-width="0.8" stroke-dasharray="17 6 5 19 9 8" stroke-dashoffset="53" transform="matrix(1,0,0,0.340,0,282.05)"/>
<use href="#a5" fill="none" stroke="#474747" stroke-width="0.9" stroke-dasharray="16 17 20 19 19 11" stroke-dashoffset="83" transform="matrix(1,0,0,0.818,0,84.10)"/>
<use href="#a5" fill="none" stroke="#818181" stroke-width="0.9" stroke-dasharray="17 19 7 11 19 3" stroke-dashoffset="155" transform="matrix(1,0,0,0.900,0,50.26)"/>
<use href="#a5" fill="none" stroke="#7f7f7f" stroke-width="0.6" stroke-dasharray="13 20 4 21 9 13" stroke-dashoffset="57" transform="matrix(1,0,0,0.757,0,109.31)"/>
<use href="#a5" fill="none" stroke="#8f8f8f" stroke-width="0.6" stroke-dasharray="12 7 13 12 21 11" stroke-dashoffset="24" transform="matrix(1,0,0,0.632,0,161.12)"/>
<use href="#a5" fill="none" stroke="#a7a7a7" stroke-width="0.8" stroke-dasharray="19 11 13 9 10 15" stroke-dashoffset="195" transform="matrix(1,0,0,0.302,0,297.96)"/>
<use href="#a5" fill="none" stroke="#414141" stroke-width="0.5" stroke-dasharray="7 18 11 5 4 12" stroke-dashoffset="73" transform="matrix(1,0,0,0.134,0,367.70)"/>
<use href="#a5" fill="none" stroke="#777777" stroke-width="0.9" stroke-dasharray="20 4 3 3 8 11" stroke-dashoffset="130" transform="matrix(1,0,0,0.900,0,50.12)"/>
<use href="#a5" fill="none" stroke="#2e2e2e" stroke-width="1.0" stroke-dasharray="4 7 6 16 7 15" stroke-dashoffset="93" transform="matrix(1,0,0,0.629,0,162.30)"/>
<use href="#a5" fill="none" stroke="#959595" stroke-width="0.9" stroke-dasharray="19 5 20 9 14 11" stroke-dashoffset="34" transform="matrix(1,0,0,0.132,0,368.50)"/>
<use href="#a5" fill="none" stroke="#4e4e4e" stroke-width="0.8" stroke-dasharray="3 8 22 6 13 9" stroke-dashoffset="145" transform="matrix(1,0,0,0.383,0,264.25)"/>
<use href="#a5" fill="none" stroke="#949494" stroke-width="0.7" stroke-dasharray="22 5 4 5 9 15" stroke-dashoffset="111" transform="matrix(1,0,0,0.720,0,125.00)"/>
<use href="#a5" fill="none" stroke="#919191" stroke-width="0.6" stroke-dasharray="4 19 19 12 10 20" stroke-dashoffset="77" transform="matrix(1,0,0,0.005,0,420.92)"/>
<use href="#a5" fill="none" stroke="#555555" stroke-width="0.7" stroke-dasharray="5 12 15 8 16 3" stroke-dashoffset="89" transform="matrix(1,0,0,0.938,0,34.34)"/>
<use href="#a5" fill="none" stroke="#555555" stroke-width="0.6" stroke-dasharray="12 4 12 5 5 4" stroke-dashoffset="90" transform="matrix(1,0,0,0.925,0,39.92)"/>
<use href="#a5" fill="none" stroke="#979797" stroke-width="0.8" stroke-dasharray="7 13 5 15 8 8" stroke-dashoffset="6" transform="matrix(1,0,0,0.149,0,361.35)"/>
<use href="#a5" fill="none" stroke="#474747" stroke-width="0.5" stroke-dasharray="21 16 17 4 5 6" stroke-dashoffset="53" transform="matrix(1,0,0,0.576,0,184.25)"/>
<use href="#a5" fill="none" stroke="#5c5c5c" stroke-width="0.7" stroke-dasharray="9 21 10 7 10 22" stroke-dashoffset="183" transform="matrix(1,0,0,0.802,0,90.83)"/>
<use href="#a5" fill="none" stroke="#5a5a5a" stroke-width="0.6" stroke-dasharray="8 10 19 19 15 19" stroke-dashoffset="155" transform="matrix(1,0,0,0.159,0,357.14)"/>
<use href="#a5" fill="none" stroke="#535353" stroke-width="0.6" stroke-dasharray="10 16 18 22 8 8" stroke-dashoffset="40" transform="matrix(1,0,0,0.695,0,134.99)"/>
<use href="#a5" fill="none" stroke="#717171" stroke-width="0.6" stroke-dasharray="14 20 10 21 4 13" stroke-dashoffset="93" transform="matrix(1,0,0,0.772,0,103.15)"/>
<use href="#a5" fill="none" stroke="#282828" stroke-width="1.0" stroke-dasharray="18 3 20 17 17 15" stroke-dashoffset="61" transform="matrix(1,0,0,0.035,0,408.69)"/>
<use href="#a5" fill="none" stroke="#848484" stroke-width="0.6" stroke-dasharray="22 4 5 5 4 15" stroke-dashoffset="72" transform="matrix(1,0,0,0.523,0,206.37)"/>
<use href="#a5" fill="none" stroke="#292929" stroke-width="0.6" stroke-dasharray="9 11 17 8 17 8" stroke-dashoffset="116" transform="matrix(1,0,0,0.501,0,215.72)"/>
<use href="#a5" fill="none" stroke="#6e6e6e" stroke-width="0.6" stroke-dasharray="11 9 8 4 9 14" stroke-dashoffset="78" transform="matrix(1,0,0,0.683,0,140.19)"/>
<use href="#a5" fill="none" stroke="#383838" stroke-width="0.9" stroke-dasharray="4 7 19 10 5 20" stroke-dashoffset="190" transform="matrix(1,0,0,0.820,0,83.37)"/>
<use href="#a5" fill="none" stroke="#9d9d9d" stroke-width="1.0" stroke-dasharray="11 15 12 9 13 10" stroke-dashoffset="141" transform="matrix(1,0,0,0.610,0,170.41)"/>
<use href="#a5" fill="none" stroke="#5f5f5f" stroke-width="0.7" stroke-dasharray="6 11 6 21 20 10" stroke-dashoffset="119" transform="matrix(1,0,0,0.384,0,263.95)"/>
<use href="#a5" fill="none" stroke="#616161" stroke-width="0.6" stroke-dasharray="11 20 16 11 10 15" stroke-dashoffset="200" transform="matrix(1,0,0,0.028,0,411.33)"/>
<use href="#a5" fill="none" stroke="#585858" stroke-width="0.9" stroke-dasharray="8 22 10 7 4 3" stroke-dashoffset="194" transform="matrix(1,0,0,0.313,0,293.44)"/>
<use href="#a5" fill="none" stroke="#5f5f5f" stroke-width="0.9" stroke-dasharray="12 6 14 7 11 19" stroke-dashoffset="18" transform="matrix(1,0,0,0.946,0,31.11)"/>
<use href="#a5" fill="none" stroke="#7b7b7b" stroke-width="0.8" stroke-dasharray="9 6 4 13 16 11" stroke-dashoffset="83" transform="matrix(1,0,0,0.631,0,161.60)"/>
<use href="#a5" fill="none" stroke="#666666" stroke-width="0.5" stroke-dasharray="11 20 3 8 17 7" stroke-dashoffset="9" transform="matrix(1,0,0,0.352,0,277.12)"/>
<use href="#a5" fill="none" stroke="#979797" stroke-width="0.6" stroke-dasharray="11 6 22 5 21 4" stroke-dashoffset="125" transform="matrix(1,0,0,0.935,0,35.61)"/>
<use href="#a5" fill="none" stroke="#6d6d6d" stroke-width="0.5" stroke-dasharray="19 10 22 11 11 8" stroke-dashoffset="81" transform="matrix(1,0,0,0.469,0,228.78)"/>
<use href="#a5" fill="none" stroke="#a7a7a7" stroke-width="0.9" stroke-dasharray="19 20 17 14 20 5" stroke-dashoffset="135" transform="matrix(1,0,0,0.122,0,372.63)"/>
<use href="#a5" fill="none" stroke="#6e6e6e" stroke-width="0.7" stroke-dasharray="6 13 4 6 5 13" stroke-dashoffset="64" transform="matrix(1,0,0,0.324,0,288.64)"/>
<use href="#a5" fill="none" stroke="#535353" stroke-width="0.8" stroke-dasharray="14 3 20 8 7 17" stroke-dashoffset="186" transform="matrix(1,0,0,0.980,0,17.26)"/>
<use href="#a5" fill="none" stroke="#747474" stroke-width="0.6" stroke-dasharray="9 14 19 8 12 11" stroke-dashoffset="53" transform="matrix(1,0,0,0.645,0,155.69)"/>
<use href="#a5" fill="none" stroke="#606060" stroke-width="1.0" stroke-dasharray="20 14 17 21 9 14" stroke-dashoffset="72" transform="matrix(1,0,0,0.719,0,125.25)"/>
<use href="#a5" fill="none" stroke="#666666" stroke-width="0.8" stroke-dasharray="10 18 21 7 20 14" stroke-dashoffset="59" transform="matrix(1,0,0,0.515,0,209.70)"/>
<use href="#a5" fill="none" stroke="#888888" stroke-width="0.8" stroke-dasharray="10 12 10 21 12 21" stroke-dashoffset="19" transform="matrix(1,0,0,0.278,0,307.79)"/>
<use href="#a5" fill="none" stroke="#4b4b4b" stroke-width="0.8" stroke-dasharray="7 12 5 22 20 9" stroke-dashoffset="168" transform="matrix(1,0,0,0.342,0,281.42)"/>
<use href="#a5" fill="none" stroke="#555555" stroke-width="0.7" stroke-dasharray="14 10 15 4 3 12" stroke-dashoffset="156" transform="matrix(1,0,0,0.425,0,246.83)"/>
<use href="#a5" fill="none" stroke="#565656" stroke-width="0.7" stroke-dasharray="3 19 8 22 5 15" stroke-dashoffset="126" transform="matrix(1,0,0,0.872,0,61.91)"/>
<use href="#a5" fill="none" stroke="#8c8c8c" stroke-width="0.9" stroke-dasharray="5 11 13 17 16 14" stroke-dashoffset="186" transform="matrix(1,0,0,0.744,0,114.96)"/>
<use href="#a5" fill="none" stroke="#7c7c7c" stroke-width="0.9" stroke-dasharray="20 19 8 3 18 12" stroke-dashoffset="164" transform="matrix(1,0,0,0.254,0,317.69)"/>
<use href="#a5" fill="none" stroke="#505050" stroke-width="0.6" stroke-dasharray="6 15 4 15 15 21" stroke-dashoffset="9" transform="matrix(1,0,0,0.896,0,51.72)"/>
<use href="#a5" fill="none" stroke="#525252" stroke-width="0.7" stroke-dasharray="7 14 10 6 18 5" stroke-dashoffset="95" transform="matrix(1,0,0,0.747,0,113.79)"/>
<use href="#a5" fill="none" stroke="#888888" stroke-width="0.9" stroke-dasharray="7 22 12 22 15 10" stroke-dashoffset="87" transform="matrix(1,0,0,0.584,0,181.28)"/>
<use href="#a5" fill="none" stroke="#787878" stroke-width="0.5" stroke-dasharray="11 16 7 13 11 12" stroke-dashoffset="100" transform="matrix(1,0,0,0.217,0,333.27)"/>
<use href="#a5" fill="none" stroke="#585858" stroke-width="0.9" stroke-dasharray="11 19 20 9 18 22" stroke-dashoffset="164" transform="matrix(1,0,0,0.289,0,303.24)"/>
<use href="#a5" fill="none" stroke="#474747" stroke-width="0.5" stroke-dasharray="13 6 20 17 9 16" stroke-dashoffset="145" transform="matrix(1,0,0,0.424,0,247.48)"/>
<use href="#a5" fill="none" stroke="#8a8a8a" stroke-width="0.8" stroke-dasharray="10 20 16 9 9 20" stroke-dashoffset="187" transform="matrix(1,0,0,0.442,0,240.14)"/>
<use href="#a5" fill="none" stroke="#7c7c7c" stroke-width="1.0" stroke-dasharray="21 14 22 6 11 6" stroke-dashoffset="165" transform="matrix(1,0,0,0.978,0,18.17)"/>
<use href="#a5" fill="none" stroke="#292929" stroke-width="0.8" stroke-dasharray="9 9 15 4 9 12" stroke-dashoffset="166" transform="matrix(1,0,0,0.440,0,240.67)"/>
<use href="#a5" fill="none" stroke="#7c7c7c" stroke-width="1.0" stroke-dasharray="11 12 7 3 11 10" stroke-dashoffset="34" transform="matrix(1,0,0,0.950,0,29.44)"/>
<use href="#a5" fill="none" stroke="#a1a1a1" stroke-width="0.8" stroke-dasharray="16 20 16 16 21 5" stroke-dashoffset="92" transform="matrix(1,0,0,0.570,0,186.74)"/>
<use href="#a5" fill="none" stroke="#3b3b3b" stroke-width="0.8" stroke-dasharray="10 12 4 20 16 15" stroke-dashoffset="70" transform="matrix(1,0,0,0.994,0,11.23)"/>
<use href="#a5" fill="none" stroke="#717171" stroke-width="0.9" stroke-dasharray="19 4 4 4 20 15" stroke-dashoffset="85" transform="matrix(1,0,0,0.756,0,110.02)"/>
<use href="#a5" fill="none" stroke="#292929" stroke-width="0.5" stroke-dasharray="10 4 6 17 7 8" stroke-dashoffset="109" transform="matrix(1,0,0,0.126,0,370.83)"/>
<use href="#a5" fill="none" stroke="#9f9f9f" stroke-width="1.0" stroke-dasharray="8 8 13 11 5 20" stroke-dashoffset="25" transform="matrix(1,0,0,0.056,0,399.86)"/>
<use href="#a5" fill="none" stroke="#838383" stroke-width="0.5" stroke-dasharray="9 7 8 5 22 12" stroke-dashoffset="187" transform="matrix(1,0,0,0.357,0,275.03)"/>
<use href="#a5" fill="none" stroke="#434343" stroke-width="0.8" stroke-dasharray="16 10 16 12 10 4" stroke-dashoffset="150" transform="matrix(1,0,0,0.637,0,159.20)"/>
<use href="#a5" fill="none" stroke="#292929" stroke-width="0.6" stroke-dasharray="21 11 4 17 22 17" stroke-dashoffset="140" transform="matrix(1,0,0,0.351,0,277.75)"/>
<use href="#a5" fill="none" stroke="#7c7c7c" stroke-width="0.7" stroke-dasharray="22 20 21 10 11 17" stroke-dashoffset="77" transform="matrix(1,0,0,0.245,0,321.57)"/>
<use href="#a5" fill="none" stroke="#6b6b6b" stroke-width="0.5" stroke-dasharray="4 5 11 11 5 17" stroke-dashoffset="22" transform="matrix(1,0,0,0.159,0,357.16)"/>
<use href="#a5" fill="none" stroke="#8e8e8e" stroke-width="0.5" stroke-dasharray="9 6 14 22 6 8" stroke-dashoffset="157" transform="matrix(1,0,0,0.989,0,13.23)"/>
<use href="#a5" fill="none" stroke="#636363" stroke-width="1.0" stroke-dasharray="10 11 8 15 22 4" stroke-dashoffset="127" transform="matrix(1,0,0,0.534,0,202.05)"/>
<use href="#a5" fill="none" stroke="#474747" stroke-width="0.6" stroke-dasharray="16 21 10 7 16 20" stroke-dashoffset="7" transform="matrix(1,0,0,0.280,0,306.89)"/>
<use href="#a5" fill="none" stroke="#646464" stroke-width="0.9" stroke-dasharray="4 17 10 22 10 6" stroke-dashoffset="54" transform="matrix(1,0,0,0.712,0,128.25)"/>
<use href="#a5" fill="none" stroke="#8d8d8d" stroke-width="0.7" stroke-dasharray="11 12 12 18 12 21" stroke-dashoffset="86" transform="matrix(1,0,0,0.320,0,290.55)"/>
<use href="#a5" fill="none" stroke="#8c8c8c" stroke-width="0.6" stroke-dasharray="14 20 22 16 17 6" stroke-dashoffset="93" transform="matrix(1,0,0,0.583,0,181.68)"/>
<use href="#a5" fill="none" stroke="#707070" stroke-width="1.0" stroke-dasharray="14 11 13 8 14 19" stroke-dashoffset="197" transform="matrix(1,0,0,0.594,0,176.79)"/>
<use href="#a5" fill="none" stroke="#a2a2a2" stroke-width="0.9" stroke-dasharray="16 19 9 4 8 17" stroke-dashoffset="106" transform="matrix(1,0,0,0.726,0,122.38)"/>
<use href="#a5" fill="none" stroke="#464646" stroke-width="0.9" stroke-dasharray="16 16 15 15 8 5" stroke-dashoffset="15" transform="matrix(1,0,0,0.665,0,147.39)"/>
<use href="#a5" fill="none" stroke="#7d7d7d" stroke-width="1.0" stroke-dasharray="14 4 9 20 9 17" stroke-dashoffset="192" transform="matrix(1,0,0,0.931,0,37.38)"/>
<use href="#a5" fill="none" stroke="#838383" stroke-width="0.8" stroke-dasharray="18 17 8 18 5 21" stroke-dashoffset="149" transform="matrix(1,0,0,0.996,0,10.64)"/>
<use href="#a5" fill="none" stroke="#585858" stroke-width="0.9" stroke-dasharray="4 15 7 17 11 17" stroke-dashoffset="114" transform="matrix(1,0,0,0.910,0,46.16)"/>
<use href="#a5" fill="none" stroke="#565656" stroke-width="0.7" stroke-dasharray="14 20 21 21 20 5" stroke-dashoffset="139" transform="matrix(1,0,0,0.204,0,338.50)"/>
<use href="#a5" fill="none" stroke="#a0a0a0" stroke-width="0.8" stroke-dasharray="21 14 4 11 7 4" stroke-dashoffset="0" transform="matrix(1,0,0,0.848,0,71.80)"/>
<use href="#a5" fill="none" stroke="#a7a7a7" stroke-width="0.6" stroke-dasharray="17 7 6 16 11 18" stroke-dashoffset="5" transform="matrix(1,0,0,0.580,0,182.94)"/>
<use href="#a5" fill="none" stroke="#494949" stroke-width="1.0" stroke-dasharray="15 20 16 18 9 6" stroke-dashoffset="23" transform="matrix(1,0,0,0.243,0,322.43)"/>
<use href="#a5" fill="none" stroke="#a8a8a8" stroke-width="0.6" stroke-dasharray="19 7 21 21 20 17" stroke-dashoffset="46" transform="matrix(1,0,0,0.352,0,277.41)"/>
<use href="#a5" fill="none" stroke="#343434" stroke-width="0.5" stroke-dasharray="5 8 17 16 21 7" stroke-dashoffset="9" transform="matrix(1,0,0,0.546,0,196.97)"/>
<use href="#a5" fill="none" stroke="#3d3d3d" stroke-width="0.8" stroke-dasharray="12 9 14 13 17 15" stroke-dashoffset="88" transform="matrix(1,0,0,0.426,0,246.37)"/>
<use href="#a5" fill="none" stroke="#393939" stroke-width="0.5" stroke-dasharray="18 3 15 11 14 20" stroke-dashoffset="76" transform="matrix(1,0,0,0.344,0,280.54)"/>
<use href="#a5" fill="none" stroke="#828282" stroke-width="0.8" stroke-dasharray="20 7 11 15 20 14" stroke-dashoffset="55" transform="matrix(1,0,0,0.563,0,189.89)"/>
<use href="#a5" fill="none" stroke="#868686" stroke-width="0.9" stroke-dasharray="18 11 15 7 6 5" stroke-dashoffset="23" transform="matrix(1,0,0,0.838,0,76.00)"/>
<use href="#a5" fill="none" stroke="#8c8c8c" stroke-width="0.6" stroke-dasharray="19 11 4 8 4 14" stroke-dashoffset="91" transform="matrix(1,0,0,0.999,0,9.12)"/>
<use href="#a5" fill="none" stroke="#3b3b3b" stroke-width="0.8" stroke-dasharray="12 22 7 10 11 14" stroke-dashoffset="119" transform="matrix(1,0,0,0.805,0,89.56)"/>
<rect x="202.1" y="416.4" width="162.70" height="146.40" filter="url(#streakD)" opacity="0.3"/><rect x="202.1" y="416.4" width="162.70" height="146.40" filter="url(#streakL)" opacity="0.1"/>
</g>
<rect x="202.1" y="416.4" width="162.70" height="1.00" fill="#9a9a9a"/>
<rect x="202.1" y="417.4" width="162.70" height="1.30" fill="#1e1e1e"/>
<rect x="202.1" y="418.7" width="162.70" height="4.00" fill="#505050"/>
<use href="#a5" fill="none" stroke="#a0a0a0" stroke-width="1.4"/>
<use href="#pf5" fill="#181818"/>
<g clip-path="url(#c5pw)">
<use href="#pf5" fill="#707070" transform="matrix(1,0,0,0.500,0,284.18)"/>
<use href="#pf5" fill="#161616" transform="matrix(1,0,0,0.450,0,312.21)"/>
<use href="#pf5" fill="#9a9a9a" transform="matrix(1,0,0,0.300,0,397.31)"/>
<use href="#pf5" fill="#bcbcbc" transform="matrix(1,0,0,0.250,0,425.34)"/>
<use href="#p5" fill="none" stroke="#363636" stroke-width="1.0" stroke-dasharray="49 59 30 89 15 30" stroke-dashoffset="162" transform="matrix(1,0,0,0.947,0,27.95)"/>
<use href="#p5" fill="none" stroke="#757575" stroke-width="0.8" stroke-dasharray="57 40 22 81 83 74" stroke-dashoffset="56" transform="matrix(1,0,0,0.878,0,71.79)"/>
<use href="#p5" fill="none" stroke="#717171" stroke-width="1.0" stroke-dasharray="65 23 74 17 74 56" stroke-dashoffset="49" transform="matrix(1,0,0,0.991,0,-0.11)"/>
<use href="#p5" fill="none" stroke="#5f5f5f" stroke-width="0.8" stroke-dasharray="41 80 42 41 88 21" stroke-dashoffset="85" transform="matrix(1,0,0,0.805,0,118.80)"/>
<use href="#p5" fill="none" stroke="#575757" stroke-width="0.6" stroke-dasharray="35 37 45 15 67 71" stroke-dashoffset="83" transform="matrix(1,0,0,0.866,0,79.94)"/>
<use href="#p5" fill="none" stroke="#606060" stroke-width="0.9" stroke-dasharray="89 35 25 82 33 82" stroke-dashoffset="59" transform="matrix(1,0,0,0.837,0,97.93)"/>
<use href="#p5" fill="none" stroke="#7e7e7e" stroke-width="0.9" stroke-dasharray="41 90 75 37 88 60" stroke-dashoffset="33" transform="matrix(1,0,0,0.912,0,50.55)"/>
<use href="#p5" fill="none" stroke="#515151" stroke-width="0.8" stroke-dasharray="56 89 40 78 44 70" stroke-dashoffset="152" transform="matrix(1,0,0,0.903,0,55.89)"/>
<use href="#p5" fill="none" stroke="#676767" stroke-width="0.6" stroke-dasharray="85 82 54 58 39 50" stroke-dashoffset="63" transform="matrix(1,0,0,0.972,0,12.33)"/>
<use href="#p5" fill="none" stroke="#202020" stroke-width="0.7" stroke-dasharray="27 43 42 48 65 28" stroke-dashoffset="46" transform="matrix(1,0,0,0.780,0,134.73)"/>
<use href="#p5" fill="none" stroke="#a3a3a3" stroke-width="0.6" stroke-dasharray="64 38 39 45 83 87" stroke-dashoffset="81" transform="matrix(1,0,0,0.823,0,106.85)"/>
<use href="#p5" fill="none" stroke="#2e2e2e" stroke-width="0.5" stroke-dasharray="78 82 74 65 16 83" stroke-dashoffset="17" transform="matrix(1,0,0,0.855,0,86.85)"/>
<use href="#p5" fill="none" stroke="#727272" stroke-width="0.6" stroke-dasharray="17 50 52 20 66 56" stroke-dashoffset="159" transform="matrix(1,0,0,0.738,0,161.22)"/>
<use href="#p5" fill="none" stroke="#333333" stroke-width="0.5" stroke-dasharray="51 34 18 34 17 47" stroke-dashoffset="91" transform="matrix(1,0,0,0.970,0,13.76)"/>
<use href="#p5" fill="none" stroke="#5c5c5c" stroke-width="0.7" stroke-dasharray="34 51 85 84 75 71" stroke-dashoffset="168" transform="matrix(1,0,0,0.932,0,37.81)"/>
<use href="#p5" fill="none" stroke="#787878" stroke-width="0.8" stroke-dasharray="68 26 48 89 19 44" stroke-dashoffset="196" transform="matrix(1,0,0,0.712,0,178.20)"/>
<use href="#p5" fill="none" stroke="#555555" stroke-width="0.6" stroke-dasharray="43 17 42 37 78 22" stroke-dashoffset="173" transform="matrix(1,0,0,0.772,0,139.60)"/>
<use href="#p5" fill="none" stroke="#939393" stroke-width="0.6" stroke-dasharray="83 35 54 67 69 58" stroke-dashoffset="189" transform="matrix(1,0,0,0.792,0,126.65)"/>
<use href="#p5" fill="none" stroke="#959595" stroke-width="0.8" stroke-dasharray="37 24 38 88 30 84" stroke-dashoffset="197" transform="matrix(1,0,0,0.782,0,133.18)"/>
<use href="#p5" fill="none" stroke="#858585" stroke-width="0.6" stroke-dasharray="43 63 17 32 40 71" stroke-dashoffset="11" transform="matrix(1,0,0,0.998,0,-4.38)"/>
<use href="#p5" fill="none" stroke="#2d2d2d" stroke-width="0.8" stroke-dasharray="20 74 76 32 60 84" stroke-dashoffset="48" transform="matrix(1,0,0,0.706,0,181.76)"/>
<use href="#p5" fill="none" stroke="#505050" stroke-width="0.8" stroke-dasharray="29 42 79 45 26 88" stroke-dashoffset="84" transform="matrix(1,0,0,0.942,0,31.29)"/>
<use href="#p5" fill="none" stroke="#232323" stroke-width="0.7" stroke-dasharray="46 51 29 34 82 29" stroke-dashoffset="37" transform="matrix(1,0,0,0.764,0,145.02)"/>
<use href="#p5" fill="none" stroke="#454545" stroke-width="0.8" stroke-dasharray="38 47 78 57 61 43" stroke-dashoffset="191" transform="matrix(1,0,0,0.773,0,139.05)"/>
<use href="#p5" fill="none" stroke="#656565" stroke-width="0.9" stroke-dasharray="32 55 74 58 37 71" stroke-dashoffset="91" transform="matrix(1,0,0,0.874,0,74.71)"/>
<use href="#p5" fill="none" stroke="#484848" stroke-width="0.7" stroke-dasharray="25 64 31 17 26 52" stroke-dashoffset="91" transform="matrix(1,0,0,1.000,0,-5.40)"/>
<use href="#p5" fill="none" stroke="#353535" stroke-width="0.5" stroke-dasharray="19 36 43 39 31 41" stroke-dashoffset="96" transform="matrix(1,0,0,0.793,0,126.47)"/>
<use href="#p5" fill="none" stroke="#464646" stroke-width="0.6" stroke-dasharray="34 27 73 46 21 58" stroke-dashoffset="50" transform="matrix(1,0,0,0.712,0,178.01)"/>
<use href="#p5" fill="none" stroke="#898989" stroke-width="0.8" stroke-dasharray="35 41 40 31 83 86" stroke-dashoffset="48" transform="matrix(1,0,0,0.834,0,100.16)"/>
<use href="#p5" fill="none" stroke="#383838" stroke-width="0.7" stroke-dasharray="87 82 27 47 84 61" stroke-dashoffset="18" transform="matrix(1,0,0,0.948,0,27.49)"/>
<use href="#p5" fill="none" stroke="#505050" stroke-width="0.8" stroke-dasharray="37 62 84 75 81 80" stroke-dashoffset="185" transform="matrix(1,0,0,0.708,0,180.74)"/>
<use href="#p5" fill="none" stroke="#7c7c7c" stroke-width="0.9" stroke-dasharray="48 71 27 61 84 43" stroke-dashoffset="168" transform="matrix(1,0,0,0.792,0,127.10)"/>
<use href="#p5" fill="none" stroke="#959595" stroke-width="0.7" stroke-dasharray="62 15 33 45 50 54" stroke-dashoffset="26" transform="matrix(1,0,0,0.780,0,134.35)"/>
<use href="#p5" fill="none" stroke="#a0a0a0" stroke-width="0.9" stroke-dasharray="19 84 23 64 82 34" stroke-dashoffset="71" transform="matrix(1,0,0,0.836,0,98.75)"/>
<use href="#p5" fill="none" stroke="#6c6c6c" stroke-width="0.6" stroke-dasharray="22 40 34 73 51 88" stroke-dashoffset="56" transform="matrix(1,0,0,0.865,0,80.21)"/>
<use href="#p5" fill="none" stroke="#4d4d4d" stroke-width="0.9" stroke-dasharray="53 52 50 70 17 16" stroke-dashoffset="33" transform="matrix(1,0,0,0.994,0,-1.57)"/>
<use href="#p5" fill="none" stroke="#4b4b4b" stroke-width="0.5" stroke-dasharray="17 18 84 84 45 87" stroke-dashoffset="139" transform="matrix(1,0,0,0.911,0,51.19)"/>
<use href="#p5" fill="none" stroke="#6d6d6d" stroke-width="0.7" stroke-dasharray="19 16 72 61 21 30" stroke-dashoffset="152" transform="matrix(1,0,0,0.794,0,125.64)"/>
<use href="#p5" fill="none" stroke="#a7a7a7" stroke-width="0.9" stroke-dasharray="29 65 17 29 63 77" stroke-dashoffset="184" transform="matrix(1,0,0,0.755,0,150.20)"/>
<use href="#p5" fill="none" stroke="#7c7c7c" stroke-width="0.7" stroke-dasharray="52 31 44 51 69 89" stroke-dashoffset="39" transform="matrix(1,0,0,0.961,0,19.19)"/>
<use href="#p5" fill="none" stroke="#2c2c2c" stroke-width="0.7" stroke-dasharray="34 81 34 26 70 42" stroke-dashoffset="115" transform="matrix(1,0,0,0.936,0,35.30)"/>
<use href="#p5" fill="none" stroke="#1e1e1e" stroke-width="1.0" stroke-dasharray="24 55 45 84 54 82" stroke-dashoffset="161" transform="matrix(1,0,0,0.785,0,131.31)"/>
<use href="#p5" fill="none" stroke="#424242" stroke-width="0.7" stroke-dasharray="76 68 28 89 15 22" stroke-dashoffset="142" transform="matrix(1,0,0,0.990,0,1.02)"/>
<use href="#p5" fill="none" stroke="#2e2e2e" stroke-width="0.9" stroke-dasharray="77 90 48 78 23 60" stroke-dashoffset="159" transform="matrix(1,0,0,0.966,0,15.99)"/>
<use href="#p5" fill="none" stroke="#676767" stroke-width="0.6" stroke-dasharray="40 39 65 18 26 38" stroke-dashoffset="124" transform="matrix(1,0,0,0.718,0,173.86)"/>
<use href="#p5" fill="none" stroke="#404040" stroke-width="0.9" stroke-dasharray="58 18 71 19 90 66" stroke-dashoffset="21" transform="matrix(1,0,0,0.993,0,-1.18)"/>
<use href="#p5" fill="none" stroke="#a9a9a9" stroke-width="0.7" stroke-dasharray="63 34 88 75 87 44" stroke-dashoffset="9" transform="matrix(1,0,0,0.855,0,86.83)"/>
<use href="#p5" fill="none" stroke="#676767" stroke-width="0.7" stroke-dasharray="75 26 44 36 41 81" stroke-dashoffset="164" transform="matrix(1,0,0,0.982,0,5.92)"/>
<use href="#p5" fill="none" stroke="#9c9c9c" stroke-width="1.0" stroke-dasharray="82 51 84 32 48 52" stroke-dashoffset="157" transform="matrix(1,0,0,0.903,0,56.12)"/>
<use href="#p5" fill="none" stroke="#757575" stroke-width="0.9" stroke-dasharray="77 48 38 64 63 18" stroke-dashoffset="3" transform="matrix(1,0,0,0.999,0,-4.96)"/>
<use href="#p5" fill="none" stroke="#595959" stroke-width="0.9" stroke-dasharray="67 57 15 18 34 50" stroke-dashoffset="142" transform="matrix(1,0,0,0.774,0,138.65)"/>
<use href="#p5" fill="none" stroke="#9e9e9e" stroke-width="0.8" stroke-dasharray="71 65 40 21 25 30" stroke-dashoffset="75" transform="matrix(1,0,0,0.745,0,156.90)"/>
<use href="#p5" fill="none" stroke="#8e8e8e" stroke-width="0.9" stroke-dasharray="55 21 28 68 74 46" stroke-dashoffset="104" transform="matrix(1,0,0,0.757,0,149.17)"/>
<use href="#p5" fill="none" stroke="#747474" stroke-width="0.9" stroke-dasharray="34 76 39 62 37 35" stroke-dashoffset="27" transform="matrix(1,0,0,0.785,0,131.15)"/>
<use href="#p5" fill="none" stroke="#979797" stroke-width="1.0" stroke-dasharray="53 47 54 76 21 47" stroke-dashoffset="47" transform="matrix(1,0,0,0.814,0,112.82)"/>
<use href="#p5" fill="none" stroke="#454545" stroke-width="0.6" stroke-dasharray="73 39 83 84 73 81" stroke-dashoffset="124" transform="matrix(1,0,0,0.980,0,6.91)"/>
<use href="#p5" fill="none" stroke="#a7a7a7" stroke-width="0.6" stroke-dasharray="51 83 40 79 87 79" stroke-dashoffset="196" transform="matrix(1,0,0,0.826,0,105.16)"/>
<use href="#p5" fill="none" stroke="#848484" stroke-width="0.8" stroke-dasharray="35 78 52 33 28 75" stroke-dashoffset="198" transform="matrix(1,0,0,0.818,0,110.64)"/>
<use href="#p5" fill="none" stroke="#2c2c2c" stroke-width="0.9" stroke-dasharray="90 88 62 51 70 61" stroke-dashoffset="79" transform="matrix(1,0,0,0.803,0,119.75)"/>
<use href="#p5" fill="none" stroke="#4e4e4e" stroke-width="0.8" stroke-dasharray="69 23 42 17 51 22" stroke-dashoffset="24" transform="matrix(1,0,0,0.902,0,56.80)"/>
<use href="#p5" fill="none" stroke="#a2a2a2" stroke-width="0.6" stroke-dasharray="74 26 25 52 87 55" stroke-dashoffset="170" transform="matrix(1,0,0,0.720,0,172.63)"/>
<use href="#p5" fill="none" stroke="#363636" stroke-width="1.0" stroke-dasharray="41 83 66 81 50 86" stroke-dashoffset="151" transform="matrix(1,0,0,0.909,0,52.12)"/>
<use href="#p5" fill="none" stroke="#262626" stroke-width="0.6" stroke-dasharray="68 55 75 64 59 63" stroke-dashoffset="151" transform="matrix(1,0,0,0.864,0,81.08)"/>
<use href="#p5" fill="none" stroke="#a0a0a0" stroke-width="0.7" stroke-dasharray="39 27 62 55 32 67" stroke-dashoffset="181" transform="matrix(1,0,0,0.842,0,94.99)"/>
<use href="#p5" fill="none" stroke="#777777" stroke-width="0.5" stroke-dasharray="16 73 81 72 32 58" stroke-dashoffset="160" transform="matrix(1,0,0,0.710,0,179.15)"/>
<use href="#p5" fill="none" stroke="#969696" stroke-width="0.8" stroke-dasharray="23 21 24 48 45 66" stroke-dashoffset="176" transform="matrix(1,0,0,0.820,0,109.27)"/>
<use href="#p5" fill="none" stroke="#505050" stroke-width="0.8" stroke-dasharray="45 67 49 29 51 82" stroke-dashoffset="90" transform="matrix(1,0,0,0.987,0,2.89)"/>
<use href="#p5" fill="none" stroke="#777777" stroke-width="0.8" stroke-dasharray="41 32 68 33 87 42" stroke-dashoffset="52" transform="matrix(1,0,0,0.875,0,73.91)"/>
<use href="#p5" fill="none" stroke="#737373" stroke-width="0.8" stroke-dasharray="72 51 77 16 90 15" stroke-dashoffset="156" transform="matrix(1,0,0,0.778,0,135.95)"/>
<use href="#p5" fill="none" stroke="#a1a1a1" stroke-width="0.5" stroke-dasharray="23 60 76 37 89 58" stroke-dashoffset="180" transform="matrix(1,0,0,0.911,0,51.04)"/>
<use href="#p5" fill="none" stroke="#303030" stroke-width="0.8" stroke-dasharray="33 80 37 35 16 38" stroke-dashoffset="127" transform="matrix(1,0,0,0.816,0,111.36)"/>
<use href="#p5" fill="none" stroke="#7f7f7f" stroke-width="0.6" stroke-dasharray="47 48 67 71 31 53" stroke-dashoffset="35" transform="matrix(1,0,0,0.975,0,10.03)"/>
<use href="#p5" fill="none" stroke="#474747" stroke-width="0.9" stroke-dasharray="86 54 48 66 84 78" stroke-dashoffset="197" transform="matrix(1,0,0,0.715,0,176.23)"/>
<use href="#p5" fill="none" stroke="#626262" stroke-width="0.8" stroke-dasharray="22 79 84 51 87 64" stroke-dashoffset="22" transform="matrix(1,0,0,0.755,0,150.59)"/>
<use href="#p5" fill="none" stroke="#696969" stroke-width="1.0" stroke-dasharray="39 35 67 65 39 53" stroke-dashoffset="34" transform="matrix(1,0,0,0.871,0,76.46)"/>
<use href="#p5" fill="none" stroke="#626262" stroke-width="0.8" stroke-dasharray="49 15 45 32 40 48" stroke-dashoffset="63" transform="matrix(1,0,0,0.817,0,111.16)"/>
<use href="#p5" fill="none" stroke="#717171" stroke-width="0.7" stroke-dasharray="82 52 38 52 57 19" stroke-dashoffset="92" transform="matrix(1,0,0,0.806,0,117.81)"/>
<use href="#p5" fill="none" stroke="#272727" stroke-width="0.8" stroke-dasharray="54 74 41 43 41 60" stroke-dashoffset="117" transform="matrix(1,0,0,0.724,0,170.24)"/>
<use href="#p5" fill="none" stroke="#7c7c7c" stroke-width="0.6" stroke-dasharray="37 55 30 25 22 85" stroke-dashoffset="134" transform="matrix(1,0,0,0.782,0,133.16)"/>
<use href="#p5" fill="none" stroke="#484848" stroke-width="0.7" stroke-dasharray="63 69 49 24 31 58" stroke-dashoffset="19" transform="matrix(1,0,0,0.708,0,180.63)"/>
<use href="#p5" fill="none" stroke="#7d7d7d" stroke-width="0.6" stroke-dasharray="22 87 84 80 56 52" stroke-dashoffset="111" transform="matrix(1,0,0,0.945,0,29.69)"/>
<use href="#p5" fill="none" stroke="#5f5f5f" stroke-width="0.7" stroke-dasharray="54 84 83 64 74 18" stroke-dashoffset="109" transform="matrix(1,0,0,0.934,0,36.54)"/>
<use href="#p5" fill="none" stroke="#838383" stroke-width="0.7" stroke-dasharray="26 75 46 24 36 21" stroke-dashoffset="162" transform="matrix(1,0,0,0.855,0,86.73)"/>
<use href="#p5" fill="none" stroke="#202020" stroke-width="0.9" stroke-dasharray="55 66 16 69 17 56" stroke-dashoffset="132" transform="matrix(1,0,0,0.957,0,21.87)"/>
<use href="#p5" fill="none" stroke="#6e6e6e" stroke-width="0.9" stroke-dasharray="41 46 45 85 24 21" stroke-dashoffset="183" transform="matrix(1,0,0,0.784,0,131.88)"/>
<use href="#p5" fill="none" stroke="#5b5b5b" stroke-width="1.2" stroke-dasharray="19 4 13 18 12 12" stroke-dashoffset="155" transform="matrix(1,0,0,0.200,0,458.03)"/>
<use href="#p5" fill="none" stroke="#949494" stroke-width="1.1" stroke-dasharray="13 16 20 10 10 18" stroke-dashoffset="62" transform="matrix(1,0,0,0.200,0,455.42)"/>
<use href="#p5" fill="none" stroke="#4e4e4e" stroke-width="0.9" stroke-dasharray="19 14 13 17 5 9" stroke-dashoffset="127" transform="matrix(1,0,0,0.200,0,452.95)"/>
<use href="#p5" fill="none" stroke="#cccccc" stroke-width="1.7" stroke-dasharray="17 13 13 18 3 3" stroke-dashoffset="122" transform="matrix(1,0,0,0.200,0,455.23)"/>
<use href="#p5" fill="none" stroke="#6b6b6b" stroke-width="1.6" stroke-dasharray="8 3 15 13 7 17" stroke-dashoffset="5" transform="matrix(1,0,0,0.200,0,447.96)"/>
<use href="#p5" fill="none" stroke="#d5d5d5" stroke-width="1.3" stroke-dasharray="13 20 7 7 16 20" stroke-dashoffset="6" transform="matrix(1,0,0,0.200,0,458.31)"/>
<use href="#p5" fill="none" stroke="#858585" stroke-width="1.9" stroke-dasharray="17 3 10 17 14 4" stroke-dashoffset="23" transform="matrix(1,0,0,0.200,0,453.60)"/>
<use href="#p5" fill="none" stroke="#eeeeee" stroke-width="0.7" stroke-dasharray="19 18 15 20 4 4" stroke-dashoffset="192" transform="matrix(1,0,0,0.200,0,450.34)"/>
<use href="#p5" fill="none" stroke="#565656" stroke-width="1.0" stroke-dasharray="7 12 5 16 8 8" stroke-dashoffset="133" transform="matrix(1,0,0,0.200,0,450.90)"/>
<use href="#p5" fill="none" stroke="#d6d6d6" stroke-width="1.0" stroke-dasharray="12 6 3 11 17 3" stroke-dashoffset="87" transform="matrix(1,0,0,0.200,0,451.67)"/>
<use href="#p5" fill="none" stroke="#f1f1f1" stroke-width="1.6" stroke-dasharray="13 10 15 19 19 10" stroke-dashoffset="26" transform="matrix(1,0,0,0.200,0,452.44)"/>
<use href="#p5" fill="none" stroke="#777777" stroke-width="1.2" stroke-dasharray="15 13 3 20 11 6" stroke-dashoffset="82" transform="matrix(1,0,0,0.200,0,456.48)"/>
<use href="#p5" fill="none" stroke="#565656" stroke-width="0.8" stroke-dasharray="3 8 6 8 3 10" stroke-dashoffset="124" transform="matrix(1,0,0,0.200,0,456.34)"/>
<use href="#p5" fill="none" stroke="#c3c3c3" stroke-width="1.6" stroke-dasharray="12 9 18 13 17 7" stroke-dashoffset="142" transform="matrix(1,0,0,0.200,0,453.81)"/>
<use href="#p5" fill="none" stroke="#5a5a5a" stroke-width="1.1" stroke-dasharray="9 19 5 18 6 18" stroke-dashoffset="42" transform="matrix(1,0,0,0.200,0,456.42)"/>
<use href="#p5" fill="none" stroke="#5d5d5d" stroke-width="1.7" stroke-dasharray="7 18 19 10 10 7" stroke-dashoffset="184" transform="matrix(1,0,0,0.200,0,458.86)"/>
<use href="#p5" fill="none" stroke="#535353" stroke-width="1.8" stroke-dasharray="8 12 16 19 5 17" stroke-dashoffset="115" transform="matrix(1,0,0,0.200,0,460.07)"/>
<use href="#p5" fill="none" stroke="#999999" stroke-width="0.8" stroke-dasharray="7 11 4 14 4 11" stroke-dashoffset="146" transform="matrix(1,0,0,0.200,0,451.40)"/>
<use href="#p5" fill="none" stroke="#adadad" stroke-width="1.0" stroke-dasharray="17 12 12 13 20 13" stroke-dashoffset="48" transform="matrix(1,0,0,0.200,0,450.81)"/>
<use href="#p5" fill="none" stroke="#a9a9a9" stroke-width="2.0" stroke-dasharray="6 3 8 11 18 17" stroke-dashoffset="20" transform="matrix(1,0,0,0.200,0,449.06)"/>
<use href="#p5" fill="none" stroke="#989898" stroke-width="1.7" stroke-dasharray="11 3 9 18 5 8" stroke-dashoffset="22" transform="matrix(1,0,0,0.200,0,451.38)"/>
<use href="#p5" fill="none" stroke="#838383" stroke-width="0.7" stroke-dasharray="19 11 19 10 17 19" stroke-dashoffset="61" transform="matrix(1,0,0,0.200,0,448.41)"/>
<use href="#p5" fill="none" stroke="#4c4c4c" stroke-width="1.4" stroke-dasharray="4 6 7 8 9 18" stroke-dashoffset="106" transform="matrix(1,0,0,0.200,0,451.10)"/>
<use href="#p5" fill="none" stroke="#4c4c4c" stroke-width="0.7" stroke-dasharray="19 3 5 12 20 11" stroke-dashoffset="17" transform="matrix(1,0,0,0.200,0,453.32)"/>
<use href="#p5" fill="none" stroke="#d2d2d2" stroke-width="1.9" stroke-dasharray="8 20 8 5 13 3" stroke-dashoffset="7" transform="matrix(1,0,0,0.200,0,459.60)"/>
<use href="#p5" fill="none" stroke="#747474" stroke-width="1.5" stroke-dasharray="17 20 12 11 9 16" stroke-dashoffset="33" transform="matrix(1,0,0,0.200,0,456.22)"/>
<use href="#p5" fill="none" stroke="#8a8a8a" stroke-width="1.2" stroke-dasharray="16 16 14 18 15 5" stroke-dashoffset="188" transform="matrix(1,0,0,0.200,0,460.01)"/>
<use href="#p5" fill="none" stroke="#999999" stroke-width="1.8" stroke-dasharray="8 4 8 3 13 13" stroke-dashoffset="100" transform="matrix(1,0,0,0.200,0,456.95)"/>
<use href="#p5" fill="none" stroke="#868686" stroke-width="0.7" stroke-dasharray="19 10 15 8 13 6" stroke-dashoffset="171" transform="matrix(1,0,0,0.200,0,449.41)"/>
<use href="#p5" fill="none" stroke="#cacaca" stroke-width="2.0" stroke-dasharray="19 16 4 15 20 17" stroke-dashoffset="179" transform="matrix(1,0,0,0.200,0,455.53)"/>
<use href="#p5" fill="none" stroke="#646464" stroke-width="0.9" stroke-dasharray="14 19 18 4 3 15" stroke-dashoffset="155" transform="matrix(1,0,0,0.200,0,452.10)"/>
<use href="#p5" fill="none" stroke="#c0c0c0" stroke-width="0.7" stroke-dasharray="11 13 13 8 5 4" stroke-dashoffset="175" transform="matrix(1,0,0,0.200,0,460.51)"/>
<use href="#p5" fill="none" stroke="#b4b4b4" stroke-width="1.1" stroke-dasharray="19 18 3 15 13 6" stroke-dashoffset="130" transform="matrix(1,0,0,0.200,0,448.93)"/>
<use href="#p5" fill="none" stroke="#4c4c4c" stroke-width="1.8" stroke-dasharray="13 6 6 13 5 5" stroke-dashoffset="147" transform="matrix(1,0,0,0.200,0,452.41)"/>
<use href="#p5" fill="none" stroke="#626262" stroke-width="1.6" stroke-dasharray="13 4 17 3 3 15" stroke-dashoffset="136" transform="matrix(1,0,0,0.200,0,460.29)"/>
<use href="#p5" fill="none" stroke="#464646" stroke-width="2.0" stroke-dasharray="9 15 14 11 12 6" stroke-dashoffset="182" transform="matrix(1,0,0,0.200,0,456.02)"/>
<use href="#p5" fill="none" stroke="#878787" stroke-width="1.9" stroke-dasharray="20 14 14 16 20 14" stroke-dashoffset="116" transform="matrix(1,0,0,0.200,0,449.20)"/>
<use href="#p5" fill="none" stroke="#888888" stroke-width="1.1" stroke-dasharray="6 16 3 20 13 16" stroke-dashoffset="112" transform="matrix(1,0,0,0.200,0,457.27)"/>
<use href="#p5" fill="none" stroke="#555555" stroke-width="1.3" stroke-dasharray="12 13 15 3 20 3" stroke-dashoffset="161" transform="matrix(1,0,0,0.200,0,456.27)"/>
<use href="#p5" fill="none" stroke="#555555" stroke-width="1.9" stroke-dasharray="18 9 14 13 10 6" stroke-dashoffset="149" transform="matrix(1,0,0,0.200,0,455.78)"/>
<use href="#p5" fill="none" stroke="#c8c8c8" stroke-width="0.7" stroke-dasharray="17 8 3 10 6 6" stroke-dashoffset="153" transform="matrix(1,0,0,0.200,0,448.52)"/>
<use href="#p5" fill="none" stroke="#cecece" stroke-width="1.4" stroke-dasharray="4 7 6 20 5 18" stroke-dashoffset="136" transform="matrix(1,0,0,0.200,0,460.26)"/>
<use href="#p5" fill="none" stroke="#4a4a4a" stroke-width="1.0" stroke-dasharray="4 14 18 10 12 11" stroke-dashoffset="76" transform="matrix(1,0,0,0.200,0,456.70)"/>
<use href="#p5" fill="none" stroke="#d3d3d3" stroke-width="1.0" stroke-dasharray="5 18 11 7 5 16" stroke-dashoffset="22" transform="matrix(1,0,0,0.200,0,455.91)"/>
<use href="#p5" fill="none" stroke="#f0f0f0" stroke-width="1.2" stroke-dasharray="12 7 5 12 19 9" stroke-dashoffset="91" transform="matrix(1,0,0,0.200,0,451.32)"/>
<use href="#p5" fill="none" stroke="#5f5f5f" stroke-width="1.4" stroke-dasharray="11 7 13 5 12 17" stroke-dashoffset="184" transform="matrix(1,0,0,0.200,0,460.57)"/>
<use href="#p5" fill="none" stroke="#595959" stroke-width="0.8" stroke-dasharray="12 20 10 5 10 8" stroke-dashoffset="199" transform="matrix(1,0,0,0.200,0,460.77)"/>
<use href="#p5" fill="none" stroke="#cfcfcf" stroke-width="0.7" stroke-dasharray="17 7 5 12 3 12" stroke-dashoffset="200" transform="matrix(1,0,0,0.200,0,456.18)"/>
<use href="#p5" fill="none" stroke="#404040" stroke-width="0.8" stroke-dasharray="17 7 12 20 12 9" stroke-dashoffset="157" transform="matrix(1,0,0,0.200,0,454.49)"/>
<use href="#p5" fill="none" stroke="#5f5f5f" stroke-width="1.2" stroke-dasharray="17 19 18 6 3 20" stroke-dashoffset="98" transform="matrix(1,0,0,0.200,0,450.94)"/>
</g>
</g>
<path d="M278.5,468V504" stroke="#e8e8e8" stroke-width="1.4"/>
<path d="M305.4,453V514" stroke="#e8e8e8" stroke-width="1.4"/>
<text x="244.47" y="493.5" font-size="15" fill="#f4f4f4" textLength="49.65" lengthAdjust="spacingAndGlyphs">LVESD</text>
<text x="307.77" y="493.5" font-size="15" fill="#f4f4f4" textLength="49.75" lengthAdjust="spacingAndGlyphs">LVEDD</text>
<text x="91.93" y="46.2" font-size="17.2">Control</text>
<text x="222.32" y="46.4" font-size="17.2">VEGFR-1 TK</text>
<text x="324.83" y="39.4" font-size="17.2">-/-</text>
<text transform="translate(32,126) rotate(-90)" font-size="17.2" text-anchor="middle">D0</text>
<text transform="translate(32,302.4) rotate(-90)" font-size="17.2" text-anchor="middle">D6</text>
<text transform="translate(32,492) rotate(-90)" font-size="17.2" text-anchor="middle">D14</text>
<g class="thin"><line x1="452.70" y1="148.50" x2="452.70" y2="140.40" stroke="#000" stroke-width="1.4"/>
<line x1="446.00" y1="140.40" x2="459.40" y2="140.40" stroke="#000" stroke-width="1.5"/>
<rect x="440.70" y="149.20" width="24.00" height="118.50" fill="#fff" stroke="#222" stroke-width="1.4"/>
<line x1="481.30" y1="117.60" x2="481.30" y2="108.60" stroke="#000" stroke-width="1.4"/>
<line x1="474.60" y1="108.60" x2="488.00" y2="108.60" stroke="#000" stroke-width="1.5"/>
<rect x="469.00" y="118.30" width="24.60" height="149.40" fill="#fff" stroke="#222" stroke-width="1.4"/>
<line x1="509.85" y1="120.30" x2="509.85" y2="111.60" stroke="#000" stroke-width="1.4"/>
<line x1="503.15" y1="111.60" x2="516.55" y2="111.60" stroke="#000" stroke-width="1.5"/>
<rect x="497.70" y="121.00" width="24.30" height="146.70" fill="#fff" stroke="#222" stroke-width="1.4"/>
<line x1="560.00" y1="128.90" x2="560.00" y2="123.50" stroke="#000" stroke-width="1.6"/>
<line x1="553.30" y1="123.50" x2="566.70" y2="123.50" stroke="#000" stroke-width="1.6"/>
<rect x="547.20" y="128.90" width="25.60" height="138.10" fill="#000" stroke="none" stroke-width="0"/>
<line x1="588.45" y1="140.10" x2="588.45" y2="126.70" stroke="#000" stroke-width="1.6"/>
<line x1="581.75" y1="126.70" x2="595.15" y2="126.70" stroke="#000" stroke-width="1.6"/>
<rect x="575.60" y="140.10" width="25.70" height="126.90" fill="#000" stroke="none" stroke-width="0"/>
<line x1="616.90" y1="127.00" x2="616.90" y2="109.30" stroke="#000" stroke-width="1.6"/>
<line x1="610.20" y1="109.30" x2="623.60" y2="109.30" stroke="#000" stroke-width="1.6"/>
<rect x="604.00" y="127.00" width="25.80" height="140.00" fill="#000" stroke="none" stroke-width="0"/>
<line x1="434.00" y1="95.70" x2="434.00" y2="267.75" stroke="#222" stroke-width="1.6"/>
<line x1="433.20" y1="267.00" x2="637.00" y2="267.00" stroke="#111" stroke-width="1.5"/>
<line x1="428.50" y1="267.00" x2="434.00" y2="267.00" stroke="#111" stroke-width="1.1"/>
<text x="428.20" y="273.10" font-size="17.2" text-anchor="end" fill="#000" >0</text>
<line x1="428.50" y1="224.30" x2="434.00" y2="224.30" stroke="#111" stroke-width="1.1"/>
<text x="428.20" y="230.40" font-size="17.2" text-anchor="end" fill="#000" >20</text>
<line x1="428.50" y1="181.60" x2="434.00" y2="181.60" stroke="#111" stroke-width="1.1"/>
<text x="428.20" y="187.70" font-size="17.2" text-anchor="end" fill="#000" >40</text>
<line x1="428.50" y1="138.90" x2="434.00" y2="138.90" stroke="#111" stroke-width="1.1"/>
<text x="428.20" y="145.00" font-size="17.2" text-anchor="end" fill="#000" >60</text>
<line x1="428.50" y1="96.20" x2="434.00" y2="96.20" stroke="#111" stroke-width="1.1"/>
<text x="428.20" y="102.30" font-size="17.2" text-anchor="end" fill="#000" >80</text>
<line x1="452.50" y1="267.00" x2="452.50" y2="272.00" stroke="#111" stroke-width="1.4"/>
<line x1="481.20" y1="267.00" x2="481.20" y2="272.00" stroke="#111" stroke-width="1.4"/>
<line x1="509.70" y1="267.00" x2="509.70" y2="272.00" stroke="#111" stroke-width="1.4"/>
<line x1="559.20" y1="267.00" x2="559.20" y2="272.00" stroke="#111" stroke-width="1.4"/>
<line x1="588.10" y1="267.00" x2="588.10" y2="272.00" stroke="#111" stroke-width="1.4"/>
<line x1="616.50" y1="267.00" x2="616.50" y2="272.00" stroke="#111" stroke-width="1.4"/>
<text x="452.50" y="287.20" font-size="17.2" text-anchor="middle" fill="#000" >0</text>
<text x="481.20" y="287.20" font-size="17.2" text-anchor="middle" fill="#000" >6</text>
<text x="509.70" y="287.20" font-size="17.2" text-anchor="middle" fill="#000" >14</text>
<text x="559.20" y="287.20" font-size="17.2" text-anchor="middle" fill="#000" >0</text>
<text x="588.10" y="287.20" font-size="17.2" text-anchor="middle" fill="#000" >6</text>
<text x="616.50" y="287.20" font-size="17.2" text-anchor="middle" fill="#000" >14</text>
<text transform="translate(399.70,199.64) rotate(-90)" font-size="17.6" textLength="41.87">EF %</text>
<line x1="739.35" y1="168.60" x2="739.35" y2="166.60" stroke="#000" stroke-width="1.4"/>
<line x1="732.65" y1="166.60" x2="746.05" y2="166.60" stroke="#000" stroke-width="1.5"/>
<rect x="727.70" y="169.30" width="23.30" height="98.00" fill="#fff" stroke="#222" stroke-width="1.4"/>
<line x1="767.60" y1="139.20" x2="767.60" y2="134.40" stroke="#000" stroke-width="1.4"/>
<line x1="760.90" y1="134.40" x2="774.30" y2="134.40" stroke="#000" stroke-width="1.5"/>
<rect x="756.00" y="139.90" width="23.20" height="127.40" fill="#fff" stroke="#222" stroke-width="1.4"/>
<line x1="796.00" y1="146.40" x2="796.00" y2="140.40" stroke="#000" stroke-width="1.4"/>
<line x1="789.30" y1="140.40" x2="802.70" y2="140.40" stroke="#000" stroke-width="1.5"/>
<rect x="784.10" y="147.10" width="23.80" height="120.20" fill="#fff" stroke="#222" stroke-width="1.4"/>
<line x1="846.00" y1="157.50" x2="846.00" y2="153.70" stroke="#000" stroke-width="1.6"/>
<line x1="839.30" y1="153.70" x2="852.70" y2="153.70" stroke="#000" stroke-width="1.6"/>
<rect x="833.30" y="157.50" width="25.40" height="109.10" fill="#000" stroke="none" stroke-width="0"/>
<line x1="874.80" y1="155.30" x2="874.80" y2="150.50" stroke="#000" stroke-width="1.6"/>
<line x1="868.10" y1="150.50" x2="881.50" y2="150.50" stroke="#000" stroke-width="1.6"/>
<rect x="862.10" y="155.30" width="25.40" height="111.30" fill="#000" stroke="none" stroke-width="0"/>
<line x1="903.50" y1="135.40" x2="903.50" y2="128.50" stroke="#000" stroke-width="1.6"/>
<line x1="896.80" y1="128.50" x2="910.20" y2="128.50" stroke="#000" stroke-width="1.6"/>
<rect x="890.70" y="135.40" width="25.60" height="131.20" fill="#000" stroke="none" stroke-width="0"/>
<line x1="719.80" y1="95.00" x2="719.80" y2="267.35" stroke="#222" stroke-width="1.6"/>
<line x1="719.00" y1="266.60" x2="923.10" y2="266.60" stroke="#111" stroke-width="1.5"/>
<line x1="714.30" y1="266.60" x2="719.80" y2="266.60" stroke="#111" stroke-width="1.1"/>
<text x="714.00" y="272.70" font-size="17.2" text-anchor="end" fill="#000" >0.0</text>
<line x1="714.30" y1="232.38" x2="719.80" y2="232.38" stroke="#111" stroke-width="1.1"/>
<text x="714.00" y="238.48" font-size="17.2" text-anchor="end" fill="#000" >0.5</text>
<line x1="714.30" y1="198.16" x2="719.80" y2="198.16" stroke="#111" stroke-width="1.1"/>
<text x="714.00" y="204.26" font-size="17.2" text-anchor="end" fill="#000" >1.0</text>
<line x1="714.30" y1="163.94" x2="719.80" y2="163.94" stroke="#111" stroke-width="1.1"/>
<text x="714.00" y="170.04" font-size="17.2" text-anchor="end" fill="#000" >1.5</text>
<line x1="714.30" y1="129.72" x2="719.80" y2="129.72" stroke="#111" stroke-width="1.1"/>
<text x="714.00" y="135.82" font-size="17.2" text-anchor="end" fill="#000" >2.0</text>
<line x1="714.30" y1="95.50" x2="719.80" y2="95.50" stroke="#111" stroke-width="1.1"/>
<text x="714.00" y="101.60" font-size="17.2" text-anchor="end" fill="#000" >2.5</text>
<line x1="738.90" y1="266.60" x2="738.90" y2="271.60" stroke="#111" stroke-width="1.4"/>
<line x1="767.50" y1="266.60" x2="767.50" y2="271.60" stroke="#111" stroke-width="1.4"/>
<line x1="796.10" y1="266.60" x2="796.10" y2="271.60" stroke="#111" stroke-width="1.4"/>
<line x1="845.80" y1="266.60" x2="845.80" y2="271.60" stroke="#111" stroke-width="1.4"/>
<line x1="874.40" y1="266.60" x2="874.40" y2="271.60" stroke="#111" stroke-width="1.4"/>
<line x1="903.00" y1="266.60" x2="903.00" y2="271.60" stroke="#111" stroke-width="1.4"/>
<text x="738.90" y="286.80" font-size="17.2" text-anchor="middle" fill="#000" >0</text>
<text x="767.50" y="286.80" font-size="17.2" text-anchor="middle" fill="#000" >6</text>
<text x="796.10" y="286.80" font-size="17.2" text-anchor="middle" fill="#000" >14</text>
<text x="845.80" y="286.80" font-size="17.2" text-anchor="middle" fill="#000" >0</text>
<text x="874.40" y="286.80" font-size="17.2" text-anchor="middle" fill="#000" >6</text>
<text x="903.00" y="286.80" font-size="17.2" text-anchor="middle" fill="#000" >14</text>
<text transform="translate(680.90,231.34) rotate(-90)" font-size="17.6" textLength="107.64">LVAW;s (mm)</text>
<line x1="737.60" y1="99.10" x2="807.20" y2="99.10" stroke="#000" stroke-width="2.1"/>
<text x="773.30" y="100.70" font-size="20" text-anchor="middle" letter-spacing="1.5">**</text>
<line x1="737.60" y1="123.30" x2="767.40" y2="123.30" stroke="#000" stroke-width="2.1"/>
<text x="753.30" y="124.90" font-size="20" text-anchor="middle" letter-spacing="1.5">**</text>
<line x1="846.40" y1="117.80" x2="902.80" y2="117.80" stroke="#000" stroke-width="2.1"/>
<text x="874.60" y="119.40" font-size="20" text-anchor="middle" letter-spacing="1.5">*</text>
<line x1="1020.85" y1="138.80" x2="1020.85" y2="132.70" stroke="#000" stroke-width="1.4"/>
<line x1="1014.15" y1="132.70" x2="1027.55" y2="132.70" stroke="#000" stroke-width="1.5"/>
<rect x="1009.20" y="139.50" width="23.30" height="127.80" fill="#fff" stroke="#222" stroke-width="1.4"/>
<line x1="1049.30" y1="182.90" x2="1049.30" y2="174.80" stroke="#000" stroke-width="1.4"/>
<line x1="1042.60" y1="174.80" x2="1056.00" y2="174.80" stroke="#000" stroke-width="1.5"/>
<rect x="1037.50" y="183.60" width="23.60" height="83.70" fill="#fff" stroke="#222" stroke-width="1.4"/>
<line x1="1078.00" y1="174.60" x2="1078.00" y2="164.50" stroke="#000" stroke-width="1.4"/>
<line x1="1071.30" y1="164.50" x2="1084.70" y2="164.50" stroke="#000" stroke-width="1.5"/>
<rect x="1066.10" y="175.30" width="23.80" height="92.00" fill="#fff" stroke="#222" stroke-width="1.4"/>
<line x1="1128.20" y1="146.00" x2="1128.20" y2="141.20" stroke="#000" stroke-width="1.6"/>
<line x1="1121.50" y1="141.20" x2="1134.90" y2="141.20" stroke="#000" stroke-width="1.6"/>
<rect x="1115.50" y="146.00" width="25.40" height="120.60" fill="#000" stroke="none" stroke-width="0"/>
<line x1="1157.00" y1="153.60" x2="1157.00" y2="139.40" stroke="#000" stroke-width="1.6"/>
<line x1="1150.30" y1="139.40" x2="1163.70" y2="139.40" stroke="#000" stroke-width="1.6"/>
<rect x="1144.30" y="153.60" width="25.40" height="113.00" fill="#000" stroke="none" stroke-width="0"/>
<line x1="1185.75" y1="164.10" x2="1185.75" y2="142.40" stroke="#000" stroke-width="1.6"/>
<line x1="1179.05" y1="142.40" x2="1192.45" y2="142.40" stroke="#000" stroke-width="1.6"/>
<rect x="1173.10" y="164.10" width="25.30" height="102.50" fill="#000" stroke="none" stroke-width="0"/>
<line x1="1001.80" y1="95.00" x2="1001.80" y2="267.35" stroke="#222" stroke-width="1.6"/>
<line x1="1001.00" y1="266.60" x2="1205.20" y2="266.60" stroke="#111" stroke-width="1.5"/>
<line x1="996.30" y1="266.60" x2="1001.80" y2="266.60" stroke="#111" stroke-width="1.1"/>
<text x="996.00" y="272.70" font-size="17.2" text-anchor="end" fill="#000" >0</text>
<line x1="996.30" y1="223.83" x2="1001.80" y2="223.83" stroke="#111" stroke-width="1.1"/>
<text x="996.00" y="229.93" font-size="17.2" text-anchor="end" fill="#000" >1</text>
<line x1="996.30" y1="181.05" x2="1001.80" y2="181.05" stroke="#111" stroke-width="1.1"/>
<text x="996.00" y="187.15" font-size="17.2" text-anchor="end" fill="#000" >2</text>
<line x1="996.30" y1="138.28" x2="1001.80" y2="138.28" stroke="#111" stroke-width="1.1"/>
<text x="996.00" y="144.38" font-size="17.2" text-anchor="end" fill="#000" >3</text>
<line x1="996.30" y1="95.50" x2="1001.80" y2="95.50" stroke="#111" stroke-width="1.1"/>
<text x="996.00" y="101.60" font-size="17.2" text-anchor="end" fill="#000" >4</text>
<line x1="1020.70" y1="266.60" x2="1020.70" y2="271.60" stroke="#111" stroke-width="1.4"/>
<line x1="1049.50" y1="266.60" x2="1049.50" y2="271.60" stroke="#111" stroke-width="1.4"/>
<line x1="1078.50" y1="266.60" x2="1078.50" y2="271.60" stroke="#111" stroke-width="1.4"/>
<line x1="1127.90" y1="266.60" x2="1127.90" y2="271.60" stroke="#111" stroke-width="1.4"/>
<line x1="1156.70" y1="266.60" x2="1156.70" y2="271.60" stroke="#111" stroke-width="1.4"/>
<line x1="1185.20" y1="266.60" x2="1185.20" y2="271.60" stroke="#111" stroke-width="1.4"/>
<text x="1020.70" y="286.80" font-size="17.2" text-anchor="middle" fill="#000" >0</text>
<text x="1049.50" y="286.80" font-size="17.2" text-anchor="middle" fill="#000" >6</text>
<text x="1078.50" y="286.80" font-size="17.2" text-anchor="middle" fill="#000" >14</text>
<text x="1127.90" y="286.80" font-size="17.2" text-anchor="middle" fill="#000" >0</text>
<text x="1156.70" y="286.80" font-size="17.2" text-anchor="middle" fill="#000" >6</text>
<text x="1185.20" y="286.80" font-size="17.2" text-anchor="middle" fill="#000" >14</text>
<text transform="translate(977.00,229.34) rotate(-90)" font-size="17.6" textLength="102.64">LVESD (mm)</text>
<line x1="1021.50" y1="93.50" x2="1077.90" y2="93.50" stroke="#000" stroke-width="2.1"/>
<text x="1049.30" y="95.10" font-size="20" text-anchor="middle" letter-spacing="1.5">*</text>
<line x1="1021.50" y1="117.20" x2="1049.70" y2="117.20" stroke="#000" stroke-width="2.1"/>
<text x="1038.10" y="118.80" font-size="20" text-anchor="middle" letter-spacing="1.5">*</text>
<line x1="453.20" y1="441.10" x2="453.20" y2="438.90" stroke="#000" stroke-width="1.4"/>
<line x1="446.50" y1="438.90" x2="459.90" y2="438.90" stroke="#000" stroke-width="1.5"/>
<rect x="441.50" y="441.80" width="23.40" height="121.10" fill="#fff" stroke="#222" stroke-width="1.4"/>
<line x1="482.00" y1="469.70" x2="482.00" y2="465.60" stroke="#000" stroke-width="1.4"/>
<line x1="475.30" y1="465.60" x2="488.70" y2="465.60" stroke="#000" stroke-width="1.5"/>
<rect x="470.30" y="470.40" width="23.40" height="92.50" fill="#fff" stroke="#222" stroke-width="1.4"/>
<line x1="510.85" y1="463.50" x2="510.85" y2="457.00" stroke="#000" stroke-width="1.4"/>
<line x1="504.15" y1="457.00" x2="517.55" y2="457.00" stroke="#000" stroke-width="1.5"/>
<rect x="499.10" y="464.20" width="23.50" height="98.70" fill="#fff" stroke="#222" stroke-width="1.4"/>
<line x1="560.90" y1="436.60" x2="560.90" y2="434.30" stroke="#000" stroke-width="1.6"/>
<line x1="554.20" y1="434.30" x2="567.60" y2="434.30" stroke="#000" stroke-width="1.6"/>
<rect x="547.90" y="436.60" width="26.00" height="125.60" fill="#000" stroke="none" stroke-width="0"/>
<line x1="589.60" y1="452.30" x2="589.60" y2="445.50" stroke="#000" stroke-width="1.6"/>
<line x1="582.90" y1="445.50" x2="596.30" y2="445.50" stroke="#000" stroke-width="1.6"/>
<rect x="576.80" y="452.30" width="25.60" height="109.90" fill="#000" stroke="none" stroke-width="0"/>
<line x1="618.40" y1="455.30" x2="618.40" y2="445.00" stroke="#000" stroke-width="1.6"/>
<line x1="611.70" y1="445.00" x2="625.10" y2="445.00" stroke="#000" stroke-width="1.6"/>
<rect x="605.50" y="455.30" width="25.80" height="106.90" fill="#000" stroke="none" stroke-width="0"/>
<line x1="434.00" y1="389.60" x2="434.00" y2="562.95" stroke="#222" stroke-width="1.6"/>
<line x1="433.20" y1="562.20" x2="638.10" y2="562.20" stroke="#111" stroke-width="1.5"/>
<line x1="428.50" y1="562.20" x2="434.00" y2="562.20" stroke="#111" stroke-width="1.1"/>
<text x="428.20" y="568.30" font-size="17.2" text-anchor="end" fill="#000" >0</text>
<line x1="428.50" y1="504.83" x2="434.00" y2="504.83" stroke="#111" stroke-width="1.1"/>
<text x="428.20" y="510.93" font-size="17.2" text-anchor="end" fill="#000" >2</text>
<line x1="428.50" y1="447.47" x2="434.00" y2="447.47" stroke="#111" stroke-width="1.1"/>
<text x="428.20" y="453.57" font-size="17.2" text-anchor="end" fill="#000" >4</text>
<line x1="428.50" y1="390.10" x2="434.00" y2="390.10" stroke="#111" stroke-width="1.1"/>
<text x="428.20" y="396.20" font-size="17.2" text-anchor="end" fill="#000" >6</text>
<line x1="453.20" y1="562.20" x2="453.20" y2="567.20" stroke="#111" stroke-width="1.4"/>
<line x1="481.80" y1="562.20" x2="481.80" y2="567.20" stroke="#111" stroke-width="1.4"/>
<line x1="510.40" y1="562.20" x2="510.40" y2="567.20" stroke="#111" stroke-width="1.4"/>
<line x1="560.70" y1="562.20" x2="560.70" y2="567.20" stroke="#111" stroke-width="1.4"/>
<line x1="589.30" y1="562.20" x2="589.30" y2="567.20" stroke="#111" stroke-width="1.4"/>
<line x1="617.90" y1="562.20" x2="617.90" y2="567.20" stroke="#111" stroke-width="1.4"/>
<text x="453.20" y="582.40" font-size="17.2" text-anchor="middle" fill="#000" >0</text>
<text x="481.80" y="582.40" font-size="17.2" text-anchor="middle" fill="#000" >6</text>
<text x="510.40" y="582.40" font-size="17.2" text-anchor="middle" fill="#000" >14</text>
<text x="560.70" y="582.40" font-size="17.2" text-anchor="middle" fill="#000" >0</text>
<text x="589.30" y="582.40" font-size="17.2" text-anchor="middle" fill="#000" >6</text>
<text x="617.90" y="582.40" font-size="17.2" text-anchor="middle" fill="#000" >14</text>
<text transform="translate(409.10,524.04) rotate(-90)" font-size="17.6" textLength="103.84">LVEDD (mm)</text>
<line x1="452.50" y1="402.20" x2="507.80" y2="402.20" stroke="#000" stroke-width="2.1"/>
<text x="481.30" y="403.80" font-size="20" text-anchor="middle" letter-spacing="1.5">*</text>
<line x1="452.50" y1="424.80" x2="481.30" y2="424.80" stroke="#000" stroke-width="2.1"/>
<text x="470.20" y="426.40" font-size="20" text-anchor="middle" letter-spacing="1.5">*</text>
<line x1="738.90" y1="438.50" x2="738.90" y2="424.40" stroke="#000" stroke-width="1.4"/>
<line x1="732.20" y1="424.40" x2="745.60" y2="424.40" stroke="#000" stroke-width="1.5"/>
<rect x="727.50" y="439.20" width="22.80" height="123.70" fill="#fff" stroke="#222" stroke-width="1.4"/>
<line x1="766.90" y1="516.30" x2="766.90" y2="506.90" stroke="#000" stroke-width="1.4"/>
<line x1="760.20" y1="506.90" x2="773.60" y2="506.90" stroke="#000" stroke-width="1.5"/>
<rect x="755.30" y="517.00" width="23.20" height="45.90" fill="#fff" stroke="#222" stroke-width="1.4"/>
<line x1="795.60" y1="497.10" x2="795.60" y2="481.80" stroke="#000" stroke-width="1.4"/>
<line x1="788.90" y1="481.80" x2="802.30" y2="481.80" stroke="#000" stroke-width="1.5"/>
<rect x="783.70" y="497.80" width="23.80" height="65.10" fill="#fff" stroke="#222" stroke-width="1.4"/>
<line x1="845.30" y1="454.80" x2="845.30" y2="443.70" stroke="#000" stroke-width="1.6"/>
<line x1="838.60" y1="443.70" x2="852.00" y2="443.70" stroke="#000" stroke-width="1.6"/>
<rect x="832.60" y="454.80" width="25.40" height="107.40" fill="#000" stroke="none" stroke-width="0"/>
<line x1="873.95" y1="456.60" x2="873.95" y2="421.40" stroke="#000" stroke-width="1.6"/>
<line x1="867.25" y1="421.40" x2="880.65" y2="421.40" stroke="#000" stroke-width="1.6"/>
<rect x="861.00" y="456.60" width="25.90" height="105.60" fill="#000" stroke="none" stroke-width="0"/>
<line x1="902.30" y1="460.40" x2="902.30" y2="414.60" stroke="#000" stroke-width="1.6"/>
<line x1="895.60" y1="414.60" x2="909.00" y2="414.60" stroke="#000" stroke-width="1.6"/>
<rect x="889.50" y="460.40" width="25.60" height="101.80" fill="#000" stroke="none" stroke-width="0"/>
<line x1="719.80" y1="390.40" x2="719.80" y2="562.95" stroke="#222" stroke-width="1.6"/>
<line x1="719.00" y1="562.20" x2="922.00" y2="562.20" stroke="#111" stroke-width="1.5"/>
<line x1="714.30" y1="562.20" x2="719.80" y2="562.20" stroke="#111" stroke-width="1.1"/>
<text x="714.00" y="568.30" font-size="17.2" text-anchor="end" fill="#000" >0</text>
<line x1="714.30" y1="527.94" x2="719.80" y2="527.94" stroke="#111" stroke-width="1.1"/>
<text x="714.00" y="534.04" font-size="17.2" text-anchor="end" fill="#000" >10</text>
<line x1="714.30" y1="493.68" x2="719.80" y2="493.68" stroke="#111" stroke-width="1.1"/>
<text x="714.00" y="499.78" font-size="17.2" text-anchor="end" fill="#000" >20</text>
<line x1="714.30" y1="459.42" x2="719.80" y2="459.42" stroke="#111" stroke-width="1.1"/>
<text x="714.00" y="465.52" font-size="17.2" text-anchor="end" fill="#000" >30</text>
<line x1="714.30" y1="425.16" x2="719.80" y2="425.16" stroke="#111" stroke-width="1.1"/>
<text x="714.00" y="431.26" font-size="17.2" text-anchor="end" fill="#000" >40</text>
<line x1="714.30" y1="390.90" x2="719.80" y2="390.90" stroke="#111" stroke-width="1.1"/>
<text x="714.00" y="397.00" font-size="17.2" text-anchor="end" fill="#000" >50</text>
<line x1="738.90" y1="562.20" x2="738.90" y2="567.20" stroke="#111" stroke-width="1.4"/>
<line x1="767.10" y1="562.20" x2="767.10" y2="567.20" stroke="#111" stroke-width="1.4"/>
<line x1="795.70" y1="562.20" x2="795.70" y2="567.20" stroke="#111" stroke-width="1.4"/>
<line x1="845.30" y1="562.20" x2="845.30" y2="567.20" stroke="#111" stroke-width="1.4"/>
<line x1="873.90" y1="562.20" x2="873.90" y2="567.20" stroke="#111" stroke-width="1.4"/>
<line x1="902.00" y1="562.20" x2="902.00" y2="567.20" stroke="#111" stroke-width="1.4"/>
<text x="738.90" y="582.40" font-size="17.2" text-anchor="middle" fill="#000" >0</text>
<text x="767.10" y="582.40" font-size="17.2" text-anchor="middle" fill="#000" >6</text>
<text x="795.70" y="582.40" font-size="17.2" text-anchor="middle" fill="#000" >14</text>
<text x="845.30" y="582.40" font-size="17.2" text-anchor="middle" fill="#000" >0</text>
<text x="873.90" y="582.40" font-size="17.2" text-anchor="middle" fill="#000" >6</text>
<text x="902.00" y="582.40" font-size="17.2" text-anchor="middle" fill="#000" >14</text>
<text transform="translate(685.50,522.54) rotate(-90)" font-size="17.6" textLength="98.54">LV Vol;s (uL)</text>
<line x1="738.90" y1="385.70" x2="796.50" y2="385.70" stroke="#000" stroke-width="2.1"/>
<text x="767.30" y="387.30" font-size="20" text-anchor="middle" letter-spacing="1.5">*</text>
<line x1="738.90" y1="412.70" x2="766.70" y2="412.70" stroke="#000" stroke-width="2.1"/>
<text x="754.60" y="414.30" font-size="20" text-anchor="middle" letter-spacing="1.5">**</text>
<line x1="1020.10" y1="441.50" x2="1020.10" y2="440.00" stroke="#000" stroke-width="1.4"/>
<line x1="1013.40" y1="440.00" x2="1026.80" y2="440.00" stroke="#000" stroke-width="1.5"/>
<rect x="1008.30" y="442.20" width="23.60" height="121.60" fill="#fff" stroke="#222" stroke-width="1.4"/>
<line x1="1048.40" y1="430.80" x2="1048.40" y2="424.00" stroke="#000" stroke-width="1.4"/>
<line x1="1041.70" y1="424.00" x2="1055.10" y2="424.00" stroke="#000" stroke-width="1.5"/>
<rect x="1036.70" y="431.50" width="23.40" height="132.30" fill="#fff" stroke="#222" stroke-width="1.4"/>
<line x1="1077.00" y1="430.60" x2="1077.00" y2="427.30" stroke="#000" stroke-width="1.4"/>
<line x1="1070.30" y1="427.30" x2="1083.70" y2="427.30" stroke="#000" stroke-width="1.5"/>
<rect x="1065.20" y="431.30" width="23.60" height="132.50" fill="#fff" stroke="#222" stroke-width="1.4"/>
<line x1="1126.65" y1="422.70" x2="1126.65" y2="420.10" stroke="#000" stroke-width="1.6"/>
<line x1="1119.95" y1="420.10" x2="1133.35" y2="420.10" stroke="#000" stroke-width="1.6"/>
<rect x="1114.10" y="422.70" width="25.10" height="140.40" fill="#000" stroke="none" stroke-width="0"/>
<line x1="1155.10" y1="419.10" x2="1155.10" y2="416.10" stroke="#000" stroke-width="1.6"/>
<line x1="1148.40" y1="416.10" x2="1161.80" y2="416.10" stroke="#000" stroke-width="1.6"/>
<rect x="1142.40" y="419.10" width="25.40" height="144.00" fill="#000" stroke="none" stroke-width="0"/>
<line x1="1183.65" y1="433.70" x2="1183.65" y2="426.40" stroke="#000" stroke-width="1.6"/>
<line x1="1176.95" y1="426.40" x2="1190.35" y2="426.40" stroke="#000" stroke-width="1.6"/>
<rect x="1171.00" y="433.70" width="25.30" height="129.40" fill="#000" stroke="none" stroke-width="0"/>
<line x1="1000.80" y1="392.25" x2="1000.80" y2="563.85" stroke="#222" stroke-width="1.6"/>
<line x1="1000.00" y1="563.10" x2="1203.30" y2="563.10" stroke="#111" stroke-width="1.5"/>
<line x1="995.30" y1="563.10" x2="1000.80" y2="563.10" stroke="#111" stroke-width="1.1"/>
<text x="995.00" y="569.20" font-size="17.2" text-anchor="end" fill="#000" >0.0</text>
<line x1="995.30" y1="520.51" x2="1000.80" y2="520.51" stroke="#111" stroke-width="1.1"/>
<text x="995.00" y="526.61" font-size="17.2" text-anchor="end" fill="#000" >0.5</text>
<line x1="995.30" y1="477.93" x2="1000.80" y2="477.93" stroke="#111" stroke-width="1.1"/>
<text x="995.00" y="484.03" font-size="17.2" text-anchor="end" fill="#000" >1.0</text>
<line x1="995.30" y1="435.34" x2="1000.80" y2="435.34" stroke="#111" stroke-width="1.1"/>
<text x="995.00" y="441.44" font-size="17.2" text-anchor="end" fill="#000" >1.5</text>
<line x1="995.30" y1="392.75" x2="1000.80" y2="392.75" stroke="#111" stroke-width="1.1"/>
<text x="995.00" y="398.85" font-size="17.2" text-anchor="end" fill="#000" >2.0</text>
<line x1="1020.00" y1="563.10" x2="1020.00" y2="568.10" stroke="#111" stroke-width="1.4"/>
<line x1="1048.40" y1="563.10" x2="1048.40" y2="568.10" stroke="#111" stroke-width="1.4"/>
<line x1="1076.90" y1="563.10" x2="1076.90" y2="568.10" stroke="#111" stroke-width="1.4"/>
<line x1="1126.30" y1="563.10" x2="1126.30" y2="568.10" stroke="#111" stroke-width="1.4"/>
<line x1="1154.60" y1="563.10" x2="1154.60" y2="568.10" stroke="#111" stroke-width="1.4"/>
<line x1="1183.20" y1="563.10" x2="1183.20" y2="568.10" stroke="#111" stroke-width="1.4"/>
<text x="1020.00" y="583.30" font-size="17.2" text-anchor="middle" fill="#000" >0</text>
<text x="1048.40" y="583.30" font-size="17.2" text-anchor="middle" fill="#000" >6</text>
<text x="1076.90" y="583.30" font-size="17.2" text-anchor="middle" fill="#000" >14</text>
<text x="1126.30" y="583.30" font-size="17.2" text-anchor="middle" fill="#000" >0</text>
<text x="1154.60" y="583.30" font-size="17.2" text-anchor="middle" fill="#000" >6</text>
<text x="1183.20" y="583.30" font-size="17.2" text-anchor="middle" fill="#000" >14</text>
<text transform="translate(961.90,536.63) rotate(-90)" font-size="17.6" textLength="124.93">Aortic root (mm)</text>
<rect x="440.65" y="17.25" width="16.80" height="12.20" fill="#fff" stroke="#000" stroke-width="1.5"/>
<rect x="439.90" y="34.50" width="18.30" height="14.40" fill="#000" stroke="none" stroke-width="0"/>
<text x="466.62" y="29.60" font-size="17.4" text-anchor="start" fill="#000" >Control</text>
<text x="467.92" y="47.40" font-size="17.4" text-anchor="start" fill="#000" >VEGFR-1 TK</text>
<text x="571.70" y="40.40" font-size="17.4" text-anchor="start" fill="#000" >-/-</text>
<rect x="726.35" y="16.55" width="15.90" height="11.80" fill="#fff" stroke="#000" stroke-width="1.5"/>
<rect x="725.60" y="33.60" width="17.40" height="14.00" fill="#000" stroke="none" stroke-width="0"/>
<text x="752.22" y="28.60" font-size="17.4" text-anchor="start" fill="#000" >Control</text>
<text x="753.02" y="46.40" font-size="17.4" text-anchor="start" fill="#000" >VEGFR-1 TK</text>
<text x="856.80" y="39.40" font-size="17.4" text-anchor="start" fill="#000" >-/-</text>
<rect x="1012.25" y="16.35" width="16.00" height="12.00" fill="#fff" stroke="#000" stroke-width="1.5"/>
<rect x="1011.50" y="33.20" width="17.50" height="14.40" fill="#000" stroke="none" stroke-width="0"/>
<text x="1037.92" y="28.40" font-size="17.4" text-anchor="start" fill="#000" >Control</text>
<text x="1039.32" y="45.80" font-size="17.4" text-anchor="start" fill="#000" >VEGFR-1 TK</text>
<text x="1143.10" y="38.80" font-size="17.4" text-anchor="start" fill="#000" >-/-</text>
<rect x="436.85" y="314.25" width="16.10" height="12.30" fill="#fff" stroke="#000" stroke-width="1.5"/>
<rect x="436.10" y="331.50" width="17.60" height="14.30" fill="#000" stroke="none" stroke-width="0"/>
<text x="462.72" y="326.40" font-size="17.4" text-anchor="start" fill="#000" >Control</text>
<text x="464.02" y="344.00" font-size="17.4" text-anchor="start" fill="#000" >VEGFR-1 TK</text>
<text x="567.80" y="337.00" font-size="17.4" text-anchor="start" fill="#000" >-/-</text>
<rect x="724.55" y="314.75" width="16.10" height="12.00" fill="#fff" stroke="#000" stroke-width="1.5"/>
<rect x="723.80" y="332.00" width="17.60" height="13.80" fill="#000" stroke="none" stroke-width="0"/>
<text x="750.42" y="326.60" font-size="17.4" text-anchor="start" fill="#000" >Control</text>
<text x="751.62" y="344.00" font-size="17.4" text-anchor="start" fill="#000" >VEGFR-1 TK</text>
<text x="855.40" y="337.00" font-size="17.4" text-anchor="start" fill="#000" >-/-</text>
<rect x="1012.15" y="314.75" width="15.70" height="12.00" fill="#fff" stroke="#000" stroke-width="1.5"/>
<rect x="1011.40" y="332.00" width="17.20" height="13.80" fill="#000" stroke="none" stroke-width="0"/>
<text x="1037.92" y="326.60" font-size="17.4" text-anchor="start" fill="#000" >Control</text>
<text x="1039.32" y="344.00" font-size="17.4" text-anchor="start" fill="#000" >VEGFR-1 TK</text>
<text x="1143.10" y="337.00" font-size="17.4" text-anchor="start" fill="#000" >-/-</text>
<text x="19.23" y="40.30" font-size="34.6" text-anchor="start" fill="#000" >A</text>
<text x="387.06" y="39.90" font-size="34.6" text-anchor="start" fill="#000" >B</text>
<text x="660.44" y="39.60" font-size="34.6" text-anchor="start" fill="#000" >C</text>
<text x="955.66" y="39.90" font-size="34.6" text-anchor="start" fill="#000" >D</text>
<text x="383.96" y="337.70" font-size="34.6" text-anchor="start" fill="#000" >E</text>
<text x="671.86" y="338.10" font-size="34.6" text-anchor="start" fill="#000" >F</text>
<text x="939.16" y="337.80" font-size="34.6" text-anchor="start" fill="#000" >G</text></g>
</svg>
</body></html>
